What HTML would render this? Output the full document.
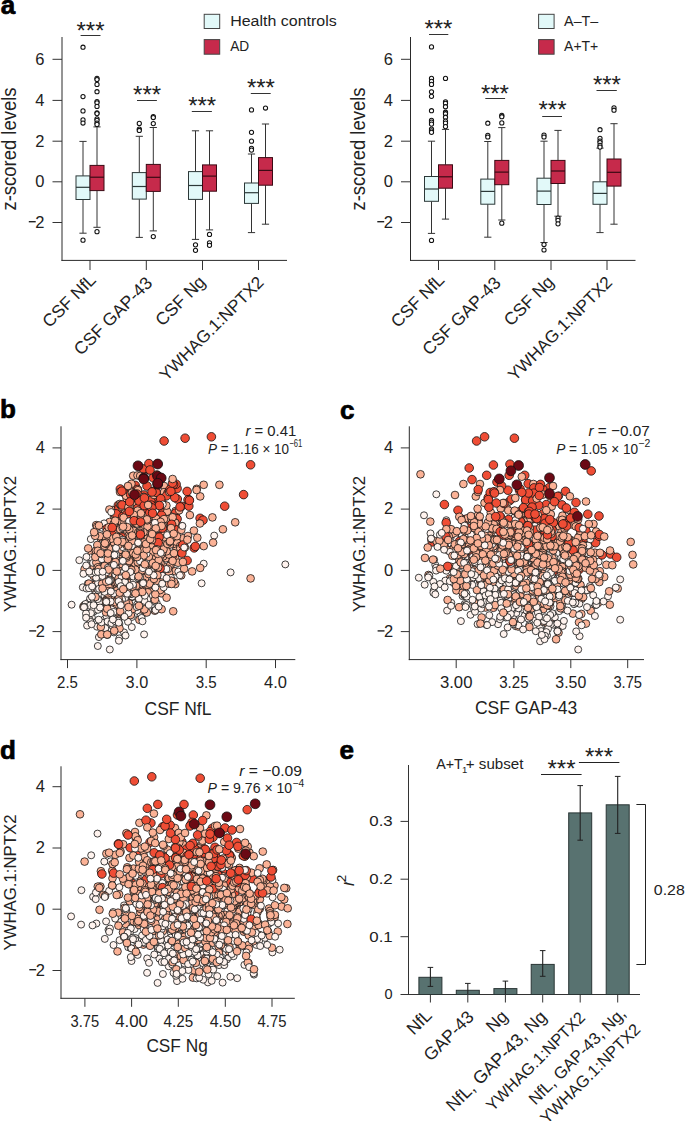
<!DOCTYPE html>
<html><head><meta charset="utf-8"><style>
html,body{margin:0;padding:0;background:#fff;}
svg{display:block;font-family:"Liberation Sans",sans-serif;}
</style></head><body>
<svg width="685" height="1121" viewBox="0 0 685 1121" fill="#222">
<rect width="685" height="1121" fill="#fff"/>
<text x="0.8" y="13.8" font-size="26" font-weight="bold" fill="#000" stroke="#000" stroke-width="0.7">a</text>
<line x1="62" y1="37" x2="62" y2="260.9" stroke="#2a2a2a" stroke-width="1"/>
<line x1="61.5" y1="260.4" x2="287" y2="260.4" stroke="#2a2a2a" stroke-width="1"/>
<line x1="52.5" y1="59.3" x2="62" y2="59.3" stroke="#333" stroke-width="1"/>
<text x="44.5" y="64.6" font-size="16.5" text-anchor="end">6</text>
<line x1="52.5" y1="100.4" x2="62" y2="100.4" stroke="#333" stroke-width="1"/>
<text x="44.5" y="105.7" font-size="16.5" text-anchor="end">4</text>
<line x1="52.5" y1="141.2" x2="62" y2="141.2" stroke="#333" stroke-width="1"/>
<text x="44.5" y="146.5" font-size="16.5" text-anchor="end">2</text>
<line x1="52.5" y1="181.8" x2="62" y2="181.8" stroke="#333" stroke-width="1"/>
<text x="44.5" y="187.1" font-size="16.5" text-anchor="end">0</text>
<line x1="52.5" y1="222.5" x2="62" y2="222.5" stroke="#333" stroke-width="1"/>
<text x="44.5" y="227.8" font-size="16.5" text-anchor="end">2</text>
<line x1="28.8" y1="221.7" x2="35.7" y2="221.7" stroke="#222" stroke-width="1.4"/>
<line x1="83" y1="141.4" x2="83" y2="175.9" stroke="#333" stroke-width="1"/>
<line x1="83" y1="199.5" x2="83" y2="233.2" stroke="#333" stroke-width="1"/>
<line x1="79.4" y1="141.4" x2="86.6" y2="141.4" stroke="#333" stroke-width="1"/>
<line x1="79.4" y1="233.2" x2="86.6" y2="233.2" stroke="#333" stroke-width="1"/>
<rect x="76" y="175.9" width="14" height="23.6" fill="#e2f9f9" stroke="#2c3838" stroke-width="1"/>
<line x1="76" y1="187.3" x2="90" y2="187.3" stroke="#2c3838" stroke-width="1.2"/>
<circle cx="83" cy="47.2" r="2.1" fill="#fff" stroke="#111" stroke-width="1.05"/>
<circle cx="83" cy="96.6" r="2.1" fill="#fff" stroke="#111" stroke-width="1.05"/>
<circle cx="83" cy="110.9" r="2.1" fill="#fff" stroke="#111" stroke-width="1.05"/>
<circle cx="83" cy="119.9" r="2.1" fill="#fff" stroke="#111" stroke-width="1.05"/>
<circle cx="83" cy="123" r="2.1" fill="#fff" stroke="#111" stroke-width="1.05"/>
<circle cx="83" cy="240.2" r="2.1" fill="#fff" stroke="#111" stroke-width="1.05"/>
<line x1="97" y1="126.9" x2="97" y2="165.4" stroke="#333" stroke-width="1"/>
<line x1="97" y1="190.6" x2="97" y2="227.3" stroke="#333" stroke-width="1"/>
<line x1="93.4" y1="126.9" x2="100.6" y2="126.9" stroke="#333" stroke-width="1"/>
<line x1="93.4" y1="227.3" x2="100.6" y2="227.3" stroke="#333" stroke-width="1"/>
<rect x="90" y="165.4" width="14" height="25.2" fill="#c62a4b" stroke="#3a0a14" stroke-width="1"/>
<line x1="90" y1="177.2" x2="104" y2="177.2" stroke="#3a0a14" stroke-width="1.2"/>
<circle cx="97" cy="78.4" r="2.1" fill="#fff" stroke="#111" stroke-width="1.05"/>
<circle cx="97" cy="79.5" r="2.1" fill="#fff" stroke="#111" stroke-width="1.05"/>
<circle cx="97" cy="84.4" r="2.1" fill="#fff" stroke="#111" stroke-width="1.05"/>
<circle cx="97" cy="91.7" r="2.1" fill="#fff" stroke="#111" stroke-width="1.05"/>
<circle cx="97" cy="101.5" r="2.1" fill="#fff" stroke="#111" stroke-width="1.05"/>
<circle cx="97" cy="102.8" r="2.1" fill="#fff" stroke="#111" stroke-width="1.05"/>
<circle cx="97" cy="106.4" r="2.1" fill="#fff" stroke="#111" stroke-width="1.05"/>
<circle cx="97" cy="112.8" r="2.1" fill="#fff" stroke="#111" stroke-width="1.05"/>
<circle cx="97" cy="113.6" r="2.1" fill="#fff" stroke="#111" stroke-width="1.05"/>
<circle cx="97" cy="118.9" r="2.1" fill="#fff" stroke="#111" stroke-width="1.05"/>
<circle cx="97" cy="120.3" r="2.1" fill="#fff" stroke="#111" stroke-width="1.05"/>
<circle cx="97" cy="123" r="2.1" fill="#fff" stroke="#111" stroke-width="1.05"/>
<circle cx="97" cy="124.4" r="2.1" fill="#fff" stroke="#111" stroke-width="1.05"/>
<circle cx="97" cy="231.7" r="2.1" fill="#fff" stroke="#111" stroke-width="1.05"/>
<text x="90.5" y="38.5" font-size="24" text-anchor="middle">***</text>
<line x1="80.6" y1="35.5" x2="100.5" y2="35.5" stroke="#333" stroke-width="1"/>
<line x1="139.3" y1="136.3" x2="139.3" y2="172.6" stroke="#333" stroke-width="1"/>
<line x1="139.3" y1="199.1" x2="139.3" y2="237.4" stroke="#333" stroke-width="1"/>
<line x1="135.7" y1="136.3" x2="142.9" y2="136.3" stroke="#333" stroke-width="1"/>
<line x1="135.7" y1="237.4" x2="142.9" y2="237.4" stroke="#333" stroke-width="1"/>
<rect x="132.3" y="172.6" width="14" height="26.5" fill="#e2f9f9" stroke="#2c3838" stroke-width="1"/>
<line x1="132.3" y1="186.5" x2="146.3" y2="186.5" stroke="#2c3838" stroke-width="1.2"/>
<circle cx="139.3" cy="123.4" r="2.1" fill="#fff" stroke="#111" stroke-width="1.05"/>
<circle cx="139.3" cy="129.1" r="2.1" fill="#fff" stroke="#111" stroke-width="1.05"/>
<circle cx="139.3" cy="130.5" r="2.1" fill="#fff" stroke="#111" stroke-width="1.05"/>
<line x1="153.3" y1="127.5" x2="153.3" y2="164.4" stroke="#333" stroke-width="1"/>
<line x1="153.3" y1="191.4" x2="153.3" y2="230.9" stroke="#333" stroke-width="1"/>
<line x1="149.7" y1="127.5" x2="156.9" y2="127.5" stroke="#333" stroke-width="1"/>
<line x1="149.7" y1="230.9" x2="156.9" y2="230.9" stroke="#333" stroke-width="1"/>
<rect x="146.3" y="164.4" width="14" height="27" fill="#c62a4b" stroke="#3a0a14" stroke-width="1"/>
<line x1="146.3" y1="177.3" x2="160.3" y2="177.3" stroke="#3a0a14" stroke-width="1.2"/>
<circle cx="153.3" cy="116.5" r="2.1" fill="#fff" stroke="#111" stroke-width="1.05"/>
<circle cx="153.3" cy="117.5" r="2.1" fill="#fff" stroke="#111" stroke-width="1.05"/>
<circle cx="153.3" cy="123.6" r="2.1" fill="#fff" stroke="#111" stroke-width="1.05"/>
<circle cx="153.3" cy="236.6" r="2.1" fill="#fff" stroke="#111" stroke-width="1.05"/>
<text x="147.1" y="102.9" font-size="24" text-anchor="middle">***</text>
<line x1="137" y1="100.5" x2="156.9" y2="100.5" stroke="#333" stroke-width="1"/>
<line x1="195.5" y1="130.8" x2="195.5" y2="171.6" stroke="#333" stroke-width="1"/>
<line x1="195.5" y1="199.4" x2="195.5" y2="239.4" stroke="#333" stroke-width="1"/>
<line x1="191.9" y1="130.8" x2="199.1" y2="130.8" stroke="#333" stroke-width="1"/>
<line x1="191.9" y1="239.4" x2="199.1" y2="239.4" stroke="#333" stroke-width="1"/>
<rect x="188.5" y="171.6" width="14" height="27.8" fill="#e2f9f9" stroke="#2c3838" stroke-width="1"/>
<line x1="188.5" y1="185.5" x2="202.5" y2="185.5" stroke="#2c3838" stroke-width="1.2"/>
<circle cx="195.5" cy="244.8" r="2.1" fill="#fff" stroke="#111" stroke-width="1.05"/>
<circle cx="195.5" cy="250.3" r="2.1" fill="#fff" stroke="#111" stroke-width="1.05"/>
<line x1="209.5" y1="130.8" x2="209.5" y2="164.9" stroke="#333" stroke-width="1"/>
<line x1="209.5" y1="191.2" x2="209.5" y2="229.9" stroke="#333" stroke-width="1"/>
<line x1="205.9" y1="130.8" x2="213.1" y2="130.8" stroke="#333" stroke-width="1"/>
<line x1="205.9" y1="229.9" x2="213.1" y2="229.9" stroke="#333" stroke-width="1"/>
<rect x="202.5" y="164.9" width="14" height="26.3" fill="#c62a4b" stroke="#3a0a14" stroke-width="1"/>
<line x1="202.5" y1="176.1" x2="216.5" y2="176.1" stroke="#3a0a14" stroke-width="1.2"/>
<circle cx="209.5" cy="234.4" r="2.1" fill="#fff" stroke="#111" stroke-width="1.05"/>
<circle cx="209.5" cy="242.8" r="2.1" fill="#fff" stroke="#111" stroke-width="1.05"/>
<circle cx="209.5" cy="245.3" r="2.1" fill="#fff" stroke="#111" stroke-width="1.05"/>
<text x="202.2" y="113.7" font-size="24" text-anchor="middle">***</text>
<line x1="191.8" y1="111.5" x2="211.9" y2="111.5" stroke="#333" stroke-width="1"/>
<line x1="251.5" y1="154" x2="251.5" y2="183" stroke="#333" stroke-width="1"/>
<line x1="251.5" y1="203.4" x2="251.5" y2="232.6" stroke="#333" stroke-width="1"/>
<line x1="247.9" y1="154" x2="255.1" y2="154" stroke="#333" stroke-width="1"/>
<line x1="247.9" y1="232.6" x2="255.1" y2="232.6" stroke="#333" stroke-width="1"/>
<rect x="244.5" y="183" width="14" height="20.4" fill="#e2f9f9" stroke="#2c3838" stroke-width="1"/>
<line x1="244.5" y1="192.7" x2="258.5" y2="192.7" stroke="#2c3838" stroke-width="1.2"/>
<circle cx="251.5" cy="109.9" r="2.1" fill="#fff" stroke="#111" stroke-width="1.05"/>
<circle cx="251.5" cy="132.3" r="2.1" fill="#fff" stroke="#111" stroke-width="1.05"/>
<circle cx="251.5" cy="141.2" r="2.1" fill="#fff" stroke="#111" stroke-width="1.05"/>
<circle cx="251.5" cy="148.3" r="2.1" fill="#fff" stroke="#111" stroke-width="1.05"/>
<circle cx="251.5" cy="150.1" r="2.1" fill="#fff" stroke="#111" stroke-width="1.05"/>
<line x1="265.5" y1="124" x2="265.5" y2="157.6" stroke="#333" stroke-width="1"/>
<line x1="265.5" y1="185.2" x2="265.5" y2="224.2" stroke="#333" stroke-width="1"/>
<line x1="261.9" y1="124" x2="269.1" y2="124" stroke="#333" stroke-width="1"/>
<line x1="261.9" y1="224.2" x2="269.1" y2="224.2" stroke="#333" stroke-width="1"/>
<rect x="258.5" y="157.6" width="14" height="27.6" fill="#c62a4b" stroke="#3a0a14" stroke-width="1"/>
<line x1="258.5" y1="170.4" x2="272.5" y2="170.4" stroke="#3a0a14" stroke-width="1.2"/>
<circle cx="265.5" cy="108" r="2.1" fill="#fff" stroke="#111" stroke-width="1.05"/>
<text x="260.9" y="95.7" font-size="24" text-anchor="middle">***</text>
<line x1="250.8" y1="93.5" x2="270.7" y2="93.5" stroke="#333" stroke-width="1"/>
<line x1="90" y1="260" x2="90" y2="270" stroke="#333" stroke-width="1"/>
<line x1="146.3" y1="260" x2="146.3" y2="270" stroke="#333" stroke-width="1"/>
<line x1="202.5" y1="260" x2="202.5" y2="270" stroke="#333" stroke-width="1"/>
<line x1="258.5" y1="260" x2="258.5" y2="270" stroke="#333" stroke-width="1"/>
<text id="al00" x="97" y="281" font-size="17.5" text-anchor="end" transform="rotate(-45 97 281)">CSF NfL</text>
<text id="al01" x="153.3" y="284" font-size="17.5" text-anchor="end" transform="rotate(-45 153.3 284)">CSF GAP-43</text>
<text id="al02" x="206.5" y="283" font-size="17.5" text-anchor="end" transform="rotate(-45 206.5 283)">CSF Ng</text>
<text id="al03" x="264.8" y="283.4" font-size="17.15" text-anchor="end" transform="rotate(-45 264.8 283.4)">YWHAG.1:NPTX2</text>
<text id="zl0" x="16" y="149" font-size="19.5" text-anchor="middle" transform="rotate(-90 16 149)" textLength="123" lengthAdjust="spacingAndGlyphs">z-scored levels</text>
<line x1="410.5" y1="37" x2="410.5" y2="260.9" stroke="#2a2a2a" stroke-width="1"/>
<line x1="410" y1="260.4" x2="635.5" y2="260.4" stroke="#2a2a2a" stroke-width="1"/>
<line x1="401" y1="59.3" x2="410.5" y2="59.3" stroke="#333" stroke-width="1"/>
<text x="393" y="64.6" font-size="16.5" text-anchor="end">6</text>
<line x1="401" y1="100.4" x2="410.5" y2="100.4" stroke="#333" stroke-width="1"/>
<text x="393" y="105.7" font-size="16.5" text-anchor="end">4</text>
<line x1="401" y1="141.2" x2="410.5" y2="141.2" stroke="#333" stroke-width="1"/>
<text x="393" y="146.5" font-size="16.5" text-anchor="end">2</text>
<line x1="401" y1="181.8" x2="410.5" y2="181.8" stroke="#333" stroke-width="1"/>
<text x="393" y="187.1" font-size="16.5" text-anchor="end">0</text>
<line x1="401" y1="222.5" x2="410.5" y2="222.5" stroke="#333" stroke-width="1"/>
<text x="393" y="227.8" font-size="16.5" text-anchor="end">2</text>
<line x1="377.3" y1="221.7" x2="384.2" y2="221.7" stroke="#222" stroke-width="1.4"/>
<line x1="431.5" y1="141.2" x2="431.5" y2="176.5" stroke="#333" stroke-width="1"/>
<line x1="431.5" y1="201.3" x2="431.5" y2="233.4" stroke="#333" stroke-width="1"/>
<line x1="427.9" y1="141.2" x2="435.1" y2="141.2" stroke="#333" stroke-width="1"/>
<line x1="427.9" y1="233.4" x2="435.1" y2="233.4" stroke="#333" stroke-width="1"/>
<rect x="424.5" y="176.5" width="14" height="24.8" fill="#e2f9f9" stroke="#2c3838" stroke-width="1"/>
<line x1="424.5" y1="189" x2="438.5" y2="189" stroke="#2c3838" stroke-width="1.2"/>
<circle cx="431.5" cy="46.9" r="2.1" fill="#fff" stroke="#111" stroke-width="1.05"/>
<circle cx="431.5" cy="78.4" r="2.1" fill="#fff" stroke="#111" stroke-width="1.05"/>
<circle cx="431.5" cy="81.4" r="2.1" fill="#fff" stroke="#111" stroke-width="1.05"/>
<circle cx="431.5" cy="84.4" r="2.1" fill="#fff" stroke="#111" stroke-width="1.05"/>
<circle cx="431.5" cy="91.8" r="2.1" fill="#fff" stroke="#111" stroke-width="1.05"/>
<circle cx="431.5" cy="96.3" r="2.1" fill="#fff" stroke="#111" stroke-width="1.05"/>
<circle cx="431.5" cy="110.7" r="2.1" fill="#fff" stroke="#111" stroke-width="1.05"/>
<circle cx="431.5" cy="120.4" r="2.1" fill="#fff" stroke="#111" stroke-width="1.05"/>
<circle cx="431.5" cy="122.1" r="2.1" fill="#fff" stroke="#111" stroke-width="1.05"/>
<circle cx="431.5" cy="124.1" r="2.1" fill="#fff" stroke="#111" stroke-width="1.05"/>
<circle cx="431.5" cy="129.1" r="2.1" fill="#fff" stroke="#111" stroke-width="1.05"/>
<circle cx="431.5" cy="130.8" r="2.1" fill="#fff" stroke="#111" stroke-width="1.05"/>
<circle cx="431.5" cy="132.3" r="2.1" fill="#fff" stroke="#111" stroke-width="1.05"/>
<circle cx="431.5" cy="240.4" r="2.1" fill="#fff" stroke="#111" stroke-width="1.05"/>
<line x1="445.5" y1="129.4" x2="445.5" y2="164.8" stroke="#333" stroke-width="1"/>
<line x1="445.5" y1="188.2" x2="445.5" y2="219.1" stroke="#333" stroke-width="1"/>
<line x1="441.9" y1="129.4" x2="449.1" y2="129.4" stroke="#333" stroke-width="1"/>
<line x1="441.9" y1="219.1" x2="449.1" y2="219.1" stroke="#333" stroke-width="1"/>
<rect x="438.5" y="164.8" width="14" height="23.4" fill="#c62a4b" stroke="#3a0a14" stroke-width="1"/>
<line x1="438.5" y1="176.8" x2="452.5" y2="176.8" stroke="#3a0a14" stroke-width="1.2"/>
<circle cx="445.5" cy="78.4" r="2.1" fill="#fff" stroke="#111" stroke-width="1.05"/>
<circle cx="445.5" cy="101.8" r="2.1" fill="#fff" stroke="#111" stroke-width="1.05"/>
<circle cx="445.5" cy="103.3" r="2.1" fill="#fff" stroke="#111" stroke-width="1.05"/>
<circle cx="445.5" cy="106.7" r="2.1" fill="#fff" stroke="#111" stroke-width="1.05"/>
<circle cx="445.5" cy="112.2" r="2.1" fill="#fff" stroke="#111" stroke-width="1.05"/>
<circle cx="445.5" cy="113.7" r="2.1" fill="#fff" stroke="#111" stroke-width="1.05"/>
<circle cx="445.5" cy="117.2" r="2.1" fill="#fff" stroke="#111" stroke-width="1.05"/>
<circle cx="445.5" cy="121.1" r="2.1" fill="#fff" stroke="#111" stroke-width="1.05"/>
<circle cx="445.5" cy="123.1" r="2.1" fill="#fff" stroke="#111" stroke-width="1.05"/>
<circle cx="445.5" cy="126.6" r="2.1" fill="#fff" stroke="#111" stroke-width="1.05"/>
<text x="438.4" y="37.1" font-size="24" text-anchor="middle">***</text>
<line x1="429" y1="34.5" x2="448.3" y2="34.5" stroke="#333" stroke-width="1"/>
<line x1="487.8" y1="141.5" x2="487.8" y2="179.1" stroke="#333" stroke-width="1"/>
<line x1="487.8" y1="204.2" x2="487.8" y2="237.2" stroke="#333" stroke-width="1"/>
<line x1="484.2" y1="141.5" x2="491.4" y2="141.5" stroke="#333" stroke-width="1"/>
<line x1="484.2" y1="237.2" x2="491.4" y2="237.2" stroke="#333" stroke-width="1"/>
<rect x="480.8" y="179.1" width="14" height="25.1" fill="#e2f9f9" stroke="#2c3838" stroke-width="1"/>
<line x1="480.8" y1="191.4" x2="494.8" y2="191.4" stroke="#2c3838" stroke-width="1.2"/>
<circle cx="487.8" cy="123.2" r="2.1" fill="#fff" stroke="#111" stroke-width="1.05"/>
<circle cx="487.8" cy="135.3" r="2.1" fill="#fff" stroke="#111" stroke-width="1.05"/>
<circle cx="487.8" cy="137" r="2.1" fill="#fff" stroke="#111" stroke-width="1.05"/>
<line x1="501.8" y1="127.6" x2="501.8" y2="160.4" stroke="#333" stroke-width="1"/>
<line x1="501.8" y1="184.7" x2="501.8" y2="220" stroke="#333" stroke-width="1"/>
<line x1="498.2" y1="127.6" x2="505.4" y2="127.6" stroke="#333" stroke-width="1"/>
<line x1="498.2" y1="220" x2="505.4" y2="220" stroke="#333" stroke-width="1"/>
<rect x="494.8" y="160.4" width="14" height="24.3" fill="#c62a4b" stroke="#3a0a14" stroke-width="1"/>
<line x1="494.8" y1="172.1" x2="508.8" y2="172.1" stroke="#3a0a14" stroke-width="1.2"/>
<circle cx="501.8" cy="115.4" r="2.1" fill="#fff" stroke="#111" stroke-width="1.05"/>
<circle cx="501.8" cy="116.7" r="2.1" fill="#fff" stroke="#111" stroke-width="1.05"/>
<circle cx="501.8" cy="122.9" r="2.1" fill="#fff" stroke="#111" stroke-width="1.05"/>
<circle cx="501.8" cy="223.2" r="2.1" fill="#fff" stroke="#111" stroke-width="1.05"/>
<text x="494.9" y="102.3" font-size="24" text-anchor="middle">***</text>
<line x1="485.3" y1="98.5" x2="505.1" y2="98.5" stroke="#333" stroke-width="1"/>
<line x1="544" y1="141.2" x2="544" y2="178.2" stroke="#333" stroke-width="1"/>
<line x1="544" y1="204.5" x2="544" y2="242.5" stroke="#333" stroke-width="1"/>
<line x1="540.4" y1="141.2" x2="547.6" y2="141.2" stroke="#333" stroke-width="1"/>
<line x1="540.4" y1="242.5" x2="547.6" y2="242.5" stroke="#333" stroke-width="1"/>
<rect x="537" y="178.2" width="14" height="26.3" fill="#e2f9f9" stroke="#2c3838" stroke-width="1"/>
<line x1="537" y1="191.1" x2="551" y2="191.1" stroke="#2c3838" stroke-width="1.2"/>
<circle cx="544" cy="135" r="2.1" fill="#fff" stroke="#111" stroke-width="1.05"/>
<circle cx="544" cy="137" r="2.1" fill="#fff" stroke="#111" stroke-width="1.05"/>
<circle cx="544" cy="244.5" r="2.1" fill="#fff" stroke="#111" stroke-width="1.05"/>
<circle cx="544" cy="250" r="2.1" fill="#fff" stroke="#111" stroke-width="1.05"/>
<line x1="558" y1="130.4" x2="558" y2="160.4" stroke="#333" stroke-width="1"/>
<line x1="558" y1="183.5" x2="558" y2="216.2" stroke="#333" stroke-width="1"/>
<line x1="554.4" y1="130.4" x2="561.6" y2="130.4" stroke="#333" stroke-width="1"/>
<line x1="554.4" y1="216.2" x2="561.6" y2="216.2" stroke="#333" stroke-width="1"/>
<rect x="551" y="160.4" width="14" height="23.1" fill="#c62a4b" stroke="#3a0a14" stroke-width="1"/>
<line x1="551" y1="171" x2="565" y2="171" stroke="#3a0a14" stroke-width="1.2"/>
<circle cx="558" cy="218" r="2.1" fill="#fff" stroke="#111" stroke-width="1.05"/>
<circle cx="558" cy="220.3" r="2.1" fill="#fff" stroke="#111" stroke-width="1.05"/>
<circle cx="558" cy="223.8" r="2.1" fill="#fff" stroke="#111" stroke-width="1.05"/>
<text x="552.5" y="118.2" font-size="24" text-anchor="middle">***</text>
<line x1="542.2" y1="116.5" x2="562" y2="116.5" stroke="#333" stroke-width="1"/>
<line x1="600" y1="148.1" x2="600" y2="181.8" stroke="#333" stroke-width="1"/>
<line x1="600" y1="204.3" x2="600" y2="232.6" stroke="#333" stroke-width="1"/>
<line x1="596.4" y1="148.1" x2="603.6" y2="148.1" stroke="#333" stroke-width="1"/>
<line x1="596.4" y1="232.6" x2="603.6" y2="232.6" stroke="#333" stroke-width="1"/>
<rect x="593" y="181.8" width="14" height="22.5" fill="#e2f9f9" stroke="#2c3838" stroke-width="1"/>
<line x1="593" y1="193.4" x2="607" y2="193.4" stroke="#2c3838" stroke-width="1.2"/>
<circle cx="600" cy="129.7" r="2.1" fill="#fff" stroke="#111" stroke-width="1.05"/>
<circle cx="600" cy="138.3" r="2.1" fill="#fff" stroke="#111" stroke-width="1.05"/>
<circle cx="600" cy="141" r="2.1" fill="#fff" stroke="#111" stroke-width="1.05"/>
<circle cx="600" cy="142.5" r="2.1" fill="#fff" stroke="#111" stroke-width="1.05"/>
<circle cx="600" cy="145.3" r="2.1" fill="#fff" stroke="#111" stroke-width="1.05"/>
<circle cx="600" cy="147.1" r="2.1" fill="#fff" stroke="#111" stroke-width="1.05"/>
<line x1="614" y1="123.7" x2="614" y2="159" stroke="#333" stroke-width="1"/>
<line x1="614" y1="186.1" x2="614" y2="224.2" stroke="#333" stroke-width="1"/>
<line x1="610.4" y1="123.7" x2="617.6" y2="123.7" stroke="#333" stroke-width="1"/>
<line x1="610.4" y1="224.2" x2="617.6" y2="224.2" stroke="#333" stroke-width="1"/>
<rect x="607" y="159" width="14" height="27.1" fill="#c62a4b" stroke="#3a0a14" stroke-width="1"/>
<line x1="607" y1="172.3" x2="621" y2="172.3" stroke="#3a0a14" stroke-width="1.2"/>
<circle cx="614" cy="107.8" r="2.1" fill="#fff" stroke="#111" stroke-width="1.05"/>
<circle cx="614" cy="110.2" r="2.1" fill="#fff" stroke="#111" stroke-width="1.05"/>
<text x="606.9" y="93.2" font-size="24" text-anchor="middle">***</text>
<line x1="596.5" y1="90.5" x2="616.8" y2="90.5" stroke="#333" stroke-width="1"/>
<line x1="438.5" y1="260" x2="438.5" y2="270" stroke="#333" stroke-width="1"/>
<line x1="494.8" y1="260" x2="494.8" y2="270" stroke="#333" stroke-width="1"/>
<line x1="551" y1="260" x2="551" y2="270" stroke="#333" stroke-width="1"/>
<line x1="607" y1="260" x2="607" y2="270" stroke="#333" stroke-width="1"/>
<text id="al10" x="445.5" y="281" font-size="17.5" text-anchor="end" transform="rotate(-45 445.5 281)">CSF NfL</text>
<text id="al11" x="501.8" y="284" font-size="17.5" text-anchor="end" transform="rotate(-45 501.8 284)">CSF GAP-43</text>
<text id="al12" x="555" y="283" font-size="17.5" text-anchor="end" transform="rotate(-45 555 283)">CSF Ng</text>
<text id="al13" x="613.3" y="283.4" font-size="17.15" text-anchor="end" transform="rotate(-45 613.3 283.4)">YWHAG.1:NPTX2</text>
<text id="zl1" x="364.5" y="149" font-size="19.5" text-anchor="middle" transform="rotate(-90 364.5 149)" textLength="123" lengthAdjust="spacingAndGlyphs">z-scored levels</text>
<rect x="204.2" y="14.3" width="15.5" height="14.2" fill="#e2f9f9" stroke="#444" stroke-width="1"/>
<rect x="204.2" y="39.6" width="15.5" height="14.6" fill="#c62a4b" stroke="#444" stroke-width="1"/>
<text id="lgHe" x="230.2" y="26" font-size="15.2" textLength="106.5" lengthAdjust="spacingAndGlyphs">Health controls</text>
<text id="lgAD2" x="230.2" y="51.1" font-size="15.2" textLength="19" lengthAdjust="spacingAndGlyphs">AD</text>
<rect x="538.6" y="14.3" width="15.5" height="14.2" fill="#e2f9f9" stroke="#444" stroke-width="1"/>
<rect x="538.6" y="39.6" width="15.5" height="14.6" fill="#c62a4b" stroke="#444" stroke-width="1"/>
<text id="lgA&" x="564.1" y="26" font-size="15.2" textLength="34.2" lengthAdjust="spacingAndGlyphs">A&#8211;T&#8211;</text>
<text id="lgA+2" x="564.1" y="51.1" font-size="15.2" textLength="34.2" lengthAdjust="spacingAndGlyphs">A+T+</text>
<g stroke="#111" stroke-width="0.8">
<circle cx="152" cy="548" r="3.85" fill="#fbb296"/>
<circle cx="106.7" cy="548.4" r="3.5" fill="#fff3ee"/>
<circle cx="149" cy="530" r="3.5" fill="#fff3ee"/>
<circle cx="137" cy="576.3" r="3.85" fill="#fbb296"/>
<circle cx="139.6" cy="547.3" r="3.5" fill="#fff3ee"/>
<circle cx="142" cy="558.2" r="3.5" fill="#fff3ee"/>
<circle cx="119.2" cy="582.8" r="3.5" fill="#fff3ee"/>
<circle cx="137.9" cy="574.6" r="3.5" fill="#fff3ee"/>
<circle cx="123.7" cy="557.8" r="3.85" fill="#fbb296"/>
<circle cx="117" cy="584.2" r="3.5" fill="#fff3ee"/>
<circle cx="123.7" cy="558.8" r="3.85" fill="#fbb296"/>
<circle cx="167.6" cy="517.5" r="3.85" fill="#fbb296"/>
<circle cx="119.1" cy="564.7" r="3.85" fill="#fbb296"/>
<circle cx="136.4" cy="552.2" r="3.5" fill="#fff3ee"/>
<circle cx="126.1" cy="491" r="3.85" fill="#fbb296"/>
<circle cx="175.2" cy="571.2" r="3.85" fill="#fbb296"/>
<circle cx="151.4" cy="538.3" r="3.85" fill="#fbb296"/>
<circle cx="94.6" cy="575.6" r="3.5" fill="#fff3ee"/>
<circle cx="133.5" cy="553.7" r="3.85" fill="#fbb296"/>
<circle cx="105.3" cy="598.5" r="3.5" fill="#fff3ee"/>
<circle cx="110" cy="561.4" r="3.85" fill="#fbb296"/>
<circle cx="130.6" cy="562.2" r="3.85" fill="#fbb296"/>
<circle cx="119.3" cy="557.9" r="3.85" fill="#fbb296"/>
<circle cx="156.5" cy="540" r="3.85" fill="#fbb296"/>
<circle cx="115.7" cy="548.8" r="3.85" fill="#fbb296"/>
<circle cx="125.8" cy="535.5" r="3.85" fill="#fbb296"/>
<circle cx="115.6" cy="530.8" r="3.5" fill="#fff3ee"/>
<circle cx="138.1" cy="529.7" r="4.3" fill="#ef4d35"/>
<circle cx="111.9" cy="599.2" r="3.5" fill="#fff3ee"/>
<circle cx="136" cy="557.3" r="3.85" fill="#fbb296"/>
<circle cx="99.9" cy="590.7" r="3.5" fill="#fff3ee"/>
<circle cx="181.4" cy="506.3" r="4.3" fill="#ef4d35"/>
<circle cx="121.6" cy="552.7" r="4.3" fill="#ef4d35"/>
<circle cx="149.2" cy="551.5" r="3.85" fill="#fbb296"/>
<circle cx="119.4" cy="612.1" r="3.5" fill="#fff3ee"/>
<circle cx="135" cy="519.7" r="4.3" fill="#ef4d35"/>
<circle cx="138" cy="585.1" r="3.5" fill="#fff3ee"/>
<circle cx="152.8" cy="550.9" r="3.85" fill="#fbb296"/>
<circle cx="98.5" cy="570.2" r="3.85" fill="#fbb296"/>
<circle cx="119.2" cy="562.6" r="3.85" fill="#fbb296"/>
<circle cx="141.6" cy="534.1" r="3.85" fill="#fbb296"/>
<circle cx="93.8" cy="611.5" r="3.5" fill="#fff3ee"/>
<circle cx="154.4" cy="530.6" r="3.85" fill="#fbb296"/>
<circle cx="123.4" cy="579.7" r="3.85" fill="#fbb296"/>
<circle cx="144.5" cy="544.7" r="3.85" fill="#fbb296"/>
<circle cx="144.1" cy="530.9" r="3.85" fill="#fbb296"/>
<circle cx="123.1" cy="562.1" r="3.85" fill="#fbb296"/>
<circle cx="96.2" cy="525.1" r="3.85" fill="#fbb296"/>
<circle cx="128.8" cy="563.5" r="3.5" fill="#fff3ee"/>
<circle cx="123" cy="604.9" r="3.5" fill="#fff3ee"/>
<circle cx="142.2" cy="580" r="3.85" fill="#fbb296"/>
<circle cx="143.2" cy="563.1" r="3.85" fill="#fbb296"/>
<circle cx="150.8" cy="519.9" r="3.85" fill="#fbb296"/>
<circle cx="94.2" cy="587.2" r="3.5" fill="#fff3ee"/>
<circle cx="144.7" cy="502.7" r="4.3" fill="#ef4d35"/>
<circle cx="126" cy="581.2" r="3.85" fill="#fbb296"/>
<circle cx="146.9" cy="565.2" r="3.5" fill="#fff3ee"/>
<circle cx="130.1" cy="558" r="3.85" fill="#fbb296"/>
<circle cx="132.7" cy="582" r="3.85" fill="#fbb296"/>
<circle cx="133.9" cy="592.3" r="3.5" fill="#fff3ee"/>
<circle cx="112.5" cy="510.1" r="3.85" fill="#fbb296"/>
<circle cx="119.3" cy="638.4" r="3.5" fill="#fff3ee"/>
<circle cx="117.6" cy="540.1" r="3.5" fill="#fff3ee"/>
<circle cx="117.6" cy="575.3" r="3.5" fill="#fff3ee"/>
<circle cx="125.9" cy="542" r="3.85" fill="#fbb296"/>
<circle cx="128.4" cy="550.1" r="3.85" fill="#fbb296"/>
<circle cx="115.2" cy="586.2" r="3.5" fill="#fff3ee"/>
<circle cx="120.7" cy="589.6" r="3.5" fill="#fff3ee"/>
<circle cx="99.1" cy="595.2" r="3.5" fill="#fff3ee"/>
<circle cx="143" cy="512.2" r="3.85" fill="#fbb296"/>
<circle cx="140.3" cy="560.8" r="3.85" fill="#fbb296"/>
<circle cx="120.8" cy="572.6" r="3.85" fill="#fbb296"/>
<circle cx="140" cy="545.4" r="3.85" fill="#fbb296"/>
<circle cx="201.6" cy="583.3" r="3.5" fill="#fff3ee"/>
<circle cx="136.3" cy="596.3" r="3.5" fill="#fff3ee"/>
<circle cx="103.8" cy="578.1" r="3.85" fill="#fbb296"/>
<circle cx="113.4" cy="588" r="3.85" fill="#fbb296"/>
<circle cx="120.2" cy="506.7" r="3.85" fill="#fbb296"/>
<circle cx="91.7" cy="553.9" r="3.85" fill="#fbb296"/>
<circle cx="150.1" cy="559.1" r="3.85" fill="#fbb296"/>
<circle cx="114.5" cy="566.7" r="3.85" fill="#fbb296"/>
<circle cx="147.8" cy="551.6" r="3.5" fill="#fff3ee"/>
<circle cx="186.4" cy="537.7" r="3.85" fill="#fbb296"/>
<circle cx="119.1" cy="552.3" r="3.85" fill="#fbb296"/>
<circle cx="126.7" cy="563.1" r="3.5" fill="#fff3ee"/>
<circle cx="129.9" cy="555.6" r="3.85" fill="#fbb296"/>
<circle cx="99.2" cy="553.5" r="3.85" fill="#fbb296"/>
<circle cx="125.2" cy="532.4" r="3.85" fill="#fbb296"/>
<circle cx="131.9" cy="596.8" r="3.85" fill="#fbb296"/>
<circle cx="154.6" cy="516.7" r="3.85" fill="#fbb296"/>
<circle cx="112.1" cy="553.9" r="3.85" fill="#fbb296"/>
<circle cx="123.9" cy="584.1" r="3.5" fill="#fff3ee"/>
<circle cx="118.5" cy="609.1" r="3.5" fill="#fff3ee"/>
<circle cx="153" cy="573.8" r="3.85" fill="#fbb296"/>
<circle cx="137.9" cy="611.1" r="3.5" fill="#fff3ee"/>
<circle cx="143.5" cy="553.7" r="3.85" fill="#fbb296"/>
<circle cx="161.3" cy="593.3" r="3.85" fill="#fbb296"/>
<circle cx="126.1" cy="494.1" r="4.3" fill="#ef4d35"/>
<circle cx="119" cy="547.1" r="3.5" fill="#fff3ee"/>
<circle cx="104.6" cy="559.8" r="3.5" fill="#fff3ee"/>
<circle cx="126.7" cy="499" r="3.85" fill="#fbb296"/>
<circle cx="137.6" cy="568.6" r="3.85" fill="#fbb296"/>
<circle cx="285.3" cy="564.4" r="3.5" fill="#fff3ee"/>
<circle cx="203.7" cy="563.7" r="3.5" fill="#fff3ee"/>
<circle cx="118.5" cy="579.9" r="3.5" fill="#fff3ee"/>
<circle cx="121.4" cy="577.2" r="3.5" fill="#fff3ee"/>
<circle cx="110.2" cy="596.7" r="3.5" fill="#fff3ee"/>
<circle cx="120.6" cy="565.7" r="3.5" fill="#fff3ee"/>
<circle cx="123.8" cy="557.2" r="3.85" fill="#fbb296"/>
<circle cx="129.8" cy="534.8" r="4.3" fill="#ef4d35"/>
<circle cx="114.7" cy="563.5" r="3.85" fill="#fbb296"/>
<circle cx="100.7" cy="576" r="3.85" fill="#fbb296"/>
<circle cx="111.2" cy="542.4" r="3.5" fill="#fff3ee"/>
<circle cx="130" cy="583.1" r="3.5" fill="#fff3ee"/>
<circle cx="124.8" cy="546.1" r="3.85" fill="#fbb296"/>
<circle cx="119.4" cy="624" r="3.5" fill="#fff3ee"/>
<circle cx="104.2" cy="550.7" r="3.85" fill="#fbb296"/>
<circle cx="200.2" cy="567.9" r="3.85" fill="#fbb296"/>
<circle cx="122" cy="534.3" r="4.3" fill="#ef4d35"/>
<circle cx="120.9" cy="595.3" r="3.5" fill="#fff3ee"/>
<circle cx="132.1" cy="564.8" r="3.85" fill="#fbb296"/>
<circle cx="154.8" cy="610.7" r="3.85" fill="#fbb296"/>
<circle cx="95.7" cy="578.4" r="3.5" fill="#fff3ee"/>
<circle cx="127.8" cy="539.2" r="3.85" fill="#fbb296"/>
<circle cx="125.4" cy="548.6" r="3.85" fill="#fbb296"/>
<circle cx="134.2" cy="561" r="3.85" fill="#fbb296"/>
<circle cx="137" cy="583.1" r="3.85" fill="#fbb296"/>
<circle cx="108.1" cy="574.2" r="3.85" fill="#fbb296"/>
<circle cx="140.1" cy="556.6" r="3.85" fill="#fbb296"/>
<circle cx="110.2" cy="566.4" r="3.5" fill="#fff3ee"/>
<circle cx="101.1" cy="539.1" r="3.85" fill="#fbb296"/>
<circle cx="120.6" cy="592.2" r="3.85" fill="#fbb296"/>
<circle cx="117.4" cy="602.8" r="3.5" fill="#fff3ee"/>
<circle cx="149.5" cy="560.8" r="3.85" fill="#fbb296"/>
<circle cx="108.9" cy="588.5" r="3.5" fill="#fff3ee"/>
<circle cx="88.2" cy="548.4" r="3.85" fill="#fbb296"/>
<circle cx="137.1" cy="531.4" r="3.85" fill="#fbb296"/>
<circle cx="125.8" cy="616.3" r="3.5" fill="#fff3ee"/>
<circle cx="128.1" cy="531.6" r="3.85" fill="#fbb296"/>
<circle cx="137.4" cy="568.1" r="3.85" fill="#fbb296"/>
<circle cx="130.1" cy="588.3" r="3.5" fill="#fff3ee"/>
<circle cx="117.4" cy="552.7" r="3.85" fill="#fbb296"/>
<circle cx="112.3" cy="603.8" r="3.85" fill="#fbb296"/>
<circle cx="148.9" cy="469.7" r="4.3" fill="#ef4d35"/>
<circle cx="143.1" cy="587.2" r="3.5" fill="#fff3ee"/>
<circle cx="148.8" cy="554.4" r="3.85" fill="#fbb296"/>
<circle cx="136.6" cy="554.7" r="3.85" fill="#fbb296"/>
<circle cx="136.4" cy="584.2" r="3.85" fill="#fbb296"/>
<circle cx="140.4" cy="501.7" r="3.85" fill="#fbb296"/>
<circle cx="120.6" cy="578.1" r="3.5" fill="#fff3ee"/>
<circle cx="111.1" cy="574.5" r="3.5" fill="#fff3ee"/>
<circle cx="124.6" cy="554.6" r="3.85" fill="#fbb296"/>
<circle cx="144" cy="512.8" r="4.3" fill="#ef4d35"/>
<circle cx="155" cy="548.7" r="3.85" fill="#fbb296"/>
<circle cx="160.1" cy="568.7" r="3.85" fill="#fbb296"/>
<circle cx="107.8" cy="579.4" r="3.5" fill="#fff3ee"/>
<circle cx="123.6" cy="570.8" r="3.85" fill="#fbb296"/>
<circle cx="115.9" cy="604.1" r="3.5" fill="#fff3ee"/>
<circle cx="143.9" cy="612.7" r="3.85" fill="#fbb296"/>
<circle cx="115.6" cy="561.7" r="3.85" fill="#fbb296"/>
<circle cx="113.4" cy="588.3" r="3.85" fill="#fbb296"/>
<circle cx="106.9" cy="566.2" r="3.85" fill="#fbb296"/>
<circle cx="117.1" cy="588.6" r="3.5" fill="#fff3ee"/>
<circle cx="145.4" cy="575.8" r="3.5" fill="#fff3ee"/>
<circle cx="141.2" cy="522.5" r="4.3" fill="#ef4d35"/>
<circle cx="107.3" cy="543.8" r="3.5" fill="#fff3ee"/>
<circle cx="135.1" cy="538.6" r="3.85" fill="#fbb296"/>
<circle cx="173.7" cy="543.5" r="3.85" fill="#fbb296"/>
<circle cx="113.9" cy="632.4" r="3.5" fill="#fff3ee"/>
<circle cx="131.6" cy="594.4" r="3.85" fill="#fbb296"/>
<circle cx="108" cy="601.3" r="3.85" fill="#fbb296"/>
<circle cx="145.4" cy="552.5" r="3.85" fill="#fbb296"/>
<circle cx="114" cy="556.7" r="3.85" fill="#fbb296"/>
<circle cx="143.8" cy="576.9" r="3.5" fill="#fff3ee"/>
<circle cx="97.7" cy="559.2" r="3.85" fill="#fbb296"/>
<circle cx="147.6" cy="531.9" r="3.85" fill="#fbb296"/>
<circle cx="130.7" cy="531" r="3.85" fill="#fbb296"/>
<circle cx="79.3" cy="560.2" r="3.5" fill="#fff3ee"/>
<circle cx="115.4" cy="532.4" r="3.85" fill="#fbb296"/>
<circle cx="124.5" cy="540.7" r="3.85" fill="#fbb296"/>
<circle cx="160.3" cy="537.4" r="3.85" fill="#fbb296"/>
<circle cx="121.5" cy="582.7" r="3.85" fill="#fbb296"/>
<circle cx="157.7" cy="557.8" r="3.5" fill="#fff3ee"/>
<circle cx="111.4" cy="536.2" r="3.85" fill="#fbb296"/>
<circle cx="151.3" cy="544.4" r="3.85" fill="#fbb296"/>
<circle cx="114.1" cy="516.2" r="3.85" fill="#fbb296"/>
<circle cx="129" cy="597.6" r="3.85" fill="#fbb296"/>
<circle cx="125" cy="526.3" r="3.85" fill="#fbb296"/>
<circle cx="137.4" cy="541.7" r="3.85" fill="#fbb296"/>
<circle cx="144.8" cy="510.2" r="3.85" fill="#fbb296"/>
<circle cx="119.9" cy="527.2" r="3.85" fill="#fbb296"/>
<circle cx="133.2" cy="475.7" r="3.85" fill="#fbb296"/>
<circle cx="125.7" cy="565" r="3.85" fill="#fbb296"/>
<circle cx="154.8" cy="522.4" r="3.85" fill="#fbb296"/>
<circle cx="137.1" cy="583.2" r="3.5" fill="#fff3ee"/>
<circle cx="134.6" cy="534.3" r="3.85" fill="#fbb296"/>
<circle cx="123" cy="567.4" r="3.85" fill="#fbb296"/>
<circle cx="117.7" cy="613.6" r="3.85" fill="#fbb296"/>
<circle cx="114" cy="551.5" r="3.85" fill="#fbb296"/>
<circle cx="108.8" cy="535.2" r="3.85" fill="#fbb296"/>
<circle cx="114.7" cy="576.8" r="3.85" fill="#fbb296"/>
<circle cx="147.7" cy="528.8" r="3.85" fill="#fbb296"/>
<circle cx="119.7" cy="521.1" r="3.85" fill="#fbb296"/>
<circle cx="124" cy="632.4" r="3.5" fill="#fff3ee"/>
<circle cx="112.1" cy="597.5" r="3.85" fill="#fbb296"/>
<circle cx="141.1" cy="597" r="3.5" fill="#fff3ee"/>
<circle cx="122.5" cy="531.2" r="4.3" fill="#ef4d35"/>
<circle cx="141.2" cy="530" r="3.85" fill="#fbb296"/>
<circle cx="129.4" cy="563.6" r="3.85" fill="#fbb296"/>
<circle cx="141.2" cy="565.6" r="3.85" fill="#fbb296"/>
<circle cx="125" cy="549.1" r="3.85" fill="#fbb296"/>
<circle cx="126.1" cy="526.7" r="3.5" fill="#fff3ee"/>
<circle cx="141.8" cy="549.8" r="3.85" fill="#fbb296"/>
<circle cx="132.9" cy="511.5" r="4.3" fill="#ef4d35"/>
<circle cx="151.5" cy="503" r="4.3" fill="#ef4d35"/>
<circle cx="114" cy="565.3" r="3.5" fill="#fff3ee"/>
<circle cx="136.3" cy="540.2" r="3.85" fill="#fbb296"/>
<circle cx="98.7" cy="594.6" r="3.5" fill="#fff3ee"/>
<circle cx="110.9" cy="576.9" r="3.5" fill="#fff3ee"/>
<circle cx="175" cy="524" r="3.5" fill="#fff3ee"/>
<circle cx="146.4" cy="531.1" r="4.3" fill="#ef4d35"/>
<circle cx="126.5" cy="572.8" r="3.85" fill="#fbb296"/>
<circle cx="193.9" cy="530.6" r="3.85" fill="#fbb296"/>
<circle cx="132.3" cy="529.7" r="3.5" fill="#fff3ee"/>
<circle cx="119.8" cy="557.8" r="3.85" fill="#fbb296"/>
<circle cx="118.4" cy="584.2" r="3.5" fill="#fff3ee"/>
<circle cx="176.6" cy="552.8" r="3.85" fill="#fbb296"/>
<circle cx="162.1" cy="557.4" r="3.85" fill="#fbb296"/>
<circle cx="192.1" cy="571.4" r="3.85" fill="#fbb296"/>
<circle cx="149.4" cy="502.2" r="3.85" fill="#fbb296"/>
<circle cx="163.6" cy="507.4" r="4.3" fill="#ef4d35"/>
<circle cx="131.1" cy="572.5" r="3.5" fill="#fff3ee"/>
<circle cx="124.8" cy="558.3" r="4.3" fill="#ef4d35"/>
<circle cx="130.7" cy="565.5" r="3.85" fill="#fbb296"/>
<circle cx="115.4" cy="545.1" r="3.85" fill="#fbb296"/>
<circle cx="100.3" cy="559.4" r="3.85" fill="#fbb296"/>
<circle cx="118.9" cy="640.7" r="3.5" fill="#fff3ee"/>
<circle cx="146.3" cy="550.7" r="3.85" fill="#fbb296"/>
<circle cx="137.4" cy="553.8" r="3.85" fill="#fbb296"/>
<circle cx="121.1" cy="540.1" r="3.85" fill="#fbb296"/>
<circle cx="138.4" cy="566.8" r="3.85" fill="#fbb296"/>
<circle cx="148.8" cy="526.9" r="3.5" fill="#fff3ee"/>
<circle cx="139.1" cy="518.3" r="3.85" fill="#fbb296"/>
<circle cx="99.9" cy="585.5" r="3.85" fill="#fbb296"/>
<circle cx="157.1" cy="553.9" r="3.85" fill="#fbb296"/>
<circle cx="135.9" cy="550.3" r="3.85" fill="#fbb296"/>
<circle cx="138.1" cy="571.3" r="3.85" fill="#fbb296"/>
<circle cx="114.7" cy="627.7" r="3.5" fill="#fff3ee"/>
<circle cx="103.2" cy="558.2" r="3.5" fill="#fff3ee"/>
<circle cx="142.2" cy="597.7" r="3.5" fill="#fff3ee"/>
<circle cx="135.4" cy="587.6" r="3.5" fill="#fff3ee"/>
<circle cx="141.2" cy="540.2" r="3.85" fill="#fbb296"/>
<circle cx="105.9" cy="601.1" r="3.5" fill="#fff3ee"/>
<circle cx="118.3" cy="505.3" r="4.3" fill="#ef4d35"/>
<circle cx="118.4" cy="585.8" r="3.5" fill="#fff3ee"/>
<circle cx="143.3" cy="533.1" r="3.85" fill="#fbb296"/>
<circle cx="114.5" cy="535.2" r="4.3" fill="#ef4d35"/>
<circle cx="152.4" cy="528.7" r="3.85" fill="#fbb296"/>
<circle cx="148.2" cy="610.3" r="3.5" fill="#fff3ee"/>
<circle cx="135.2" cy="485.4" r="4.3" fill="#ef4d35"/>
<circle cx="163.2" cy="557.3" r="3.85" fill="#fbb296"/>
<circle cx="83.4" cy="606.7" r="3.85" fill="#fbb296"/>
<circle cx="106.8" cy="600.8" r="3.5" fill="#fff3ee"/>
<circle cx="137.1" cy="577.7" r="3.5" fill="#fff3ee"/>
<circle cx="107.3" cy="550.4" r="3.85" fill="#fbb296"/>
<circle cx="211.4" cy="436.8" r="4.3" fill="#ef4d35"/>
<circle cx="182.4" cy="540.8" r="3.85" fill="#fbb296"/>
<circle cx="166" cy="520.6" r="3.85" fill="#fbb296"/>
<circle cx="152.4" cy="558.4" r="3.85" fill="#fbb296"/>
<circle cx="136.4" cy="590.1" r="3.85" fill="#fbb296"/>
<circle cx="154.8" cy="561.9" r="3.85" fill="#fbb296"/>
<circle cx="111.8" cy="544.1" r="4.3" fill="#ef4d35"/>
<circle cx="159.5" cy="555" r="3.85" fill="#fbb296"/>
<circle cx="108.3" cy="595.4" r="3.85" fill="#fbb296"/>
<circle cx="95.2" cy="583.8" r="3.85" fill="#fbb296"/>
<circle cx="171.7" cy="528.2" r="4.3" fill="#ef4d35"/>
<circle cx="143" cy="533.3" r="3.5" fill="#fff3ee"/>
<circle cx="134.2" cy="560.7" r="3.85" fill="#fbb296"/>
<circle cx="142.1" cy="582.6" r="3.85" fill="#fbb296"/>
<circle cx="162.7" cy="525.4" r="3.85" fill="#fbb296"/>
<circle cx="126.1" cy="576.1" r="3.5" fill="#fff3ee"/>
<circle cx="170.9" cy="564.4" r="3.85" fill="#fbb296"/>
<circle cx="95.8" cy="553.3" r="3.85" fill="#fbb296"/>
<circle cx="180.5" cy="546.3" r="3.85" fill="#fbb296"/>
<circle cx="157.2" cy="537" r="3.85" fill="#fbb296"/>
<circle cx="93.4" cy="557.9" r="3.85" fill="#fbb296"/>
<circle cx="91.8" cy="617.3" r="3.5" fill="#fff3ee"/>
<circle cx="135" cy="563.1" r="3.5" fill="#fff3ee"/>
<circle cx="128.8" cy="536.9" r="3.85" fill="#fbb296"/>
<circle cx="132.7" cy="528.3" r="3.85" fill="#fbb296"/>
<circle cx="141.4" cy="581.7" r="3.5" fill="#fff3ee"/>
<circle cx="99.5" cy="569.7" r="3.5" fill="#fff3ee"/>
<circle cx="107.2" cy="606.7" r="3.5" fill="#fff3ee"/>
<circle cx="152.9" cy="576.7" r="3.85" fill="#fbb296"/>
<circle cx="161.6" cy="609.2" r="3.85" fill="#fbb296"/>
<circle cx="102.2" cy="547" r="3.85" fill="#fbb296"/>
<circle cx="136.5" cy="586.6" r="3.5" fill="#fff3ee"/>
<circle cx="158.5" cy="498.1" r="4.3" fill="#ef4d35"/>
<circle cx="178.8" cy="549.1" r="3.85" fill="#fbb296"/>
<circle cx="122.8" cy="559.8" r="3.85" fill="#fbb296"/>
<circle cx="106.8" cy="604.5" r="3.5" fill="#fff3ee"/>
<circle cx="214.2" cy="535.6" r="3.5" fill="#fff3ee"/>
<circle cx="120.3" cy="489" r="4.3" fill="#ef4d35"/>
<circle cx="119" cy="604.4" r="3.5" fill="#fff3ee"/>
<circle cx="132.8" cy="530.5" r="3.85" fill="#fbb296"/>
<circle cx="153.8" cy="535.6" r="3.5" fill="#fff3ee"/>
<circle cx="176.5" cy="544.7" r="3.85" fill="#fbb296"/>
<circle cx="130.4" cy="534" r="3.85" fill="#fbb296"/>
<circle cx="106.8" cy="581" r="3.5" fill="#fff3ee"/>
<circle cx="127.1" cy="543.8" r="3.85" fill="#fbb296"/>
<circle cx="166.4" cy="569.7" r="3.85" fill="#fbb296"/>
<circle cx="104.2" cy="619.6" r="3.5" fill="#fff3ee"/>
<circle cx="119.4" cy="528.5" r="3.85" fill="#fbb296"/>
<circle cx="117.8" cy="574.4" r="3.5" fill="#fff3ee"/>
<circle cx="139.1" cy="537.8" r="3.85" fill="#fbb296"/>
<circle cx="147.1" cy="546.1" r="3.85" fill="#fbb296"/>
<circle cx="155.6" cy="558.1" r="3.85" fill="#fbb296"/>
<circle cx="96.4" cy="582.5" r="3.5" fill="#fff3ee"/>
<circle cx="86.6" cy="616.2" r="3.5" fill="#fff3ee"/>
<circle cx="147.3" cy="576.8" r="3.5" fill="#fff3ee"/>
<circle cx="118.7" cy="553.5" r="3.5" fill="#fff3ee"/>
<circle cx="137.5" cy="475.4" r="3.85" fill="#fbb296"/>
<circle cx="109.4" cy="593.5" r="3.5" fill="#fff3ee"/>
<circle cx="114.3" cy="572" r="3.85" fill="#fbb296"/>
<circle cx="107.4" cy="605.1" r="3.85" fill="#fbb296"/>
<circle cx="97.2" cy="526.4" r="3.85" fill="#fbb296"/>
<circle cx="89.3" cy="566.8" r="3.85" fill="#fbb296"/>
<circle cx="115.9" cy="553.2" r="3.85" fill="#fbb296"/>
<circle cx="112.6" cy="626.1" r="3.5" fill="#fff3ee"/>
<circle cx="150.7" cy="500.6" r="4.3" fill="#ef4d35"/>
<circle cx="139.5" cy="521.7" r="3.85" fill="#fbb296"/>
<circle cx="203.7" cy="546.1" r="3.85" fill="#fbb296"/>
<circle cx="119.5" cy="628.4" r="3.85" fill="#fbb296"/>
<circle cx="98.3" cy="572.5" r="3.85" fill="#fbb296"/>
<circle cx="143.9" cy="533.8" r="4.3" fill="#ef4d35"/>
<circle cx="143.7" cy="576" r="3.85" fill="#fbb296"/>
<circle cx="135" cy="587.1" r="3.85" fill="#fbb296"/>
<circle cx="131.9" cy="589.3" r="3.5" fill="#fff3ee"/>
<circle cx="152.4" cy="594.5" r="3.85" fill="#fbb296"/>
<circle cx="166.5" cy="550.9" r="3.85" fill="#fbb296"/>
<circle cx="112.4" cy="585.5" r="3.85" fill="#fbb296"/>
<circle cx="150.8" cy="525.8" r="3.85" fill="#fbb296"/>
<circle cx="132.3" cy="527.6" r="3.85" fill="#fbb296"/>
<circle cx="119.6" cy="540.9" r="3.85" fill="#fbb296"/>
<circle cx="88.1" cy="603.2" r="3.5" fill="#fff3ee"/>
<circle cx="113.3" cy="576.8" r="3.85" fill="#fbb296"/>
<circle cx="101.9" cy="623.3" r="3.5" fill="#fff3ee"/>
<circle cx="120.1" cy="549.8" r="3.85" fill="#fbb296"/>
<circle cx="82.8" cy="587.3" r="3.5" fill="#fff3ee"/>
<circle cx="125.4" cy="494.1" r="4.3" fill="#ef4d35"/>
<circle cx="187.7" cy="504.9" r="3.85" fill="#fbb296"/>
<circle cx="120.1" cy="550.3" r="3.85" fill="#fbb296"/>
<circle cx="107.8" cy="554.8" r="3.5" fill="#fff3ee"/>
<circle cx="132.1" cy="550.7" r="3.85" fill="#fbb296"/>
<circle cx="157.3" cy="542" r="3.85" fill="#fbb296"/>
<circle cx="138.1" cy="503.3" r="4.3" fill="#ef4d35"/>
<circle cx="122.7" cy="525.5" r="3.85" fill="#fbb296"/>
<circle cx="109.2" cy="587.8" r="3.5" fill="#fff3ee"/>
<circle cx="141.5" cy="590.6" r="3.5" fill="#fff3ee"/>
<circle cx="170.2" cy="529.4" r="3.85" fill="#fbb296"/>
<circle cx="135.2" cy="559.9" r="4.3" fill="#ef4d35"/>
<circle cx="102.3" cy="577.7" r="3.5" fill="#fff3ee"/>
<circle cx="139.9" cy="544.7" r="3.85" fill="#fbb296"/>
<circle cx="131.4" cy="594.7" r="3.5" fill="#fff3ee"/>
<circle cx="110.2" cy="615.1" r="3.5" fill="#fff3ee"/>
<circle cx="113" cy="579.3" r="3.85" fill="#fbb296"/>
<circle cx="139.8" cy="593.9" r="3.5" fill="#fff3ee"/>
<circle cx="163.6" cy="540.9" r="3.5" fill="#fff3ee"/>
<circle cx="105.2" cy="554.9" r="3.85" fill="#fbb296"/>
<circle cx="103.1" cy="571.3" r="3.85" fill="#fbb296"/>
<circle cx="162.6" cy="544.7" r="4.3" fill="#ef4d35"/>
<circle cx="119.7" cy="548.9" r="3.5" fill="#fff3ee"/>
<circle cx="129.9" cy="571.4" r="3.5" fill="#fff3ee"/>
<circle cx="118.7" cy="606" r="3.85" fill="#fbb296"/>
<circle cx="119.6" cy="553.2" r="3.85" fill="#fbb296"/>
<circle cx="128.6" cy="573" r="3.85" fill="#fbb296"/>
<circle cx="105.6" cy="586" r="3.5" fill="#fff3ee"/>
<circle cx="141.7" cy="534.6" r="4.3" fill="#ef4d35"/>
<circle cx="123.9" cy="505.7" r="4.3" fill="#ef4d35"/>
<circle cx="131.8" cy="617" r="3.5" fill="#fff3ee"/>
<circle cx="137.5" cy="489.5" r="4.3" fill="#ef4d35"/>
<circle cx="122.3" cy="529" r="3.85" fill="#fbb296"/>
<circle cx="114.4" cy="607.1" r="3.85" fill="#fbb296"/>
<circle cx="106.5" cy="616.2" r="3.5" fill="#fff3ee"/>
<circle cx="104.8" cy="630.2" r="3.5" fill="#fff3ee"/>
<circle cx="105.3" cy="628.2" r="3.5" fill="#fff3ee"/>
<circle cx="137.6" cy="511.3" r="3.85" fill="#fbb296"/>
<circle cx="122.2" cy="535.4" r="3.5" fill="#fff3ee"/>
<circle cx="93.5" cy="588.9" r="3.5" fill="#fff3ee"/>
<circle cx="137.3" cy="526.8" r="3.85" fill="#fbb296"/>
<circle cx="118.9" cy="508.2" r="4.3" fill="#ef4d35"/>
<circle cx="127.7" cy="567.6" r="3.85" fill="#fbb296"/>
<circle cx="189.9" cy="515.1" r="3.85" fill="#fbb296"/>
<circle cx="100.9" cy="581.4" r="3.5" fill="#fff3ee"/>
<circle cx="140.3" cy="616.4" r="3.5" fill="#fff3ee"/>
<circle cx="114.1" cy="563.4" r="3.85" fill="#fbb296"/>
<circle cx="146.3" cy="530.6" r="3.85" fill="#fbb296"/>
<circle cx="109.4" cy="555.9" r="3.85" fill="#fbb296"/>
<circle cx="177.8" cy="541.9" r="3.5" fill="#fff3ee"/>
<circle cx="116.9" cy="600.1" r="3.5" fill="#fff3ee"/>
<circle cx="143.2" cy="468.9" r="4.3" fill="#ef4d35"/>
<circle cx="131.4" cy="574.8" r="3.5" fill="#fff3ee"/>
<circle cx="124.8" cy="560.3" r="3.85" fill="#fbb296"/>
<circle cx="119.3" cy="589.2" r="3.85" fill="#fbb296"/>
<circle cx="119.1" cy="580.6" r="3.85" fill="#fbb296"/>
<circle cx="141.7" cy="562.8" r="3.5" fill="#fff3ee"/>
<circle cx="115.9" cy="579.5" r="3.85" fill="#fbb296"/>
<circle cx="133.5" cy="526.3" r="3.85" fill="#fbb296"/>
<circle cx="144.5" cy="569.2" r="3.85" fill="#fbb296"/>
<circle cx="132.4" cy="552" r="3.5" fill="#fff3ee"/>
<circle cx="105.6" cy="553.7" r="3.85" fill="#fbb296"/>
<circle cx="164.1" cy="545.9" r="3.85" fill="#fbb296"/>
<circle cx="103" cy="542" r="3.85" fill="#fbb296"/>
<circle cx="112.4" cy="551.5" r="3.5" fill="#fff3ee"/>
<circle cx="128.6" cy="567.9" r="3.5" fill="#fff3ee"/>
<circle cx="146.1" cy="598.8" r="3.5" fill="#fff3ee"/>
<circle cx="145.3" cy="562.7" r="3.85" fill="#fbb296"/>
<circle cx="167.1" cy="540" r="3.85" fill="#fbb296"/>
<circle cx="109.6" cy="522" r="3.85" fill="#fbb296"/>
<circle cx="90.2" cy="558.9" r="3.5" fill="#fff3ee"/>
<circle cx="139.7" cy="574.6" r="3.85" fill="#fbb296"/>
<circle cx="169.2" cy="530.8" r="3.85" fill="#fbb296"/>
<circle cx="131.7" cy="572.3" r="3.5" fill="#fff3ee"/>
<circle cx="159.1" cy="557" r="3.85" fill="#fbb296"/>
<circle cx="136.2" cy="509.1" r="3.85" fill="#fbb296"/>
<circle cx="138.1" cy="571.9" r="3.85" fill="#fbb296"/>
<circle cx="148.7" cy="535.7" r="3.85" fill="#fbb296"/>
<circle cx="156" cy="580.9" r="3.5" fill="#fff3ee"/>
<circle cx="165.8" cy="558.2" r="3.85" fill="#fbb296"/>
<circle cx="115.5" cy="515.1" r="3.85" fill="#fbb296"/>
<circle cx="101.2" cy="591.4" r="3.5" fill="#fff3ee"/>
<circle cx="132.4" cy="551.8" r="3.85" fill="#fbb296"/>
<circle cx="114.8" cy="551.1" r="3.5" fill="#fff3ee"/>
<circle cx="167" cy="546" r="3.5" fill="#fff3ee"/>
<circle cx="112.8" cy="602.6" r="3.5" fill="#fff3ee"/>
<circle cx="194.2" cy="547.9" r="4.3" fill="#ef4d35"/>
<circle cx="128.5" cy="551.6" r="4.3" fill="#ef4d35"/>
<circle cx="169.4" cy="566" r="3.85" fill="#fbb296"/>
<circle cx="162.7" cy="518.3" r="3.85" fill="#fbb296"/>
<circle cx="175.3" cy="584.1" r="3.85" fill="#fbb296"/>
<circle cx="120.4" cy="547.9" r="3.85" fill="#fbb296"/>
<circle cx="115.9" cy="570.4" r="3.85" fill="#fbb296"/>
<circle cx="156" cy="491.3" r="3.85" fill="#fbb296"/>
<circle cx="90.6" cy="557.5" r="3.5" fill="#fff3ee"/>
<circle cx="114.3" cy="535.8" r="3.85" fill="#fbb296"/>
<circle cx="131.3" cy="595.8" r="3.5" fill="#fff3ee"/>
<circle cx="139" cy="587.3" r="3.85" fill="#fbb296"/>
<circle cx="104.1" cy="523.4" r="3.5" fill="#fff3ee"/>
<circle cx="98.2" cy="563.9" r="3.5" fill="#fff3ee"/>
<circle cx="149.3" cy="561.5" r="3.5" fill="#fff3ee"/>
<circle cx="156.8" cy="603.3" r="3.5" fill="#fff3ee"/>
<circle cx="103.4" cy="569.5" r="3.85" fill="#fbb296"/>
<circle cx="145.6" cy="563.5" r="3.5" fill="#fff3ee"/>
<circle cx="116.3" cy="603.9" r="3.5" fill="#fff3ee"/>
<circle cx="142.1" cy="603.8" r="3.5" fill="#fff3ee"/>
<circle cx="121.5" cy="554.6" r="3.85" fill="#fbb296"/>
<circle cx="112.3" cy="526.4" r="3.85" fill="#fbb296"/>
<circle cx="169" cy="572.3" r="3.85" fill="#fbb296"/>
<circle cx="159.4" cy="563.7" r="3.85" fill="#fbb296"/>
<circle cx="116.3" cy="553.4" r="3.5" fill="#fff3ee"/>
<circle cx="128.1" cy="567.6" r="3.85" fill="#fbb296"/>
<circle cx="148.9" cy="463.6" r="4.3" fill="#ef4d35"/>
<circle cx="108.8" cy="572.9" r="3.5" fill="#fff3ee"/>
<circle cx="94.8" cy="584.9" r="3.85" fill="#fbb296"/>
<circle cx="138.6" cy="556.2" r="3.85" fill="#fbb296"/>
<circle cx="100.7" cy="535.7" r="3.85" fill="#fbb296"/>
<circle cx="136.4" cy="533.9" r="3.5" fill="#fff3ee"/>
<circle cx="117.6" cy="605.7" r="3.5" fill="#fff3ee"/>
<circle cx="149" cy="533.6" r="3.85" fill="#fbb296"/>
<circle cx="158.5" cy="536.5" r="3.85" fill="#fbb296"/>
<circle cx="136.9" cy="531" r="4.3" fill="#ef4d35"/>
<circle cx="97" cy="626.7" r="3.5" fill="#fff3ee"/>
<circle cx="122.3" cy="548.3" r="3.85" fill="#fbb296"/>
<circle cx="154.4" cy="537.7" r="3.85" fill="#fbb296"/>
<circle cx="175.2" cy="558.2" r="3.85" fill="#fbb296"/>
<circle cx="139.8" cy="591.1" r="3.5" fill="#fff3ee"/>
<circle cx="109.1" cy="574.9" r="3.85" fill="#fbb296"/>
<circle cx="121.5" cy="540.8" r="4.3" fill="#ef4d35"/>
<circle cx="113.1" cy="532.1" r="3.85" fill="#fbb296"/>
<circle cx="112.2" cy="558.6" r="3.5" fill="#fff3ee"/>
<circle cx="119" cy="567.3" r="3.85" fill="#fbb296"/>
<circle cx="132.1" cy="596" r="3.5" fill="#fff3ee"/>
<circle cx="99.6" cy="599.7" r="3.5" fill="#fff3ee"/>
<circle cx="161.3" cy="531" r="3.85" fill="#fbb296"/>
<circle cx="143.3" cy="538.2" r="3.5" fill="#fff3ee"/>
<circle cx="138.9" cy="591.6" r="3.5" fill="#fff3ee"/>
<circle cx="157.9" cy="550.4" r="3.85" fill="#fbb296"/>
<circle cx="133.6" cy="528.3" r="3.85" fill="#fbb296"/>
<circle cx="102.7" cy="585.9" r="3.5" fill="#fff3ee"/>
<circle cx="177.1" cy="488.5" r="4.3" fill="#ef4d35"/>
<circle cx="127.4" cy="540.5" r="3.85" fill="#fbb296"/>
<circle cx="120" cy="565.9" r="3.85" fill="#fbb296"/>
<circle cx="84.6" cy="570" r="3.5" fill="#fff3ee"/>
<circle cx="120.5" cy="561.5" r="3.85" fill="#fbb296"/>
<circle cx="136.5" cy="550.2" r="3.85" fill="#fbb296"/>
<circle cx="137.2" cy="532.1" r="3.85" fill="#fbb296"/>
<circle cx="119.8" cy="504" r="3.85" fill="#fbb296"/>
<circle cx="222.9" cy="529.3" r="3.85" fill="#fbb296"/>
<circle cx="142" cy="568.5" r="3.5" fill="#fff3ee"/>
<circle cx="136.2" cy="587.9" r="3.85" fill="#fbb296"/>
<circle cx="84.5" cy="605.4" r="3.85" fill="#fbb296"/>
<circle cx="88.7" cy="602.3" r="3.5" fill="#fff3ee"/>
<circle cx="122.2" cy="560.1" r="3.5" fill="#fff3ee"/>
<circle cx="111.2" cy="549" r="3.85" fill="#fbb296"/>
<circle cx="153.2" cy="477.8" r="4.3" fill="#ef4d35"/>
<circle cx="138.7" cy="561" r="3.85" fill="#fbb296"/>
<circle cx="114" cy="567.4" r="3.85" fill="#fbb296"/>
<circle cx="151" cy="556.8" r="3.85" fill="#fbb296"/>
<circle cx="250.6" cy="578.4" r="3.85" fill="#fbb296"/>
<circle cx="158.1" cy="538.1" r="3.85" fill="#fbb296"/>
<circle cx="108.7" cy="577.6" r="3.85" fill="#fbb296"/>
<circle cx="143.9" cy="495" r="4.3" fill="#ef4d35"/>
<circle cx="150.9" cy="544.1" r="3.85" fill="#fbb296"/>
<circle cx="114.6" cy="513.8" r="4.3" fill="#ef4d35"/>
<circle cx="115.8" cy="574.9" r="3.5" fill="#fff3ee"/>
<circle cx="84.6" cy="569.1" r="3.85" fill="#fbb296"/>
<circle cx="148.3" cy="542.1" r="3.5" fill="#fff3ee"/>
<circle cx="138.3" cy="598.1" r="3.85" fill="#fbb296"/>
<circle cx="98.6" cy="587.2" r="3.5" fill="#fff3ee"/>
<circle cx="104.1" cy="590.9" r="3.5" fill="#fff3ee"/>
<circle cx="149.8" cy="553.8" r="3.85" fill="#fbb296"/>
<circle cx="100.8" cy="626.9" r="3.85" fill="#fbb296"/>
<circle cx="142.9" cy="530.3" r="3.85" fill="#fbb296"/>
<circle cx="104.5" cy="542.9" r="3.5" fill="#fff3ee"/>
<circle cx="107" cy="528.6" r="4.3" fill="#ef4d35"/>
<circle cx="163.9" cy="553" r="3.85" fill="#fbb296"/>
<circle cx="161.5" cy="498.6" r="4.3" fill="#ef4d35"/>
<circle cx="125" cy="530.7" r="3.85" fill="#fbb296"/>
<circle cx="151.4" cy="574.6" r="3.85" fill="#fbb296"/>
<circle cx="126.8" cy="559" r="3.5" fill="#fff3ee"/>
<circle cx="119.4" cy="604.4" r="3.5" fill="#fff3ee"/>
<circle cx="119" cy="538.3" r="3.85" fill="#fbb296"/>
<circle cx="161.4" cy="575.4" r="3.85" fill="#fbb296"/>
<circle cx="125.1" cy="553.3" r="3.5" fill="#fff3ee"/>
<circle cx="107.2" cy="595.6" r="3.5" fill="#fff3ee"/>
<circle cx="159" cy="567.1" r="3.85" fill="#fbb296"/>
<circle cx="165.8" cy="578.7" r="3.5" fill="#fff3ee"/>
<circle cx="113.7" cy="588.9" r="3.5" fill="#fff3ee"/>
<circle cx="132.5" cy="531.9" r="3.85" fill="#fbb296"/>
<circle cx="119" cy="585.8" r="3.85" fill="#fbb296"/>
<circle cx="100.5" cy="544.6" r="3.5" fill="#fff3ee"/>
<circle cx="124.8" cy="567.1" r="3.85" fill="#fbb296"/>
<circle cx="141.9" cy="572.1" r="3.5" fill="#fff3ee"/>
<circle cx="116.7" cy="577.4" r="3.85" fill="#fbb296"/>
<circle cx="146.4" cy="557.9" r="3.85" fill="#fbb296"/>
<circle cx="163.1" cy="566.2" r="3.85" fill="#fbb296"/>
<circle cx="149.6" cy="588.3" r="3.85" fill="#fbb296"/>
<circle cx="118.1" cy="586.7" r="3.5" fill="#fff3ee"/>
<circle cx="184.9" cy="547.4" r="3.85" fill="#fbb296"/>
<circle cx="129.4" cy="530.3" r="3.85" fill="#fbb296"/>
<circle cx="137.6" cy="517.3" r="4.3" fill="#ef4d35"/>
<circle cx="131.5" cy="584.5" r="3.85" fill="#fbb296"/>
<circle cx="152.4" cy="556" r="3.85" fill="#fbb296"/>
<circle cx="132.4" cy="576.7" r="3.5" fill="#fff3ee"/>
<circle cx="142.1" cy="538.7" r="3.85" fill="#fbb296"/>
<circle cx="115" cy="560" r="3.85" fill="#fbb296"/>
<circle cx="141.6" cy="530" r="3.85" fill="#fbb296"/>
<circle cx="126.7" cy="543.1" r="3.85" fill="#fbb296"/>
<circle cx="109" cy="558.7" r="3.85" fill="#fbb296"/>
<circle cx="147.8" cy="556.3" r="3.85" fill="#fbb296"/>
<circle cx="150.1" cy="556.1" r="3.85" fill="#fbb296"/>
<circle cx="165.4" cy="549" r="3.85" fill="#fbb296"/>
<circle cx="97.1" cy="565.2" r="3.5" fill="#fff3ee"/>
<circle cx="130.1" cy="545.2" r="3.5" fill="#fff3ee"/>
<circle cx="134.1" cy="590.4" r="3.85" fill="#fbb296"/>
<circle cx="142.1" cy="550.6" r="3.85" fill="#fbb296"/>
<circle cx="130.5" cy="569.8" r="3.5" fill="#fff3ee"/>
<circle cx="175.7" cy="550.9" r="3.85" fill="#fbb296"/>
<circle cx="122.8" cy="581.1" r="3.85" fill="#fbb296"/>
<circle cx="99.7" cy="547.4" r="3.85" fill="#fbb296"/>
<circle cx="117.3" cy="540.6" r="3.85" fill="#fbb296"/>
<circle cx="87.9" cy="583.6" r="3.5" fill="#fff3ee"/>
<circle cx="176.1" cy="484.2" r="4.3" fill="#ef4d35"/>
<circle cx="137.9" cy="588" r="3.5" fill="#fff3ee"/>
<circle cx="128.8" cy="603.7" r="3.5" fill="#fff3ee"/>
<circle cx="183.2" cy="549" r="3.85" fill="#fbb296"/>
<circle cx="153.8" cy="574.3" r="3.5" fill="#fff3ee"/>
<circle cx="131.9" cy="530.5" r="3.85" fill="#fbb296"/>
<circle cx="146.8" cy="612.5" r="3.85" fill="#fbb296"/>
<circle cx="108" cy="602.9" r="3.85" fill="#fbb296"/>
<circle cx="165.6" cy="530.7" r="3.85" fill="#fbb296"/>
<circle cx="120.9" cy="586.3" r="3.5" fill="#fff3ee"/>
<circle cx="154.2" cy="567.4" r="3.85" fill="#fbb296"/>
<circle cx="154.1" cy="495" r="3.85" fill="#fbb296"/>
<circle cx="112.7" cy="582.8" r="3.85" fill="#fbb296"/>
<circle cx="128" cy="577.6" r="3.5" fill="#fff3ee"/>
<circle cx="142.6" cy="564.2" r="3.85" fill="#fbb296"/>
<circle cx="162.5" cy="509.5" r="3.85" fill="#fbb296"/>
<circle cx="90.1" cy="598.5" r="3.5" fill="#fff3ee"/>
<circle cx="145.6" cy="583.4" r="3.85" fill="#fbb296"/>
<circle cx="112.9" cy="569.8" r="3.85" fill="#fbb296"/>
<circle cx="103.2" cy="554.6" r="3.85" fill="#fbb296"/>
<circle cx="129.4" cy="595.7" r="3.85" fill="#fbb296"/>
<circle cx="117.3" cy="568.8" r="3.5" fill="#fff3ee"/>
<circle cx="120.3" cy="548.9" r="3.85" fill="#fbb296"/>
<circle cx="113.9" cy="581.1" r="3.5" fill="#fff3ee"/>
<circle cx="136.7" cy="539.7" r="3.5" fill="#fff3ee"/>
<circle cx="112.5" cy="597.5" r="3.85" fill="#fbb296"/>
<circle cx="183.3" cy="538.2" r="3.85" fill="#fbb296"/>
<circle cx="125.8" cy="595.8" r="3.85" fill="#fbb296"/>
<circle cx="145.5" cy="567.4" r="3.5" fill="#fff3ee"/>
<circle cx="169.9" cy="544.6" r="3.85" fill="#fbb296"/>
<circle cx="122.9" cy="542.4" r="3.85" fill="#fbb296"/>
<circle cx="133" cy="576.4" r="3.85" fill="#fbb296"/>
<circle cx="195.3" cy="546.4" r="4.3" fill="#ef4d35"/>
<circle cx="120.7" cy="505.2" r="3.85" fill="#fbb296"/>
<circle cx="106.4" cy="547.8" r="4.3" fill="#ef4d35"/>
<circle cx="129.5" cy="612.3" r="3.5" fill="#fff3ee"/>
<circle cx="113.4" cy="541.3" r="3.85" fill="#fbb296"/>
<circle cx="124.4" cy="506.2" r="4.3" fill="#ef4d35"/>
<circle cx="132.2" cy="596.6" r="3.5" fill="#fff3ee"/>
<circle cx="128.2" cy="552" r="3.85" fill="#fbb296"/>
<circle cx="133.7" cy="561.2" r="3.85" fill="#fbb296"/>
<circle cx="164" cy="486" r="3.85" fill="#fbb296"/>
<circle cx="124.5" cy="563.6" r="3.5" fill="#fff3ee"/>
<circle cx="89.8" cy="620" r="3.5" fill="#fff3ee"/>
<circle cx="120.5" cy="539.4" r="3.5" fill="#fff3ee"/>
<circle cx="164.7" cy="541.5" r="3.5" fill="#fff3ee"/>
<circle cx="132.1" cy="570.5" r="3.85" fill="#fbb296"/>
<circle cx="168.6" cy="492.3" r="4.3" fill="#ef4d35"/>
<circle cx="189" cy="499.8" r="4.3" fill="#ef4d35"/>
<circle cx="134.4" cy="534.8" r="3.5" fill="#fff3ee"/>
<circle cx="100.9" cy="586.1" r="3.5" fill="#fff3ee"/>
<circle cx="145" cy="543.4" r="3.85" fill="#fbb296"/>
<circle cx="147" cy="564.7" r="3.85" fill="#fbb296"/>
<circle cx="148.6" cy="578.5" r="3.85" fill="#fbb296"/>
<circle cx="219.4" cy="484.8" r="3.85" fill="#fbb296"/>
<circle cx="129.1" cy="557.8" r="3.85" fill="#fbb296"/>
<circle cx="127.4" cy="559.1" r="3.85" fill="#fbb296"/>
<circle cx="159.5" cy="519.1" r="3.85" fill="#fbb296"/>
<circle cx="168" cy="568.8" r="3.85" fill="#fbb296"/>
<circle cx="96.1" cy="593.4" r="3.85" fill="#fbb296"/>
<circle cx="105.9" cy="540.8" r="3.85" fill="#fbb296"/>
<circle cx="125.5" cy="635.5" r="3.5" fill="#fff3ee"/>
<circle cx="154.4" cy="534.6" r="3.85" fill="#fbb296"/>
<circle cx="128.7" cy="574.7" r="3.5" fill="#fff3ee"/>
<circle cx="160.1" cy="590.1" r="3.85" fill="#fbb296"/>
<circle cx="155" cy="533.6" r="4.3" fill="#ef4d35"/>
<circle cx="128" cy="621.8" r="3.5" fill="#fff3ee"/>
<circle cx="175.6" cy="511" r="3.85" fill="#fbb296"/>
<circle cx="137.3" cy="533.7" r="4.3" fill="#ef4d35"/>
<circle cx="139.4" cy="570.1" r="3.5" fill="#fff3ee"/>
<circle cx="138.5" cy="546.8" r="3.5" fill="#fff3ee"/>
<circle cx="166.4" cy="569" r="3.5" fill="#fff3ee"/>
<circle cx="118.2" cy="596.6" r="3.85" fill="#fbb296"/>
<circle cx="90.8" cy="539.1" r="3.5" fill="#fff3ee"/>
<circle cx="147" cy="577.7" r="3.5" fill="#fff3ee"/>
<circle cx="175.6" cy="513.1" r="4.3" fill="#ef4d35"/>
<circle cx="108.4" cy="534.8" r="4.3" fill="#ef4d35"/>
<circle cx="164" cy="492.1" r="3.85" fill="#fbb296"/>
<circle cx="128.9" cy="562.6" r="3.85" fill="#fbb296"/>
<circle cx="135.4" cy="570" r="3.85" fill="#fbb296"/>
<circle cx="124.8" cy="549.1" r="3.5" fill="#fff3ee"/>
<circle cx="131.3" cy="542.1" r="3.5" fill="#fff3ee"/>
<circle cx="158.3" cy="544.5" r="3.85" fill="#fbb296"/>
<circle cx="71.6" cy="604.7" r="3.5" fill="#fff3ee"/>
<circle cx="158.9" cy="574.2" r="3.85" fill="#fbb296"/>
<circle cx="90.6" cy="621.9" r="3.5" fill="#fff3ee"/>
<circle cx="173.3" cy="518.9" r="4.3" fill="#ef4d35"/>
<circle cx="172.3" cy="555.9" r="4.3" fill="#ef4d35"/>
<circle cx="121.3" cy="551.4" r="3.85" fill="#fbb296"/>
<circle cx="128.9" cy="551.3" r="3.85" fill="#fbb296"/>
<circle cx="106.4" cy="535.4" r="3.85" fill="#fbb296"/>
<circle cx="129.2" cy="526.9" r="3.85" fill="#fbb296"/>
<circle cx="106.7" cy="531.6" r="3.85" fill="#fbb296"/>
<circle cx="200.2" cy="496.4" r="3.85" fill="#fbb296"/>
<circle cx="127.1" cy="572.6" r="3.5" fill="#fff3ee"/>
<circle cx="113" cy="530.1" r="3.85" fill="#fbb296"/>
<circle cx="158.3" cy="505.4" r="3.85" fill="#fbb296"/>
<circle cx="152.1" cy="576" r="3.5" fill="#fff3ee"/>
<circle cx="157.6" cy="555.8" r="3.85" fill="#fbb296"/>
<circle cx="173.6" cy="484.4" r="4.3" fill="#ef4d35"/>
<circle cx="115.9" cy="576" r="3.85" fill="#fbb296"/>
<circle cx="141.8" cy="540.3" r="3.85" fill="#fbb296"/>
<circle cx="108.8" cy="585.9" r="3.5" fill="#fff3ee"/>
<circle cx="197.3" cy="537.7" r="3.85" fill="#fbb296"/>
<circle cx="158" cy="534" r="3.85" fill="#fbb296"/>
<circle cx="109.7" cy="557.4" r="3.5" fill="#fff3ee"/>
<circle cx="85.5" cy="604" r="3.5" fill="#fff3ee"/>
<circle cx="137" cy="519.8" r="4.3" fill="#ef4d35"/>
<circle cx="118.7" cy="576.4" r="3.85" fill="#fbb296"/>
<circle cx="123.2" cy="602.1" r="3.5" fill="#fff3ee"/>
<circle cx="171.4" cy="516.7" r="3.85" fill="#fbb296"/>
<circle cx="144.3" cy="609.4" r="3.85" fill="#fbb296"/>
<circle cx="88.9" cy="583.6" r="3.85" fill="#fbb296"/>
<circle cx="100.4" cy="598.6" r="3.85" fill="#fbb296"/>
<circle cx="108.9" cy="559.3" r="3.85" fill="#fbb296"/>
<circle cx="110.6" cy="607.6" r="3.85" fill="#fbb296"/>
<circle cx="133" cy="497.2" r="3.85" fill="#fbb296"/>
<circle cx="135.8" cy="544.1" r="3.85" fill="#fbb296"/>
<circle cx="106.5" cy="600.3" r="3.5" fill="#fff3ee"/>
<circle cx="139.4" cy="619.8" r="3.85" fill="#fbb296"/>
<circle cx="116.7" cy="586.1" r="3.5" fill="#fff3ee"/>
<circle cx="131.3" cy="559.8" r="3.85" fill="#fbb296"/>
<circle cx="133.6" cy="564.5" r="3.85" fill="#fbb296"/>
<circle cx="153.2" cy="546.6" r="3.85" fill="#fbb296"/>
<circle cx="110.6" cy="572.8" r="3.5" fill="#fff3ee"/>
<circle cx="132" cy="593.3" r="3.85" fill="#fbb296"/>
<circle cx="141.4" cy="560.6" r="3.85" fill="#fbb296"/>
<circle cx="176.7" cy="541.8" r="3.85" fill="#fbb296"/>
<circle cx="148.8" cy="552.4" r="3.85" fill="#fbb296"/>
<circle cx="98.7" cy="597.7" r="3.85" fill="#fbb296"/>
<circle cx="103.2" cy="569.1" r="3.5" fill="#fff3ee"/>
<circle cx="109.1" cy="536.9" r="3.85" fill="#fbb296"/>
<circle cx="86.5" cy="556.9" r="3.5" fill="#fff3ee"/>
<circle cx="97.8" cy="646" r="3.5" fill="#fff3ee"/>
<circle cx="112.6" cy="594.6" r="3.5" fill="#fff3ee"/>
<circle cx="230.6" cy="572.4" r="3.5" fill="#fff3ee"/>
<circle cx="94.2" cy="567.4" r="3.85" fill="#fbb296"/>
<circle cx="153.1" cy="555.6" r="3.85" fill="#fbb296"/>
<circle cx="121.8" cy="538.2" r="3.85" fill="#fbb296"/>
<circle cx="101.6" cy="578" r="3.5" fill="#fff3ee"/>
<circle cx="171.2" cy="538.8" r="3.85" fill="#fbb296"/>
<circle cx="93.7" cy="576" r="3.85" fill="#fbb296"/>
<circle cx="147.6" cy="552.6" r="3.5" fill="#fff3ee"/>
<circle cx="150.6" cy="532.7" r="3.85" fill="#fbb296"/>
<circle cx="158.6" cy="546.1" r="3.85" fill="#fbb296"/>
<circle cx="104.7" cy="589.3" r="3.5" fill="#fff3ee"/>
<circle cx="119.1" cy="546" r="3.85" fill="#fbb296"/>
<circle cx="95.9" cy="550.7" r="3.85" fill="#fbb296"/>
<circle cx="157.2" cy="534.7" r="3.5" fill="#fff3ee"/>
<circle cx="133.5" cy="557.7" r="3.5" fill="#fff3ee"/>
<circle cx="122" cy="507" r="3.85" fill="#fbb296"/>
<circle cx="100.7" cy="588.4" r="3.85" fill="#fbb296"/>
<circle cx="105.9" cy="572.7" r="3.5" fill="#fff3ee"/>
<circle cx="116.5" cy="557.9" r="3.85" fill="#fbb296"/>
<circle cx="89.7" cy="605.7" r="3.5" fill="#fff3ee"/>
<circle cx="140.1" cy="520.1" r="4.3" fill="#ef4d35"/>
<circle cx="127.9" cy="566.4" r="3.5" fill="#fff3ee"/>
<circle cx="145.7" cy="561.7" r="3.5" fill="#fff3ee"/>
<circle cx="122.4" cy="541" r="3.85" fill="#fbb296"/>
<circle cx="101.5" cy="585.6" r="3.5" fill="#fff3ee"/>
<circle cx="148.6" cy="599.3" r="3.5" fill="#fff3ee"/>
<circle cx="86.5" cy="588.5" r="3.5" fill="#fff3ee"/>
<circle cx="106.5" cy="586.2" r="3.85" fill="#fbb296"/>
<circle cx="114.5" cy="548.5" r="3.85" fill="#fbb296"/>
<circle cx="143.6" cy="541.9" r="3.85" fill="#fbb296"/>
<circle cx="200.1" cy="518.3" r="4.3" fill="#ef4d35"/>
<circle cx="130.9" cy="572.1" r="3.5" fill="#fff3ee"/>
<circle cx="168.1" cy="492.6" r="4.3" fill="#ef4d35"/>
<circle cx="137.6" cy="520.4" r="4.3" fill="#ef4d35"/>
<circle cx="152.1" cy="540.1" r="3.85" fill="#fbb296"/>
<circle cx="142.3" cy="573.7" r="3.85" fill="#fbb296"/>
<circle cx="136.6" cy="524.6" r="3.85" fill="#fbb296"/>
<circle cx="181.7" cy="526.3" r="3.85" fill="#fbb296"/>
<circle cx="130.1" cy="556.9" r="3.85" fill="#fbb296"/>
<circle cx="114.1" cy="569" r="3.85" fill="#fbb296"/>
<circle cx="122.3" cy="554" r="3.85" fill="#fbb296"/>
<circle cx="111.1" cy="569.1" r="3.85" fill="#fbb296"/>
<circle cx="98.6" cy="608.5" r="3.85" fill="#fbb296"/>
<circle cx="108.9" cy="548.5" r="3.85" fill="#fbb296"/>
<circle cx="161.4" cy="579.9" r="3.5" fill="#fff3ee"/>
<circle cx="125.5" cy="522.8" r="3.85" fill="#fbb296"/>
<circle cx="121.5" cy="539.7" r="3.5" fill="#fff3ee"/>
<circle cx="132.6" cy="506.7" r="4.3" fill="#ef4d35"/>
<circle cx="163.2" cy="556.4" r="3.85" fill="#fbb296"/>
<circle cx="150.9" cy="585.7" r="3.85" fill="#fbb296"/>
<circle cx="196.7" cy="488.8" r="3.85" fill="#fbb296"/>
<circle cx="126.7" cy="585.4" r="3.85" fill="#fbb296"/>
<circle cx="124.8" cy="568.6" r="3.5" fill="#fff3ee"/>
<circle cx="129.4" cy="553.9" r="3.85" fill="#fbb296"/>
<circle cx="138.5" cy="591.8" r="3.85" fill="#fbb296"/>
<circle cx="168.3" cy="535.9" r="3.85" fill="#fbb296"/>
<circle cx="114.8" cy="514.5" r="3.85" fill="#fbb296"/>
<circle cx="175.3" cy="517.7" r="3.85" fill="#fbb296"/>
<circle cx="147.6" cy="576.2" r="3.85" fill="#fbb296"/>
<circle cx="132.1" cy="511.9" r="3.85" fill="#fbb296"/>
<circle cx="109.9" cy="603.4" r="3.85" fill="#fbb296"/>
<circle cx="107.6" cy="567.2" r="3.5" fill="#fff3ee"/>
<circle cx="127.7" cy="571.9" r="3.85" fill="#fbb296"/>
<circle cx="119.7" cy="565.4" r="3.85" fill="#fbb296"/>
<circle cx="113.7" cy="523.9" r="3.85" fill="#fbb296"/>
<circle cx="93.5" cy="599.1" r="3.5" fill="#fff3ee"/>
<circle cx="136.6" cy="564.1" r="3.85" fill="#fbb296"/>
<circle cx="140.8" cy="562" r="3.5" fill="#fff3ee"/>
<circle cx="149.4" cy="532.4" r="4.3" fill="#ef4d35"/>
<circle cx="116.5" cy="585.1" r="3.85" fill="#fbb296"/>
<circle cx="119.4" cy="518.9" r="3.85" fill="#fbb296"/>
<circle cx="118.5" cy="567.2" r="3.85" fill="#fbb296"/>
<circle cx="106.7" cy="564.9" r="3.5" fill="#fff3ee"/>
<circle cx="121.5" cy="582" r="3.5" fill="#fff3ee"/>
<circle cx="128.6" cy="537.3" r="3.85" fill="#fbb296"/>
<circle cx="122.4" cy="539.2" r="3.85" fill="#fbb296"/>
<circle cx="124.3" cy="570.6" r="3.85" fill="#fbb296"/>
<circle cx="83.4" cy="573.8" r="3.5" fill="#fff3ee"/>
<circle cx="135.4" cy="558.4" r="3.85" fill="#fbb296"/>
<circle cx="113.7" cy="543.8" r="3.5" fill="#fff3ee"/>
<circle cx="137.6" cy="548" r="3.5" fill="#fff3ee"/>
<circle cx="142.3" cy="589.8" r="3.85" fill="#fbb296"/>
<circle cx="137.9" cy="490.2" r="3.85" fill="#fbb296"/>
<circle cx="122.7" cy="581.2" r="3.85" fill="#fbb296"/>
<circle cx="112.7" cy="537.4" r="3.85" fill="#fbb296"/>
<circle cx="166.6" cy="519" r="3.85" fill="#fbb296"/>
<circle cx="124.3" cy="537.8" r="3.5" fill="#fff3ee"/>
<circle cx="159.3" cy="529.6" r="4.3" fill="#ef4d35"/>
<circle cx="166.6" cy="597.7" r="3.85" fill="#fbb296"/>
<circle cx="134.6" cy="568.7" r="3.85" fill="#fbb296"/>
<circle cx="132.7" cy="575.9" r="3.85" fill="#fbb296"/>
<circle cx="123.4" cy="521.8" r="3.85" fill="#fbb296"/>
<circle cx="106" cy="612.3" r="3.85" fill="#fbb296"/>
<circle cx="103.4" cy="601.1" r="3.85" fill="#fbb296"/>
<circle cx="126.9" cy="563.1" r="3.5" fill="#fff3ee"/>
<circle cx="120.4" cy="517.6" r="3.85" fill="#fbb296"/>
<circle cx="122.2" cy="547.7" r="3.5" fill="#fff3ee"/>
<circle cx="134.3" cy="505.2" r="3.85" fill="#fbb296"/>
<circle cx="92.9" cy="610.5" r="3.5" fill="#fff3ee"/>
<circle cx="98" cy="609.8" r="3.5" fill="#fff3ee"/>
<circle cx="153.6" cy="566.8" r="3.85" fill="#fbb296"/>
<circle cx="147.2" cy="536.6" r="3.85" fill="#fbb296"/>
<circle cx="111.2" cy="572.7" r="3.5" fill="#fff3ee"/>
<circle cx="132.8" cy="558" r="3.5" fill="#fff3ee"/>
<circle cx="140.3" cy="550.8" r="3.85" fill="#fbb296"/>
<circle cx="93.1" cy="562.9" r="3.5" fill="#fff3ee"/>
<circle cx="103.7" cy="594.9" r="3.5" fill="#fff3ee"/>
<circle cx="136.9" cy="504.5" r="3.85" fill="#fbb296"/>
<circle cx="172.4" cy="537.4" r="3.85" fill="#fbb296"/>
<circle cx="124.3" cy="548.3" r="3.85" fill="#fbb296"/>
<circle cx="106.7" cy="568.5" r="3.5" fill="#fff3ee"/>
<circle cx="159.2" cy="549.2" r="3.85" fill="#fbb296"/>
<circle cx="153.2" cy="540.7" r="4.3" fill="#ef4d35"/>
<circle cx="188" cy="536" r="3.85" fill="#fbb296"/>
<circle cx="126.8" cy="579.4" r="3.5" fill="#fff3ee"/>
<circle cx="166.9" cy="536.4" r="3.85" fill="#fbb296"/>
<circle cx="98.9" cy="637.1" r="3.5" fill="#fff3ee"/>
<circle cx="107.3" cy="565.8" r="3.85" fill="#fbb296"/>
<circle cx="142.9" cy="531.8" r="3.85" fill="#fbb296"/>
<circle cx="95.7" cy="571.8" r="3.85" fill="#fbb296"/>
<circle cx="99.4" cy="601.6" r="3.5" fill="#fff3ee"/>
<circle cx="109.3" cy="544.4" r="3.85" fill="#fbb296"/>
<circle cx="87.1" cy="625.6" r="3.5" fill="#fff3ee"/>
<circle cx="162.8" cy="578.1" r="3.85" fill="#fbb296"/>
<circle cx="143.9" cy="478.6" r="4.3" fill="#ef4d35"/>
<circle cx="173.9" cy="528.7" r="4.3" fill="#ef4d35"/>
<circle cx="139.7" cy="517.8" r="3.5" fill="#fff3ee"/>
<circle cx="108.2" cy="600.9" r="3.85" fill="#fbb296"/>
<circle cx="117.2" cy="618.9" r="3.5" fill="#fff3ee"/>
<circle cx="100" cy="534.1" r="3.5" fill="#fff3ee"/>
<circle cx="135.4" cy="560.7" r="3.85" fill="#fbb296"/>
<circle cx="177.1" cy="518.9" r="4.3" fill="#ef4d35"/>
<circle cx="122.6" cy="533.3" r="3.85" fill="#fbb296"/>
<circle cx="153.5" cy="570.9" r="3.85" fill="#fbb296"/>
<circle cx="122.9" cy="578.6" r="3.85" fill="#fbb296"/>
<circle cx="148.4" cy="508.9" r="3.85" fill="#fbb296"/>
<circle cx="111.1" cy="603.3" r="3.85" fill="#fbb296"/>
<circle cx="131.6" cy="538.5" r="3.5" fill="#fff3ee"/>
<circle cx="173.4" cy="521.7" r="4.3" fill="#ef4d35"/>
<circle cx="113.3" cy="580" r="3.85" fill="#fbb296"/>
<circle cx="105.1" cy="562.4" r="3.85" fill="#fbb296"/>
<circle cx="129.2" cy="546.9" r="3.5" fill="#fff3ee"/>
<circle cx="124.2" cy="533.8" r="3.85" fill="#fbb296"/>
<circle cx="163.7" cy="587.4" r="3.5" fill="#fff3ee"/>
<circle cx="109.9" cy="587.3" r="3.85" fill="#fbb296"/>
<circle cx="116.5" cy="582.6" r="3.85" fill="#fbb296"/>
<circle cx="120" cy="588.5" r="3.85" fill="#fbb296"/>
<circle cx="114.5" cy="581.7" r="3.85" fill="#fbb296"/>
<circle cx="149.2" cy="547.4" r="3.85" fill="#fbb296"/>
<circle cx="118.6" cy="544.1" r="3.5" fill="#fff3ee"/>
<circle cx="130.7" cy="546.3" r="3.85" fill="#fbb296"/>
<circle cx="96.3" cy="562.5" r="3.85" fill="#fbb296"/>
<circle cx="133" cy="537.5" r="3.85" fill="#fbb296"/>
<circle cx="162.8" cy="504.2" r="4.3" fill="#ef4d35"/>
<circle cx="94.7" cy="595" r="3.5" fill="#fff3ee"/>
<circle cx="122" cy="522.1" r="3.85" fill="#fbb296"/>
<circle cx="129.6" cy="537.1" r="3.85" fill="#fbb296"/>
<circle cx="153.2" cy="491.4" r="4.3" fill="#ef4d35"/>
<circle cx="179.2" cy="510.3" r="3.85" fill="#fbb296"/>
<circle cx="118.4" cy="573.9" r="3.5" fill="#fff3ee"/>
<circle cx="144.7" cy="511.2" r="4.3" fill="#ef4d35"/>
<circle cx="148.3" cy="586.7" r="3.5" fill="#fff3ee"/>
<circle cx="160.5" cy="563.6" r="3.85" fill="#fbb296"/>
<circle cx="159.3" cy="565.9" r="3.5" fill="#fff3ee"/>
<circle cx="131.9" cy="540.5" r="3.85" fill="#fbb296"/>
<circle cx="120" cy="492" r="3.85" fill="#fbb296"/>
<circle cx="121.6" cy="550.2" r="3.85" fill="#fbb296"/>
<circle cx="100.8" cy="593.9" r="3.5" fill="#fff3ee"/>
<circle cx="203" cy="520.2" r="4.3" fill="#ef4d35"/>
<circle cx="109.3" cy="559.3" r="3.85" fill="#fbb296"/>
<circle cx="147.9" cy="543.2" r="3.85" fill="#fbb296"/>
<circle cx="125.2" cy="542.1" r="3.85" fill="#fbb296"/>
<circle cx="131.4" cy="555.3" r="3.85" fill="#fbb296"/>
<circle cx="126.9" cy="514.5" r="3.85" fill="#fbb296"/>
<circle cx="122.9" cy="569.3" r="3.85" fill="#fbb296"/>
<circle cx="114.9" cy="561.5" r="3.85" fill="#fbb296"/>
<circle cx="148.5" cy="577.1" r="3.85" fill="#fbb296"/>
<circle cx="146" cy="577.4" r="3.85" fill="#fbb296"/>
<circle cx="187.1" cy="491.4" r="4.3" fill="#ef4d35"/>
<circle cx="130.8" cy="615" r="3.85" fill="#fbb296"/>
<circle cx="149.2" cy="541.4" r="4.3" fill="#ef4d35"/>
<circle cx="132.3" cy="609.1" r="3.85" fill="#fbb296"/>
<circle cx="150.2" cy="591.8" r="3.85" fill="#fbb296"/>
<circle cx="139.7" cy="606" r="3.5" fill="#fff3ee"/>
<circle cx="131.7" cy="528.9" r="3.85" fill="#fbb296"/>
<circle cx="162.5" cy="513.2" r="4.3" fill="#ef4d35"/>
<circle cx="112.5" cy="598.5" r="3.5" fill="#fff3ee"/>
<circle cx="124.8" cy="571.4" r="3.85" fill="#fbb296"/>
<circle cx="118.7" cy="550.9" r="3.5" fill="#fff3ee"/>
<circle cx="142.7" cy="563.4" r="3.5" fill="#fff3ee"/>
<circle cx="124.9" cy="559.5" r="3.85" fill="#fbb296"/>
<circle cx="126.3" cy="566.9" r="3.5" fill="#fff3ee"/>
<circle cx="116.9" cy="618.7" r="3.85" fill="#fbb296"/>
<circle cx="123.8" cy="590.2" r="3.5" fill="#fff3ee"/>
<circle cx="137.1" cy="604.5" r="3.5" fill="#fff3ee"/>
<circle cx="106.7" cy="549.5" r="3.5" fill="#fff3ee"/>
<circle cx="117.8" cy="549.5" r="3.85" fill="#fbb296"/>
<circle cx="162.4" cy="499.2" r="3.85" fill="#fbb296"/>
<circle cx="128.5" cy="582.7" r="3.5" fill="#fff3ee"/>
<circle cx="159.4" cy="558.1" r="3.85" fill="#fbb296"/>
<circle cx="146.9" cy="545.6" r="3.5" fill="#fff3ee"/>
<circle cx="137.9" cy="593" r="3.5" fill="#fff3ee"/>
<circle cx="169.9" cy="489.6" r="4.3" fill="#ef4d35"/>
<circle cx="134.8" cy="558.2" r="3.85" fill="#fbb296"/>
<circle cx="126.4" cy="587.6" r="3.85" fill="#fbb296"/>
<circle cx="122.1" cy="592.2" r="3.5" fill="#fff3ee"/>
<circle cx="111.3" cy="569.4" r="3.85" fill="#fbb296"/>
<circle cx="107.2" cy="538.2" r="3.85" fill="#fbb296"/>
<circle cx="105.2" cy="558.2" r="3.5" fill="#fff3ee"/>
<circle cx="166.5" cy="495.8" r="4.3" fill="#ef4d35"/>
<circle cx="127.7" cy="539.4" r="3.85" fill="#fbb296"/>
<circle cx="125.7" cy="585.7" r="3.5" fill="#fff3ee"/>
<circle cx="117.5" cy="574.1" r="3.5" fill="#fff3ee"/>
<circle cx="136" cy="533.4" r="3.85" fill="#fbb296"/>
<circle cx="112.9" cy="607.1" r="3.85" fill="#fbb296"/>
<circle cx="118.3" cy="581.5" r="3.5" fill="#fff3ee"/>
<circle cx="147.7" cy="592.3" r="3.85" fill="#fbb296"/>
<circle cx="126" cy="495.8" r="3.85" fill="#fbb296"/>
<circle cx="152.1" cy="536.1" r="3.85" fill="#fbb296"/>
<circle cx="123.4" cy="591.5" r="3.5" fill="#fff3ee"/>
<circle cx="167.2" cy="511.6" r="3.85" fill="#fbb296"/>
<circle cx="122.1" cy="505" r="4.3" fill="#ef4d35"/>
<circle cx="130.4" cy="581.1" r="3.85" fill="#fbb296"/>
<circle cx="135.4" cy="545.7" r="3.85" fill="#fbb296"/>
<circle cx="119.1" cy="569.6" r="3.85" fill="#fbb296"/>
<circle cx="135.1" cy="576.8" r="3.85" fill="#fbb296"/>
<circle cx="128.9" cy="603.4" r="3.85" fill="#fbb296"/>
<circle cx="125.8" cy="602.6" r="3.85" fill="#fbb296"/>
<circle cx="140.1" cy="570.4" r="3.5" fill="#fff3ee"/>
<circle cx="171" cy="532.2" r="3.85" fill="#fbb296"/>
<circle cx="120.1" cy="573.6" r="3.85" fill="#fbb296"/>
<circle cx="103.1" cy="558.1" r="3.5" fill="#fff3ee"/>
<circle cx="139.5" cy="538.7" r="3.85" fill="#fbb296"/>
<circle cx="144.4" cy="600.9" r="3.5" fill="#fff3ee"/>
<circle cx="116.2" cy="513.9" r="4.3" fill="#ef4d35"/>
<circle cx="166.9" cy="539.5" r="3.85" fill="#fbb296"/>
<circle cx="118.1" cy="530.9" r="4.3" fill="#ef4d35"/>
<circle cx="115.3" cy="602.9" r="3.5" fill="#fff3ee"/>
<circle cx="125.6" cy="573.9" r="3.85" fill="#fbb296"/>
<circle cx="141.3" cy="561.3" r="3.85" fill="#fbb296"/>
<circle cx="121.8" cy="576.1" r="3.5" fill="#fff3ee"/>
<circle cx="138.1" cy="548.9" r="3.85" fill="#fbb296"/>
<circle cx="132.9" cy="587.5" r="3.85" fill="#fbb296"/>
<circle cx="148.5" cy="559.9" r="3.85" fill="#fbb296"/>
<circle cx="156.1" cy="492.3" r="4.3" fill="#ef4d35"/>
<circle cx="116.2" cy="533.8" r="3.85" fill="#fbb296"/>
<circle cx="168.9" cy="554.5" r="3.85" fill="#fbb296"/>
<circle cx="116.5" cy="560.2" r="3.85" fill="#fbb296"/>
<circle cx="128.2" cy="551.7" r="3.5" fill="#fff3ee"/>
<circle cx="120.2" cy="566.1" r="3.85" fill="#fbb296"/>
<circle cx="130.6" cy="494.5" r="4.3" fill="#ef4d35"/>
<circle cx="114.7" cy="571.6" r="3.85" fill="#fbb296"/>
<circle cx="136.3" cy="518.5" r="3.85" fill="#fbb296"/>
<circle cx="147.3" cy="516.4" r="3.85" fill="#fbb296"/>
<circle cx="101.8" cy="559.1" r="3.5" fill="#fff3ee"/>
<circle cx="155.4" cy="519.4" r="3.85" fill="#fbb296"/>
<circle cx="131.5" cy="545.4" r="3.85" fill="#fbb296"/>
<circle cx="102" cy="571.8" r="3.85" fill="#fbb296"/>
<circle cx="145.9" cy="528" r="3.85" fill="#fbb296"/>
<circle cx="114" cy="569.9" r="3.5" fill="#fff3ee"/>
<circle cx="129.3" cy="554.7" r="3.5" fill="#fff3ee"/>
<circle cx="166.4" cy="505.6" r="3.85" fill="#fbb296"/>
<circle cx="103.4" cy="577.5" r="3.5" fill="#fff3ee"/>
<circle cx="109.8" cy="566" r="3.85" fill="#fbb296"/>
<circle cx="139.9" cy="555.9" r="4.3" fill="#ef4d35"/>
<circle cx="146.1" cy="537.9" r="3.85" fill="#fbb296"/>
<circle cx="141.8" cy="564.4" r="3.85" fill="#fbb296"/>
<circle cx="120.3" cy="586.9" r="3.5" fill="#fff3ee"/>
<circle cx="145.1" cy="532.1" r="4.3" fill="#ef4d35"/>
<circle cx="97.7" cy="599.1" r="3.5" fill="#fff3ee"/>
<circle cx="155.5" cy="610.1" r="3.5" fill="#fff3ee"/>
<circle cx="113.4" cy="608" r="3.5" fill="#fff3ee"/>
<circle cx="177.3" cy="499" r="4.3" fill="#ef4d35"/>
<circle cx="132.5" cy="515.7" r="3.85" fill="#fbb296"/>
<circle cx="127.7" cy="544.7" r="3.85" fill="#fbb296"/>
<circle cx="138.7" cy="558.4" r="3.85" fill="#fbb296"/>
<circle cx="124.7" cy="513.4" r="3.85" fill="#fbb296"/>
<circle cx="117.8" cy="603.9" r="3.85" fill="#fbb296"/>
<circle cx="166.7" cy="551.3" r="3.85" fill="#fbb296"/>
<circle cx="124.2" cy="534.8" r="3.5" fill="#fff3ee"/>
<circle cx="163.3" cy="539.7" r="3.5" fill="#fff3ee"/>
<circle cx="126.1" cy="548.7" r="3.85" fill="#fbb296"/>
<circle cx="129.5" cy="536.1" r="3.85" fill="#fbb296"/>
<circle cx="141.6" cy="617.9" r="3.5" fill="#fff3ee"/>
<circle cx="112.1" cy="599.4" r="3.85" fill="#fbb296"/>
<circle cx="120.5" cy="568.1" r="3.5" fill="#fff3ee"/>
<circle cx="100.4" cy="567.2" r="3.5" fill="#fff3ee"/>
<circle cx="136.3" cy="541.1" r="3.5" fill="#fff3ee"/>
<circle cx="155.8" cy="556.8" r="3.85" fill="#fbb296"/>
<circle cx="175.3" cy="522.8" r="3.85" fill="#fbb296"/>
<circle cx="160.7" cy="498.7" r="4.3" fill="#ef4d35"/>
<circle cx="120.3" cy="607.6" r="3.85" fill="#fbb296"/>
<circle cx="147" cy="486" r="4.3" fill="#ef4d35"/>
<circle cx="132" cy="557.8" r="3.5" fill="#fff3ee"/>
<circle cx="185.1" cy="438.2" r="4.3" fill="#ef4d35"/>
<circle cx="107.4" cy="577.5" r="3.5" fill="#fff3ee"/>
<circle cx="161.8" cy="532.6" r="4.3" fill="#ef4d35"/>
<circle cx="144.1" cy="634.4" r="3.5" fill="#fff3ee"/>
<circle cx="131.1" cy="594.1" r="3.5" fill="#fff3ee"/>
<circle cx="120.6" cy="563.6" r="3.5" fill="#fff3ee"/>
<circle cx="136" cy="536.2" r="3.85" fill="#fbb296"/>
<circle cx="126.2" cy="576" r="3.5" fill="#fff3ee"/>
<circle cx="101.5" cy="622.4" r="3.5" fill="#fff3ee"/>
<circle cx="99.7" cy="572.4" r="3.85" fill="#fbb296"/>
<circle cx="137.9" cy="552.6" r="3.85" fill="#fbb296"/>
<circle cx="120.8" cy="577.8" r="3.85" fill="#fbb296"/>
<circle cx="162.3" cy="536.9" r="4.3" fill="#ef4d35"/>
<circle cx="129.9" cy="583" r="3.85" fill="#fbb296"/>
<circle cx="139.6" cy="525.3" r="4.3" fill="#ef4d35"/>
<circle cx="107.8" cy="583.5" r="3.85" fill="#fbb296"/>
<circle cx="106.5" cy="569.1" r="3.5" fill="#fff3ee"/>
<circle cx="137.1" cy="494.1" r="4.3" fill="#ef4d35"/>
<circle cx="137.4" cy="546.7" r="3.85" fill="#fbb296"/>
<circle cx="127.5" cy="538.5" r="3.85" fill="#fbb296"/>
<circle cx="153.9" cy="600.8" r="3.5" fill="#fff3ee"/>
<circle cx="131.2" cy="561.6" r="3.85" fill="#fbb296"/>
<circle cx="161.4" cy="552.6" r="3.85" fill="#fbb296"/>
<circle cx="165.8" cy="534.3" r="4.3" fill="#ef4d35"/>
<circle cx="141.2" cy="532.6" r="3.85" fill="#fbb296"/>
<circle cx="116.6" cy="550.9" r="3.85" fill="#fbb296"/>
<circle cx="107.6" cy="621.4" r="3.5" fill="#fff3ee"/>
<circle cx="129" cy="521.4" r="3.85" fill="#fbb296"/>
<circle cx="104" cy="584.1" r="3.85" fill="#fbb296"/>
<circle cx="135.1" cy="554.8" r="3.85" fill="#fbb296"/>
<circle cx="174.8" cy="497.6" r="4.3" fill="#ef4d35"/>
<circle cx="151.8" cy="519.8" r="3.85" fill="#fbb296"/>
<circle cx="114.2" cy="563.8" r="3.85" fill="#fbb296"/>
<circle cx="100" cy="607.5" r="3.5" fill="#fff3ee"/>
<circle cx="142.8" cy="571.3" r="3.5" fill="#fff3ee"/>
<circle cx="90.9" cy="613.2" r="3.5" fill="#fff3ee"/>
<circle cx="110.5" cy="552" r="3.5" fill="#fff3ee"/>
<circle cx="169.3" cy="492.1" r="3.85" fill="#fbb296"/>
<circle cx="124" cy="548.2" r="3.85" fill="#fbb296"/>
<circle cx="98" cy="583.2" r="3.5" fill="#fff3ee"/>
<circle cx="113.9" cy="562" r="3.85" fill="#fbb296"/>
<circle cx="111.2" cy="578.7" r="3.5" fill="#fff3ee"/>
<circle cx="170.9" cy="491.2" r="4.3" fill="#ef4d35"/>
<circle cx="131.4" cy="483.8" r="3.85" fill="#fbb296"/>
<circle cx="134.6" cy="553" r="3.85" fill="#fbb296"/>
<circle cx="110.8" cy="614.1" r="3.5" fill="#fff3ee"/>
<circle cx="158" cy="546.2" r="3.85" fill="#fbb296"/>
<circle cx="142" cy="533.9" r="3.5" fill="#fff3ee"/>
<circle cx="104.5" cy="595.8" r="3.5" fill="#fff3ee"/>
<circle cx="123.3" cy="529.7" r="3.85" fill="#fbb296"/>
<circle cx="171.5" cy="526.1" r="3.85" fill="#fbb296"/>
<circle cx="128.7" cy="593.2" r="3.85" fill="#fbb296"/>
<circle cx="178.1" cy="562.7" r="3.85" fill="#fbb296"/>
<circle cx="126.6" cy="532.1" r="3.85" fill="#fbb296"/>
<circle cx="114.5" cy="546" r="3.85" fill="#fbb296"/>
<circle cx="132.4" cy="563.9" r="3.85" fill="#fbb296"/>
<circle cx="137.7" cy="554.3" r="3.85" fill="#fbb296"/>
<circle cx="88.9" cy="588.2" r="3.5" fill="#fff3ee"/>
<circle cx="108.5" cy="570.7" r="3.85" fill="#fbb296"/>
<circle cx="173.9" cy="581.6" r="3.85" fill="#fbb296"/>
<circle cx="137.1" cy="521.7" r="4.3" fill="#ef4d35"/>
<circle cx="93.6" cy="605.2" r="3.5" fill="#fff3ee"/>
<circle cx="158.3" cy="547.5" r="3.85" fill="#fbb296"/>
<circle cx="129.6" cy="568.3" r="3.85" fill="#fbb296"/>
<circle cx="157" cy="550.9" r="3.85" fill="#fbb296"/>
<circle cx="115.4" cy="619.5" r="3.85" fill="#fbb296"/>
<circle cx="155.8" cy="546" r="3.85" fill="#fbb296"/>
<circle cx="111" cy="546.3" r="3.85" fill="#fbb296"/>
<circle cx="96.1" cy="577.7" r="3.5" fill="#fff3ee"/>
<circle cx="135.6" cy="552.9" r="3.85" fill="#fbb296"/>
<circle cx="114.4" cy="542.6" r="3.85" fill="#fbb296"/>
<circle cx="152.9" cy="595.7" r="3.5" fill="#fff3ee"/>
<circle cx="174" cy="553.2" r="3.85" fill="#fbb296"/>
<circle cx="188" cy="499.8" r="4.3" fill="#ef4d35"/>
<circle cx="104.8" cy="544.9" r="3.85" fill="#fbb296"/>
<circle cx="167.8" cy="533.2" r="3.5" fill="#fff3ee"/>
<circle cx="90.8" cy="573.6" r="3.5" fill="#fff3ee"/>
<circle cx="173.2" cy="611.3" r="3.85" fill="#fbb296"/>
<circle cx="132.9" cy="537.7" r="3.85" fill="#fbb296"/>
<circle cx="188.8" cy="506.1" r="4.3" fill="#ef4d35"/>
<circle cx="145.9" cy="578.6" r="3.85" fill="#fbb296"/>
<circle cx="141.1" cy="540.5" r="3.85" fill="#fbb296"/>
<circle cx="117.8" cy="547.7" r="3.85" fill="#fbb296"/>
<circle cx="163.2" cy="533.3" r="3.85" fill="#fbb296"/>
<circle cx="125" cy="597.9" r="3.5" fill="#fff3ee"/>
<circle cx="95.3" cy="557" r="3.85" fill="#fbb296"/>
<circle cx="120.6" cy="563.7" r="3.5" fill="#fff3ee"/>
<circle cx="212.4" cy="517.4" r="3.85" fill="#fbb296"/>
<circle cx="126.2" cy="560.8" r="3.5" fill="#fff3ee"/>
<circle cx="175.2" cy="529.6" r="4.3" fill="#ef4d35"/>
<circle cx="113.1" cy="537.2" r="3.5" fill="#fff3ee"/>
<circle cx="108.5" cy="587" r="3.85" fill="#fbb296"/>
<circle cx="119.9" cy="561" r="3.85" fill="#fbb296"/>
<circle cx="108" cy="570.5" r="3.85" fill="#fbb296"/>
<circle cx="159.4" cy="528.7" r="4.3" fill="#ef4d35"/>
<circle cx="137" cy="528.5" r="3.85" fill="#fbb296"/>
<circle cx="114.9" cy="544.6" r="3.85" fill="#fbb296"/>
<circle cx="109.5" cy="591.7" r="3.85" fill="#fbb296"/>
<circle cx="131.8" cy="540.4" r="3.85" fill="#fbb296"/>
<circle cx="120.6" cy="595.9" r="3.85" fill="#fbb296"/>
<circle cx="137.2" cy="545.6" r="3.85" fill="#fbb296"/>
<circle cx="124.4" cy="580.6" r="3.85" fill="#fbb296"/>
<circle cx="118.7" cy="572.7" r="3.85" fill="#fbb296"/>
<circle cx="145.5" cy="562" r="3.85" fill="#fbb296"/>
<circle cx="189.4" cy="500.4" r="4.3" fill="#ef4d35"/>
<circle cx="126.9" cy="538.9" r="3.85" fill="#fbb296"/>
<circle cx="121" cy="569" r="3.85" fill="#fbb296"/>
<circle cx="111.4" cy="623.1" r="3.5" fill="#fff3ee"/>
<circle cx="122.8" cy="516.5" r="4.3" fill="#ef4d35"/>
<circle cx="164.7" cy="543" r="3.85" fill="#fbb296"/>
<circle cx="148" cy="584.9" r="3.85" fill="#fbb296"/>
<circle cx="162.8" cy="504.4" r="3.5" fill="#fff3ee"/>
<circle cx="162.9" cy="550" r="3.85" fill="#fbb296"/>
<circle cx="124.4" cy="522.7" r="3.85" fill="#fbb296"/>
<circle cx="161.5" cy="515.3" r="4.3" fill="#ef4d35"/>
<circle cx="162" cy="554" r="3.5" fill="#fff3ee"/>
<circle cx="156.6" cy="529.3" r="3.85" fill="#fbb296"/>
<circle cx="143.1" cy="575.4" r="3.85" fill="#fbb296"/>
<circle cx="116.6" cy="594.7" r="3.5" fill="#fff3ee"/>
<circle cx="86" cy="613.5" r="3.5" fill="#fff3ee"/>
<circle cx="132" cy="544.8" r="3.85" fill="#fbb296"/>
<circle cx="143.6" cy="556.3" r="3.5" fill="#fff3ee"/>
<circle cx="114.6" cy="547.8" r="3.85" fill="#fbb296"/>
<circle cx="128.7" cy="556.7" r="3.5" fill="#fff3ee"/>
<circle cx="122" cy="575.8" r="3.85" fill="#fbb296"/>
<circle cx="113" cy="570.8" r="3.85" fill="#fbb296"/>
<circle cx="131.3" cy="569.8" r="3.5" fill="#fff3ee"/>
<circle cx="131.9" cy="492.7" r="3.85" fill="#fbb296"/>
<circle cx="105.5" cy="542.3" r="3.85" fill="#fbb296"/>
<circle cx="137.9" cy="507.9" r="4.3" fill="#ef4d35"/>
<circle cx="161.1" cy="554.6" r="3.85" fill="#fbb296"/>
<circle cx="108.7" cy="527.3" r="3.85" fill="#fbb296"/>
<circle cx="129.9" cy="541.2" r="3.85" fill="#fbb296"/>
<circle cx="139" cy="539.2" r="3.85" fill="#fbb296"/>
<circle cx="143.5" cy="535.4" r="4.3" fill="#ef4d35"/>
<circle cx="155.4" cy="563.6" r="3.85" fill="#fbb296"/>
<circle cx="107.2" cy="608.7" r="3.85" fill="#fbb296"/>
<circle cx="117.7" cy="589.8" r="3.5" fill="#fff3ee"/>
<circle cx="122.3" cy="572.9" r="3.5" fill="#fff3ee"/>
<circle cx="115.4" cy="574.8" r="3.5" fill="#fff3ee"/>
<circle cx="113.7" cy="611.9" r="3.5" fill="#fff3ee"/>
<circle cx="120" cy="549.2" r="3.85" fill="#fbb296"/>
<circle cx="110.6" cy="580.2" r="3.85" fill="#fbb296"/>
<circle cx="151.1" cy="505.1" r="4.3" fill="#ef4d35"/>
<circle cx="126.8" cy="546.6" r="3.85" fill="#fbb296"/>
<circle cx="107.7" cy="575.1" r="3.85" fill="#fbb296"/>
<circle cx="109.4" cy="509.5" r="3.85" fill="#fbb296"/>
<circle cx="131.9" cy="549.4" r="3.85" fill="#fbb296"/>
<circle cx="97.8" cy="567.3" r="3.85" fill="#fbb296"/>
<circle cx="138.9" cy="598.8" r="3.5" fill="#fff3ee"/>
<circle cx="142.2" cy="581.4" r="3.85" fill="#fbb296"/>
<circle cx="149.6" cy="537.5" r="3.85" fill="#fbb296"/>
<circle cx="112" cy="534.6" r="4.3" fill="#ef4d35"/>
<circle cx="139.8" cy="574.3" r="3.5" fill="#fff3ee"/>
<circle cx="154.9" cy="599.7" r="3.85" fill="#fbb296"/>
<circle cx="122.8" cy="577.1" r="3.5" fill="#fff3ee"/>
<circle cx="127.4" cy="592" r="3.85" fill="#fbb296"/>
<circle cx="117.7" cy="582.7" r="3.85" fill="#fbb296"/>
<circle cx="144.8" cy="595.7" r="3.5" fill="#fff3ee"/>
<circle cx="123.5" cy="611.6" r="3.5" fill="#fff3ee"/>
<circle cx="141.6" cy="551.4" r="3.85" fill="#fbb296"/>
<circle cx="142.3" cy="591.9" r="3.85" fill="#fbb296"/>
<circle cx="142.8" cy="528.1" r="4.3" fill="#ef4d35"/>
<circle cx="129.1" cy="549" r="3.85" fill="#fbb296"/>
<circle cx="118.5" cy="538.4" r="3.85" fill="#fbb296"/>
<circle cx="144.2" cy="541.2" r="3.85" fill="#fbb296"/>
<circle cx="156.2" cy="564.3" r="3.85" fill="#fbb296"/>
<circle cx="119.7" cy="557.2" r="3.85" fill="#fbb296"/>
<circle cx="115.2" cy="602.8" r="3.5" fill="#fff3ee"/>
<circle cx="103" cy="577.8" r="3.5" fill="#fff3ee"/>
<circle cx="152.6" cy="562.9" r="3.85" fill="#fbb296"/>
<circle cx="109.4" cy="556.1" r="3.85" fill="#fbb296"/>
<circle cx="110.4" cy="548.5" r="3.85" fill="#fbb296"/>
<circle cx="124.9" cy="609.8" r="3.5" fill="#fff3ee"/>
<circle cx="149.3" cy="576.8" r="3.5" fill="#fff3ee"/>
<circle cx="115.8" cy="549.1" r="3.5" fill="#fff3ee"/>
<circle cx="162.5" cy="552" r="3.85" fill="#fbb296"/>
<circle cx="106.9" cy="565.1" r="3.5" fill="#fff3ee"/>
<circle cx="107.5" cy="580.3" r="3.5" fill="#fff3ee"/>
<circle cx="95.5" cy="597" r="3.85" fill="#fbb296"/>
<circle cx="160.1" cy="545.5" r="3.85" fill="#fbb296"/>
<circle cx="143.5" cy="570.7" r="3.85" fill="#fbb296"/>
<circle cx="181.3" cy="529.9" r="3.85" fill="#fbb296"/>
<circle cx="120.4" cy="565.1" r="3.85" fill="#fbb296"/>
<circle cx="135.8" cy="545.5" r="3.85" fill="#fbb296"/>
<circle cx="163.5" cy="549.4" r="3.85" fill="#fbb296"/>
<circle cx="130" cy="572.9" r="3.5" fill="#fff3ee"/>
<circle cx="117.1" cy="590.6" r="3.85" fill="#fbb296"/>
<circle cx="108.4" cy="580.7" r="3.5" fill="#fff3ee"/>
<circle cx="118.2" cy="566.1" r="3.5" fill="#fff3ee"/>
<circle cx="151.8" cy="547.1" r="3.85" fill="#fbb296"/>
<circle cx="136.8" cy="607.1" r="3.5" fill="#fff3ee"/>
<circle cx="101.3" cy="634.4" r="3.85" fill="#fbb296"/>
<circle cx="114.2" cy="630.7" r="3.85" fill="#fbb296"/>
<circle cx="122.5" cy="536.2" r="3.85" fill="#fbb296"/>
<circle cx="111.7" cy="566.4" r="3.85" fill="#fbb296"/>
<circle cx="115.5" cy="621.4" r="3.5" fill="#fff3ee"/>
<circle cx="172.6" cy="517.3" r="3.85" fill="#fbb296"/>
<circle cx="141.7" cy="537.6" r="3.85" fill="#fbb296"/>
<circle cx="149.5" cy="583.7" r="3.85" fill="#fbb296"/>
<circle cx="117.8" cy="539" r="3.5" fill="#fff3ee"/>
<circle cx="105.9" cy="600.2" r="3.85" fill="#fbb296"/>
<circle cx="171.6" cy="524.3" r="4.3" fill="#ef4d35"/>
<circle cx="128.4" cy="507.1" r="3.85" fill="#fbb296"/>
<circle cx="158.1" cy="570.6" r="3.85" fill="#fbb296"/>
<circle cx="149.2" cy="552" r="3.85" fill="#fbb296"/>
<circle cx="110.2" cy="601.5" r="3.5" fill="#fff3ee"/>
<circle cx="121.9" cy="559.6" r="3.85" fill="#fbb296"/>
<circle cx="95.6" cy="572.4" r="3.5" fill="#fff3ee"/>
<circle cx="149.7" cy="506.6" r="4.3" fill="#ef4d35"/>
<circle cx="138.9" cy="605.8" r="3.85" fill="#fbb296"/>
<circle cx="146.6" cy="556.7" r="3.5" fill="#fff3ee"/>
<circle cx="112.2" cy="565" r="3.85" fill="#fbb296"/>
<circle cx="129.9" cy="583.1" r="3.85" fill="#fbb296"/>
<circle cx="149.1" cy="533.7" r="3.85" fill="#fbb296"/>
<circle cx="165.7" cy="537.8" r="3.85" fill="#fbb296"/>
<circle cx="156.6" cy="549.2" r="3.85" fill="#fbb296"/>
<circle cx="148.3" cy="522.7" r="3.85" fill="#fbb296"/>
<circle cx="120.5" cy="560.7" r="3.85" fill="#fbb296"/>
<circle cx="91.9" cy="596.8" r="3.5" fill="#fff3ee"/>
<circle cx="143.5" cy="515.8" r="3.85" fill="#fbb296"/>
<circle cx="162.2" cy="575.6" r="3.5" fill="#fff3ee"/>
<circle cx="141.8" cy="526.6" r="3.85" fill="#fbb296"/>
<circle cx="136.6" cy="525.4" r="3.5" fill="#fff3ee"/>
<circle cx="180.1" cy="546.1" r="3.85" fill="#fbb296"/>
<circle cx="213.1" cy="542.6" r="3.85" fill="#fbb296"/>
<circle cx="135.5" cy="523.5" r="3.85" fill="#fbb296"/>
<circle cx="243.6" cy="494.6" r="4.3" fill="#ef4d35"/>
<circle cx="167.1" cy="535.1" r="3.5" fill="#fff3ee"/>
<circle cx="121.3" cy="561.1" r="3.85" fill="#fbb296"/>
<circle cx="143.8" cy="496.9" r="3.85" fill="#fbb296"/>
<circle cx="122.1" cy="599.4" r="3.5" fill="#fff3ee"/>
<circle cx="172.5" cy="483.1" r="4.3" fill="#ef4d35"/>
<circle cx="99" cy="525.5" r="3.85" fill="#fbb296"/>
<circle cx="155.2" cy="573.7" r="3.85" fill="#fbb296"/>
<circle cx="160.1" cy="568.5" r="4.3" fill="#ef4d35"/>
<circle cx="147.4" cy="539.9" r="3.85" fill="#fbb296"/>
<circle cx="139.1" cy="501" r="4.3" fill="#ef4d35"/>
<circle cx="131.3" cy="570" r="3.85" fill="#fbb296"/>
<circle cx="102.3" cy="547.8" r="3.5" fill="#fff3ee"/>
<circle cx="151.9" cy="515.2" r="3.85" fill="#fbb296"/>
<circle cx="146.3" cy="560.1" r="3.5" fill="#fff3ee"/>
<circle cx="158.2" cy="567.4" r="3.85" fill="#fbb296"/>
<circle cx="151.3" cy="552.6" r="3.85" fill="#fbb296"/>
<circle cx="119.5" cy="583.2" r="3.5" fill="#fff3ee"/>
<circle cx="117.5" cy="542.7" r="3.85" fill="#fbb296"/>
<circle cx="126.1" cy="576" r="3.85" fill="#fbb296"/>
<circle cx="164" cy="519.1" r="3.85" fill="#fbb296"/>
<circle cx="150" cy="525.8" r="3.85" fill="#fbb296"/>
<circle cx="182.4" cy="525.9" r="3.5" fill="#fff3ee"/>
<circle cx="145.2" cy="549.6" r="4.3" fill="#ef4d35"/>
<circle cx="99.8" cy="536.2" r="3.85" fill="#fbb296"/>
<circle cx="141.8" cy="558.3" r="3.85" fill="#fbb296"/>
<circle cx="133.7" cy="530.9" r="3.85" fill="#fbb296"/>
<circle cx="128.9" cy="523.8" r="3.85" fill="#fbb296"/>
<circle cx="172.6" cy="560.9" r="3.85" fill="#fbb296"/>
<circle cx="118.7" cy="598.7" r="3.85" fill="#fbb296"/>
<circle cx="129.6" cy="560.2" r="3.85" fill="#fbb296"/>
<circle cx="142.1" cy="572.7" r="3.85" fill="#fbb296"/>
<circle cx="98.2" cy="590.1" r="3.5" fill="#fff3ee"/>
<circle cx="112.6" cy="540.4" r="3.85" fill="#fbb296"/>
<circle cx="136.6" cy="544" r="3.85" fill="#fbb296"/>
<circle cx="118.7" cy="578.2" r="3.85" fill="#fbb296"/>
<circle cx="141.3" cy="559.4" r="3.85" fill="#fbb296"/>
<circle cx="121.6" cy="576.7" r="3.5" fill="#fff3ee"/>
<circle cx="113.2" cy="602.6" r="3.85" fill="#fbb296"/>
<circle cx="113.2" cy="618.3" r="3.5" fill="#fff3ee"/>
<circle cx="178.3" cy="571.5" r="3.5" fill="#fff3ee"/>
<circle cx="141" cy="515.7" r="3.85" fill="#fbb296"/>
<circle cx="109.8" cy="649.5" r="3.5" fill="#fff3ee"/>
<circle cx="147.5" cy="526.7" r="3.85" fill="#fbb296"/>
<circle cx="97.3" cy="545" r="3.85" fill="#fbb296"/>
<circle cx="159.1" cy="537.2" r="4.3" fill="#ef4d35"/>
<circle cx="141.5" cy="579.7" r="3.5" fill="#fff3ee"/>
<circle cx="110.7" cy="613.1" r="3.5" fill="#fff3ee"/>
<circle cx="148.8" cy="556.8" r="3.85" fill="#fbb296"/>
<circle cx="139.5" cy="545.2" r="3.5" fill="#fff3ee"/>
<circle cx="122" cy="540.2" r="3.5" fill="#fff3ee"/>
<circle cx="137.6" cy="510.6" r="3.85" fill="#fbb296"/>
<circle cx="138.2" cy="532.6" r="3.85" fill="#fbb296"/>
<circle cx="141" cy="566.1" r="3.85" fill="#fbb296"/>
<circle cx="167.4" cy="543.8" r="3.85" fill="#fbb296"/>
<circle cx="128.5" cy="523.7" r="3.85" fill="#fbb296"/>
<circle cx="137.6" cy="542.1" r="3.5" fill="#fff3ee"/>
<circle cx="102.1" cy="583.8" r="3.85" fill="#fbb296"/>
<circle cx="121.5" cy="550" r="3.85" fill="#fbb296"/>
<circle cx="115.6" cy="602.8" r="3.5" fill="#fff3ee"/>
<circle cx="134.6" cy="551.1" r="3.85" fill="#fbb296"/>
<circle cx="108" cy="597" r="3.85" fill="#fbb296"/>
<circle cx="126.9" cy="514.3" r="4.3" fill="#ef4d35"/>
<circle cx="184.1" cy="568.8" r="3.85" fill="#fbb296"/>
<circle cx="122.8" cy="547.2" r="3.5" fill="#fff3ee"/>
<circle cx="118.4" cy="620.9" r="3.5" fill="#fff3ee"/>
<circle cx="116.6" cy="603.2" r="3.5" fill="#fff3ee"/>
<circle cx="92.1" cy="586.4" r="3.5" fill="#fff3ee"/>
<circle cx="144.2" cy="505.5" r="4.3" fill="#ef4d35"/>
<circle cx="152" cy="492" r="4.3" fill="#ef4d35"/>
<circle cx="156.7" cy="529.1" r="3.5" fill="#fff3ee"/>
<circle cx="124.7" cy="582.2" r="3.85" fill="#fbb296"/>
<circle cx="148" cy="570.3" r="3.85" fill="#fbb296"/>
<circle cx="126.3" cy="545" r="3.85" fill="#fbb296"/>
<circle cx="159.4" cy="505.5" r="4.3" fill="#ef4d35"/>
<circle cx="117.8" cy="544" r="4.3" fill="#ef4d35"/>
<circle cx="104.6" cy="545.8" r="3.85" fill="#fbb296"/>
<circle cx="114.8" cy="544.1" r="3.85" fill="#fbb296"/>
<circle cx="125.4" cy="553" r="3.5" fill="#fff3ee"/>
<circle cx="139.8" cy="551.6" r="3.5" fill="#fff3ee"/>
<circle cx="127.8" cy="560.8" r="3.85" fill="#fbb296"/>
<circle cx="84.6" cy="606.9" r="3.5" fill="#fff3ee"/>
<circle cx="156" cy="518.5" r="3.85" fill="#fbb296"/>
<circle cx="158.7" cy="606.6" r="3.5" fill="#fff3ee"/>
<circle cx="133.6" cy="582" r="3.5" fill="#fff3ee"/>
<circle cx="136.1" cy="545.4" r="3.85" fill="#fbb296"/>
<circle cx="107.7" cy="539.5" r="3.85" fill="#fbb296"/>
<circle cx="123.8" cy="560.2" r="3.85" fill="#fbb296"/>
<circle cx="124.5" cy="556.3" r="3.85" fill="#fbb296"/>
<circle cx="109.2" cy="579.7" r="3.5" fill="#fff3ee"/>
<circle cx="120.1" cy="530.6" r="3.5" fill="#fff3ee"/>
<circle cx="140.9" cy="547.4" r="3.5" fill="#fff3ee"/>
<circle cx="137.8" cy="562.2" r="3.85" fill="#fbb296"/>
<circle cx="123.4" cy="541.6" r="3.85" fill="#fbb296"/>
<circle cx="180.3" cy="548.3" r="3.85" fill="#fbb296"/>
<circle cx="113.6" cy="593.5" r="3.5" fill="#fff3ee"/>
<circle cx="169" cy="583.7" r="3.85" fill="#fbb296"/>
<circle cx="116.7" cy="604.2" r="3.85" fill="#fbb296"/>
<circle cx="120.1" cy="529.2" r="3.85" fill="#fbb296"/>
<circle cx="113.8" cy="563.4" r="3.85" fill="#fbb296"/>
<circle cx="115.7" cy="602.2" r="3.85" fill="#fbb296"/>
<circle cx="125.7" cy="543.2" r="3.85" fill="#fbb296"/>
<circle cx="146.6" cy="553.8" r="3.5" fill="#fff3ee"/>
<circle cx="115.2" cy="520.7" r="3.85" fill="#fbb296"/>
<circle cx="122.2" cy="539.4" r="3.85" fill="#fbb296"/>
<circle cx="98.7" cy="619.7" r="3.5" fill="#fff3ee"/>
<circle cx="142.8" cy="538.5" r="3.85" fill="#fbb296"/>
<circle cx="155.3" cy="594.3" r="3.85" fill="#fbb296"/>
<circle cx="131.9" cy="546.1" r="3.5" fill="#fff3ee"/>
<circle cx="133.2" cy="576.5" r="3.5" fill="#fff3ee"/>
<circle cx="151.5" cy="571.5" r="3.5" fill="#fff3ee"/>
<circle cx="146.6" cy="549" r="3.5" fill="#fff3ee"/>
<circle cx="98.9" cy="568.9" r="3.85" fill="#fbb296"/>
<circle cx="113.8" cy="542.2" r="3.85" fill="#fbb296"/>
<circle cx="128.1" cy="562.5" r="3.85" fill="#fbb296"/>
<circle cx="141.5" cy="584.1" r="3.85" fill="#fbb296"/>
<circle cx="148.8" cy="604.9" r="3.5" fill="#fff3ee"/>
<circle cx="145.2" cy="578" r="3.85" fill="#fbb296"/>
<circle cx="123.6" cy="517.6" r="3.85" fill="#fbb296"/>
<circle cx="143.1" cy="582.6" r="3.85" fill="#fbb296"/>
<circle cx="133.1" cy="553.1" r="3.85" fill="#fbb296"/>
<circle cx="86.1" cy="617.7" r="3.5" fill="#fff3ee"/>
<circle cx="169.7" cy="541.9" r="3.85" fill="#fbb296"/>
<circle cx="106.3" cy="581.8" r="3.85" fill="#fbb296"/>
<circle cx="141.9" cy="552.4" r="3.85" fill="#fbb296"/>
<circle cx="125.5" cy="541.1" r="3.85" fill="#fbb296"/>
<circle cx="142.5" cy="621.3" r="3.5" fill="#fff3ee"/>
<circle cx="153.2" cy="574.9" r="3.85" fill="#fbb296"/>
<circle cx="118.7" cy="622.7" r="3.5" fill="#fff3ee"/>
<circle cx="104.1" cy="575" r="3.85" fill="#fbb296"/>
<circle cx="171" cy="528" r="3.85" fill="#fbb296"/>
<circle cx="137.9" cy="577.8" r="3.5" fill="#fff3ee"/>
<circle cx="107.8" cy="593.4" r="3.85" fill="#fbb296"/>
<circle cx="120" cy="566.9" r="3.5" fill="#fff3ee"/>
<circle cx="111.1" cy="538.7" r="3.85" fill="#fbb296"/>
<circle cx="162.4" cy="528.1" r="4.3" fill="#ef4d35"/>
<circle cx="104.6" cy="566" r="3.85" fill="#fbb296"/>
<circle cx="107.3" cy="635" r="3.5" fill="#fff3ee"/>
<circle cx="124.9" cy="581.9" r="3.5" fill="#fff3ee"/>
<circle cx="119.7" cy="592.7" r="3.85" fill="#fbb296"/>
<circle cx="129.1" cy="561" r="3.85" fill="#fbb296"/>
<circle cx="138.7" cy="550" r="3.85" fill="#fbb296"/>
<circle cx="122.3" cy="528.1" r="3.5" fill="#fff3ee"/>
<circle cx="140.2" cy="536.1" r="3.85" fill="#fbb296"/>
<circle cx="106.4" cy="572.4" r="3.5" fill="#fff3ee"/>
<circle cx="149.8" cy="512.6" r="4.3" fill="#ef4d35"/>
<circle cx="126.2" cy="575.5" r="3.85" fill="#fbb296"/>
<circle cx="128" cy="486" r="3.85" fill="#fbb296"/>
<circle cx="118.9" cy="558.9" r="3.85" fill="#fbb296"/>
<circle cx="119.9" cy="602.9" r="3.85" fill="#fbb296"/>
<circle cx="122.2" cy="564.2" r="3.85" fill="#fbb296"/>
<circle cx="112.2" cy="527.6" r="4.3" fill="#ef4d35"/>
<circle cx="124" cy="589.3" r="3.5" fill="#fff3ee"/>
<circle cx="152.1" cy="532.5" r="3.85" fill="#fbb296"/>
<circle cx="95.1" cy="535.8" r="3.85" fill="#fbb296"/>
<circle cx="143.8" cy="543.2" r="3.85" fill="#fbb296"/>
<circle cx="121.7" cy="537.2" r="4.3" fill="#ef4d35"/>
<circle cx="158.1" cy="542.7" r="4.3" fill="#ef4d35"/>
<circle cx="151.8" cy="507.9" r="4.3" fill="#ef4d35"/>
<circle cx="224.7" cy="506.2" r="4.3" fill="#ef4d35"/>
<circle cx="196.6" cy="490" r="3.85" fill="#fbb296"/>
<circle cx="118.6" cy="601.1" r="3.5" fill="#fff3ee"/>
<circle cx="147.8" cy="538.4" r="3.85" fill="#fbb296"/>
<circle cx="144.4" cy="498" r="4.3" fill="#ef4d35"/>
<circle cx="108.3" cy="591.2" r="3.85" fill="#fbb296"/>
<circle cx="119.3" cy="537.9" r="3.85" fill="#fbb296"/>
<circle cx="104.6" cy="591.9" r="3.5" fill="#fff3ee"/>
<circle cx="147.3" cy="520.4" r="3.85" fill="#fbb296"/>
<circle cx="145.4" cy="569.5" r="3.85" fill="#fbb296"/>
<circle cx="116.3" cy="536.9" r="3.85" fill="#fbb296"/>
<circle cx="143.5" cy="532.3" r="3.85" fill="#fbb296"/>
<circle cx="91.6" cy="624.2" r="3.5" fill="#fff3ee"/>
<circle cx="143.2" cy="550.4" r="3.85" fill="#fbb296"/>
<circle cx="121.8" cy="491.2" r="4.3" fill="#ef4d35"/>
<circle cx="107.8" cy="567.8" r="3.5" fill="#fff3ee"/>
<circle cx="97.8" cy="550.8" r="3.85" fill="#fbb296"/>
<circle cx="156.8" cy="475" r="4.3" fill="#ef4d35"/>
<circle cx="181.9" cy="553.1" r="4.3" fill="#ef4d35"/>
<circle cx="132" cy="541" r="3.85" fill="#fbb296"/>
<circle cx="116.4" cy="559.5" r="3.85" fill="#fbb296"/>
<circle cx="94.1" cy="532.2" r="3.85" fill="#fbb296"/>
<circle cx="134.1" cy="586.1" r="3.5" fill="#fff3ee"/>
<circle cx="156.5" cy="580.9" r="3.85" fill="#fbb296"/>
<circle cx="118.4" cy="545" r="3.85" fill="#fbb296"/>
<circle cx="139.1" cy="523.2" r="3.85" fill="#fbb296"/>
<circle cx="122.9" cy="539.7" r="3.5" fill="#fff3ee"/>
<circle cx="140.1" cy="577.2" r="3.5" fill="#fff3ee"/>
<circle cx="116.1" cy="554.8" r="3.5" fill="#fff3ee"/>
<circle cx="172.6" cy="479" r="3.85" fill="#fbb296"/>
<circle cx="136.1" cy="585.9" r="3.85" fill="#fbb296"/>
<circle cx="250.6" cy="464.8" r="4.3" fill="#ef4d35"/>
<circle cx="129.7" cy="501.9" r="4.3" fill="#ef4d35"/>
<circle cx="176.9" cy="536.2" r="3.85" fill="#fbb296"/>
<circle cx="143.7" cy="555.6" r="3.85" fill="#fbb296"/>
<circle cx="157" cy="549.3" r="3.85" fill="#fbb296"/>
<circle cx="134.2" cy="592" r="3.5" fill="#fff3ee"/>
<circle cx="120" cy="571.3" r="3.85" fill="#fbb296"/>
<circle cx="126.6" cy="557.6" r="3.85" fill="#fbb296"/>
<circle cx="118.7" cy="581.9" r="3.5" fill="#fff3ee"/>
<circle cx="155.4" cy="587.5" r="3.5" fill="#fff3ee"/>
<circle cx="128.9" cy="535.2" r="3.85" fill="#fbb296"/>
<circle cx="180.1" cy="506.9" r="4.3" fill="#ef4d35"/>
<circle cx="124.5" cy="541.9" r="3.85" fill="#fbb296"/>
<circle cx="146.6" cy="549.2" r="3.85" fill="#fbb296"/>
<circle cx="140.9" cy="513.3" r="3.85" fill="#fbb296"/>
<circle cx="181.2" cy="575.4" r="3.85" fill="#fbb296"/>
<circle cx="152.6" cy="513.3" r="4.3" fill="#ef4d35"/>
<circle cx="132.7" cy="586.6" r="3.85" fill="#fbb296"/>
<circle cx="160.6" cy="521.9" r="3.85" fill="#fbb296"/>
<circle cx="140.3" cy="531.2" r="3.85" fill="#fbb296"/>
<circle cx="129.1" cy="521.2" r="3.5" fill="#fff3ee"/>
<circle cx="116.8" cy="571.4" r="3.85" fill="#fbb296"/>
<circle cx="171" cy="577.9" r="3.5" fill="#fff3ee"/>
<circle cx="120.2" cy="611.3" r="3.85" fill="#fbb296"/>
<circle cx="99.1" cy="588.8" r="3.5" fill="#fff3ee"/>
<circle cx="101.8" cy="554.3" r="3.5" fill="#fff3ee"/>
<circle cx="187.1" cy="560.5" r="4.3" fill="#ef4d35"/>
<circle cx="139.9" cy="561.2" r="3.5" fill="#fff3ee"/>
<circle cx="133" cy="584.7" r="3.5" fill="#fff3ee"/>
<circle cx="120.8" cy="605.2" r="3.5" fill="#fff3ee"/>
<circle cx="182.9" cy="561.9" r="3.85" fill="#fbb296"/>
<circle cx="122.1" cy="560.8" r="3.5" fill="#fff3ee"/>
<circle cx="102.4" cy="576" r="3.5" fill="#fff3ee"/>
<circle cx="173.7" cy="533.7" r="3.85" fill="#fbb296"/>
<circle cx="140.2" cy="475.9" r="3.85" fill="#fbb296"/>
<circle cx="142.2" cy="570.2" r="3.85" fill="#fbb296"/>
<circle cx="135.4" cy="569.7" r="3.85" fill="#fbb296"/>
<circle cx="106.1" cy="543.8" r="3.85" fill="#fbb296"/>
<circle cx="143.1" cy="583.2" r="3.5" fill="#fff3ee"/>
<circle cx="112.8" cy="619.5" r="3.5" fill="#fff3ee"/>
<circle cx="108.5" cy="569.6" r="3.85" fill="#fbb296"/>
<circle cx="137.1" cy="557.1" r="3.85" fill="#fbb296"/>
<circle cx="148.6" cy="574" r="3.85" fill="#fbb296"/>
<circle cx="116.8" cy="562.6" r="3.5" fill="#fff3ee"/>
<circle cx="131.3" cy="569.9" r="3.85" fill="#fbb296"/>
<circle cx="154.9" cy="522.8" r="3.5" fill="#fff3ee"/>
<circle cx="126.5" cy="556.1" r="3.85" fill="#fbb296"/>
<circle cx="135.5" cy="593.4" r="3.85" fill="#fbb296"/>
<circle cx="199.9" cy="523.5" r="3.85" fill="#fbb296"/>
<circle cx="138.6" cy="576.4" r="3.85" fill="#fbb296"/>
<circle cx="158.7" cy="560" r="3.85" fill="#fbb296"/>
<circle cx="115.5" cy="562.1" r="3.85" fill="#fbb296"/>
<circle cx="128.6" cy="613.2" r="3.5" fill="#fff3ee"/>
<circle cx="157.6" cy="553.8" r="3.85" fill="#fbb296"/>
<circle cx="144.1" cy="542.4" r="3.85" fill="#fbb296"/>
<circle cx="136.9" cy="523.5" r="3.85" fill="#fbb296"/>
<circle cx="102.5" cy="588.4" r="3.85" fill="#fbb296"/>
<circle cx="140" cy="532.8" r="3.85" fill="#fbb296"/>
<circle cx="116" cy="547.9" r="3.5" fill="#fff3ee"/>
<circle cx="135.7" cy="554.5" r="3.85" fill="#fbb296"/>
<circle cx="106.2" cy="539.2" r="3.85" fill="#fbb296"/>
<circle cx="162.2" cy="583.7" r="3.5" fill="#fff3ee"/>
<circle cx="124" cy="571.7" r="3.5" fill="#fff3ee"/>
<circle cx="97.8" cy="571.9" r="3.5" fill="#fff3ee"/>
<circle cx="127.1" cy="593.7" r="3.5" fill="#fff3ee"/>
<circle cx="171.2" cy="580.7" r="3.85" fill="#fbb296"/>
<circle cx="150" cy="470" r="4.3" fill="#ef4d35"/>
<circle cx="84" cy="607.2" r="3.5" fill="#fff3ee"/>
<circle cx="235.2" cy="522.3" r="3.85" fill="#fbb296"/>
<circle cx="102.7" cy="571.7" r="3.5" fill="#fff3ee"/>
<circle cx="133.7" cy="514.7" r="3.85" fill="#fbb296"/>
<circle cx="106.2" cy="542.5" r="3.85" fill="#fbb296"/>
<circle cx="150.8" cy="537.8" r="3.85" fill="#fbb296"/>
<circle cx="146.9" cy="519.4" r="3.85" fill="#fbb296"/>
<circle cx="138.1" cy="542.7" r="3.5" fill="#fff3ee"/>
<circle cx="129.3" cy="529.6" r="3.85" fill="#fbb296"/>
<circle cx="122.4" cy="541.8" r="3.85" fill="#fbb296"/>
<circle cx="130.1" cy="536.6" r="3.85" fill="#fbb296"/>
<circle cx="109.8" cy="580.3" r="3.5" fill="#fff3ee"/>
<circle cx="111.2" cy="512.1" r="3.5" fill="#fff3ee"/>
<circle cx="128.5" cy="607.1" r="3.85" fill="#fbb296"/>
<circle cx="110.9" cy="591.4" r="3.5" fill="#fff3ee"/>
<circle cx="179.9" cy="575.3" r="3.5" fill="#fff3ee"/>
<circle cx="108.8" cy="581" r="3.5" fill="#fff3ee"/>
<circle cx="130.4" cy="571.9" r="3.5" fill="#fff3ee"/>
<circle cx="104.9" cy="543.3" r="3.85" fill="#fbb296"/>
<circle cx="182.8" cy="545" r="4.3" fill="#ef4d35"/>
<circle cx="124.5" cy="616.8" r="3.5" fill="#fff3ee"/>
<circle cx="140.4" cy="534.5" r="4.3" fill="#ef4d35"/>
<circle cx="86.2" cy="565.5" r="3.5" fill="#fff3ee"/>
<circle cx="134" cy="520.7" r="4.3" fill="#ef4d35"/>
<circle cx="155.7" cy="565.9" r="3.85" fill="#fbb296"/>
<circle cx="107.2" cy="634.5" r="3.85" fill="#fbb296"/>
<circle cx="152" cy="540.1" r="3.85" fill="#fbb296"/>
<circle cx="187.4" cy="539.7" r="3.85" fill="#fbb296"/>
<circle cx="156" cy="550.1" r="3.85" fill="#fbb296"/>
<circle cx="107" cy="534.4" r="3.85" fill="#fbb296"/>
<circle cx="171.5" cy="583.9" r="3.85" fill="#fbb296"/>
<circle cx="125.4" cy="567.9" r="3.5" fill="#fff3ee"/>
<circle cx="110.7" cy="601.5" r="3.5" fill="#fff3ee"/>
<circle cx="105.9" cy="601.3" r="3.85" fill="#fbb296"/>
<circle cx="117.5" cy="541.3" r="3.85" fill="#fbb296"/>
<circle cx="154" cy="578.9" r="3.85" fill="#fbb296"/>
<circle cx="145.9" cy="544" r="3.85" fill="#fbb296"/>
<circle cx="127.2" cy="527.1" r="3.85" fill="#fbb296"/>
<circle cx="89.2" cy="571.6" r="3.5" fill="#fff3ee"/>
<circle cx="132.1" cy="535.5" r="3.85" fill="#fbb296"/>
<circle cx="107.8" cy="559.2" r="3.85" fill="#fbb296"/>
<circle cx="150.2" cy="539.2" r="3.85" fill="#fbb296"/>
<circle cx="100.6" cy="553.3" r="3.85" fill="#fbb296"/>
<circle cx="120.8" cy="586.2" r="3.5" fill="#fff3ee"/>
<circle cx="129.7" cy="586" r="3.5" fill="#fff3ee"/>
<circle cx="123.1" cy="526.7" r="3.85" fill="#fbb296"/>
<circle cx="113.9" cy="564.9" r="3.5" fill="#fff3ee"/>
<circle cx="161.6" cy="525.9" r="3.85" fill="#fbb296"/>
<circle cx="128.4" cy="545.9" r="3.85" fill="#fbb296"/>
<circle cx="160.8" cy="552.9" r="3.5" fill="#fff3ee"/>
<circle cx="142.8" cy="568.2" r="3.5" fill="#fff3ee"/>
<circle cx="131.8" cy="627.1" r="3.5" fill="#fff3ee"/>
<circle cx="125.7" cy="554.7" r="3.85" fill="#fbb296"/>
<circle cx="157.4" cy="575.1" r="3.85" fill="#fbb296"/>
<circle cx="153.7" cy="575.3" r="3.5" fill="#fff3ee"/>
<circle cx="125.8" cy="575.2" r="3.85" fill="#fbb296"/>
<circle cx="184.2" cy="547.5" r="3.5" fill="#fff3ee"/>
<circle cx="137.4" cy="550.8" r="3.85" fill="#fbb296"/>
<circle cx="122.8" cy="560.9" r="3.5" fill="#fff3ee"/>
<circle cx="164.1" cy="441" r="4.3" fill="#ef4d35"/>
<circle cx="166.6" cy="578.2" r="3.5" fill="#fff3ee"/>
<circle cx="129.3" cy="511.4" r="4.3" fill="#ef4d35"/>
<circle cx="108" cy="553.5" r="3.85" fill="#fbb296"/>
<circle cx="155.8" cy="528.4" r="3.85" fill="#fbb296"/>
<circle cx="114.5" cy="555" r="3.5" fill="#fff3ee"/>
<circle cx="152.1" cy="534" r="3.85" fill="#fbb296"/>
<circle cx="144.8" cy="564.3" r="3.85" fill="#fbb296"/>
<circle cx="106.3" cy="601.8" r="3.5" fill="#fff3ee"/>
<circle cx="123.3" cy="589.2" r="3.85" fill="#fbb296"/>
<circle cx="148.1" cy="505" r="3.85" fill="#fbb296"/>
<circle cx="140.6" cy="522" r="4.3" fill="#ef4d35"/>
<circle cx="203.7" cy="484.8" r="3.85" fill="#fbb296"/>
<circle cx="148.9" cy="571.7" r="3.5" fill="#fff3ee"/>
<circle cx="170" cy="541.2" r="3.85" fill="#fbb296"/>
<circle cx="138" cy="465.8" r="4.9" fill="#6b0914"/>
<circle cx="157.7" cy="464" r="4.9" fill="#6b0914"/>
<circle cx="143.7" cy="478" r="4.9" fill="#6b0914"/>
<circle cx="157.7" cy="476.3" r="4.9" fill="#6b0914"/>
<circle cx="161.2" cy="478" r="4.9" fill="#6b0914"/>
<circle cx="157.7" cy="484.2" r="4.9" fill="#6b0914"/>
<circle cx="134.5" cy="494.7" r="4.9" fill="#6b0914"/>
<circle cx="143.7" cy="479" r="4.9" fill="#6b0914"/>
<circle cx="157.7" cy="483.3" r="4.9" fill="#6b0914"/>
</g>
<g stroke="#111" stroke-width="0.8">
<circle cx="501.7" cy="556.7" r="3.85" fill="#fbb296"/>
<circle cx="429" cy="576" r="3.5" fill="#fff3ee"/>
<circle cx="562" cy="504.9" r="4.3" fill="#ef4d35"/>
<circle cx="553.4" cy="573.2" r="3.85" fill="#fbb296"/>
<circle cx="500.3" cy="553.7" r="3.5" fill="#fff3ee"/>
<circle cx="507.8" cy="531.3" r="4.3" fill="#ef4d35"/>
<circle cx="492.7" cy="573.3" r="3.5" fill="#fff3ee"/>
<circle cx="517.4" cy="548.1" r="3.85" fill="#fbb296"/>
<circle cx="497.5" cy="545.2" r="3.85" fill="#fbb296"/>
<circle cx="487.6" cy="558.7" r="3.5" fill="#fff3ee"/>
<circle cx="565.5" cy="491.3" r="4.3" fill="#ef4d35"/>
<circle cx="527.5" cy="535.7" r="3.85" fill="#fbb296"/>
<circle cx="537.5" cy="552.1" r="3.85" fill="#fbb296"/>
<circle cx="555.6" cy="595.2" r="3.5" fill="#fff3ee"/>
<circle cx="559.2" cy="611.1" r="3.5" fill="#fff3ee"/>
<circle cx="563.9" cy="558.6" r="3.85" fill="#fbb296"/>
<circle cx="528.7" cy="539.5" r="3.85" fill="#fbb296"/>
<circle cx="515.1" cy="553.6" r="3.85" fill="#fbb296"/>
<circle cx="476.3" cy="534.8" r="3.5" fill="#fff3ee"/>
<circle cx="533.1" cy="576.3" r="3.5" fill="#fff3ee"/>
<circle cx="488" cy="504.8" r="4.3" fill="#ef4d35"/>
<circle cx="503.6" cy="597.4" r="3.5" fill="#fff3ee"/>
<circle cx="510.7" cy="531.6" r="3.85" fill="#fbb296"/>
<circle cx="446.3" cy="520.2" r="3.5" fill="#fff3ee"/>
<circle cx="559.5" cy="526.5" r="3.85" fill="#fbb296"/>
<circle cx="532.3" cy="608.4" r="3.85" fill="#fbb296"/>
<circle cx="522.6" cy="523.6" r="4.3" fill="#ef4d35"/>
<circle cx="493.4" cy="571.8" r="3.85" fill="#fbb296"/>
<circle cx="513.1" cy="541.9" r="3.85" fill="#fbb296"/>
<circle cx="518.9" cy="568.5" r="3.85" fill="#fbb296"/>
<circle cx="479.4" cy="541.8" r="3.85" fill="#fbb296"/>
<circle cx="580.8" cy="560.4" r="3.85" fill="#fbb296"/>
<circle cx="493.7" cy="563" r="3.85" fill="#fbb296"/>
<circle cx="518.2" cy="547.4" r="3.85" fill="#fbb296"/>
<circle cx="491.6" cy="603.1" r="3.5" fill="#fff3ee"/>
<circle cx="531.4" cy="505.9" r="3.85" fill="#fbb296"/>
<circle cx="510.6" cy="549.4" r="3.85" fill="#fbb296"/>
<circle cx="558.9" cy="584.9" r="3.5" fill="#fff3ee"/>
<circle cx="493.4" cy="566.1" r="3.85" fill="#fbb296"/>
<circle cx="487.8" cy="567.1" r="3.5" fill="#fff3ee"/>
<circle cx="565.8" cy="556.6" r="3.85" fill="#fbb296"/>
<circle cx="580.1" cy="589.6" r="3.5" fill="#fff3ee"/>
<circle cx="530.3" cy="584.2" r="3.5" fill="#fff3ee"/>
<circle cx="516.2" cy="589.6" r="3.5" fill="#fff3ee"/>
<circle cx="505.5" cy="561.2" r="3.85" fill="#fbb296"/>
<circle cx="498.1" cy="585.3" r="3.85" fill="#fbb296"/>
<circle cx="463.9" cy="589.1" r="3.85" fill="#fbb296"/>
<circle cx="538.8" cy="571.2" r="3.85" fill="#fbb296"/>
<circle cx="545.1" cy="533.5" r="3.85" fill="#fbb296"/>
<circle cx="528.2" cy="483.7" r="4.3" fill="#ef4d35"/>
<circle cx="596.3" cy="577.4" r="3.85" fill="#fbb296"/>
<circle cx="562.9" cy="596.4" r="3.85" fill="#fbb296"/>
<circle cx="538.8" cy="593.5" r="3.85" fill="#fbb296"/>
<circle cx="497" cy="482" r="4.3" fill="#ef4d35"/>
<circle cx="562.7" cy="626" r="3.5" fill="#fff3ee"/>
<circle cx="485.4" cy="567.8" r="3.5" fill="#fff3ee"/>
<circle cx="476.6" cy="441" r="4.3" fill="#ef4d35"/>
<circle cx="547.6" cy="508.8" r="4.3" fill="#ef4d35"/>
<circle cx="493.5" cy="561.3" r="3.5" fill="#fff3ee"/>
<circle cx="516.3" cy="564.1" r="3.85" fill="#fbb296"/>
<circle cx="551.5" cy="539.4" r="3.85" fill="#fbb296"/>
<circle cx="503" cy="584.2" r="3.5" fill="#fff3ee"/>
<circle cx="471.6" cy="579.9" r="3.5" fill="#fff3ee"/>
<circle cx="520.5" cy="581.8" r="3.5" fill="#fff3ee"/>
<circle cx="571.8" cy="540.5" r="3.85" fill="#fbb296"/>
<circle cx="546.1" cy="588.7" r="3.5" fill="#fff3ee"/>
<circle cx="604.2" cy="577" r="3.85" fill="#fbb296"/>
<circle cx="542.1" cy="564.3" r="3.85" fill="#fbb296"/>
<circle cx="493.6" cy="592.8" r="3.85" fill="#fbb296"/>
<circle cx="507.1" cy="556.3" r="3.5" fill="#fff3ee"/>
<circle cx="461" cy="551.4" r="3.85" fill="#fbb296"/>
<circle cx="485.8" cy="541.5" r="3.85" fill="#fbb296"/>
<circle cx="506.6" cy="507.4" r="3.85" fill="#fbb296"/>
<circle cx="465.4" cy="527.5" r="3.85" fill="#fbb296"/>
<circle cx="486.9" cy="549" r="3.85" fill="#fbb296"/>
<circle cx="524.8" cy="578.4" r="3.85" fill="#fbb296"/>
<circle cx="533.6" cy="572.9" r="3.5" fill="#fff3ee"/>
<circle cx="545.8" cy="538.7" r="3.5" fill="#fff3ee"/>
<circle cx="469.9" cy="565.6" r="3.85" fill="#fbb296"/>
<circle cx="517.1" cy="588.6" r="3.85" fill="#fbb296"/>
<circle cx="557.4" cy="631" r="3.5" fill="#fff3ee"/>
<circle cx="513.4" cy="570.4" r="3.85" fill="#fbb296"/>
<circle cx="545.8" cy="532.2" r="3.5" fill="#fff3ee"/>
<circle cx="483.1" cy="555.6" r="3.5" fill="#fff3ee"/>
<circle cx="535.1" cy="552.8" r="3.85" fill="#fbb296"/>
<circle cx="565.3" cy="591.2" r="3.85" fill="#fbb296"/>
<circle cx="444.8" cy="546.4" r="3.85" fill="#fbb296"/>
<circle cx="473.1" cy="558.8" r="3.85" fill="#fbb296"/>
<circle cx="550.7" cy="526.2" r="4.3" fill="#ef4d35"/>
<circle cx="491.2" cy="598.2" r="3.85" fill="#fbb296"/>
<circle cx="513" cy="559.5" r="3.85" fill="#fbb296"/>
<circle cx="547.1" cy="513.7" r="4.3" fill="#ef4d35"/>
<circle cx="545.6" cy="571.8" r="3.85" fill="#fbb296"/>
<circle cx="540" cy="628.1" r="3.5" fill="#fff3ee"/>
<circle cx="513.2" cy="534.9" r="3.85" fill="#fbb296"/>
<circle cx="546.4" cy="585.6" r="3.5" fill="#fff3ee"/>
<circle cx="525.1" cy="499.8" r="3.85" fill="#fbb296"/>
<circle cx="581.6" cy="598.8" r="3.85" fill="#fbb296"/>
<circle cx="547.1" cy="623.2" r="3.85" fill="#fbb296"/>
<circle cx="560.2" cy="581.5" r="3.5" fill="#fff3ee"/>
<circle cx="576.1" cy="590.1" r="3.85" fill="#fbb296"/>
<circle cx="454.7" cy="553.1" r="3.85" fill="#fbb296"/>
<circle cx="515.6" cy="626.2" r="3.5" fill="#fff3ee"/>
<circle cx="523.9" cy="521.1" r="4.3" fill="#ef4d35"/>
<circle cx="513.2" cy="560.6" r="3.85" fill="#fbb296"/>
<circle cx="535.1" cy="539" r="3.5" fill="#fff3ee"/>
<circle cx="483.6" cy="553.7" r="3.5" fill="#fff3ee"/>
<circle cx="572.1" cy="524.5" r="3.85" fill="#fbb296"/>
<circle cx="450" cy="578.4" r="3.85" fill="#fbb296"/>
<circle cx="542.3" cy="541.6" r="4.3" fill="#ef4d35"/>
<circle cx="454.7" cy="581.9" r="3.5" fill="#fff3ee"/>
<circle cx="496.6" cy="526.6" r="3.85" fill="#fbb296"/>
<circle cx="502.2" cy="532.1" r="3.85" fill="#fbb296"/>
<circle cx="432.3" cy="541.9" r="4.3" fill="#ef4d35"/>
<circle cx="492.7" cy="559.3" r="3.5" fill="#fff3ee"/>
<circle cx="464.6" cy="604.1" r="3.5" fill="#fff3ee"/>
<circle cx="524.5" cy="545.9" r="3.85" fill="#fbb296"/>
<circle cx="554.7" cy="557.6" r="3.5" fill="#fff3ee"/>
<circle cx="476.9" cy="590" r="3.85" fill="#fbb296"/>
<circle cx="514.3" cy="619.9" r="3.5" fill="#fff3ee"/>
<circle cx="514.6" cy="538.3" r="3.85" fill="#fbb296"/>
<circle cx="475" cy="542.1" r="4.3" fill="#ef4d35"/>
<circle cx="494.1" cy="577.8" r="3.5" fill="#fff3ee"/>
<circle cx="598" cy="602.9" r="3.85" fill="#fbb296"/>
<circle cx="490.6" cy="535.3" r="3.85" fill="#fbb296"/>
<circle cx="522.4" cy="587.4" r="3.85" fill="#fbb296"/>
<circle cx="543.3" cy="609.1" r="3.85" fill="#fbb296"/>
<circle cx="511.7" cy="604.4" r="3.85" fill="#fbb296"/>
<circle cx="506.7" cy="595.7" r="3.5" fill="#fff3ee"/>
<circle cx="465.1" cy="605.5" r="3.5" fill="#fff3ee"/>
<circle cx="498.8" cy="593.8" r="3.5" fill="#fff3ee"/>
<circle cx="526" cy="572.2" r="3.5" fill="#fff3ee"/>
<circle cx="549.8" cy="513.6" r="3.85" fill="#fbb296"/>
<circle cx="551.3" cy="570.9" r="3.85" fill="#fbb296"/>
<circle cx="580.5" cy="584.9" r="3.85" fill="#fbb296"/>
<circle cx="468.4" cy="545.1" r="3.85" fill="#fbb296"/>
<circle cx="552.1" cy="538.5" r="3.5" fill="#fff3ee"/>
<circle cx="486.4" cy="624.8" r="3.5" fill="#fff3ee"/>
<circle cx="544.7" cy="593.2" r="3.5" fill="#fff3ee"/>
<circle cx="522.4" cy="525.7" r="3.85" fill="#fbb296"/>
<circle cx="476.8" cy="554" r="3.85" fill="#fbb296"/>
<circle cx="498" cy="624.2" r="3.5" fill="#fff3ee"/>
<circle cx="581.8" cy="538.2" r="4.3" fill="#ef4d35"/>
<circle cx="540.2" cy="543.3" r="3.85" fill="#fbb296"/>
<circle cx="584.3" cy="589.7" r="3.5" fill="#fff3ee"/>
<circle cx="498.3" cy="519.5" r="3.85" fill="#fbb296"/>
<circle cx="484" cy="564.2" r="3.85" fill="#fbb296"/>
<circle cx="534.3" cy="515.6" r="4.3" fill="#ef4d35"/>
<circle cx="538.5" cy="565.8" r="3.85" fill="#fbb296"/>
<circle cx="505.3" cy="548.6" r="3.85" fill="#fbb296"/>
<circle cx="476.1" cy="602.7" r="3.5" fill="#fff3ee"/>
<circle cx="545.1" cy="618.6" r="3.85" fill="#fbb296"/>
<circle cx="483.2" cy="549.5" r="3.5" fill="#fff3ee"/>
<circle cx="479.4" cy="556.2" r="3.85" fill="#fbb296"/>
<circle cx="496.2" cy="524.1" r="3.85" fill="#fbb296"/>
<circle cx="548.7" cy="559.5" r="3.85" fill="#fbb296"/>
<circle cx="454.2" cy="576.6" r="3.5" fill="#fff3ee"/>
<circle cx="553.5" cy="579.8" r="3.5" fill="#fff3ee"/>
<circle cx="531.6" cy="565.5" r="3.85" fill="#fbb296"/>
<circle cx="531" cy="597.5" r="3.5" fill="#fff3ee"/>
<circle cx="486.7" cy="475.3" r="4.3" fill="#ef4d35"/>
<circle cx="521.9" cy="539.3" r="4.3" fill="#ef4d35"/>
<circle cx="509.2" cy="501.4" r="3.85" fill="#fbb296"/>
<circle cx="462.6" cy="596.2" r="3.5" fill="#fff3ee"/>
<circle cx="517.1" cy="525.7" r="3.85" fill="#fbb296"/>
<circle cx="537.5" cy="530.2" r="4.3" fill="#ef4d35"/>
<circle cx="567.2" cy="510.5" r="3.85" fill="#fbb296"/>
<circle cx="534.1" cy="574.9" r="3.85" fill="#fbb296"/>
<circle cx="471.6" cy="527.8" r="3.85" fill="#fbb296"/>
<circle cx="565.5" cy="516.1" r="3.5" fill="#fff3ee"/>
<circle cx="512" cy="531.1" r="3.85" fill="#fbb296"/>
<circle cx="478.4" cy="553" r="3.85" fill="#fbb296"/>
<circle cx="499.6" cy="560.9" r="3.5" fill="#fff3ee"/>
<circle cx="503.1" cy="560" r="3.85" fill="#fbb296"/>
<circle cx="567.4" cy="553.6" r="3.85" fill="#fbb296"/>
<circle cx="524.7" cy="475.3" r="4.3" fill="#ef4d35"/>
<circle cx="561.9" cy="604.9" r="3.5" fill="#fff3ee"/>
<circle cx="539.6" cy="562.5" r="3.85" fill="#fbb296"/>
<circle cx="524.7" cy="615.7" r="3.5" fill="#fff3ee"/>
<circle cx="570.8" cy="558.7" r="3.85" fill="#fbb296"/>
<circle cx="543.3" cy="566.1" r="3.85" fill="#fbb296"/>
<circle cx="517.9" cy="594.2" r="3.5" fill="#fff3ee"/>
<circle cx="551" cy="577.1" r="3.85" fill="#fbb296"/>
<circle cx="492.8" cy="594.5" r="3.85" fill="#fbb296"/>
<circle cx="590.3" cy="544.2" r="3.85" fill="#fbb296"/>
<circle cx="533.2" cy="550.4" r="3.85" fill="#fbb296"/>
<circle cx="565.6" cy="573.9" r="3.85" fill="#fbb296"/>
<circle cx="588.2" cy="545.4" r="3.5" fill="#fff3ee"/>
<circle cx="484.8" cy="552.1" r="3.85" fill="#fbb296"/>
<circle cx="485.8" cy="581.1" r="3.5" fill="#fff3ee"/>
<circle cx="574.9" cy="603" r="3.5" fill="#fff3ee"/>
<circle cx="472.3" cy="536.8" r="3.85" fill="#fbb296"/>
<circle cx="527.1" cy="505.5" r="4.3" fill="#ef4d35"/>
<circle cx="540.1" cy="593.5" r="3.5" fill="#fff3ee"/>
<circle cx="492.7" cy="565" r="3.85" fill="#fbb296"/>
<circle cx="529.2" cy="625.2" r="3.5" fill="#fff3ee"/>
<circle cx="502.6" cy="542.9" r="3.85" fill="#fbb296"/>
<circle cx="511.3" cy="559.1" r="3.85" fill="#fbb296"/>
<circle cx="510.8" cy="589.7" r="3.85" fill="#fbb296"/>
<circle cx="462.6" cy="519.3" r="3.5" fill="#fff3ee"/>
<circle cx="529" cy="555.1" r="3.5" fill="#fff3ee"/>
<circle cx="507.3" cy="585.5" r="3.5" fill="#fff3ee"/>
<circle cx="493.3" cy="607.8" r="3.85" fill="#fbb296"/>
<circle cx="535.1" cy="562.3" r="3.85" fill="#fbb296"/>
<circle cx="513.2" cy="558.6" r="3.5" fill="#fff3ee"/>
<circle cx="574" cy="575.6" r="3.85" fill="#fbb296"/>
<circle cx="575.5" cy="578.1" r="3.85" fill="#fbb296"/>
<circle cx="478.9" cy="526" r="3.85" fill="#fbb296"/>
<circle cx="494.5" cy="529.4" r="3.85" fill="#fbb296"/>
<circle cx="477.6" cy="624.2" r="3.5" fill="#fff3ee"/>
<circle cx="485.4" cy="581.4" r="3.85" fill="#fbb296"/>
<circle cx="498.9" cy="602.3" r="3.5" fill="#fff3ee"/>
<circle cx="579.2" cy="569.4" r="4.3" fill="#ef4d35"/>
<circle cx="505.7" cy="617.5" r="3.5" fill="#fff3ee"/>
<circle cx="466.4" cy="593.4" r="3.5" fill="#fff3ee"/>
<circle cx="540" cy="488" r="4.3" fill="#ef4d35"/>
<circle cx="490.8" cy="603.5" r="3.5" fill="#fff3ee"/>
<circle cx="513" cy="539.7" r="3.85" fill="#fbb296"/>
<circle cx="547.7" cy="580" r="3.5" fill="#fff3ee"/>
<circle cx="513.1" cy="553.7" r="3.5" fill="#fff3ee"/>
<circle cx="489.3" cy="550.4" r="3.85" fill="#fbb296"/>
<circle cx="538.9" cy="542.6" r="3.85" fill="#fbb296"/>
<circle cx="476.3" cy="576" r="3.85" fill="#fbb296"/>
<circle cx="522" cy="513.9" r="4.3" fill="#ef4d35"/>
<circle cx="533.5" cy="576.7" r="3.85" fill="#fbb296"/>
<circle cx="489.2" cy="535.9" r="3.85" fill="#fbb296"/>
<circle cx="529" cy="566" r="3.85" fill="#fbb296"/>
<circle cx="545.3" cy="559.1" r="3.85" fill="#fbb296"/>
<circle cx="521.8" cy="476.7" r="3.85" fill="#fbb296"/>
<circle cx="552" cy="529.8" r="4.3" fill="#ef4d35"/>
<circle cx="508.3" cy="554.3" r="3.85" fill="#fbb296"/>
<circle cx="497.1" cy="599.1" r="3.85" fill="#fbb296"/>
<circle cx="550.4" cy="579.7" r="3.85" fill="#fbb296"/>
<circle cx="475.3" cy="574.4" r="3.5" fill="#fff3ee"/>
<circle cx="489.7" cy="542.6" r="3.85" fill="#fbb296"/>
<circle cx="515.8" cy="587.4" r="3.85" fill="#fbb296"/>
<circle cx="427.7" cy="547.5" r="3.85" fill="#fbb296"/>
<circle cx="532.4" cy="598.8" r="3.5" fill="#fff3ee"/>
<circle cx="490" cy="574.5" r="3.85" fill="#fbb296"/>
<circle cx="577.7" cy="580.2" r="3.5" fill="#fff3ee"/>
<circle cx="551.4" cy="577.4" r="3.5" fill="#fff3ee"/>
<circle cx="502.9" cy="537.3" r="3.5" fill="#fff3ee"/>
<circle cx="503.8" cy="548.5" r="3.85" fill="#fbb296"/>
<circle cx="480.5" cy="582.4" r="3.85" fill="#fbb296"/>
<circle cx="504.7" cy="534.6" r="3.85" fill="#fbb296"/>
<circle cx="480.3" cy="580.5" r="3.5" fill="#fff3ee"/>
<circle cx="546.3" cy="504.6" r="4.3" fill="#ef4d35"/>
<circle cx="495.9" cy="567" r="3.5" fill="#fff3ee"/>
<circle cx="538" cy="611.9" r="3.5" fill="#fff3ee"/>
<circle cx="467.1" cy="553.5" r="3.85" fill="#fbb296"/>
<circle cx="549.4" cy="525.4" r="3.85" fill="#fbb296"/>
<circle cx="503.6" cy="593.7" r="3.5" fill="#fff3ee"/>
<circle cx="529.9" cy="576.5" r="3.85" fill="#fbb296"/>
<circle cx="459.4" cy="567.4" r="3.5" fill="#fff3ee"/>
<circle cx="530.7" cy="515.3" r="3.85" fill="#fbb296"/>
<circle cx="567.7" cy="522.2" r="3.85" fill="#fbb296"/>
<circle cx="610.4" cy="554" r="4.3" fill="#ef4d35"/>
<circle cx="536.3" cy="569.4" r="3.5" fill="#fff3ee"/>
<circle cx="550.3" cy="539.1" r="3.5" fill="#fff3ee"/>
<circle cx="499" cy="568" r="3.85" fill="#fbb296"/>
<circle cx="491.3" cy="561.6" r="3.85" fill="#fbb296"/>
<circle cx="445.3" cy="580.6" r="3.5" fill="#fff3ee"/>
<circle cx="482.5" cy="560.1" r="3.85" fill="#fbb296"/>
<circle cx="522" cy="580.6" r="3.85" fill="#fbb296"/>
<circle cx="594.9" cy="552.7" r="3.85" fill="#fbb296"/>
<circle cx="467.2" cy="556.2" r="3.5" fill="#fff3ee"/>
<circle cx="499" cy="558.5" r="3.85" fill="#fbb296"/>
<circle cx="494.8" cy="549.9" r="3.85" fill="#fbb296"/>
<circle cx="504.6" cy="585.5" r="3.85" fill="#fbb296"/>
<circle cx="453.5" cy="582.9" r="3.5" fill="#fff3ee"/>
<circle cx="523.8" cy="584.2" r="3.85" fill="#fbb296"/>
<circle cx="507.9" cy="524.1" r="3.85" fill="#fbb296"/>
<circle cx="546" cy="574.7" r="3.85" fill="#fbb296"/>
<circle cx="583" cy="545.4" r="3.85" fill="#fbb296"/>
<circle cx="520.1" cy="543.9" r="3.85" fill="#fbb296"/>
<circle cx="578.1" cy="519.7" r="3.85" fill="#fbb296"/>
<circle cx="529.9" cy="578" r="3.5" fill="#fff3ee"/>
<circle cx="512.9" cy="616.8" r="3.5" fill="#fff3ee"/>
<circle cx="516.6" cy="591.2" r="3.85" fill="#fbb296"/>
<circle cx="517.4" cy="578.2" r="3.5" fill="#fff3ee"/>
<circle cx="541.9" cy="566.1" r="3.5" fill="#fff3ee"/>
<circle cx="500.1" cy="555.3" r="3.85" fill="#fbb296"/>
<circle cx="573.9" cy="604.2" r="3.5" fill="#fff3ee"/>
<circle cx="501" cy="517.2" r="3.85" fill="#fbb296"/>
<circle cx="461.8" cy="544.7" r="3.85" fill="#fbb296"/>
<circle cx="516.3" cy="613" r="3.5" fill="#fff3ee"/>
<circle cx="477.9" cy="515.4" r="3.85" fill="#fbb296"/>
<circle cx="587.1" cy="589.6" r="3.5" fill="#fff3ee"/>
<circle cx="552.7" cy="623.6" r="3.85" fill="#fbb296"/>
<circle cx="513.2" cy="547.1" r="4.3" fill="#ef4d35"/>
<circle cx="514.1" cy="572.8" r="3.85" fill="#fbb296"/>
<circle cx="472.3" cy="584.9" r="3.5" fill="#fff3ee"/>
<circle cx="526.7" cy="511.5" r="4.3" fill="#ef4d35"/>
<circle cx="500" cy="619.3" r="3.5" fill="#fff3ee"/>
<circle cx="537" cy="549.7" r="4.3" fill="#ef4d35"/>
<circle cx="522.9" cy="609.1" r="3.5" fill="#fff3ee"/>
<circle cx="537" cy="554.4" r="3.85" fill="#fbb296"/>
<circle cx="450.7" cy="550.1" r="3.85" fill="#fbb296"/>
<circle cx="525.7" cy="503.4" r="3.85" fill="#fbb296"/>
<circle cx="475.1" cy="567.9" r="3.5" fill="#fff3ee"/>
<circle cx="514.4" cy="438.2" r="4.3" fill="#ef4d35"/>
<circle cx="513.1" cy="535" r="3.85" fill="#fbb296"/>
<circle cx="483.7" cy="577.3" r="3.85" fill="#fbb296"/>
<circle cx="500.7" cy="508.5" r="3.85" fill="#fbb296"/>
<circle cx="509" cy="607.7" r="3.5" fill="#fff3ee"/>
<circle cx="531.8" cy="600" r="3.5" fill="#fff3ee"/>
<circle cx="482.6" cy="576.2" r="3.85" fill="#fbb296"/>
<circle cx="495.9" cy="543.4" r="3.85" fill="#fbb296"/>
<circle cx="569.4" cy="539.5" r="3.85" fill="#fbb296"/>
<circle cx="498.4" cy="574.4" r="3.85" fill="#fbb296"/>
<circle cx="556.5" cy="556.3" r="4.3" fill="#ef4d35"/>
<circle cx="527.9" cy="562.8" r="3.5" fill="#fff3ee"/>
<circle cx="534.6" cy="563.6" r="3.85" fill="#fbb296"/>
<circle cx="493.4" cy="542.5" r="3.85" fill="#fbb296"/>
<circle cx="525.5" cy="578.3" r="3.85" fill="#fbb296"/>
<circle cx="529.6" cy="584.2" r="3.5" fill="#fff3ee"/>
<circle cx="520.2" cy="545.5" r="3.85" fill="#fbb296"/>
<circle cx="494" cy="582.2" r="3.85" fill="#fbb296"/>
<circle cx="551.8" cy="506.4" r="3.85" fill="#fbb296"/>
<circle cx="492.9" cy="598.8" r="3.5" fill="#fff3ee"/>
<circle cx="576" cy="502.5" r="4.3" fill="#ef4d35"/>
<circle cx="567" cy="558.6" r="3.85" fill="#fbb296"/>
<circle cx="526.6" cy="610.6" r="3.5" fill="#fff3ee"/>
<circle cx="448.4" cy="538.9" r="3.85" fill="#fbb296"/>
<circle cx="555" cy="587.9" r="3.5" fill="#fff3ee"/>
<circle cx="496.4" cy="526.4" r="3.85" fill="#fbb296"/>
<circle cx="583.8" cy="553.4" r="3.85" fill="#fbb296"/>
<circle cx="471.8" cy="575" r="3.5" fill="#fff3ee"/>
<circle cx="507.4" cy="564.7" r="3.5" fill="#fff3ee"/>
<circle cx="525.2" cy="520.9" r="4.3" fill="#ef4d35"/>
<circle cx="617.7" cy="588.5" r="3.85" fill="#fbb296"/>
<circle cx="542.2" cy="578.8" r="3.85" fill="#fbb296"/>
<circle cx="551.1" cy="541" r="3.85" fill="#fbb296"/>
<circle cx="544.8" cy="557.2" r="3.85" fill="#fbb296"/>
<circle cx="467.7" cy="564.9" r="3.5" fill="#fff3ee"/>
<circle cx="515.4" cy="569.8" r="3.5" fill="#fff3ee"/>
<circle cx="528.3" cy="568.5" r="3.85" fill="#fbb296"/>
<circle cx="575.5" cy="582.8" r="3.5" fill="#fff3ee"/>
<circle cx="509.6" cy="582.6" r="3.5" fill="#fff3ee"/>
<circle cx="566.4" cy="583.7" r="3.85" fill="#fbb296"/>
<circle cx="529.9" cy="522.9" r="3.85" fill="#fbb296"/>
<circle cx="516.3" cy="540.5" r="3.85" fill="#fbb296"/>
<circle cx="493.4" cy="558.2" r="3.85" fill="#fbb296"/>
<circle cx="494.7" cy="561.6" r="3.5" fill="#fff3ee"/>
<circle cx="553.6" cy="550.7" r="3.85" fill="#fbb296"/>
<circle cx="567.6" cy="552.7" r="4.3" fill="#ef4d35"/>
<circle cx="500.4" cy="562.3" r="3.85" fill="#fbb296"/>
<circle cx="471.1" cy="577.4" r="3.85" fill="#fbb296"/>
<circle cx="512.3" cy="561.1" r="3.85" fill="#fbb296"/>
<circle cx="514.4" cy="583.1" r="3.5" fill="#fff3ee"/>
<circle cx="433.3" cy="581.8" r="3.5" fill="#fff3ee"/>
<circle cx="507.8" cy="528.1" r="3.85" fill="#fbb296"/>
<circle cx="537" cy="593.3" r="3.85" fill="#fbb296"/>
<circle cx="440" cy="584" r="3.5" fill="#fff3ee"/>
<circle cx="455.1" cy="534.2" r="3.85" fill="#fbb296"/>
<circle cx="527.7" cy="569.8" r="3.5" fill="#fff3ee"/>
<circle cx="565" cy="519.3" r="3.85" fill="#fbb296"/>
<circle cx="492.4" cy="557.4" r="3.85" fill="#fbb296"/>
<circle cx="565.8" cy="576.1" r="3.5" fill="#fff3ee"/>
<circle cx="538.7" cy="505.3" r="4.3" fill="#ef4d35"/>
<circle cx="564.2" cy="583.5" r="3.5" fill="#fff3ee"/>
<circle cx="507.7" cy="574.8" r="3.5" fill="#fff3ee"/>
<circle cx="546.1" cy="571.7" r="3.5" fill="#fff3ee"/>
<circle cx="560.2" cy="553.9" r="4.3" fill="#ef4d35"/>
<circle cx="538.9" cy="521.1" r="3.85" fill="#fbb296"/>
<circle cx="606.4" cy="564.8" r="3.85" fill="#fbb296"/>
<circle cx="516.7" cy="563.7" r="3.85" fill="#fbb296"/>
<circle cx="561.2" cy="532.4" r="3.85" fill="#fbb296"/>
<circle cx="541.5" cy="570.3" r="3.85" fill="#fbb296"/>
<circle cx="489" cy="599.2" r="3.5" fill="#fff3ee"/>
<circle cx="464.6" cy="523.1" r="3.85" fill="#fbb296"/>
<circle cx="546.3" cy="533.1" r="3.85" fill="#fbb296"/>
<circle cx="555.8" cy="538" r="3.85" fill="#fbb296"/>
<circle cx="437.9" cy="544.6" r="3.85" fill="#fbb296"/>
<circle cx="501.9" cy="595" r="3.5" fill="#fff3ee"/>
<circle cx="476.3" cy="533.3" r="3.5" fill="#fff3ee"/>
<circle cx="510.3" cy="585.4" r="3.85" fill="#fbb296"/>
<circle cx="463" cy="520.4" r="3.85" fill="#fbb296"/>
<circle cx="550.5" cy="606.3" r="3.5" fill="#fff3ee"/>
<circle cx="541.1" cy="631.1" r="3.5" fill="#fff3ee"/>
<circle cx="462.6" cy="577.3" r="3.85" fill="#fbb296"/>
<circle cx="484.8" cy="576.3" r="3.85" fill="#fbb296"/>
<circle cx="536.1" cy="557.3" r="3.5" fill="#fff3ee"/>
<circle cx="517.9" cy="514.9" r="4.3" fill="#ef4d35"/>
<circle cx="499.8" cy="559.5" r="3.5" fill="#fff3ee"/>
<circle cx="563.2" cy="563.5" r="3.85" fill="#fbb296"/>
<circle cx="553.3" cy="624.7" r="3.5" fill="#fff3ee"/>
<circle cx="526.8" cy="580" r="3.85" fill="#fbb296"/>
<circle cx="554.6" cy="552.3" r="3.85" fill="#fbb296"/>
<circle cx="506.6" cy="555.1" r="3.5" fill="#fff3ee"/>
<circle cx="522.1" cy="552.7" r="3.85" fill="#fbb296"/>
<circle cx="531" cy="569.3" r="3.85" fill="#fbb296"/>
<circle cx="525.5" cy="534.7" r="3.85" fill="#fbb296"/>
<circle cx="472.2" cy="557.7" r="3.85" fill="#fbb296"/>
<circle cx="450.8" cy="566.8" r="3.85" fill="#fbb296"/>
<circle cx="424.7" cy="584.7" r="3.5" fill="#fff3ee"/>
<circle cx="484.1" cy="539.6" r="3.5" fill="#fff3ee"/>
<circle cx="534.5" cy="520" r="4.3" fill="#ef4d35"/>
<circle cx="491.4" cy="580.7" r="3.85" fill="#fbb296"/>
<circle cx="575" cy="544.7" r="3.85" fill="#fbb296"/>
<circle cx="462.9" cy="551.4" r="3.5" fill="#fff3ee"/>
<circle cx="516.5" cy="596.3" r="3.85" fill="#fbb296"/>
<circle cx="529.8" cy="519.1" r="3.85" fill="#fbb296"/>
<circle cx="568.5" cy="552.2" r="3.85" fill="#fbb296"/>
<circle cx="519.6" cy="569.3" r="3.5" fill="#fff3ee"/>
<circle cx="454.1" cy="568.6" r="3.85" fill="#fbb296"/>
<circle cx="537.2" cy="547.7" r="3.5" fill="#fff3ee"/>
<circle cx="473.8" cy="531.4" r="3.5" fill="#fff3ee"/>
<circle cx="560.9" cy="589" r="3.5" fill="#fff3ee"/>
<circle cx="574.9" cy="552.4" r="3.85" fill="#fbb296"/>
<circle cx="532.6" cy="590.5" r="3.85" fill="#fbb296"/>
<circle cx="536.3" cy="584.5" r="3.85" fill="#fbb296"/>
<circle cx="544.6" cy="578.3" r="3.5" fill="#fff3ee"/>
<circle cx="545.7" cy="528" r="3.85" fill="#fbb296"/>
<circle cx="563.9" cy="620.9" r="3.5" fill="#fff3ee"/>
<circle cx="480.8" cy="548.4" r="3.5" fill="#fff3ee"/>
<circle cx="525.2" cy="591.2" r="3.5" fill="#fff3ee"/>
<circle cx="503.5" cy="544.3" r="3.85" fill="#fbb296"/>
<circle cx="537.8" cy="614.9" r="3.5" fill="#fff3ee"/>
<circle cx="616.7" cy="557.3" r="4.3" fill="#ef4d35"/>
<circle cx="586" cy="553" r="3.5" fill="#fff3ee"/>
<circle cx="560.1" cy="559.6" r="3.5" fill="#fff3ee"/>
<circle cx="527.6" cy="586.3" r="3.5" fill="#fff3ee"/>
<circle cx="464.2" cy="595.4" r="3.5" fill="#fff3ee"/>
<circle cx="497.7" cy="571.5" r="3.5" fill="#fff3ee"/>
<circle cx="570.2" cy="544.3" r="3.85" fill="#fbb296"/>
<circle cx="525.2" cy="568.2" r="3.85" fill="#fbb296"/>
<circle cx="456.9" cy="556.7" r="3.5" fill="#fff3ee"/>
<circle cx="522.2" cy="554.1" r="3.85" fill="#fbb296"/>
<circle cx="480" cy="564.2" r="3.5" fill="#fff3ee"/>
<circle cx="591.2" cy="470.9" r="4.3" fill="#ef4d35"/>
<circle cx="518.2" cy="626.5" r="3.85" fill="#fbb296"/>
<circle cx="573.6" cy="552.6" r="3.85" fill="#fbb296"/>
<circle cx="575.8" cy="526.4" r="3.85" fill="#fbb296"/>
<circle cx="566.3" cy="550.8" r="3.5" fill="#fff3ee"/>
<circle cx="430.3" cy="521.6" r="3.85" fill="#fbb296"/>
<circle cx="547.4" cy="569.4" r="3.85" fill="#fbb296"/>
<circle cx="579.4" cy="603.7" r="3.5" fill="#fff3ee"/>
<circle cx="522.3" cy="588.2" r="3.5" fill="#fff3ee"/>
<circle cx="488.1" cy="572.2" r="3.85" fill="#fbb296"/>
<circle cx="542" cy="519.8" r="4.3" fill="#ef4d35"/>
<circle cx="526.8" cy="582.4" r="3.85" fill="#fbb296"/>
<circle cx="547.5" cy="576.7" r="3.5" fill="#fff3ee"/>
<circle cx="493.8" cy="574.9" r="3.5" fill="#fff3ee"/>
<circle cx="507.3" cy="583.5" r="3.85" fill="#fbb296"/>
<circle cx="486.1" cy="553.4" r="3.85" fill="#fbb296"/>
<circle cx="539.9" cy="565.6" r="3.85" fill="#fbb296"/>
<circle cx="549.3" cy="487.6" r="4.3" fill="#ef4d35"/>
<circle cx="582.5" cy="552.4" r="3.85" fill="#fbb296"/>
<circle cx="431.2" cy="538.9" r="3.85" fill="#fbb296"/>
<circle cx="525.8" cy="552.9" r="4.3" fill="#ef4d35"/>
<circle cx="574" cy="549.5" r="3.85" fill="#fbb296"/>
<circle cx="568.2" cy="597.8" r="3.5" fill="#fff3ee"/>
<circle cx="529" cy="615.9" r="3.85" fill="#fbb296"/>
<circle cx="610" cy="550.5" r="3.85" fill="#fbb296"/>
<circle cx="458.7" cy="585.3" r="3.85" fill="#fbb296"/>
<circle cx="495" cy="540.6" r="3.5" fill="#fff3ee"/>
<circle cx="509.2" cy="475.3" r="4.3" fill="#ef4d35"/>
<circle cx="490.8" cy="512.5" r="3.85" fill="#fbb296"/>
<circle cx="573.1" cy="591" r="3.85" fill="#fbb296"/>
<circle cx="561.1" cy="560" r="3.5" fill="#fff3ee"/>
<circle cx="590.4" cy="608.7" r="3.5" fill="#fff3ee"/>
<circle cx="555.9" cy="581.7" r="3.5" fill="#fff3ee"/>
<circle cx="465.1" cy="595.1" r="3.5" fill="#fff3ee"/>
<circle cx="530" cy="571" r="3.5" fill="#fff3ee"/>
<circle cx="531.8" cy="512" r="4.3" fill="#ef4d35"/>
<circle cx="546.1" cy="539.7" r="3.5" fill="#fff3ee"/>
<circle cx="533" cy="567.5" r="3.85" fill="#fbb296"/>
<circle cx="569" cy="580.3" r="3.85" fill="#fbb296"/>
<circle cx="474.6" cy="603.1" r="3.85" fill="#fbb296"/>
<circle cx="478.2" cy="569.4" r="3.85" fill="#fbb296"/>
<circle cx="556.3" cy="540.1" r="3.85" fill="#fbb296"/>
<circle cx="554.9" cy="587" r="3.85" fill="#fbb296"/>
<circle cx="522.6" cy="584" r="3.5" fill="#fff3ee"/>
<circle cx="595.2" cy="562.5" r="3.85" fill="#fbb296"/>
<circle cx="487.1" cy="562.8" r="4.3" fill="#ef4d35"/>
<circle cx="571.5" cy="592.2" r="3.85" fill="#fbb296"/>
<circle cx="508.8" cy="616.4" r="3.5" fill="#fff3ee"/>
<circle cx="428.5" cy="575" r="3.85" fill="#fbb296"/>
<circle cx="562.6" cy="577.8" r="3.85" fill="#fbb296"/>
<circle cx="486.9" cy="555.3" r="3.85" fill="#fbb296"/>
<circle cx="540.6" cy="540.5" r="3.85" fill="#fbb296"/>
<circle cx="488.2" cy="497.6" r="4.3" fill="#ef4d35"/>
<circle cx="525.1" cy="575.2" r="3.85" fill="#fbb296"/>
<circle cx="526.2" cy="567.2" r="3.85" fill="#fbb296"/>
<circle cx="495.8" cy="566.2" r="3.5" fill="#fff3ee"/>
<circle cx="505.1" cy="614.3" r="3.85" fill="#fbb296"/>
<circle cx="485.5" cy="607.5" r="3.85" fill="#fbb296"/>
<circle cx="543.5" cy="580.4" r="3.85" fill="#fbb296"/>
<circle cx="479.7" cy="535.5" r="3.5" fill="#fff3ee"/>
<circle cx="552.4" cy="553.2" r="3.85" fill="#fbb296"/>
<circle cx="458.5" cy="564.6" r="3.85" fill="#fbb296"/>
<circle cx="558.5" cy="632.6" r="3.85" fill="#fbb296"/>
<circle cx="530" cy="533.9" r="3.85" fill="#fbb296"/>
<circle cx="580.9" cy="597.3" r="3.85" fill="#fbb296"/>
<circle cx="516.6" cy="524.4" r="3.85" fill="#fbb296"/>
<circle cx="446.3" cy="570.7" r="3.5" fill="#fff3ee"/>
<circle cx="457" cy="539.4" r="3.5" fill="#fff3ee"/>
<circle cx="548" cy="541.7" r="3.85" fill="#fbb296"/>
<circle cx="582.5" cy="560.6" r="3.85" fill="#fbb296"/>
<circle cx="545.3" cy="573.9" r="3.85" fill="#fbb296"/>
<circle cx="529.1" cy="537.9" r="3.85" fill="#fbb296"/>
<circle cx="570.4" cy="577" r="3.85" fill="#fbb296"/>
<circle cx="513" cy="550" r="3.5" fill="#fff3ee"/>
<circle cx="527.1" cy="568.9" r="3.85" fill="#fbb296"/>
<circle cx="519.5" cy="490.2" r="4.3" fill="#ef4d35"/>
<circle cx="481" cy="571.2" r="3.85" fill="#fbb296"/>
<circle cx="451.3" cy="602.8" r="3.5" fill="#fff3ee"/>
<circle cx="522" cy="556" r="3.85" fill="#fbb296"/>
<circle cx="466.7" cy="596.6" r="3.5" fill="#fff3ee"/>
<circle cx="502.1" cy="574.1" r="3.5" fill="#fff3ee"/>
<circle cx="536.8" cy="606.6" r="3.85" fill="#fbb296"/>
<circle cx="519.1" cy="559.1" r="3.5" fill="#fff3ee"/>
<circle cx="494" cy="538.9" r="3.5" fill="#fff3ee"/>
<circle cx="478.4" cy="520" r="4.3" fill="#ef4d35"/>
<circle cx="544.6" cy="547.2" r="3.85" fill="#fbb296"/>
<circle cx="535.7" cy="572.1" r="3.85" fill="#fbb296"/>
<circle cx="466.6" cy="605" r="3.5" fill="#fff3ee"/>
<circle cx="493.6" cy="570.2" r="3.5" fill="#fff3ee"/>
<circle cx="520.9" cy="544.7" r="3.85" fill="#fbb296"/>
<circle cx="532" cy="543.9" r="3.85" fill="#fbb296"/>
<circle cx="524.4" cy="557.2" r="3.85" fill="#fbb296"/>
<circle cx="504.3" cy="575.8" r="3.85" fill="#fbb296"/>
<circle cx="534.8" cy="531.5" r="3.5" fill="#fff3ee"/>
<circle cx="538.8" cy="518.5" r="3.85" fill="#fbb296"/>
<circle cx="511.9" cy="604.4" r="3.5" fill="#fff3ee"/>
<circle cx="563.3" cy="609" r="3.5" fill="#fff3ee"/>
<circle cx="500.2" cy="517.5" r="3.85" fill="#fbb296"/>
<circle cx="503.7" cy="546.5" r="3.5" fill="#fff3ee"/>
<circle cx="507.7" cy="610.2" r="3.5" fill="#fff3ee"/>
<circle cx="503.3" cy="614.9" r="3.5" fill="#fff3ee"/>
<circle cx="548.6" cy="557.3" r="4.3" fill="#ef4d35"/>
<circle cx="504.5" cy="522.4" r="3.85" fill="#fbb296"/>
<circle cx="536.6" cy="556.6" r="3.5" fill="#fff3ee"/>
<circle cx="475.2" cy="538.6" r="3.85" fill="#fbb296"/>
<circle cx="552.4" cy="556.3" r="3.5" fill="#fff3ee"/>
<circle cx="518.4" cy="625.3" r="3.5" fill="#fff3ee"/>
<circle cx="520.4" cy="556.8" r="3.85" fill="#fbb296"/>
<circle cx="538.2" cy="613.6" r="3.5" fill="#fff3ee"/>
<circle cx="553.9" cy="582.5" r="3.5" fill="#fff3ee"/>
<circle cx="497.9" cy="550.7" r="3.5" fill="#fff3ee"/>
<circle cx="493.1" cy="559" r="3.5" fill="#fff3ee"/>
<circle cx="460.9" cy="587.2" r="3.5" fill="#fff3ee"/>
<circle cx="551.9" cy="572.5" r="3.85" fill="#fbb296"/>
<circle cx="518.7" cy="561.3" r="3.5" fill="#fff3ee"/>
<circle cx="501" cy="585.4" r="3.5" fill="#fff3ee"/>
<circle cx="459.5" cy="541.4" r="4.3" fill="#ef4d35"/>
<circle cx="511.3" cy="499.1" r="4.3" fill="#ef4d35"/>
<circle cx="558.9" cy="495.7" r="3.85" fill="#fbb296"/>
<circle cx="548.7" cy="579.1" r="3.5" fill="#fff3ee"/>
<circle cx="536.2" cy="557.6" r="3.85" fill="#fbb296"/>
<circle cx="495.4" cy="540.4" r="3.85" fill="#fbb296"/>
<circle cx="504.1" cy="586" r="3.5" fill="#fff3ee"/>
<circle cx="512.1" cy="610.1" r="3.5" fill="#fff3ee"/>
<circle cx="527.5" cy="558.9" r="3.5" fill="#fff3ee"/>
<circle cx="502.5" cy="560.2" r="3.5" fill="#fff3ee"/>
<circle cx="436.5" cy="541.2" r="3.85" fill="#fbb296"/>
<circle cx="506.4" cy="579.4" r="3.5" fill="#fff3ee"/>
<circle cx="541.2" cy="537.9" r="3.85" fill="#fbb296"/>
<circle cx="516.1" cy="541.2" r="3.85" fill="#fbb296"/>
<circle cx="476.1" cy="536.5" r="3.85" fill="#fbb296"/>
<circle cx="435.3" cy="564.9" r="3.5" fill="#fff3ee"/>
<circle cx="574.3" cy="512.3" r="4.3" fill="#ef4d35"/>
<circle cx="485.9" cy="586.7" r="3.5" fill="#fff3ee"/>
<circle cx="460.3" cy="572.7" r="3.85" fill="#fbb296"/>
<circle cx="492.6" cy="583.7" r="3.85" fill="#fbb296"/>
<circle cx="543.3" cy="552.5" r="3.5" fill="#fff3ee"/>
<circle cx="522.2" cy="574.6" r="3.85" fill="#fbb296"/>
<circle cx="436.2" cy="567.7" r="3.5" fill="#fff3ee"/>
<circle cx="436.3" cy="494.3" r="3.5" fill="#fff3ee"/>
<circle cx="514.2" cy="561.7" r="3.85" fill="#fbb296"/>
<circle cx="444" cy="543.3" r="3.85" fill="#fbb296"/>
<circle cx="490.4" cy="542.8" r="3.85" fill="#fbb296"/>
<circle cx="563.5" cy="558.8" r="3.85" fill="#fbb296"/>
<circle cx="424" cy="515.3" r="3.5" fill="#fff3ee"/>
<circle cx="470.5" cy="614.8" r="3.5" fill="#fff3ee"/>
<circle cx="470.4" cy="535.4" r="3.85" fill="#fbb296"/>
<circle cx="543.3" cy="598.2" r="3.85" fill="#fbb296"/>
<circle cx="548.1" cy="573.8" r="3.85" fill="#fbb296"/>
<circle cx="515.6" cy="557.6" r="3.85" fill="#fbb296"/>
<circle cx="599.6" cy="535.6" r="3.85" fill="#fbb296"/>
<circle cx="575.1" cy="570.4" r="3.5" fill="#fff3ee"/>
<circle cx="518.7" cy="530.7" r="4.3" fill="#ef4d35"/>
<circle cx="479.9" cy="552.5" r="3.5" fill="#fff3ee"/>
<circle cx="530" cy="587" r="3.5" fill="#fff3ee"/>
<circle cx="568.1" cy="568.7" r="3.85" fill="#fbb296"/>
<circle cx="509.7" cy="608.9" r="3.5" fill="#fff3ee"/>
<circle cx="513.4" cy="587.6" r="3.5" fill="#fff3ee"/>
<circle cx="467.7" cy="529.7" r="3.85" fill="#fbb296"/>
<circle cx="492.5" cy="539.7" r="3.5" fill="#fff3ee"/>
<circle cx="578.2" cy="649.5" r="3.5" fill="#fff3ee"/>
<circle cx="557.3" cy="577.5" r="3.5" fill="#fff3ee"/>
<circle cx="544.4" cy="576.1" r="3.5" fill="#fff3ee"/>
<circle cx="510.7" cy="563.3" r="3.5" fill="#fff3ee"/>
<circle cx="451.6" cy="578.6" r="3.5" fill="#fff3ee"/>
<circle cx="526.3" cy="590.9" r="3.5" fill="#fff3ee"/>
<circle cx="459.5" cy="560.4" r="3.85" fill="#fbb296"/>
<circle cx="537.5" cy="534.6" r="4.3" fill="#ef4d35"/>
<circle cx="481.1" cy="608.6" r="3.5" fill="#fff3ee"/>
<circle cx="448.4" cy="550.4" r="3.85" fill="#fbb296"/>
<circle cx="518.1" cy="590.6" r="3.5" fill="#fff3ee"/>
<circle cx="516.3" cy="570.7" r="3.5" fill="#fff3ee"/>
<circle cx="486.2" cy="554" r="3.5" fill="#fff3ee"/>
<circle cx="599.3" cy="582.1" r="3.85" fill="#fbb296"/>
<circle cx="504.8" cy="611.5" r="3.5" fill="#fff3ee"/>
<circle cx="493.1" cy="562.8" r="3.5" fill="#fff3ee"/>
<circle cx="518" cy="527" r="3.85" fill="#fbb296"/>
<circle cx="486.2" cy="529.2" r="3.5" fill="#fff3ee"/>
<circle cx="525.5" cy="524.1" r="3.85" fill="#fbb296"/>
<circle cx="586.6" cy="536.2" r="3.85" fill="#fbb296"/>
<circle cx="479.3" cy="562.7" r="3.85" fill="#fbb296"/>
<circle cx="469.5" cy="566.3" r="3.5" fill="#fff3ee"/>
<circle cx="491.6" cy="591.6" r="3.5" fill="#fff3ee"/>
<circle cx="566.3" cy="588.7" r="3.85" fill="#fbb296"/>
<circle cx="482.2" cy="538.8" r="4.3" fill="#ef4d35"/>
<circle cx="458" cy="510.3" r="4.3" fill="#ef4d35"/>
<circle cx="451.1" cy="529.2" r="3.85" fill="#fbb296"/>
<circle cx="533.4" cy="484" r="3.85" fill="#fbb296"/>
<circle cx="515.8" cy="586.7" r="3.5" fill="#fff3ee"/>
<circle cx="544.5" cy="527.2" r="3.85" fill="#fbb296"/>
<circle cx="569" cy="550.7" r="3.5" fill="#fff3ee"/>
<circle cx="570.8" cy="542.2" r="3.5" fill="#fff3ee"/>
<circle cx="456.4" cy="590.4" r="3.85" fill="#fbb296"/>
<circle cx="553.3" cy="578.5" r="3.85" fill="#fbb296"/>
<circle cx="553.8" cy="556.6" r="3.85" fill="#fbb296"/>
<circle cx="538.1" cy="542.1" r="3.85" fill="#fbb296"/>
<circle cx="490.1" cy="538.6" r="3.85" fill="#fbb296"/>
<circle cx="478.1" cy="529.7" r="3.85" fill="#fbb296"/>
<circle cx="465.5" cy="568.5" r="3.85" fill="#fbb296"/>
<circle cx="458.6" cy="548.6" r="3.5" fill="#fff3ee"/>
<circle cx="464.2" cy="519.6" r="4.3" fill="#ef4d35"/>
<circle cx="514" cy="556.5" r="3.5" fill="#fff3ee"/>
<circle cx="571.1" cy="593" r="3.85" fill="#fbb296"/>
<circle cx="578.3" cy="578.6" r="3.85" fill="#fbb296"/>
<circle cx="491.9" cy="597.8" r="3.5" fill="#fff3ee"/>
<circle cx="547.1" cy="629.2" r="3.5" fill="#fff3ee"/>
<circle cx="526.4" cy="535.3" r="3.85" fill="#fbb296"/>
<circle cx="484.9" cy="570" r="3.85" fill="#fbb296"/>
<circle cx="542.7" cy="489.1" r="4.3" fill="#ef4d35"/>
<circle cx="513.2" cy="624.1" r="3.5" fill="#fff3ee"/>
<circle cx="514.3" cy="517.6" r="3.5" fill="#fff3ee"/>
<circle cx="467.5" cy="583.7" r="3.5" fill="#fff3ee"/>
<circle cx="490" cy="547.5" r="3.85" fill="#fbb296"/>
<circle cx="496.6" cy="576.7" r="3.85" fill="#fbb296"/>
<circle cx="556.1" cy="574.6" r="3.5" fill="#fff3ee"/>
<circle cx="521.7" cy="510.2" r="4.3" fill="#ef4d35"/>
<circle cx="477.2" cy="563.9" r="3.85" fill="#fbb296"/>
<circle cx="482.5" cy="604.2" r="3.5" fill="#fff3ee"/>
<circle cx="527.8" cy="536" r="3.85" fill="#fbb296"/>
<circle cx="534.4" cy="533.2" r="3.85" fill="#fbb296"/>
<circle cx="473.4" cy="577.4" r="3.5" fill="#fff3ee"/>
<circle cx="466.1" cy="576.3" r="3.5" fill="#fff3ee"/>
<circle cx="525.7" cy="499.8" r="4.3" fill="#ef4d35"/>
<circle cx="599.3" cy="576.2" r="3.85" fill="#fbb296"/>
<circle cx="543.5" cy="576.7" r="3.85" fill="#fbb296"/>
<circle cx="535.1" cy="569.6" r="3.5" fill="#fff3ee"/>
<circle cx="541" cy="576.2" r="3.5" fill="#fff3ee"/>
<circle cx="467.7" cy="518.1" r="3.85" fill="#fbb296"/>
<circle cx="579.6" cy="636.2" r="3.5" fill="#fff3ee"/>
<circle cx="507.1" cy="535.9" r="3.85" fill="#fbb296"/>
<circle cx="587.8" cy="514.2" r="4.3" fill="#ef4d35"/>
<circle cx="550.3" cy="602.1" r="3.85" fill="#fbb296"/>
<circle cx="459.4" cy="584" r="3.85" fill="#fbb296"/>
<circle cx="543.7" cy="574.1" r="3.85" fill="#fbb296"/>
<circle cx="474" cy="608.9" r="3.5" fill="#fff3ee"/>
<circle cx="518.2" cy="524.5" r="3.85" fill="#fbb296"/>
<circle cx="474.4" cy="551.6" r="3.5" fill="#fff3ee"/>
<circle cx="526.6" cy="586.1" r="3.85" fill="#fbb296"/>
<circle cx="525" cy="558.9" r="3.85" fill="#fbb296"/>
<circle cx="521.7" cy="513.5" r="3.85" fill="#fbb296"/>
<circle cx="489.3" cy="615.2" r="3.5" fill="#fff3ee"/>
<circle cx="620.2" cy="579.4" r="3.5" fill="#fff3ee"/>
<circle cx="569.3" cy="567.5" r="3.85" fill="#fbb296"/>
<circle cx="505.5" cy="588.2" r="3.85" fill="#fbb296"/>
<circle cx="472" cy="479.6" r="4.3" fill="#ef4d35"/>
<circle cx="491.1" cy="566.9" r="3.5" fill="#fff3ee"/>
<circle cx="511.5" cy="593" r="3.85" fill="#fbb296"/>
<circle cx="534.5" cy="534.1" r="3.5" fill="#fff3ee"/>
<circle cx="534.7" cy="575.9" r="3.85" fill="#fbb296"/>
<circle cx="560.7" cy="608.3" r="3.85" fill="#fbb296"/>
<circle cx="527.7" cy="542.6" r="3.5" fill="#fff3ee"/>
<circle cx="484.6" cy="599.3" r="3.5" fill="#fff3ee"/>
<circle cx="457.3" cy="544.2" r="3.85" fill="#fbb296"/>
<circle cx="511.3" cy="559.2" r="3.85" fill="#fbb296"/>
<circle cx="552.2" cy="576.3" r="3.85" fill="#fbb296"/>
<circle cx="529.6" cy="520.5" r="3.85" fill="#fbb296"/>
<circle cx="429.4" cy="575.7" r="3.5" fill="#fff3ee"/>
<circle cx="502.1" cy="519" r="3.85" fill="#fbb296"/>
<circle cx="529.4" cy="627" r="3.85" fill="#fbb296"/>
<circle cx="508.6" cy="519.6" r="4.3" fill="#ef4d35"/>
<circle cx="609.8" cy="604.7" r="3.85" fill="#fbb296"/>
<circle cx="530.1" cy="546.6" r="3.5" fill="#fff3ee"/>
<circle cx="430.5" cy="533.4" r="3.5" fill="#fff3ee"/>
<circle cx="512.2" cy="568.6" r="3.85" fill="#fbb296"/>
<circle cx="490.2" cy="492.5" r="4.3" fill="#ef4d35"/>
<circle cx="465.6" cy="584.2" r="3.85" fill="#fbb296"/>
<circle cx="512.9" cy="592.9" r="3.85" fill="#fbb296"/>
<circle cx="510.3" cy="557.5" r="3.5" fill="#fff3ee"/>
<circle cx="532.7" cy="500.7" r="4.3" fill="#ef4d35"/>
<circle cx="570.8" cy="545.2" r="3.85" fill="#fbb296"/>
<circle cx="496.7" cy="545.3" r="3.85" fill="#fbb296"/>
<circle cx="537.3" cy="616.3" r="3.5" fill="#fff3ee"/>
<circle cx="573" cy="592.9" r="3.85" fill="#fbb296"/>
<circle cx="433.6" cy="590.9" r="3.5" fill="#fff3ee"/>
<circle cx="561" cy="564.5" r="3.85" fill="#fbb296"/>
<circle cx="526.8" cy="572.6" r="3.5" fill="#fff3ee"/>
<circle cx="586" cy="501.5" r="3.85" fill="#fbb296"/>
<circle cx="586.3" cy="560.8" r="3.85" fill="#fbb296"/>
<circle cx="516.5" cy="556" r="3.85" fill="#fbb296"/>
<circle cx="456.1" cy="586" r="3.85" fill="#fbb296"/>
<circle cx="560.2" cy="520" r="3.85" fill="#fbb296"/>
<circle cx="545.5" cy="597" r="3.85" fill="#fbb296"/>
<circle cx="503" cy="555.3" r="3.85" fill="#fbb296"/>
<circle cx="553" cy="486" r="3.85" fill="#fbb296"/>
<circle cx="549.4" cy="576.2" r="3.5" fill="#fff3ee"/>
<circle cx="501.7" cy="605.3" r="3.5" fill="#fff3ee"/>
<circle cx="518.8" cy="568.5" r="3.85" fill="#fbb296"/>
<circle cx="528" cy="572.9" r="3.85" fill="#fbb296"/>
<circle cx="482.2" cy="548.7" r="3.85" fill="#fbb296"/>
<circle cx="497.8" cy="563.2" r="3.5" fill="#fff3ee"/>
<circle cx="459.3" cy="516.8" r="3.85" fill="#fbb296"/>
<circle cx="547" cy="573.7" r="3.5" fill="#fff3ee"/>
<circle cx="506.6" cy="575.3" r="3.85" fill="#fbb296"/>
<circle cx="532.7" cy="583.5" r="3.85" fill="#fbb296"/>
<circle cx="519" cy="603.9" r="3.5" fill="#fff3ee"/>
<circle cx="461.8" cy="569.1" r="3.5" fill="#fff3ee"/>
<circle cx="500.1" cy="556.8" r="3.5" fill="#fff3ee"/>
<circle cx="552.3" cy="555.5" r="3.85" fill="#fbb296"/>
<circle cx="472.1" cy="554.3" r="3.85" fill="#fbb296"/>
<circle cx="455.8" cy="554.9" r="3.85" fill="#fbb296"/>
<circle cx="587.5" cy="590.3" r="3.5" fill="#fff3ee"/>
<circle cx="581" cy="565" r="3.5" fill="#fff3ee"/>
<circle cx="520.8" cy="571" r="3.85" fill="#fbb296"/>
<circle cx="560.1" cy="601.4" r="3.85" fill="#fbb296"/>
<circle cx="545.3" cy="571.4" r="3.85" fill="#fbb296"/>
<circle cx="540.1" cy="550.6" r="3.5" fill="#fff3ee"/>
<circle cx="518.1" cy="554" r="3.85" fill="#fbb296"/>
<circle cx="493.5" cy="564.5" r="3.85" fill="#fbb296"/>
<circle cx="545.9" cy="633.6" r="3.5" fill="#fff3ee"/>
<circle cx="557.7" cy="496.4" r="4.3" fill="#ef4d35"/>
<circle cx="533.9" cy="487.9" r="4.3" fill="#ef4d35"/>
<circle cx="485.5" cy="595" r="3.5" fill="#fff3ee"/>
<circle cx="533.1" cy="539.2" r="3.85" fill="#fbb296"/>
<circle cx="551.5" cy="568.7" r="3.85" fill="#fbb296"/>
<circle cx="545" cy="591.7" r="3.85" fill="#fbb296"/>
<circle cx="529.1" cy="572.2" r="3.5" fill="#fff3ee"/>
<circle cx="513.6" cy="524.3" r="3.85" fill="#fbb296"/>
<circle cx="570.7" cy="518.1" r="4.3" fill="#ef4d35"/>
<circle cx="615.8" cy="587.5" r="3.5" fill="#fff3ee"/>
<circle cx="522.1" cy="603" r="3.85" fill="#fbb296"/>
<circle cx="431.1" cy="538.6" r="3.5" fill="#fff3ee"/>
<circle cx="564.6" cy="528.9" r="3.85" fill="#fbb296"/>
<circle cx="533.8" cy="566.1" r="3.5" fill="#fff3ee"/>
<circle cx="514.1" cy="555.4" r="3.85" fill="#fbb296"/>
<circle cx="505.3" cy="527.5" r="3.85" fill="#fbb296"/>
<circle cx="537.4" cy="563.8" r="3.85" fill="#fbb296"/>
<circle cx="563.9" cy="534.7" r="3.85" fill="#fbb296"/>
<circle cx="447.1" cy="610.6" r="3.5" fill="#fff3ee"/>
<circle cx="521.1" cy="566.9" r="3.5" fill="#fff3ee"/>
<circle cx="537.8" cy="597.7" r="3.85" fill="#fbb296"/>
<circle cx="536.1" cy="541.9" r="3.85" fill="#fbb296"/>
<circle cx="477.6" cy="508.7" r="3.85" fill="#fbb296"/>
<circle cx="598.6" cy="561.7" r="3.5" fill="#fff3ee"/>
<circle cx="477" cy="540.3" r="3.85" fill="#fbb296"/>
<circle cx="568.6" cy="555.9" r="3.85" fill="#fbb296"/>
<circle cx="543.1" cy="494.6" r="3.85" fill="#fbb296"/>
<circle cx="475.8" cy="524.5" r="3.85" fill="#fbb296"/>
<circle cx="570.3" cy="570.7" r="3.85" fill="#fbb296"/>
<circle cx="522.9" cy="593.9" r="3.85" fill="#fbb296"/>
<circle cx="585.9" cy="623.6" r="3.85" fill="#fbb296"/>
<circle cx="545.2" cy="567" r="3.85" fill="#fbb296"/>
<circle cx="475" cy="611.7" r="3.5" fill="#fff3ee"/>
<circle cx="504" cy="503.5" r="4.3" fill="#ef4d35"/>
<circle cx="544.1" cy="580.5" r="3.85" fill="#fbb296"/>
<circle cx="443.8" cy="544.7" r="3.85" fill="#fbb296"/>
<circle cx="527.2" cy="594.6" r="3.5" fill="#fff3ee"/>
<circle cx="536.3" cy="562.6" r="3.5" fill="#fff3ee"/>
<circle cx="512.7" cy="576.8" r="3.85" fill="#fbb296"/>
<circle cx="494.8" cy="555.7" r="3.5" fill="#fff3ee"/>
<circle cx="503.2" cy="590" r="3.85" fill="#fbb296"/>
<circle cx="516.5" cy="562.6" r="3.85" fill="#fbb296"/>
<circle cx="513.9" cy="578.4" r="3.85" fill="#fbb296"/>
<circle cx="535.1" cy="564.4" r="3.85" fill="#fbb296"/>
<circle cx="470.8" cy="551" r="4.3" fill="#ef4d35"/>
<circle cx="456.8" cy="531.2" r="3.85" fill="#fbb296"/>
<circle cx="493" cy="545.1" r="3.5" fill="#fff3ee"/>
<circle cx="562.2" cy="544.1" r="3.85" fill="#fbb296"/>
<circle cx="550.9" cy="624.2" r="3.5" fill="#fff3ee"/>
<circle cx="503.2" cy="554.2" r="3.85" fill="#fbb296"/>
<circle cx="501.6" cy="550.6" r="3.85" fill="#fbb296"/>
<circle cx="480.6" cy="559.3" r="3.85" fill="#fbb296"/>
<circle cx="633.2" cy="564.4" r="3.85" fill="#fbb296"/>
<circle cx="542.9" cy="537.7" r="3.85" fill="#fbb296"/>
<circle cx="494.3" cy="539.1" r="3.85" fill="#fbb296"/>
<circle cx="507.2" cy="576.7" r="3.5" fill="#fff3ee"/>
<circle cx="560.3" cy="540.9" r="3.85" fill="#fbb296"/>
<circle cx="444.7" cy="587.4" r="3.5" fill="#fff3ee"/>
<circle cx="519.1" cy="548.5" r="3.85" fill="#fbb296"/>
<circle cx="541.7" cy="557.7" r="3.5" fill="#fff3ee"/>
<circle cx="527.4" cy="599.3" r="3.85" fill="#fbb296"/>
<circle cx="537.3" cy="573" r="3.85" fill="#fbb296"/>
<circle cx="518.4" cy="523.8" r="4.3" fill="#ef4d35"/>
<circle cx="572.7" cy="591.3" r="3.85" fill="#fbb296"/>
<circle cx="511.6" cy="540.6" r="3.85" fill="#fbb296"/>
<circle cx="492.1" cy="622.1" r="3.5" fill="#fff3ee"/>
<circle cx="542.3" cy="559.1" r="3.5" fill="#fff3ee"/>
<circle cx="539.7" cy="581" r="3.5" fill="#fff3ee"/>
<circle cx="506.3" cy="584.5" r="3.85" fill="#fbb296"/>
<circle cx="509" cy="546.8" r="3.85" fill="#fbb296"/>
<circle cx="554.7" cy="559.6" r="3.85" fill="#fbb296"/>
<circle cx="494.8" cy="527.6" r="3.85" fill="#fbb296"/>
<circle cx="469.8" cy="572.4" r="3.5" fill="#fff3ee"/>
<circle cx="535.9" cy="606.5" r="3.5" fill="#fff3ee"/>
<circle cx="449.8" cy="581.2" r="3.5" fill="#fff3ee"/>
<circle cx="486.4" cy="547.3" r="3.85" fill="#fbb296"/>
<circle cx="537.7" cy="574.5" r="3.85" fill="#fbb296"/>
<circle cx="517.2" cy="551.6" r="3.85" fill="#fbb296"/>
<circle cx="548" cy="628.8" r="3.5" fill="#fff3ee"/>
<circle cx="467" cy="583.7" r="3.5" fill="#fff3ee"/>
<circle cx="543.9" cy="560.9" r="3.5" fill="#fff3ee"/>
<circle cx="463.3" cy="567" r="3.5" fill="#fff3ee"/>
<circle cx="557.7" cy="542.5" r="3.85" fill="#fbb296"/>
<circle cx="579" cy="547.8" r="3.85" fill="#fbb296"/>
<circle cx="484.5" cy="502.9" r="3.85" fill="#fbb296"/>
<circle cx="556.4" cy="578.7" r="3.5" fill="#fff3ee"/>
<circle cx="528.5" cy="558.6" r="3.5" fill="#fff3ee"/>
<circle cx="547" cy="534.2" r="3.85" fill="#fbb296"/>
<circle cx="526.8" cy="578.5" r="3.5" fill="#fff3ee"/>
<circle cx="515.2" cy="587.2" r="3.5" fill="#fff3ee"/>
<circle cx="447.6" cy="600" r="3.85" fill="#fbb296"/>
<circle cx="499.3" cy="580.2" r="3.85" fill="#fbb296"/>
<circle cx="579.6" cy="535.4" r="3.85" fill="#fbb296"/>
<circle cx="539.2" cy="563.3" r="3.85" fill="#fbb296"/>
<circle cx="486.8" cy="584.5" r="3.85" fill="#fbb296"/>
<circle cx="510.8" cy="573.2" r="3.85" fill="#fbb296"/>
<circle cx="524.8" cy="554.4" r="3.85" fill="#fbb296"/>
<circle cx="508.3" cy="510.5" r="3.85" fill="#fbb296"/>
<circle cx="530.5" cy="616.9" r="3.5" fill="#fff3ee"/>
<circle cx="531.1" cy="585" r="3.5" fill="#fff3ee"/>
<circle cx="493.4" cy="527.6" r="3.85" fill="#fbb296"/>
<circle cx="541.7" cy="566.2" r="3.5" fill="#fff3ee"/>
<circle cx="532.4" cy="594.1" r="3.5" fill="#fff3ee"/>
<circle cx="551.5" cy="546.1" r="3.85" fill="#fbb296"/>
<circle cx="540.1" cy="528.3" r="4.3" fill="#ef4d35"/>
<circle cx="466.6" cy="551" r="3.85" fill="#fbb296"/>
<circle cx="434.1" cy="559.7" r="3.5" fill="#fff3ee"/>
<circle cx="536.9" cy="577" r="3.5" fill="#fff3ee"/>
<circle cx="549" cy="622.9" r="3.5" fill="#fff3ee"/>
<circle cx="565.3" cy="600.2" r="3.85" fill="#fbb296"/>
<circle cx="464.1" cy="554.1" r="3.85" fill="#fbb296"/>
<circle cx="523.8" cy="526.2" r="3.85" fill="#fbb296"/>
<circle cx="523.6" cy="533.5" r="3.85" fill="#fbb296"/>
<circle cx="500.1" cy="600.7" r="3.5" fill="#fff3ee"/>
<circle cx="485.1" cy="602.7" r="3.5" fill="#fff3ee"/>
<circle cx="563.3" cy="558.3" r="4.3" fill="#ef4d35"/>
<circle cx="539.8" cy="535.4" r="4.3" fill="#ef4d35"/>
<circle cx="543.6" cy="581.1" r="3.85" fill="#fbb296"/>
<circle cx="532.6" cy="590.4" r="3.85" fill="#fbb296"/>
<circle cx="512.8" cy="536" r="3.85" fill="#fbb296"/>
<circle cx="506.8" cy="578" r="3.5" fill="#fff3ee"/>
<circle cx="508.6" cy="543.2" r="3.85" fill="#fbb296"/>
<circle cx="510.1" cy="608.5" r="3.5" fill="#fff3ee"/>
<circle cx="420.5" cy="474.3" r="3.85" fill="#fbb296"/>
<circle cx="583.2" cy="597.1" r="3.85" fill="#fbb296"/>
<circle cx="465.3" cy="562.5" r="3.5" fill="#fff3ee"/>
<circle cx="549.4" cy="554.4" r="3.5" fill="#fff3ee"/>
<circle cx="507.3" cy="550.8" r="3.85" fill="#fbb296"/>
<circle cx="602" cy="554.9" r="4.3" fill="#ef4d35"/>
<circle cx="532.7" cy="558.1" r="3.85" fill="#fbb296"/>
<circle cx="533.6" cy="530.8" r="3.85" fill="#fbb296"/>
<circle cx="507.9" cy="490.2" r="4.3" fill="#ef4d35"/>
<circle cx="518.9" cy="513.9" r="3.85" fill="#fbb296"/>
<circle cx="481.6" cy="617.5" r="3.85" fill="#fbb296"/>
<circle cx="460.9" cy="621.1" r="3.5" fill="#fff3ee"/>
<circle cx="493.7" cy="524.4" r="3.85" fill="#fbb296"/>
<circle cx="486.3" cy="543.6" r="3.85" fill="#fbb296"/>
<circle cx="481.7" cy="563.3" r="3.85" fill="#fbb296"/>
<circle cx="510.2" cy="535.1" r="3.85" fill="#fbb296"/>
<circle cx="517.3" cy="577.3" r="3.85" fill="#fbb296"/>
<circle cx="533.8" cy="493.2" r="4.3" fill="#ef4d35"/>
<circle cx="472.2" cy="536.1" r="3.85" fill="#fbb296"/>
<circle cx="535.5" cy="583.7" r="3.85" fill="#fbb296"/>
<circle cx="579" cy="622.3" r="3.85" fill="#fbb296"/>
<circle cx="520.9" cy="554.2" r="3.5" fill="#fff3ee"/>
<circle cx="513.8" cy="569.2" r="3.85" fill="#fbb296"/>
<circle cx="577.5" cy="579" r="3.85" fill="#fbb296"/>
<circle cx="568.5" cy="540.9" r="3.85" fill="#fbb296"/>
<circle cx="489.2" cy="572.6" r="3.5" fill="#fff3ee"/>
<circle cx="471.7" cy="519.4" r="3.85" fill="#fbb296"/>
<circle cx="551.5" cy="582.4" r="3.85" fill="#fbb296"/>
<circle cx="468.6" cy="528.2" r="4.3" fill="#ef4d35"/>
<circle cx="524.1" cy="571.7" r="3.5" fill="#fff3ee"/>
<circle cx="489.5" cy="567.2" r="3.5" fill="#fff3ee"/>
<circle cx="500.2" cy="541.3" r="3.85" fill="#fbb296"/>
<circle cx="436.1" cy="570.6" r="3.5" fill="#fff3ee"/>
<circle cx="447.7" cy="566.4" r="4.3" fill="#ef4d35"/>
<circle cx="539.4" cy="540.3" r="3.5" fill="#fff3ee"/>
<circle cx="529.9" cy="579.2" r="3.85" fill="#fbb296"/>
<circle cx="516.3" cy="559.4" r="3.85" fill="#fbb296"/>
<circle cx="516.5" cy="551.3" r="3.5" fill="#fff3ee"/>
<circle cx="493" cy="578.2" r="3.5" fill="#fff3ee"/>
<circle cx="525.2" cy="509.3" r="3.85" fill="#fbb296"/>
<circle cx="550.2" cy="563.6" r="3.85" fill="#fbb296"/>
<circle cx="508.6" cy="575.4" r="3.85" fill="#fbb296"/>
<circle cx="560.1" cy="541.6" r="3.85" fill="#fbb296"/>
<circle cx="463.3" cy="541.5" r="3.85" fill="#fbb296"/>
<circle cx="521.2" cy="561.1" r="3.85" fill="#fbb296"/>
<circle cx="487" cy="548.4" r="3.5" fill="#fff3ee"/>
<circle cx="520.6" cy="596.5" r="3.85" fill="#fbb296"/>
<circle cx="483.6" cy="591.3" r="3.5" fill="#fff3ee"/>
<circle cx="558" cy="565.2" r="3.85" fill="#fbb296"/>
<circle cx="564.8" cy="558.7" r="3.85" fill="#fbb296"/>
<circle cx="552.1" cy="594.8" r="3.5" fill="#fff3ee"/>
<circle cx="488.5" cy="563.4" r="3.85" fill="#fbb296"/>
<circle cx="490.3" cy="576.4" r="3.85" fill="#fbb296"/>
<circle cx="494.1" cy="569.9" r="3.85" fill="#fbb296"/>
<circle cx="505" cy="523" r="3.85" fill="#fbb296"/>
<circle cx="518.5" cy="608.3" r="3.5" fill="#fff3ee"/>
<circle cx="508.9" cy="550.8" r="3.85" fill="#fbb296"/>
<circle cx="484.9" cy="535.7" r="3.85" fill="#fbb296"/>
<circle cx="586.7" cy="590.2" r="3.5" fill="#fff3ee"/>
<circle cx="542.9" cy="562.9" r="3.85" fill="#fbb296"/>
<circle cx="542.9" cy="547.3" r="4.3" fill="#ef4d35"/>
<circle cx="514.7" cy="561.7" r="3.85" fill="#fbb296"/>
<circle cx="500.5" cy="528.6" r="4.3" fill="#ef4d35"/>
<circle cx="548.1" cy="559.4" r="3.85" fill="#fbb296"/>
<circle cx="464.6" cy="575.6" r="3.5" fill="#fff3ee"/>
<circle cx="562.2" cy="548.4" r="3.85" fill="#fbb296"/>
<circle cx="457.6" cy="554.9" r="3.85" fill="#fbb296"/>
<circle cx="595.6" cy="542.7" r="4.3" fill="#ef4d35"/>
<circle cx="551.9" cy="560.5" r="3.85" fill="#fbb296"/>
<circle cx="523.7" cy="537" r="3.85" fill="#fbb296"/>
<circle cx="533.7" cy="545.7" r="3.85" fill="#fbb296"/>
<circle cx="519.9" cy="558.9" r="3.5" fill="#fff3ee"/>
<circle cx="549.6" cy="567.6" r="3.5" fill="#fff3ee"/>
<circle cx="505.2" cy="550" r="3.5" fill="#fff3ee"/>
<circle cx="492" cy="528.3" r="3.85" fill="#fbb296"/>
<circle cx="528.2" cy="570" r="3.5" fill="#fff3ee"/>
<circle cx="513.2" cy="622.6" r="3.5" fill="#fff3ee"/>
<circle cx="551.1" cy="535.9" r="3.5" fill="#fff3ee"/>
<circle cx="494.2" cy="600.3" r="3.5" fill="#fff3ee"/>
<circle cx="516.4" cy="596.6" r="3.5" fill="#fff3ee"/>
<circle cx="462.3" cy="564.8" r="3.85" fill="#fbb296"/>
<circle cx="524.4" cy="552.8" r="3.85" fill="#fbb296"/>
<circle cx="497.2" cy="565" r="3.5" fill="#fff3ee"/>
<circle cx="455.7" cy="568.5" r="3.85" fill="#fbb296"/>
<circle cx="529.9" cy="555.5" r="3.5" fill="#fff3ee"/>
<circle cx="478.1" cy="566.1" r="3.5" fill="#fff3ee"/>
<circle cx="561.9" cy="522.8" r="4.3" fill="#ef4d35"/>
<circle cx="543.1" cy="621.5" r="3.85" fill="#fbb296"/>
<circle cx="425" cy="557.9" r="3.85" fill="#fbb296"/>
<circle cx="545.7" cy="546.5" r="3.85" fill="#fbb296"/>
<circle cx="526.7" cy="540.1" r="3.5" fill="#fff3ee"/>
<circle cx="504.9" cy="583.2" r="3.85" fill="#fbb296"/>
<circle cx="565.4" cy="546.7" r="3.85" fill="#fbb296"/>
<circle cx="513.3" cy="578" r="3.5" fill="#fff3ee"/>
<circle cx="439.4" cy="540.8" r="3.85" fill="#fbb296"/>
<circle cx="512.7" cy="548.7" r="3.85" fill="#fbb296"/>
<circle cx="557.5" cy="631.3" r="3.5" fill="#fff3ee"/>
<circle cx="554.9" cy="591.3" r="3.5" fill="#fff3ee"/>
<circle cx="472" cy="519.5" r="3.85" fill="#fbb296"/>
<circle cx="418.8" cy="577.7" r="3.5" fill="#fff3ee"/>
<circle cx="525.4" cy="600.1" r="3.5" fill="#fff3ee"/>
<circle cx="554.9" cy="617.3" r="3.5" fill="#fff3ee"/>
<circle cx="559.3" cy="556.7" r="3.5" fill="#fff3ee"/>
<circle cx="535.3" cy="619.8" r="3.5" fill="#fff3ee"/>
<circle cx="453.8" cy="547.9" r="3.85" fill="#fbb296"/>
<circle cx="468.5" cy="534.5" r="3.5" fill="#fff3ee"/>
<circle cx="472.8" cy="556.7" r="3.5" fill="#fff3ee"/>
<circle cx="585.3" cy="537.6" r="4.3" fill="#ef4d35"/>
<circle cx="524.2" cy="560.3" r="3.85" fill="#fbb296"/>
<circle cx="503" cy="521.3" r="3.85" fill="#fbb296"/>
<circle cx="554.3" cy="560.4" r="3.85" fill="#fbb296"/>
<circle cx="582" cy="548.5" r="3.85" fill="#fbb296"/>
<circle cx="593.5" cy="524" r="3.85" fill="#fbb296"/>
<circle cx="566.8" cy="561.8" r="3.85" fill="#fbb296"/>
<circle cx="561.2" cy="586.5" r="3.5" fill="#fff3ee"/>
<circle cx="552.9" cy="565.6" r="3.5" fill="#fff3ee"/>
<circle cx="548.7" cy="587.6" r="3.85" fill="#fbb296"/>
<circle cx="505.9" cy="543" r="3.5" fill="#fff3ee"/>
<circle cx="492.3" cy="576.7" r="3.5" fill="#fff3ee"/>
<circle cx="573" cy="550.2" r="4.3" fill="#ef4d35"/>
<circle cx="552.9" cy="578" r="3.5" fill="#fff3ee"/>
<circle cx="542.1" cy="595.6" r="3.5" fill="#fff3ee"/>
<circle cx="530.5" cy="534.1" r="4.3" fill="#ef4d35"/>
<circle cx="562.1" cy="566.8" r="3.85" fill="#fbb296"/>
<circle cx="552.3" cy="546.6" r="4.3" fill="#ef4d35"/>
<circle cx="498.9" cy="542.5" r="3.5" fill="#fff3ee"/>
<circle cx="514.4" cy="594.4" r="3.5" fill="#fff3ee"/>
<circle cx="518.1" cy="554.1" r="3.85" fill="#fbb296"/>
<circle cx="533" cy="530" r="4.3" fill="#ef4d35"/>
<circle cx="527.6" cy="529.3" r="3.85" fill="#fbb296"/>
<circle cx="559.7" cy="582.5" r="3.5" fill="#fff3ee"/>
<circle cx="492.3" cy="544.2" r="4.3" fill="#ef4d35"/>
<circle cx="572.9" cy="613.6" r="3.85" fill="#fbb296"/>
<circle cx="522.4" cy="558.4" r="3.5" fill="#fff3ee"/>
<circle cx="506.3" cy="569.8" r="3.85" fill="#fbb296"/>
<circle cx="501.6" cy="485.8" r="4.3" fill="#ef4d35"/>
<circle cx="556.1" cy="570.3" r="3.85" fill="#fbb296"/>
<circle cx="516.7" cy="548.7" r="3.5" fill="#fff3ee"/>
<circle cx="474.3" cy="570" r="3.85" fill="#fbb296"/>
<circle cx="481" cy="526.8" r="3.85" fill="#fbb296"/>
<circle cx="503.1" cy="550.6" r="3.85" fill="#fbb296"/>
<circle cx="479.2" cy="523.7" r="3.85" fill="#fbb296"/>
<circle cx="535.8" cy="631.2" r="3.5" fill="#fff3ee"/>
<circle cx="545.3" cy="536.1" r="3.85" fill="#fbb296"/>
<circle cx="549.9" cy="495.6" r="4.3" fill="#ef4d35"/>
<circle cx="516.7" cy="569.1" r="3.85" fill="#fbb296"/>
<circle cx="518.7" cy="533.5" r="3.85" fill="#fbb296"/>
<circle cx="456" cy="566.2" r="3.5" fill="#fff3ee"/>
<circle cx="474.3" cy="571.8" r="3.85" fill="#fbb296"/>
<circle cx="527.9" cy="554.5" r="3.85" fill="#fbb296"/>
<circle cx="590.2" cy="539.3" r="3.5" fill="#fff3ee"/>
<circle cx="579.4" cy="567.8" r="3.85" fill="#fbb296"/>
<circle cx="532.4" cy="598.2" r="3.85" fill="#fbb296"/>
<circle cx="596.1" cy="531.5" r="3.85" fill="#fbb296"/>
<circle cx="516.3" cy="597.3" r="3.85" fill="#fbb296"/>
<circle cx="519" cy="557.5" r="3.85" fill="#fbb296"/>
<circle cx="462.7" cy="592.6" r="3.85" fill="#fbb296"/>
<circle cx="523.4" cy="601.4" r="3.85" fill="#fbb296"/>
<circle cx="595.4" cy="605.1" r="3.5" fill="#fff3ee"/>
<circle cx="446.2" cy="522.7" r="4.3" fill="#ef4d35"/>
<circle cx="575.7" cy="577.9" r="3.85" fill="#fbb296"/>
<circle cx="562.4" cy="515.7" r="3.85" fill="#fbb296"/>
<circle cx="512.8" cy="608" r="3.5" fill="#fff3ee"/>
<circle cx="523.7" cy="521.2" r="3.85" fill="#fbb296"/>
<circle cx="543.9" cy="576.8" r="3.5" fill="#fff3ee"/>
<circle cx="525.8" cy="530.6" r="3.85" fill="#fbb296"/>
<circle cx="564" cy="554.3" r="3.85" fill="#fbb296"/>
<circle cx="489.3" cy="580.3" r="3.85" fill="#fbb296"/>
<circle cx="474.6" cy="537.7" r="3.85" fill="#fbb296"/>
<circle cx="493.5" cy="546.3" r="3.85" fill="#fbb296"/>
<circle cx="474.7" cy="535.3" r="3.85" fill="#fbb296"/>
<circle cx="531" cy="525.8" r="3.85" fill="#fbb296"/>
<circle cx="490.5" cy="572.1" r="3.85" fill="#fbb296"/>
<circle cx="487.6" cy="567.3" r="3.85" fill="#fbb296"/>
<circle cx="567.8" cy="600.8" r="3.5" fill="#fff3ee"/>
<circle cx="569" cy="543.2" r="4.3" fill="#ef4d35"/>
<circle cx="451.1" cy="605.8" r="3.5" fill="#fff3ee"/>
<circle cx="552.3" cy="613.3" r="3.5" fill="#fff3ee"/>
<circle cx="448.8" cy="536.5" r="3.85" fill="#fbb296"/>
<circle cx="503" cy="529.6" r="3.5" fill="#fff3ee"/>
<circle cx="522.9" cy="601" r="3.5" fill="#fff3ee"/>
<circle cx="512.8" cy="544.3" r="3.85" fill="#fbb296"/>
<circle cx="490.4" cy="568.3" r="3.5" fill="#fff3ee"/>
<circle cx="511.8" cy="608.4" r="3.5" fill="#fff3ee"/>
<circle cx="550.2" cy="615" r="3.5" fill="#fff3ee"/>
<circle cx="575.6" cy="590.2" r="3.5" fill="#fff3ee"/>
<circle cx="581.3" cy="613.9" r="3.85" fill="#fbb296"/>
<circle cx="490.3" cy="591.2" r="3.5" fill="#fff3ee"/>
<circle cx="493.4" cy="465" r="4.3" fill="#ef4d35"/>
<circle cx="556.6" cy="553.3" r="3.5" fill="#fff3ee"/>
<circle cx="508.6" cy="564.1" r="3.5" fill="#fff3ee"/>
<circle cx="536.7" cy="498.6" r="3.85" fill="#fbb296"/>
<circle cx="515.5" cy="601.5" r="3.85" fill="#fbb296"/>
<circle cx="530.6" cy="508.3" r="3.85" fill="#fbb296"/>
<circle cx="599.1" cy="536.2" r="4.3" fill="#ef4d35"/>
<circle cx="538.6" cy="582" r="3.85" fill="#fbb296"/>
<circle cx="524" cy="584.3" r="3.5" fill="#fff3ee"/>
<circle cx="469.2" cy="545.5" r="3.85" fill="#fbb296"/>
<circle cx="527.5" cy="558.1" r="3.5" fill="#fff3ee"/>
<circle cx="496.5" cy="528.9" r="3.85" fill="#fbb296"/>
<circle cx="541.2" cy="603.8" r="3.85" fill="#fbb296"/>
<circle cx="532.5" cy="599.1" r="3.5" fill="#fff3ee"/>
<circle cx="486.7" cy="544.6" r="3.5" fill="#fff3ee"/>
<circle cx="482.3" cy="566.8" r="3.5" fill="#fff3ee"/>
<circle cx="480.5" cy="562.6" r="3.5" fill="#fff3ee"/>
<circle cx="520.5" cy="567.8" r="3.5" fill="#fff3ee"/>
<circle cx="505.6" cy="528.9" r="4.3" fill="#ef4d35"/>
<circle cx="542.7" cy="576.2" r="3.85" fill="#fbb296"/>
<circle cx="514.6" cy="511.2" r="3.85" fill="#fbb296"/>
<circle cx="513.6" cy="552.2" r="3.85" fill="#fbb296"/>
<circle cx="463.9" cy="585.8" r="3.85" fill="#fbb296"/>
<circle cx="511.8" cy="565.8" r="3.5" fill="#fff3ee"/>
<circle cx="599.8" cy="571.2" r="3.85" fill="#fbb296"/>
<circle cx="535.8" cy="574" r="3.5" fill="#fff3ee"/>
<circle cx="568.9" cy="574.4" r="3.85" fill="#fbb296"/>
<circle cx="595.2" cy="572.5" r="3.85" fill="#fbb296"/>
<circle cx="553" cy="571.6" r="4.3" fill="#ef4d35"/>
<circle cx="510.2" cy="530.2" r="3.5" fill="#fff3ee"/>
<circle cx="522.3" cy="535.5" r="3.85" fill="#fbb296"/>
<circle cx="498.2" cy="587.5" r="3.5" fill="#fff3ee"/>
<circle cx="590.7" cy="552.3" r="3.85" fill="#fbb296"/>
<circle cx="544.7" cy="578.8" r="3.5" fill="#fff3ee"/>
<circle cx="534.4" cy="589" r="3.5" fill="#fff3ee"/>
<circle cx="495.1" cy="605.1" r="3.85" fill="#fbb296"/>
<circle cx="444.4" cy="504.5" r="4.3" fill="#ef4d35"/>
<circle cx="493.1" cy="563.2" r="3.85" fill="#fbb296"/>
<circle cx="562.2" cy="571.7" r="3.85" fill="#fbb296"/>
<circle cx="494.7" cy="567" r="3.85" fill="#fbb296"/>
<circle cx="504.9" cy="602.8" r="3.5" fill="#fff3ee"/>
<circle cx="516" cy="525.9" r="3.85" fill="#fbb296"/>
<circle cx="550.7" cy="567.7" r="3.85" fill="#fbb296"/>
<circle cx="559" cy="536" r="3.85" fill="#fbb296"/>
<circle cx="487.7" cy="574.5" r="3.85" fill="#fbb296"/>
<circle cx="500.2" cy="616.7" r="3.5" fill="#fff3ee"/>
<circle cx="551.6" cy="574.9" r="3.5" fill="#fff3ee"/>
<circle cx="499.4" cy="552.7" r="3.5" fill="#fff3ee"/>
<circle cx="471" cy="534.5" r="3.5" fill="#fff3ee"/>
<circle cx="479.4" cy="596.9" r="3.5" fill="#fff3ee"/>
<circle cx="515.3" cy="598.2" r="3.85" fill="#fbb296"/>
<circle cx="494.9" cy="590.3" r="3.5" fill="#fff3ee"/>
<circle cx="461.6" cy="520" r="3.85" fill="#fbb296"/>
<circle cx="515.7" cy="596.3" r="3.85" fill="#fbb296"/>
<circle cx="539.8" cy="548.8" r="3.85" fill="#fbb296"/>
<circle cx="508.6" cy="571.6" r="3.5" fill="#fff3ee"/>
<circle cx="551.7" cy="571.7" r="3.5" fill="#fff3ee"/>
<circle cx="433.4" cy="592.8" r="3.5" fill="#fff3ee"/>
<circle cx="476.2" cy="557.1" r="3.85" fill="#fbb296"/>
<circle cx="576.1" cy="565" r="3.5" fill="#fff3ee"/>
<circle cx="593.1" cy="559.9" r="3.85" fill="#fbb296"/>
<circle cx="535.7" cy="614.3" r="3.5" fill="#fff3ee"/>
<circle cx="553.2" cy="550.5" r="3.85" fill="#fbb296"/>
<circle cx="530.4" cy="586.5" r="3.5" fill="#fff3ee"/>
<circle cx="525.3" cy="559.1" r="3.85" fill="#fbb296"/>
<circle cx="459.1" cy="607.2" r="3.85" fill="#fbb296"/>
<circle cx="534.3" cy="545.6" r="3.85" fill="#fbb296"/>
<circle cx="547" cy="561.7" r="3.5" fill="#fff3ee"/>
<circle cx="474.4" cy="528.1" r="3.85" fill="#fbb296"/>
<circle cx="578.2" cy="537.6" r="3.85" fill="#fbb296"/>
<circle cx="542.8" cy="529.8" r="4.3" fill="#ef4d35"/>
<circle cx="630.7" cy="541.9" r="3.85" fill="#fbb296"/>
<circle cx="465" cy="539.8" r="3.85" fill="#fbb296"/>
<circle cx="564.1" cy="578.3" r="3.5" fill="#fff3ee"/>
<circle cx="537" cy="514.6" r="3.85" fill="#fbb296"/>
<circle cx="519.2" cy="576.7" r="3.85" fill="#fbb296"/>
<circle cx="599.4" cy="534.5" r="4.3" fill="#ef4d35"/>
<circle cx="501.3" cy="536.4" r="3.85" fill="#fbb296"/>
<circle cx="538.9" cy="541.6" r="3.5" fill="#fff3ee"/>
<circle cx="540.5" cy="484.4" r="4.3" fill="#ef4d35"/>
<circle cx="520.9" cy="560.3" r="3.85" fill="#fbb296"/>
<circle cx="510" cy="464.2" r="4.3" fill="#ef4d35"/>
<circle cx="486.5" cy="601" r="3.5" fill="#fff3ee"/>
<circle cx="493.9" cy="576.7" r="3.85" fill="#fbb296"/>
<circle cx="527.4" cy="555.2" r="3.85" fill="#fbb296"/>
<circle cx="580.3" cy="531" r="3.85" fill="#fbb296"/>
<circle cx="516.2" cy="556.3" r="3.85" fill="#fbb296"/>
<circle cx="544" cy="621" r="3.5" fill="#fff3ee"/>
<circle cx="492.5" cy="540" r="3.5" fill="#fff3ee"/>
<circle cx="498.1" cy="573.8" r="3.85" fill="#fbb296"/>
<circle cx="545.3" cy="527.2" r="3.85" fill="#fbb296"/>
<circle cx="474.1" cy="522.1" r="3.85" fill="#fbb296"/>
<circle cx="502" cy="555.3" r="3.5" fill="#fff3ee"/>
<circle cx="503" cy="503" r="3.85" fill="#fbb296"/>
<circle cx="563.5" cy="583.6" r="3.5" fill="#fff3ee"/>
<circle cx="487.9" cy="522.3" r="3.85" fill="#fbb296"/>
<circle cx="511" cy="577" r="3.85" fill="#fbb296"/>
<circle cx="590.4" cy="566.9" r="3.5" fill="#fff3ee"/>
<circle cx="561.5" cy="521.3" r="3.85" fill="#fbb296"/>
<circle cx="520.7" cy="520.8" r="3.85" fill="#fbb296"/>
<circle cx="518.2" cy="533.8" r="3.85" fill="#fbb296"/>
<circle cx="590" cy="586.1" r="3.5" fill="#fff3ee"/>
<circle cx="528.2" cy="618.5" r="3.5" fill="#fff3ee"/>
<circle cx="460.2" cy="580.6" r="3.85" fill="#fbb296"/>
<circle cx="526.7" cy="574.5" r="3.5" fill="#fff3ee"/>
<circle cx="489.7" cy="547.5" r="3.85" fill="#fbb296"/>
<circle cx="532.7" cy="538.2" r="3.5" fill="#fff3ee"/>
<circle cx="445.9" cy="536.4" r="4.3" fill="#ef4d35"/>
<circle cx="500" cy="577.1" r="3.85" fill="#fbb296"/>
<circle cx="492.4" cy="544.1" r="3.5" fill="#fff3ee"/>
<circle cx="479.6" cy="579.2" r="3.85" fill="#fbb296"/>
<circle cx="489.4" cy="601.2" r="3.5" fill="#fff3ee"/>
<circle cx="478.5" cy="531.9" r="3.85" fill="#fbb296"/>
<circle cx="540.1" cy="641.3" r="3.5" fill="#fff3ee"/>
<circle cx="544.7" cy="577.6" r="3.5" fill="#fff3ee"/>
<circle cx="508.4" cy="546" r="3.85" fill="#fbb296"/>
<circle cx="501.7" cy="576.7" r="3.5" fill="#fff3ee"/>
<circle cx="491.8" cy="563.5" r="3.85" fill="#fbb296"/>
<circle cx="574.9" cy="557" r="3.85" fill="#fbb296"/>
<circle cx="499.4" cy="584.7" r="3.5" fill="#fff3ee"/>
<circle cx="547.4" cy="583.7" r="3.85" fill="#fbb296"/>
<circle cx="575.7" cy="542.2" r="3.85" fill="#fbb296"/>
<circle cx="525.1" cy="540.3" r="3.85" fill="#fbb296"/>
<circle cx="470.3" cy="548.5" r="3.85" fill="#fbb296"/>
<circle cx="527.4" cy="544.9" r="3.85" fill="#fbb296"/>
<circle cx="569.9" cy="496.3" r="3.85" fill="#fbb296"/>
<circle cx="502.6" cy="589.4" r="3.5" fill="#fff3ee"/>
<circle cx="439.9" cy="534.7" r="3.5" fill="#fff3ee"/>
<circle cx="539.2" cy="592.4" r="3.5" fill="#fff3ee"/>
<circle cx="527.8" cy="542.2" r="3.85" fill="#fbb296"/>
<circle cx="508.7" cy="525.5" r="3.85" fill="#fbb296"/>
<circle cx="514.7" cy="559.7" r="3.5" fill="#fff3ee"/>
<circle cx="527.2" cy="597.9" r="3.85" fill="#fbb296"/>
<circle cx="527" cy="580.5" r="3.5" fill="#fff3ee"/>
<circle cx="525.9" cy="582.5" r="3.85" fill="#fbb296"/>
<circle cx="559.6" cy="577.9" r="3.5" fill="#fff3ee"/>
<circle cx="553.3" cy="522.7" r="4.3" fill="#ef4d35"/>
<circle cx="534" cy="531.8" r="4.3" fill="#ef4d35"/>
<circle cx="472.8" cy="561.7" r="3.85" fill="#fbb296"/>
<circle cx="570.4" cy="574.6" r="3.85" fill="#fbb296"/>
<circle cx="501.5" cy="538.1" r="4.3" fill="#ef4d35"/>
<circle cx="563.2" cy="559.2" r="3.5" fill="#fff3ee"/>
<circle cx="585.8" cy="567.9" r="3.85" fill="#fbb296"/>
<circle cx="555.2" cy="587" r="3.5" fill="#fff3ee"/>
<circle cx="527.4" cy="540.3" r="3.5" fill="#fff3ee"/>
<circle cx="542.7" cy="553" r="3.85" fill="#fbb296"/>
<circle cx="547" cy="635.4" r="3.5" fill="#fff3ee"/>
<circle cx="535" cy="525.9" r="3.5" fill="#fff3ee"/>
<circle cx="473.9" cy="526" r="3.85" fill="#fbb296"/>
<circle cx="535.7" cy="564.7" r="3.85" fill="#fbb296"/>
<circle cx="569.4" cy="571" r="3.5" fill="#fff3ee"/>
<circle cx="501.6" cy="547" r="3.85" fill="#fbb296"/>
<circle cx="552.1" cy="536.4" r="4.3" fill="#ef4d35"/>
<circle cx="548.1" cy="576.6" r="3.5" fill="#fff3ee"/>
<circle cx="535.4" cy="550.4" r="3.85" fill="#fbb296"/>
<circle cx="575.4" cy="602.7" r="3.5" fill="#fff3ee"/>
<circle cx="519.9" cy="541.8" r="3.85" fill="#fbb296"/>
<circle cx="534.7" cy="551.4" r="3.85" fill="#fbb296"/>
<circle cx="500.9" cy="572.4" r="3.85" fill="#fbb296"/>
<circle cx="499.3" cy="559.5" r="3.5" fill="#fff3ee"/>
<circle cx="478.9" cy="578.2" r="3.5" fill="#fff3ee"/>
<circle cx="562.3" cy="571.5" r="3.85" fill="#fbb296"/>
<circle cx="523.8" cy="555.8" r="3.85" fill="#fbb296"/>
<circle cx="506.9" cy="572.8" r="3.5" fill="#fff3ee"/>
<circle cx="590.7" cy="610.7" r="3.85" fill="#fbb296"/>
<circle cx="632.5" cy="554.9" r="3.85" fill="#fbb296"/>
<circle cx="466.4" cy="586" r="3.85" fill="#fbb296"/>
<circle cx="531.3" cy="549.9" r="3.85" fill="#fbb296"/>
<circle cx="466.8" cy="579.4" r="3.5" fill="#fff3ee"/>
<circle cx="587" cy="607.1" r="3.5" fill="#fff3ee"/>
<circle cx="497.5" cy="566.5" r="3.5" fill="#fff3ee"/>
<circle cx="496.3" cy="503" r="4.3" fill="#ef4d35"/>
<circle cx="546.1" cy="592.5" r="3.85" fill="#fbb296"/>
<circle cx="582.1" cy="551" r="3.85" fill="#fbb296"/>
<circle cx="537.9" cy="612.8" r="3.5" fill="#fff3ee"/>
<circle cx="544.9" cy="617.3" r="3.5" fill="#fff3ee"/>
<circle cx="506.3" cy="583.8" r="3.5" fill="#fff3ee"/>
<circle cx="557" cy="586.4" r="3.85" fill="#fbb296"/>
<circle cx="514.7" cy="510.6" r="3.85" fill="#fbb296"/>
<circle cx="503.7" cy="571" r="3.85" fill="#fbb296"/>
<circle cx="481.1" cy="546" r="3.85" fill="#fbb296"/>
<circle cx="523.5" cy="507.7" r="4.3" fill="#ef4d35"/>
<circle cx="465.5" cy="607" r="3.5" fill="#fff3ee"/>
<circle cx="495.6" cy="576.4" r="3.5" fill="#fff3ee"/>
<circle cx="478.3" cy="570.9" r="3.85" fill="#fbb296"/>
<circle cx="567.3" cy="547.6" r="3.85" fill="#fbb296"/>
<circle cx="514.1" cy="573.9" r="3.85" fill="#fbb296"/>
<circle cx="540" cy="528.1" r="3.85" fill="#fbb296"/>
<circle cx="572.8" cy="602.4" r="3.5" fill="#fff3ee"/>
<circle cx="595.4" cy="579" r="3.85" fill="#fbb296"/>
<circle cx="435.3" cy="594.3" r="3.5" fill="#fff3ee"/>
<circle cx="568.6" cy="560.2" r="3.5" fill="#fff3ee"/>
<circle cx="526.3" cy="546.8" r="3.85" fill="#fbb296"/>
<circle cx="559.8" cy="593.3" r="3.5" fill="#fff3ee"/>
<circle cx="557.4" cy="623.5" r="3.5" fill="#fff3ee"/>
<circle cx="501.2" cy="602.8" r="3.5" fill="#fff3ee"/>
<circle cx="489" cy="606.6" r="3.5" fill="#fff3ee"/>
<circle cx="470.9" cy="516" r="3.85" fill="#fbb296"/>
<circle cx="489" cy="558.1" r="3.85" fill="#fbb296"/>
<circle cx="464.8" cy="531.1" r="3.85" fill="#fbb296"/>
<circle cx="555.9" cy="564.3" r="3.85" fill="#fbb296"/>
<circle cx="578.4" cy="566.3" r="3.85" fill="#fbb296"/>
<circle cx="555.2" cy="597.9" r="3.85" fill="#fbb296"/>
<circle cx="481.3" cy="585.1" r="3.5" fill="#fff3ee"/>
<circle cx="529.7" cy="616.6" r="3.85" fill="#fbb296"/>
<circle cx="513.3" cy="533" r="4.3" fill="#ef4d35"/>
<circle cx="503.7" cy="634" r="3.5" fill="#fff3ee"/>
<circle cx="551.4" cy="533.6" r="3.85" fill="#fbb296"/>
<circle cx="577" cy="556.2" r="3.85" fill="#fbb296"/>
<circle cx="484.6" cy="436.8" r="4.3" fill="#ef4d35"/>
<circle cx="474.8" cy="606.5" r="3.5" fill="#fff3ee"/>
<circle cx="539.5" cy="487.5" r="4.3" fill="#ef4d35"/>
<circle cx="501.1" cy="571.8" r="3.5" fill="#fff3ee"/>
<circle cx="523.1" cy="629.5" r="3.5" fill="#fff3ee"/>
<circle cx="499.9" cy="516.1" r="4.3" fill="#ef4d35"/>
<circle cx="501.5" cy="553.1" r="3.85" fill="#fbb296"/>
<circle cx="452.9" cy="552.3" r="3.5" fill="#fff3ee"/>
<circle cx="475.8" cy="496.5" r="3.85" fill="#fbb296"/>
<circle cx="437.5" cy="546.9" r="3.5" fill="#fff3ee"/>
<circle cx="532" cy="507.1" r="4.3" fill="#ef4d35"/>
<circle cx="488.3" cy="499.6" r="4.3" fill="#ef4d35"/>
<circle cx="510.1" cy="531.1" r="3.85" fill="#fbb296"/>
<circle cx="571.4" cy="566.5" r="3.85" fill="#fbb296"/>
<circle cx="551.8" cy="594.6" r="3.5" fill="#fff3ee"/>
<circle cx="481.3" cy="553.8" r="3.85" fill="#fbb296"/>
<circle cx="489.7" cy="517.5" r="3.85" fill="#fbb296"/>
<circle cx="504.3" cy="525" r="3.85" fill="#fbb296"/>
<circle cx="520.6" cy="564" r="3.85" fill="#fbb296"/>
<circle cx="501.8" cy="544.4" r="3.85" fill="#fbb296"/>
<circle cx="499.8" cy="558.3" r="3.85" fill="#fbb296"/>
<circle cx="530.6" cy="546.9" r="3.85" fill="#fbb296"/>
<circle cx="486.3" cy="550.2" r="3.85" fill="#fbb296"/>
<circle cx="521.7" cy="553.5" r="3.5" fill="#fff3ee"/>
<circle cx="521.3" cy="545.1" r="3.5" fill="#fff3ee"/>
<circle cx="552.2" cy="596" r="3.85" fill="#fbb296"/>
<circle cx="533.9" cy="586.3" r="3.85" fill="#fbb296"/>
<circle cx="546.3" cy="632.1" r="3.5" fill="#fff3ee"/>
<circle cx="482.6" cy="542.6" r="3.85" fill="#fbb296"/>
<circle cx="504.4" cy="545.2" r="3.5" fill="#fff3ee"/>
<circle cx="543.1" cy="519.2" r="3.85" fill="#fbb296"/>
<circle cx="516.1" cy="605.2" r="3.5" fill="#fff3ee"/>
<circle cx="512.9" cy="622.1" r="3.85" fill="#fbb296"/>
<circle cx="551.9" cy="546.6" r="3.85" fill="#fbb296"/>
<circle cx="511.6" cy="567.9" r="3.85" fill="#fbb296"/>
<circle cx="496.6" cy="559" r="3.5" fill="#fff3ee"/>
<circle cx="564.1" cy="553.6" r="3.85" fill="#fbb296"/>
<circle cx="554.4" cy="557.8" r="3.5" fill="#fff3ee"/>
<circle cx="503.9" cy="589.5" r="3.85" fill="#fbb296"/>
<circle cx="600" cy="552.8" r="3.85" fill="#fbb296"/>
<circle cx="585.9" cy="530.7" r="4.3" fill="#ef4d35"/>
<circle cx="570.4" cy="561.9" r="3.85" fill="#fbb296"/>
<circle cx="547" cy="618.4" r="3.5" fill="#fff3ee"/>
<circle cx="576.2" cy="631.4" r="3.5" fill="#fff3ee"/>
<circle cx="566.7" cy="547.5" r="3.85" fill="#fbb296"/>
<circle cx="501.6" cy="549.9" r="3.85" fill="#fbb296"/>
<circle cx="531.9" cy="587.1" r="3.5" fill="#fff3ee"/>
<circle cx="543" cy="513.9" r="4.3" fill="#ef4d35"/>
<circle cx="455" cy="495" r="3.85" fill="#fbb296"/>
<circle cx="501.7" cy="580.4" r="3.5" fill="#fff3ee"/>
<circle cx="516.2" cy="585.7" r="3.85" fill="#fbb296"/>
<circle cx="503.9" cy="565.6" r="3.5" fill="#fff3ee"/>
<circle cx="460.7" cy="562.4" r="3.85" fill="#fbb296"/>
<circle cx="528.1" cy="511.7" r="3.85" fill="#fbb296"/>
<circle cx="529.9" cy="512.8" r="3.85" fill="#fbb296"/>
<circle cx="526.8" cy="568.8" r="3.85" fill="#fbb296"/>
<circle cx="496.4" cy="555.2" r="3.85" fill="#fbb296"/>
<circle cx="599" cy="574.7" r="3.5" fill="#fff3ee"/>
<circle cx="500.2" cy="531.7" r="4.3" fill="#ef4d35"/>
<circle cx="488.9" cy="545.2" r="3.85" fill="#fbb296"/>
<circle cx="479.8" cy="516.5" r="3.85" fill="#fbb296"/>
<circle cx="521.9" cy="533" r="3.85" fill="#fbb296"/>
<circle cx="491.5" cy="560.9" r="3.5" fill="#fff3ee"/>
<circle cx="494.2" cy="570.4" r="3.85" fill="#fbb296"/>
<circle cx="543.8" cy="590" r="3.5" fill="#fff3ee"/>
<circle cx="495.4" cy="562.4" r="3.85" fill="#fbb296"/>
<circle cx="544.5" cy="518.4" r="4.3" fill="#ef4d35"/>
<circle cx="524.8" cy="525" r="3.85" fill="#fbb296"/>
<circle cx="491" cy="557.2" r="3.85" fill="#fbb296"/>
<circle cx="589.9" cy="570.6" r="3.85" fill="#fbb296"/>
<circle cx="544.9" cy="635.8" r="3.5" fill="#fff3ee"/>
<circle cx="550.8" cy="514.2" r="3.85" fill="#fbb296"/>
<circle cx="510.8" cy="533.2" r="3.85" fill="#fbb296"/>
<circle cx="565.8" cy="525.1" r="4.3" fill="#ef4d35"/>
<circle cx="589.3" cy="562.9" r="3.85" fill="#fbb296"/>
<circle cx="428.2" cy="577.4" r="3.5" fill="#fff3ee"/>
<circle cx="519.4" cy="562" r="3.5" fill="#fff3ee"/>
<circle cx="508.1" cy="589.2" r="3.5" fill="#fff3ee"/>
<circle cx="453.8" cy="579.1" r="3.85" fill="#fbb296"/>
<circle cx="434.5" cy="586.4" r="3.5" fill="#fff3ee"/>
<circle cx="520.6" cy="521.7" r="4.3" fill="#ef4d35"/>
<circle cx="567.5" cy="610.6" r="3.5" fill="#fff3ee"/>
<circle cx="547.7" cy="597" r="3.5" fill="#fff3ee"/>
<circle cx="550.9" cy="531.8" r="3.85" fill="#fbb296"/>
<circle cx="494.6" cy="588.7" r="3.5" fill="#fff3ee"/>
<circle cx="567.7" cy="537.2" r="3.85" fill="#fbb296"/>
<circle cx="518.6" cy="514.9" r="4.3" fill="#ef4d35"/>
<circle cx="593.8" cy="565.2" r="3.85" fill="#fbb296"/>
<circle cx="469.2" cy="468" r="4.3" fill="#ef4d35"/>
<circle cx="554.8" cy="580.9" r="3.5" fill="#fff3ee"/>
<circle cx="468.9" cy="571.9" r="3.85" fill="#fbb296"/>
<circle cx="544.2" cy="598" r="3.5" fill="#fff3ee"/>
<circle cx="542.1" cy="554.8" r="3.85" fill="#fbb296"/>
<circle cx="504.8" cy="573.3" r="3.85" fill="#fbb296"/>
<circle cx="515.4" cy="552.7" r="3.85" fill="#fbb296"/>
<circle cx="510.8" cy="613.9" r="3.5" fill="#fff3ee"/>
<circle cx="488.9" cy="507.2" r="4.3" fill="#ef4d35"/>
<circle cx="500" cy="490" r="3.85" fill="#fbb296"/>
<circle cx="518.6" cy="544.3" r="3.85" fill="#fbb296"/>
<circle cx="487.2" cy="538.5" r="3.85" fill="#fbb296"/>
<circle cx="544" cy="603.5" r="3.85" fill="#fbb296"/>
<circle cx="523.5" cy="584.9" r="3.85" fill="#fbb296"/>
<circle cx="561.3" cy="572.5" r="3.85" fill="#fbb296"/>
<circle cx="527.7" cy="554.1" r="3.85" fill="#fbb296"/>
<circle cx="464.5" cy="593.8" r="3.5" fill="#fff3ee"/>
<circle cx="557.6" cy="589.4" r="3.5" fill="#fff3ee"/>
<circle cx="543.6" cy="540.1" r="3.85" fill="#fbb296"/>
<circle cx="484" cy="575.4" r="3.85" fill="#fbb296"/>
<circle cx="526.7" cy="525.5" r="3.5" fill="#fff3ee"/>
<circle cx="484.7" cy="545.3" r="3.5" fill="#fff3ee"/>
<circle cx="549.6" cy="584.6" r="3.5" fill="#fff3ee"/>
<circle cx="481.9" cy="538.8" r="3.85" fill="#fbb296"/>
<circle cx="476.4" cy="553.3" r="3.85" fill="#fbb296"/>
<circle cx="545" cy="523.4" r="4.3" fill="#ef4d35"/>
<circle cx="503.6" cy="556.3" r="3.85" fill="#fbb296"/>
<circle cx="552.5" cy="558.1" r="3.85" fill="#fbb296"/>
<circle cx="599" cy="516" r="4.3" fill="#ef4d35"/>
<circle cx="524.9" cy="562.9" r="3.85" fill="#fbb296"/>
<circle cx="548.6" cy="605.7" r="3.85" fill="#fbb296"/>
<circle cx="546.8" cy="563.2" r="3.85" fill="#fbb296"/>
<circle cx="520.9" cy="529.3" r="3.85" fill="#fbb296"/>
<circle cx="497.2" cy="540.3" r="3.85" fill="#fbb296"/>
<circle cx="519.1" cy="532.4" r="3.85" fill="#fbb296"/>
<circle cx="515.2" cy="581.8" r="3.85" fill="#fbb296"/>
<circle cx="501.2" cy="608.3" r="3.5" fill="#fff3ee"/>
<circle cx="524.6" cy="576.5" r="3.5" fill="#fff3ee"/>
<circle cx="497.8" cy="565.6" r="3.85" fill="#fbb296"/>
<circle cx="440.3" cy="568.7" r="3.85" fill="#fbb296"/>
<circle cx="543.7" cy="559.9" r="3.85" fill="#fbb296"/>
<circle cx="561.8" cy="537.6" r="3.85" fill="#fbb296"/>
<circle cx="519.6" cy="569.5" r="3.5" fill="#fff3ee"/>
<circle cx="504.9" cy="578.3" r="3.5" fill="#fff3ee"/>
<circle cx="573.7" cy="559.1" r="3.85" fill="#fbb296"/>
<circle cx="507.5" cy="617.2" r="3.5" fill="#fff3ee"/>
<circle cx="482.8" cy="554.3" r="3.85" fill="#fbb296"/>
<circle cx="467.9" cy="549.9" r="3.85" fill="#fbb296"/>
<circle cx="459.1" cy="574.4" r="3.5" fill="#fff3ee"/>
<circle cx="490.8" cy="554.6" r="3.85" fill="#fbb296"/>
<circle cx="508.6" cy="542.8" r="3.85" fill="#fbb296"/>
<circle cx="508" cy="594.2" r="3.85" fill="#fbb296"/>
<circle cx="520.6" cy="559.6" r="3.85" fill="#fbb296"/>
<circle cx="508.6" cy="571.9" r="3.5" fill="#fff3ee"/>
<circle cx="553.8" cy="563.5" r="3.5" fill="#fff3ee"/>
<circle cx="539.7" cy="582.1" r="3.85" fill="#fbb296"/>
<circle cx="560.3" cy="606.1" r="3.85" fill="#fbb296"/>
<circle cx="506.8" cy="552.3" r="3.85" fill="#fbb296"/>
<circle cx="457" cy="574.3" r="3.85" fill="#fbb296"/>
<circle cx="511.6" cy="560.9" r="3.85" fill="#fbb296"/>
<circle cx="508.1" cy="608.3" r="3.5" fill="#fff3ee"/>
<circle cx="526.5" cy="545.4" r="3.85" fill="#fbb296"/>
<circle cx="499.3" cy="555.1" r="3.5" fill="#fff3ee"/>
<circle cx="518.2" cy="536.7" r="3.85" fill="#fbb296"/>
<circle cx="604.2" cy="536.6" r="3.85" fill="#fbb296"/>
<circle cx="507.6" cy="627.4" r="3.5" fill="#fff3ee"/>
<circle cx="493.3" cy="563.4" r="3.85" fill="#fbb296"/>
<circle cx="505.5" cy="530.6" r="3.5" fill="#fff3ee"/>
<circle cx="546.3" cy="510.2" r="3.85" fill="#fbb296"/>
<circle cx="520" cy="549.9" r="3.85" fill="#fbb296"/>
<circle cx="538.6" cy="536.3" r="4.3" fill="#ef4d35"/>
<circle cx="534.3" cy="516.3" r="4.3" fill="#ef4d35"/>
<circle cx="535.2" cy="530.2" r="4.3" fill="#ef4d35"/>
<circle cx="461.7" cy="552.2" r="3.85" fill="#fbb296"/>
<circle cx="537.5" cy="562.5" r="3.85" fill="#fbb296"/>
<circle cx="472.5" cy="599.8" r="3.5" fill="#fff3ee"/>
<circle cx="534.6" cy="572.4" r="3.85" fill="#fbb296"/>
<circle cx="539.1" cy="616.8" r="3.5" fill="#fff3ee"/>
<circle cx="510.4" cy="532.2" r="3.85" fill="#fbb296"/>
<circle cx="539.7" cy="555.1" r="3.85" fill="#fbb296"/>
<circle cx="548.1" cy="583.7" r="3.5" fill="#fff3ee"/>
<circle cx="473.8" cy="548.4" r="3.85" fill="#fbb296"/>
<circle cx="554.7" cy="546.2" r="3.85" fill="#fbb296"/>
<circle cx="558.8" cy="597" r="3.5" fill="#fff3ee"/>
<circle cx="471.8" cy="571.1" r="3.5" fill="#fff3ee"/>
<circle cx="491.4" cy="595.7" r="3.5" fill="#fff3ee"/>
<circle cx="502.6" cy="545.5" r="3.85" fill="#fbb296"/>
<circle cx="475" cy="575.2" r="3.5" fill="#fff3ee"/>
<circle cx="474.6" cy="562" r="3.5" fill="#fff3ee"/>
<circle cx="547.8" cy="584.1" r="3.5" fill="#fff3ee"/>
<circle cx="500.3" cy="541.6" r="3.5" fill="#fff3ee"/>
<circle cx="543" cy="564.4" r="3.85" fill="#fbb296"/>
<circle cx="568.8" cy="563.1" r="3.5" fill="#fff3ee"/>
<circle cx="515.5" cy="520" r="3.5" fill="#fff3ee"/>
<circle cx="519.9" cy="602" r="3.85" fill="#fbb296"/>
<circle cx="562.2" cy="519.8" r="3.85" fill="#fbb296"/>
<circle cx="562.3" cy="524.9" r="3.85" fill="#fbb296"/>
<circle cx="534.6" cy="579" r="3.5" fill="#fff3ee"/>
<circle cx="529.9" cy="528" r="3.85" fill="#fbb296"/>
<circle cx="481.6" cy="534.5" r="3.5" fill="#fff3ee"/>
<circle cx="603.5" cy="601.4" r="3.5" fill="#fff3ee"/>
<circle cx="544.3" cy="537.9" r="3.85" fill="#fbb296"/>
<circle cx="544.5" cy="639.2" r="3.5" fill="#fff3ee"/>
<circle cx="446.3" cy="529.2" r="3.85" fill="#fbb296"/>
<circle cx="520" cy="489" r="4.3" fill="#ef4d35"/>
<circle cx="521.1" cy="619.5" r="3.5" fill="#fff3ee"/>
<circle cx="554.4" cy="501.7" r="4.3" fill="#ef4d35"/>
<circle cx="528.4" cy="493" r="4.3" fill="#ef4d35"/>
<circle cx="579.2" cy="527.7" r="4.3" fill="#ef4d35"/>
<circle cx="521.1" cy="547.4" r="3.5" fill="#fff3ee"/>
<circle cx="449.9" cy="551.9" r="3.5" fill="#fff3ee"/>
<circle cx="552.4" cy="588.7" r="3.85" fill="#fbb296"/>
<circle cx="444.1" cy="549.7" r="3.5" fill="#fff3ee"/>
<circle cx="478" cy="492" r="3.85" fill="#fbb296"/>
<circle cx="550.4" cy="545.6" r="3.85" fill="#fbb296"/>
<circle cx="548.8" cy="556.2" r="3.5" fill="#fff3ee"/>
<circle cx="454.9" cy="544.4" r="3.85" fill="#fbb296"/>
<circle cx="511.5" cy="569.5" r="3.85" fill="#fbb296"/>
<circle cx="523.8" cy="602" r="3.5" fill="#fff3ee"/>
<circle cx="521.3" cy="589.2" r="3.5" fill="#fff3ee"/>
<circle cx="565.2" cy="590.8" r="3.85" fill="#fbb296"/>
<circle cx="493.9" cy="491.7" r="4.3" fill="#ef4d35"/>
<circle cx="524.1" cy="561.7" r="3.85" fill="#fbb296"/>
<circle cx="514.2" cy="548.7" r="3.5" fill="#fff3ee"/>
<circle cx="541.8" cy="634.9" r="3.5" fill="#fff3ee"/>
<circle cx="480.6" cy="567.3" r="3.5" fill="#fff3ee"/>
<circle cx="502.7" cy="569.7" r="3.85" fill="#fbb296"/>
<circle cx="508.8" cy="555.7" r="3.85" fill="#fbb296"/>
<circle cx="526.7" cy="572.4" r="3.85" fill="#fbb296"/>
<circle cx="521.7" cy="555.5" r="3.5" fill="#fff3ee"/>
<circle cx="527.9" cy="525.7" r="4.3" fill="#ef4d35"/>
<circle cx="590.9" cy="588.2" r="3.85" fill="#fbb296"/>
<circle cx="582.2" cy="559.6" r="3.85" fill="#fbb296"/>
<circle cx="546.5" cy="597.7" r="3.5" fill="#fff3ee"/>
<circle cx="566.4" cy="508" r="4.3" fill="#ef4d35"/>
<circle cx="498.7" cy="560.5" r="3.5" fill="#fff3ee"/>
<circle cx="516.1" cy="582.9" r="3.85" fill="#fbb296"/>
<circle cx="495.3" cy="594.8" r="3.5" fill="#fff3ee"/>
<circle cx="485.5" cy="595.5" r="3.5" fill="#fff3ee"/>
<circle cx="452.4" cy="555.8" r="3.85" fill="#fbb296"/>
<circle cx="547.9" cy="558.2" r="3.85" fill="#fbb296"/>
<circle cx="488.8" cy="593.9" r="3.5" fill="#fff3ee"/>
<circle cx="519.9" cy="562.8" r="3.85" fill="#fbb296"/>
<circle cx="441.7" cy="532.9" r="3.5" fill="#fff3ee"/>
<circle cx="576.3" cy="565.7" r="3.85" fill="#fbb296"/>
<circle cx="590.2" cy="560.8" r="3.85" fill="#fbb296"/>
<circle cx="494.5" cy="493.1" r="4.3" fill="#ef4d35"/>
<circle cx="537.9" cy="515.1" r="3.85" fill="#fbb296"/>
<circle cx="511" cy="563.8" r="3.5" fill="#fff3ee"/>
<circle cx="487.1" cy="570.4" r="3.5" fill="#fff3ee"/>
<circle cx="558.8" cy="568.8" r="3.85" fill="#fbb296"/>
<circle cx="503.6" cy="522.7" r="3.85" fill="#fbb296"/>
<circle cx="539.1" cy="546.2" r="3.85" fill="#fbb296"/>
<circle cx="556.1" cy="639.3" r="3.85" fill="#fbb296"/>
<circle cx="480.8" cy="603" r="3.5" fill="#fff3ee"/>
<circle cx="584.8" cy="536.2" r="3.85" fill="#fbb296"/>
<circle cx="490.5" cy="599.1" r="3.5" fill="#fff3ee"/>
<circle cx="503.9" cy="593.9" r="3.5" fill="#fff3ee"/>
<circle cx="490.5" cy="575.7" r="3.85" fill="#fbb296"/>
<circle cx="594.9" cy="616" r="3.5" fill="#fff3ee"/>
<circle cx="493.4" cy="579.6" r="3.5" fill="#fff3ee"/>
<circle cx="504.9" cy="534.6" r="3.85" fill="#fbb296"/>
<circle cx="549.1" cy="528.6" r="3.85" fill="#fbb296"/>
<circle cx="503.4" cy="531.8" r="3.85" fill="#fbb296"/>
<circle cx="459.6" cy="543.1" r="3.85" fill="#fbb296"/>
<circle cx="528" cy="607.8" r="3.85" fill="#fbb296"/>
<circle cx="574.7" cy="573.4" r="3.85" fill="#fbb296"/>
<circle cx="453.7" cy="572.2" r="3.5" fill="#fff3ee"/>
<circle cx="510.1" cy="561.4" r="4.3" fill="#ef4d35"/>
<circle cx="476" cy="557.3" r="3.85" fill="#fbb296"/>
<circle cx="526.3" cy="588.4" r="3.85" fill="#fbb296"/>
<circle cx="535.8" cy="539.5" r="3.85" fill="#fbb296"/>
<circle cx="463.4" cy="539.1" r="3.85" fill="#fbb296"/>
<circle cx="531" cy="570.1" r="3.85" fill="#fbb296"/>
<circle cx="529.7" cy="532.1" r="3.85" fill="#fbb296"/>
<circle cx="518.1" cy="570.9" r="3.5" fill="#fff3ee"/>
<circle cx="467" cy="565.9" r="3.5" fill="#fff3ee"/>
<circle cx="553.5" cy="562.1" r="3.85" fill="#fbb296"/>
<circle cx="448.1" cy="540" r="3.85" fill="#fbb296"/>
<circle cx="464" cy="562.9" r="3.5" fill="#fff3ee"/>
<circle cx="540.3" cy="527.7" r="3.85" fill="#fbb296"/>
<circle cx="494.6" cy="540.1" r="3.85" fill="#fbb296"/>
<circle cx="487.1" cy="625.1" r="3.5" fill="#fff3ee"/>
<circle cx="463.4" cy="484" r="3.85" fill="#fbb296"/>
<circle cx="465.2" cy="574.2" r="3.85" fill="#fbb296"/>
<circle cx="593.2" cy="595.2" r="3.5" fill="#fff3ee"/>
<circle cx="547.3" cy="605.3" r="3.85" fill="#fbb296"/>
<circle cx="537.3" cy="622.8" r="3.5" fill="#fff3ee"/>
<circle cx="537.5" cy="535.9" r="3.85" fill="#fbb296"/>
<circle cx="588.8" cy="524" r="3.85" fill="#fbb296"/>
<circle cx="536.6" cy="607.1" r="3.5" fill="#fff3ee"/>
<circle cx="537.7" cy="545.9" r="3.85" fill="#fbb296"/>
<circle cx="529.3" cy="511.4" r="4.3" fill="#ef4d35"/>
<circle cx="564.6" cy="523.6" r="4.3" fill="#ef4d35"/>
<circle cx="544" cy="557.4" r="3.85" fill="#fbb296"/>
<circle cx="537.6" cy="586.7" r="3.85" fill="#fbb296"/>
<circle cx="517.2" cy="555.8" r="3.85" fill="#fbb296"/>
<circle cx="562.4" cy="576.7" r="3.85" fill="#fbb296"/>
<circle cx="612.3" cy="565.2" r="3.85" fill="#fbb296"/>
<circle cx="549.8" cy="519.5" r="4.3" fill="#ef4d35"/>
<circle cx="560.7" cy="580.1" r="3.85" fill="#fbb296"/>
<circle cx="527.1" cy="556.8" r="3.85" fill="#fbb296"/>
<circle cx="549.7" cy="596.5" r="3.5" fill="#fff3ee"/>
<circle cx="505.7" cy="553.2" r="3.85" fill="#fbb296"/>
<circle cx="515.6" cy="582.7" r="3.5" fill="#fff3ee"/>
<circle cx="506.7" cy="603.5" r="3.85" fill="#fbb296"/>
<circle cx="495.7" cy="516.6" r="4.3" fill="#ef4d35"/>
<circle cx="566.7" cy="526" r="4.3" fill="#ef4d35"/>
<circle cx="460.8" cy="542.5" r="3.5" fill="#fff3ee"/>
<circle cx="562.9" cy="524" r="4.3" fill="#ef4d35"/>
<circle cx="433" cy="559.6" r="3.85" fill="#fbb296"/>
<circle cx="485.7" cy="526.4" r="3.85" fill="#fbb296"/>
<circle cx="573.3" cy="569.8" r="3.85" fill="#fbb296"/>
<circle cx="535.7" cy="518.3" r="4.3" fill="#ef4d35"/>
<circle cx="592" cy="578.9" r="3.85" fill="#fbb296"/>
<circle cx="515.2" cy="524" r="3.85" fill="#fbb296"/>
<circle cx="538" cy="592.1" r="3.85" fill="#fbb296"/>
<circle cx="596.4" cy="604.8" r="3.5" fill="#fff3ee"/>
<circle cx="508.8" cy="545" r="3.85" fill="#fbb296"/>
<circle cx="458" cy="548.3" r="3.85" fill="#fbb296"/>
<circle cx="499.1" cy="563.7" r="3.5" fill="#fff3ee"/>
<circle cx="503.3" cy="612.6" r="3.85" fill="#fbb296"/>
<circle cx="467" cy="550.6" r="3.5" fill="#fff3ee"/>
<circle cx="467.3" cy="568.2" r="3.85" fill="#fbb296"/>
<circle cx="454.3" cy="555.5" r="3.5" fill="#fff3ee"/>
<circle cx="547.1" cy="539.1" r="3.85" fill="#fbb296"/>
<circle cx="591.1" cy="535.3" r="3.85" fill="#fbb296"/>
<circle cx="527.2" cy="556.7" r="3.5" fill="#fff3ee"/>
<circle cx="503.2" cy="542.8" r="3.5" fill="#fff3ee"/>
<circle cx="480.4" cy="623.6" r="3.85" fill="#fbb296"/>
<circle cx="533.7" cy="601.8" r="3.85" fill="#fbb296"/>
<circle cx="509.1" cy="583.1" r="3.5" fill="#fff3ee"/>
<circle cx="528.5" cy="544.4" r="4.3" fill="#ef4d35"/>
<circle cx="515.3" cy="498" r="3.85" fill="#fbb296"/>
<circle cx="574.6" cy="593" r="3.5" fill="#fff3ee"/>
<circle cx="521.1" cy="575.9" r="3.85" fill="#fbb296"/>
<circle cx="527.1" cy="530.5" r="3.85" fill="#fbb296"/>
<circle cx="496.9" cy="539.9" r="3.85" fill="#fbb296"/>
<circle cx="548.8" cy="571.8" r="3.5" fill="#fff3ee"/>
<circle cx="509.4" cy="579.4" r="3.5" fill="#fff3ee"/>
<circle cx="585.6" cy="563.2" r="3.85" fill="#fbb296"/>
<circle cx="528.8" cy="514.1" r="4.3" fill="#ef4d35"/>
<circle cx="496.8" cy="559.2" r="3.85" fill="#fbb296"/>
<circle cx="536.8" cy="518.6" r="4.3" fill="#ef4d35"/>
<circle cx="467.3" cy="530.5" r="3.85" fill="#fbb296"/>
<circle cx="528.6" cy="534.8" r="3.85" fill="#fbb296"/>
<circle cx="563.3" cy="536.2" r="3.85" fill="#fbb296"/>
<circle cx="511" cy="560" r="3.5" fill="#fff3ee"/>
<circle cx="476.6" cy="538" r="3.85" fill="#fbb296"/>
<circle cx="535" cy="514.1" r="4.3" fill="#ef4d35"/>
<circle cx="578.8" cy="595.8" r="3.85" fill="#fbb296"/>
<circle cx="582.9" cy="528.7" r="3.5" fill="#fff3ee"/>
<circle cx="480" cy="484" r="3.85" fill="#fbb296"/>
<circle cx="542.7" cy="527.3" r="3.85" fill="#fbb296"/>
<circle cx="485.4" cy="560.6" r="3.85" fill="#fbb296"/>
<circle cx="547.5" cy="534.9" r="4.3" fill="#ef4d35"/>
<circle cx="550.9" cy="572.7" r="3.5" fill="#fff3ee"/>
<circle cx="570.3" cy="587.7" r="3.5" fill="#fff3ee"/>
<circle cx="535.9" cy="554" r="3.85" fill="#fbb296"/>
<circle cx="565.5" cy="582.4" r="3.85" fill="#fbb296"/>
<circle cx="503.9" cy="553.8" r="3.85" fill="#fbb296"/>
<circle cx="517.4" cy="546.6" r="3.85" fill="#fbb296"/>
<circle cx="464.6" cy="525.6" r="3.5" fill="#fff3ee"/>
<circle cx="608" cy="596.3" r="3.5" fill="#fff3ee"/>
<circle cx="546.8" cy="575.3" r="3.5" fill="#fff3ee"/>
<circle cx="535.5" cy="572.4" r="3.5" fill="#fff3ee"/>
<circle cx="526.7" cy="542" r="3.85" fill="#fbb296"/>
<circle cx="495.2" cy="558.6" r="3.5" fill="#fff3ee"/>
<circle cx="581.4" cy="590.4" r="3.5" fill="#fff3ee"/>
<circle cx="477.9" cy="543.4" r="3.85" fill="#fbb296"/>
<circle cx="473.8" cy="559.7" r="3.85" fill="#fbb296"/>
<circle cx="547.4" cy="530.1" r="3.85" fill="#fbb296"/>
<circle cx="531.6" cy="550" r="3.85" fill="#fbb296"/>
<circle cx="519.5" cy="577.9" r="3.5" fill="#fff3ee"/>
<circle cx="581.6" cy="625.3" r="3.5" fill="#fff3ee"/>
<circle cx="539.3" cy="495.5" r="4.3" fill="#ef4d35"/>
<circle cx="470.5" cy="540.4" r="3.85" fill="#fbb296"/>
<circle cx="620.2" cy="619.7" r="3.5" fill="#fff3ee"/>
<circle cx="471.3" cy="574.1" r="3.5" fill="#fff3ee"/>
<circle cx="549.6" cy="602.6" r="3.5" fill="#fff3ee"/>
<circle cx="518.6" cy="514.7" r="3.85" fill="#fbb296"/>
<circle cx="576.8" cy="573.6" r="3.85" fill="#fbb296"/>
<circle cx="564.9" cy="555.5" r="3.85" fill="#fbb296"/>
<circle cx="579.1" cy="615" r="3.5" fill="#fff3ee"/>
<circle cx="541.3" cy="598.9" r="3.5" fill="#fff3ee"/>
<circle cx="521.8" cy="492.3" r="4.3" fill="#ef4d35"/>
<circle cx="555" cy="568.3" r="3.85" fill="#fbb296"/>
<circle cx="489.9" cy="587.7" r="3.5" fill="#fff3ee"/>
<circle cx="463.8" cy="529.3" r="3.85" fill="#fbb296"/>
<circle cx="596.4" cy="601" r="3.5" fill="#fff3ee"/>
<circle cx="545.1" cy="601.4" r="3.5" fill="#fff3ee"/>
<circle cx="519.1" cy="525.3" r="3.85" fill="#fbb296"/>
<circle cx="559.3" cy="595.4" r="3.5" fill="#fff3ee"/>
<circle cx="609.2" cy="591.3" r="3.85" fill="#fbb296"/>
<circle cx="478.2" cy="489.6" r="4.3" fill="#ef4d35"/>
<circle cx="518.6" cy="465.5" r="4.9" fill="#6b0914"/>
<circle cx="499.3" cy="478.9" r="4.9" fill="#6b0914"/>
<circle cx="516.9" cy="484.8" r="4.9" fill="#6b0914"/>
<circle cx="549.5" cy="477.8" r="4.9" fill="#6b0914"/>
<circle cx="549.5" cy="493.6" r="4.9" fill="#6b0914"/>
<circle cx="585.2" cy="464.5" r="4.9" fill="#6b0914"/>
<circle cx="510.9" cy="470.8" r="4.9" fill="#6b0914"/>
<circle cx="577.5" cy="516.4" r="4.9" fill="#6b0914"/>
</g>
<g stroke="#111" stroke-width="0.8">
<circle cx="175.8" cy="924" r="3.85" fill="#fbb296"/>
<circle cx="113.2" cy="912" r="3.5" fill="#fff3ee"/>
<circle cx="158.4" cy="912.5" r="3.85" fill="#fbb296"/>
<circle cx="181.7" cy="916.7" r="3.5" fill="#fff3ee"/>
<circle cx="152.6" cy="927.4" r="3.5" fill="#fff3ee"/>
<circle cx="211.8" cy="918" r="3.85" fill="#fbb296"/>
<circle cx="229.8" cy="912.8" r="3.5" fill="#fff3ee"/>
<circle cx="193.2" cy="911.4" r="3.5" fill="#fff3ee"/>
<circle cx="207.4" cy="851.9" r="3.85" fill="#fbb296"/>
<circle cx="186.1" cy="921.9" r="3.5" fill="#fff3ee"/>
<circle cx="265.4" cy="886.2" r="3.85" fill="#fbb296"/>
<circle cx="182.9" cy="913.8" r="3.5" fill="#fff3ee"/>
<circle cx="153.3" cy="870.4" r="4.3" fill="#ef4d35"/>
<circle cx="227.1" cy="914.6" r="3.85" fill="#fbb296"/>
<circle cx="193" cy="884.8" r="3.85" fill="#fbb296"/>
<circle cx="129.6" cy="937.4" r="3.5" fill="#fff3ee"/>
<circle cx="218" cy="895.2" r="3.5" fill="#fff3ee"/>
<circle cx="150.9" cy="919.8" r="3.5" fill="#fff3ee"/>
<circle cx="189.3" cy="903.7" r="3.85" fill="#fbb296"/>
<circle cx="215.8" cy="856.7" r="4.3" fill="#ef4d35"/>
<circle cx="234.3" cy="898" r="3.85" fill="#fbb296"/>
<circle cx="156" cy="911.6" r="3.5" fill="#fff3ee"/>
<circle cx="212.2" cy="884.7" r="3.85" fill="#fbb296"/>
<circle cx="161.6" cy="912" r="3.85" fill="#fbb296"/>
<circle cx="93.1" cy="896.8" r="3.5" fill="#fff3ee"/>
<circle cx="208.3" cy="881.1" r="4.3" fill="#ef4d35"/>
<circle cx="199.7" cy="960.5" r="3.5" fill="#fff3ee"/>
<circle cx="224.6" cy="937.5" r="3.5" fill="#fff3ee"/>
<circle cx="162.9" cy="974" r="3.5" fill="#fff3ee"/>
<circle cx="234.3" cy="880.4" r="3.5" fill="#fff3ee"/>
<circle cx="179.6" cy="978.2" r="3.5" fill="#fff3ee"/>
<circle cx="166.5" cy="893.4" r="3.85" fill="#fbb296"/>
<circle cx="139.2" cy="850.4" r="4.3" fill="#ef4d35"/>
<circle cx="149.2" cy="892.5" r="3.85" fill="#fbb296"/>
<circle cx="185.7" cy="856.7" r="3.85" fill="#fbb296"/>
<circle cx="125.5" cy="917.3" r="3.5" fill="#fff3ee"/>
<circle cx="215" cy="847.3" r="4.3" fill="#ef4d35"/>
<circle cx="233.4" cy="878.9" r="3.5" fill="#fff3ee"/>
<circle cx="165.2" cy="892.7" r="3.5" fill="#fff3ee"/>
<circle cx="163" cy="931.9" r="3.85" fill="#fbb296"/>
<circle cx="129.5" cy="857.9" r="3.85" fill="#fbb296"/>
<circle cx="181" cy="925" r="3.5" fill="#fff3ee"/>
<circle cx="213.2" cy="897" r="3.85" fill="#fbb296"/>
<circle cx="128.2" cy="947.2" r="3.5" fill="#fff3ee"/>
<circle cx="239" cy="904.8" r="3.85" fill="#fbb296"/>
<circle cx="197.3" cy="878.8" r="3.85" fill="#fbb296"/>
<circle cx="204.1" cy="915.4" r="3.5" fill="#fff3ee"/>
<circle cx="224.4" cy="912.9" r="3.85" fill="#fbb296"/>
<circle cx="199.6" cy="931.7" r="3.5" fill="#fff3ee"/>
<circle cx="213.2" cy="908.4" r="3.85" fill="#fbb296"/>
<circle cx="106.4" cy="853.6" r="3.85" fill="#fbb296"/>
<circle cx="168.9" cy="916.2" r="3.5" fill="#fff3ee"/>
<circle cx="100.4" cy="886.5" r="3.85" fill="#fbb296"/>
<circle cx="229.1" cy="864.6" r="3.85" fill="#fbb296"/>
<circle cx="157.8" cy="949" r="3.5" fill="#fff3ee"/>
<circle cx="196" cy="932" r="3.85" fill="#fbb296"/>
<circle cx="269.4" cy="882.8" r="3.85" fill="#fbb296"/>
<circle cx="222.3" cy="911.4" r="3.5" fill="#fff3ee"/>
<circle cx="259.9" cy="899.3" r="3.85" fill="#fbb296"/>
<circle cx="242.5" cy="879.3" r="3.85" fill="#fbb296"/>
<circle cx="187.8" cy="941.4" r="3.5" fill="#fff3ee"/>
<circle cx="253.3" cy="932.4" r="3.85" fill="#fbb296"/>
<circle cx="177.2" cy="882.2" r="3.85" fill="#fbb296"/>
<circle cx="212.1" cy="920.1" r="3.5" fill="#fff3ee"/>
<circle cx="157.6" cy="928.6" r="3.5" fill="#fff3ee"/>
<circle cx="286.2" cy="888.2" r="3.85" fill="#fbb296"/>
<circle cx="170.6" cy="913" r="3.85" fill="#fbb296"/>
<circle cx="143.4" cy="944.6" r="3.85" fill="#fbb296"/>
<circle cx="223" cy="886.7" r="3.85" fill="#fbb296"/>
<circle cx="204.5" cy="904.3" r="3.85" fill="#fbb296"/>
<circle cx="196.5" cy="900.7" r="3.85" fill="#fbb296"/>
<circle cx="179" cy="956.7" r="3.5" fill="#fff3ee"/>
<circle cx="160.4" cy="900.8" r="3.85" fill="#fbb296"/>
<circle cx="161.1" cy="920.9" r="3.5" fill="#fff3ee"/>
<circle cx="226.1" cy="916" r="3.5" fill="#fff3ee"/>
<circle cx="186.9" cy="918.5" r="3.5" fill="#fff3ee"/>
<circle cx="95.7" cy="899.1" r="3.5" fill="#fff3ee"/>
<circle cx="213.9" cy="876.9" r="4.3" fill="#ef4d35"/>
<circle cx="198.5" cy="921.1" r="3.85" fill="#fbb296"/>
<circle cx="231" cy="876.1" r="4.3" fill="#ef4d35"/>
<circle cx="193.9" cy="869.2" r="3.85" fill="#fbb296"/>
<circle cx="174.7" cy="849.7" r="3.85" fill="#fbb296"/>
<circle cx="223.3" cy="909.4" r="3.85" fill="#fbb296"/>
<circle cx="278.1" cy="923.4" r="3.5" fill="#fff3ee"/>
<circle cx="273.1" cy="869.9" r="3.85" fill="#fbb296"/>
<circle cx="176.6" cy="905.5" r="3.85" fill="#fbb296"/>
<circle cx="219.7" cy="898.9" r="3.85" fill="#fbb296"/>
<circle cx="208.4" cy="924.7" r="3.85" fill="#fbb296"/>
<circle cx="254.8" cy="905.2" r="3.85" fill="#fbb296"/>
<circle cx="234.8" cy="927.2" r="3.5" fill="#fff3ee"/>
<circle cx="156.2" cy="926.6" r="3.85" fill="#fbb296"/>
<circle cx="147.4" cy="928.9" r="3.5" fill="#fff3ee"/>
<circle cx="231.4" cy="899.6" r="3.85" fill="#fbb296"/>
<circle cx="215.4" cy="899" r="3.85" fill="#fbb296"/>
<circle cx="196.3" cy="849" r="3.85" fill="#fbb296"/>
<circle cx="180" cy="898" r="3.5" fill="#fff3ee"/>
<circle cx="226.9" cy="959.5" r="3.5" fill="#fff3ee"/>
<circle cx="223.3" cy="964.5" r="3.5" fill="#fff3ee"/>
<circle cx="235.7" cy="905.1" r="3.85" fill="#fbb296"/>
<circle cx="159.5" cy="906.9" r="3.5" fill="#fff3ee"/>
<circle cx="168.3" cy="892.4" r="3.85" fill="#fbb296"/>
<circle cx="193.8" cy="910.8" r="3.85" fill="#fbb296"/>
<circle cx="184.6" cy="909.2" r="3.85" fill="#fbb296"/>
<circle cx="187" cy="933" r="3.5" fill="#fff3ee"/>
<circle cx="192.9" cy="977.6" r="3.85" fill="#fbb296"/>
<circle cx="239.6" cy="945.5" r="3.5" fill="#fff3ee"/>
<circle cx="110.6" cy="861.3" r="3.5" fill="#fff3ee"/>
<circle cx="186" cy="899.7" r="3.85" fill="#fbb296"/>
<circle cx="216" cy="940.3" r="3.85" fill="#fbb296"/>
<circle cx="123.9" cy="920.4" r="3.5" fill="#fff3ee"/>
<circle cx="186.6" cy="913.7" r="3.5" fill="#fff3ee"/>
<circle cx="142.9" cy="901" r="3.5" fill="#fff3ee"/>
<circle cx="240" cy="829" r="3.85" fill="#fbb296"/>
<circle cx="218.1" cy="883.6" r="3.85" fill="#fbb296"/>
<circle cx="169.8" cy="943.7" r="3.5" fill="#fff3ee"/>
<circle cx="169.6" cy="907.4" r="3.85" fill="#fbb296"/>
<circle cx="193.5" cy="845.2" r="4.3" fill="#ef4d35"/>
<circle cx="164.2" cy="939.1" r="3.5" fill="#fff3ee"/>
<circle cx="281.6" cy="906.6" r="3.85" fill="#fbb296"/>
<circle cx="197.1" cy="910.7" r="3.85" fill="#fbb296"/>
<circle cx="188.1" cy="887.1" r="3.85" fill="#fbb296"/>
<circle cx="162.6" cy="826.9" r="4.3" fill="#ef4d35"/>
<circle cx="195.2" cy="879.3" r="3.85" fill="#fbb296"/>
<circle cx="143.2" cy="883.4" r="3.85" fill="#fbb296"/>
<circle cx="180.5" cy="844.3" r="4.3" fill="#ef4d35"/>
<circle cx="154.8" cy="903.5" r="3.85" fill="#fbb296"/>
<circle cx="216.2" cy="929.5" r="3.5" fill="#fff3ee"/>
<circle cx="217.5" cy="871" r="3.85" fill="#fbb296"/>
<circle cx="215.2" cy="863.4" r="4.3" fill="#ef4d35"/>
<circle cx="224.2" cy="903.7" r="3.85" fill="#fbb296"/>
<circle cx="185.5" cy="884.4" r="3.85" fill="#fbb296"/>
<circle cx="239.3" cy="879.9" r="3.5" fill="#fff3ee"/>
<circle cx="176.7" cy="896.6" r="3.85" fill="#fbb296"/>
<circle cx="263.4" cy="880.1" r="3.85" fill="#fbb296"/>
<circle cx="188.6" cy="911.8" r="3.5" fill="#fff3ee"/>
<circle cx="239.9" cy="909.3" r="3.85" fill="#fbb296"/>
<circle cx="212.3" cy="967.3" r="3.5" fill="#fff3ee"/>
<circle cx="155.4" cy="864" r="3.85" fill="#fbb296"/>
<circle cx="207.2" cy="853.9" r="3.85" fill="#fbb296"/>
<circle cx="201.4" cy="923.4" r="3.85" fill="#fbb296"/>
<circle cx="174.8" cy="957" r="3.5" fill="#fff3ee"/>
<circle cx="150" cy="842.3" r="4.3" fill="#ef4d35"/>
<circle cx="181.8" cy="841.7" r="4.3" fill="#ef4d35"/>
<circle cx="189.7" cy="870.7" r="3.5" fill="#fff3ee"/>
<circle cx="177" cy="981.1" r="3.5" fill="#fff3ee"/>
<circle cx="145.8" cy="898.2" r="3.5" fill="#fff3ee"/>
<circle cx="210.6" cy="950.6" r="3.5" fill="#fff3ee"/>
<circle cx="127.4" cy="926.8" r="3.5" fill="#fff3ee"/>
<circle cx="227.6" cy="928" r="3.85" fill="#fbb296"/>
<circle cx="229.8" cy="920.8" r="3.85" fill="#fbb296"/>
<circle cx="187.4" cy="852.5" r="3.85" fill="#fbb296"/>
<circle cx="144.5" cy="943.2" r="3.5" fill="#fff3ee"/>
<circle cx="226.1" cy="905.5" r="3.85" fill="#fbb296"/>
<circle cx="212" cy="895.5" r="3.85" fill="#fbb296"/>
<circle cx="204.8" cy="919.8" r="3.5" fill="#fff3ee"/>
<circle cx="180.4" cy="920.7" r="3.85" fill="#fbb296"/>
<circle cx="151.8" cy="776.8" r="4.3" fill="#ef4d35"/>
<circle cx="134.5" cy="948.7" r="3.85" fill="#fbb296"/>
<circle cx="149.8" cy="921.1" r="3.5" fill="#fff3ee"/>
<circle cx="175" cy="828" r="3.85" fill="#fbb296"/>
<circle cx="221.2" cy="937.3" r="3.5" fill="#fff3ee"/>
<circle cx="224.2" cy="926.2" r="3.85" fill="#fbb296"/>
<circle cx="163.4" cy="892.5" r="3.85" fill="#fbb296"/>
<circle cx="157.2" cy="867" r="3.85" fill="#fbb296"/>
<circle cx="160.8" cy="854" r="3.5" fill="#fff3ee"/>
<circle cx="256.3" cy="944.9" r="3.5" fill="#fff3ee"/>
<circle cx="203.3" cy="941.3" r="3.5" fill="#fff3ee"/>
<circle cx="190.9" cy="855.2" r="4.3" fill="#ef4d35"/>
<circle cx="195.8" cy="907.4" r="3.85" fill="#fbb296"/>
<circle cx="156.9" cy="876" r="3.85" fill="#fbb296"/>
<circle cx="211.9" cy="883.8" r="4.3" fill="#ef4d35"/>
<circle cx="170.1" cy="825.1" r="4.3" fill="#ef4d35"/>
<circle cx="223.5" cy="935.8" r="3.85" fill="#fbb296"/>
<circle cx="204.2" cy="918.2" r="3.85" fill="#fbb296"/>
<circle cx="236.8" cy="900.1" r="3.85" fill="#fbb296"/>
<circle cx="190.2" cy="927" r="3.5" fill="#fff3ee"/>
<circle cx="166.5" cy="927.9" r="3.85" fill="#fbb296"/>
<circle cx="218.5" cy="946.2" r="3.85" fill="#fbb296"/>
<circle cx="144.4" cy="898.6" r="3.85" fill="#fbb296"/>
<circle cx="199.3" cy="881.9" r="3.85" fill="#fbb296"/>
<circle cx="163.7" cy="878.9" r="3.85" fill="#fbb296"/>
<circle cx="201.4" cy="845.4" r="3.85" fill="#fbb296"/>
<circle cx="171.6" cy="908.6" r="3.85" fill="#fbb296"/>
<circle cx="226" cy="913" r="3.85" fill="#fbb296"/>
<circle cx="234.7" cy="913.8" r="3.5" fill="#fff3ee"/>
<circle cx="242.2" cy="884.8" r="3.85" fill="#fbb296"/>
<circle cx="186.2" cy="876.9" r="3.85" fill="#fbb296"/>
<circle cx="209.9" cy="969.7" r="3.5" fill="#fff3ee"/>
<circle cx="195.1" cy="877.7" r="4.3" fill="#ef4d35"/>
<circle cx="171.1" cy="885.7" r="3.5" fill="#fff3ee"/>
<circle cx="156" cy="917.6" r="3.85" fill="#fbb296"/>
<circle cx="192.9" cy="858.2" r="3.85" fill="#fbb296"/>
<circle cx="141.1" cy="921.4" r="3.85" fill="#fbb296"/>
<circle cx="248.5" cy="909.9" r="3.5" fill="#fff3ee"/>
<circle cx="161.5" cy="888.9" r="3.5" fill="#fff3ee"/>
<circle cx="97.5" cy="833.6" r="3.5" fill="#fff3ee"/>
<circle cx="242.4" cy="855.9" r="3.5" fill="#fff3ee"/>
<circle cx="218.9" cy="871.2" r="3.5" fill="#fff3ee"/>
<circle cx="208.7" cy="865.2" r="3.85" fill="#fbb296"/>
<circle cx="158.2" cy="878.2" r="3.85" fill="#fbb296"/>
<circle cx="195.2" cy="853.5" r="3.85" fill="#fbb296"/>
<circle cx="174.6" cy="871.2" r="4.3" fill="#ef4d35"/>
<circle cx="219.2" cy="889.2" r="3.85" fill="#fbb296"/>
<circle cx="168.3" cy="884.9" r="3.5" fill="#fff3ee"/>
<circle cx="231.9" cy="909.5" r="3.85" fill="#fbb296"/>
<circle cx="190.9" cy="861.1" r="4.3" fill="#ef4d35"/>
<circle cx="199.1" cy="902" r="3.85" fill="#fbb296"/>
<circle cx="146.6" cy="869.2" r="4.3" fill="#ef4d35"/>
<circle cx="201.1" cy="950" r="3.5" fill="#fff3ee"/>
<circle cx="172.4" cy="942.4" r="3.5" fill="#fff3ee"/>
<circle cx="210.1" cy="901.7" r="3.85" fill="#fbb296"/>
<circle cx="226.7" cy="941.2" r="3.5" fill="#fff3ee"/>
<circle cx="219.1" cy="965.1" r="3.5" fill="#fff3ee"/>
<circle cx="147.2" cy="958.4" r="3.5" fill="#fff3ee"/>
<circle cx="173.3" cy="882.7" r="3.85" fill="#fbb296"/>
<circle cx="176.9" cy="931.8" r="3.5" fill="#fff3ee"/>
<circle cx="187.7" cy="888.8" r="3.85" fill="#fbb296"/>
<circle cx="232.9" cy="905.6" r="3.85" fill="#fbb296"/>
<circle cx="175.6" cy="929.1" r="3.5" fill="#fff3ee"/>
<circle cx="239.1" cy="922.4" r="3.85" fill="#fbb296"/>
<circle cx="247.2" cy="809.7" r="4.3" fill="#ef4d35"/>
<circle cx="238.4" cy="870.8" r="3.5" fill="#fff3ee"/>
<circle cx="185.5" cy="905.8" r="3.85" fill="#fbb296"/>
<circle cx="173" cy="875.5" r="3.85" fill="#fbb296"/>
<circle cx="216.9" cy="876.3" r="3.85" fill="#fbb296"/>
<circle cx="190.7" cy="928.4" r="3.5" fill="#fff3ee"/>
<circle cx="259.8" cy="908.7" r="3.85" fill="#fbb296"/>
<circle cx="207.9" cy="982.4" r="3.5" fill="#fff3ee"/>
<circle cx="149.5" cy="904.9" r="3.5" fill="#fff3ee"/>
<circle cx="127.4" cy="877.8" r="3.5" fill="#fff3ee"/>
<circle cx="197.7" cy="912" r="3.5" fill="#fff3ee"/>
<circle cx="229.5" cy="947.2" r="3.85" fill="#fbb296"/>
<circle cx="133.5" cy="868.6" r="3.85" fill="#fbb296"/>
<circle cx="220.1" cy="952.6" r="3.5" fill="#fff3ee"/>
<circle cx="144.2" cy="905.7" r="3.85" fill="#fbb296"/>
<circle cx="188.3" cy="914.7" r="3.85" fill="#fbb296"/>
<circle cx="224.4" cy="909.5" r="3.85" fill="#fbb296"/>
<circle cx="259.4" cy="891.5" r="3.85" fill="#fbb296"/>
<circle cx="213.2" cy="857.8" r="4.3" fill="#ef4d35"/>
<circle cx="147.3" cy="808.3" r="4.3" fill="#ef4d35"/>
<circle cx="239.5" cy="867.9" r="3.85" fill="#fbb296"/>
<circle cx="141" cy="880.6" r="3.85" fill="#fbb296"/>
<circle cx="191.3" cy="875.3" r="3.85" fill="#fbb296"/>
<circle cx="189.4" cy="849.4" r="3.85" fill="#fbb296"/>
<circle cx="202.5" cy="886.7" r="3.85" fill="#fbb296"/>
<circle cx="192.5" cy="847.3" r="3.85" fill="#fbb296"/>
<circle cx="204.6" cy="913.8" r="3.5" fill="#fff3ee"/>
<circle cx="199.4" cy="919.6" r="3.85" fill="#fbb296"/>
<circle cx="202.2" cy="904.9" r="3.5" fill="#fff3ee"/>
<circle cx="168.8" cy="839" r="3.85" fill="#fbb296"/>
<circle cx="183.6" cy="903.4" r="3.85" fill="#fbb296"/>
<circle cx="142.9" cy="881.7" r="3.85" fill="#fbb296"/>
<circle cx="192.4" cy="928.3" r="3.5" fill="#fff3ee"/>
<circle cx="187.8" cy="886" r="3.85" fill="#fbb296"/>
<circle cx="159.3" cy="921.7" r="3.5" fill="#fff3ee"/>
<circle cx="246.2" cy="887.2" r="3.85" fill="#fbb296"/>
<circle cx="197.7" cy="893.6" r="3.85" fill="#fbb296"/>
<circle cx="153" cy="889.5" r="3.85" fill="#fbb296"/>
<circle cx="182.1" cy="915.3" r="3.5" fill="#fff3ee"/>
<circle cx="189.2" cy="894.6" r="3.5" fill="#fff3ee"/>
<circle cx="239.9" cy="946.1" r="3.85" fill="#fbb296"/>
<circle cx="175.2" cy="846.9" r="3.85" fill="#fbb296"/>
<circle cx="200.6" cy="891" r="3.5" fill="#fff3ee"/>
<circle cx="130.8" cy="877.9" r="3.5" fill="#fff3ee"/>
<circle cx="167.5" cy="849.6" r="3.85" fill="#fbb296"/>
<circle cx="190.2" cy="861.5" r="4.3" fill="#ef4d35"/>
<circle cx="187.4" cy="917.9" r="3.85" fill="#fbb296"/>
<circle cx="154.5" cy="874" r="3.85" fill="#fbb296"/>
<circle cx="174" cy="917.4" r="3.85" fill="#fbb296"/>
<circle cx="248.5" cy="963.1" r="3.85" fill="#fbb296"/>
<circle cx="188.6" cy="884.9" r="3.5" fill="#fff3ee"/>
<circle cx="149.9" cy="864.9" r="3.85" fill="#fbb296"/>
<circle cx="259.3" cy="907.1" r="3.85" fill="#fbb296"/>
<circle cx="100.9" cy="871.2" r="3.85" fill="#fbb296"/>
<circle cx="169.3" cy="868.4" r="4.3" fill="#ef4d35"/>
<circle cx="216.1" cy="912.1" r="3.85" fill="#fbb296"/>
<circle cx="203" cy="934.8" r="3.5" fill="#fff3ee"/>
<circle cx="207" cy="877.6" r="4.3" fill="#ef4d35"/>
<circle cx="166.5" cy="891.1" r="3.5" fill="#fff3ee"/>
<circle cx="172.9" cy="887.1" r="3.85" fill="#fbb296"/>
<circle cx="182.5" cy="978.8" r="3.5" fill="#fff3ee"/>
<circle cx="231.3" cy="891.8" r="3.85" fill="#fbb296"/>
<circle cx="157" cy="867.8" r="3.5" fill="#fff3ee"/>
<circle cx="243.9" cy="931.7" r="3.85" fill="#fbb296"/>
<circle cx="238.1" cy="941.9" r="3.85" fill="#fbb296"/>
<circle cx="222.3" cy="912.4" r="3.5" fill="#fff3ee"/>
<circle cx="219.4" cy="880.5" r="3.85" fill="#fbb296"/>
<circle cx="149.9" cy="876.7" r="3.5" fill="#fff3ee"/>
<circle cx="191" cy="894.5" r="3.85" fill="#fbb296"/>
<circle cx="238.7" cy="894.1" r="3.5" fill="#fff3ee"/>
<circle cx="164.6" cy="913.9" r="3.85" fill="#fbb296"/>
<circle cx="181.9" cy="929.5" r="3.5" fill="#fff3ee"/>
<circle cx="156.9" cy="879" r="3.5" fill="#fff3ee"/>
<circle cx="198.8" cy="865.1" r="3.85" fill="#fbb296"/>
<circle cx="140.2" cy="912.3" r="3.85" fill="#fbb296"/>
<circle cx="217.7" cy="896.3" r="3.85" fill="#fbb296"/>
<circle cx="244.4" cy="964.9" r="3.5" fill="#fff3ee"/>
<circle cx="198.9" cy="848.4" r="3.85" fill="#fbb296"/>
<circle cx="284.3" cy="887.9" r="3.85" fill="#fbb296"/>
<circle cx="152" cy="862.6" r="3.85" fill="#fbb296"/>
<circle cx="185.4" cy="905.2" r="3.85" fill="#fbb296"/>
<circle cx="99.5" cy="909.8" r="3.85" fill="#fbb296"/>
<circle cx="163.9" cy="878.8" r="3.5" fill="#fff3ee"/>
<circle cx="185.6" cy="899.1" r="3.5" fill="#fff3ee"/>
<circle cx="176.8" cy="874.9" r="3.85" fill="#fbb296"/>
<circle cx="215.2" cy="931.8" r="3.85" fill="#fbb296"/>
<circle cx="174" cy="856.7" r="3.5" fill="#fff3ee"/>
<circle cx="196.9" cy="857.9" r="4.3" fill="#ef4d35"/>
<circle cx="253.1" cy="922.8" r="3.85" fill="#fbb296"/>
<circle cx="234.1" cy="932.6" r="3.5" fill="#fff3ee"/>
<circle cx="210.9" cy="921.6" r="3.85" fill="#fbb296"/>
<circle cx="163.1" cy="946.7" r="3.5" fill="#fff3ee"/>
<circle cx="195.1" cy="868.3" r="3.85" fill="#fbb296"/>
<circle cx="174.1" cy="903.3" r="3.85" fill="#fbb296"/>
<circle cx="135.2" cy="889.4" r="3.85" fill="#fbb296"/>
<circle cx="189.3" cy="942.8" r="3.85" fill="#fbb296"/>
<circle cx="167" cy="933.1" r="3.5" fill="#fff3ee"/>
<circle cx="186.4" cy="907.1" r="3.85" fill="#fbb296"/>
<circle cx="257.5" cy="912.2" r="3.85" fill="#fbb296"/>
<circle cx="236.1" cy="870.2" r="3.85" fill="#fbb296"/>
<circle cx="171.8" cy="905.6" r="3.5" fill="#fff3ee"/>
<circle cx="183" cy="954.2" r="3.5" fill="#fff3ee"/>
<circle cx="176" cy="975.8" r="3.5" fill="#fff3ee"/>
<circle cx="252.3" cy="878.6" r="4.3" fill="#ef4d35"/>
<circle cx="154.4" cy="871.7" r="3.85" fill="#fbb296"/>
<circle cx="158.9" cy="887.8" r="3.85" fill="#fbb296"/>
<circle cx="184.2" cy="876.6" r="3.85" fill="#fbb296"/>
<circle cx="190.2" cy="825.1" r="3.85" fill="#fbb296"/>
<circle cx="244.9" cy="915.9" r="3.5" fill="#fff3ee"/>
<circle cx="163.7" cy="845.8" r="3.85" fill="#fbb296"/>
<circle cx="135.1" cy="902" r="3.5" fill="#fff3ee"/>
<circle cx="227" cy="911.5" r="3.5" fill="#fff3ee"/>
<circle cx="169.5" cy="907.6" r="3.85" fill="#fbb296"/>
<circle cx="210.9" cy="952.6" r="3.5" fill="#fff3ee"/>
<circle cx="212" cy="877.4" r="3.85" fill="#fbb296"/>
<circle cx="140.7" cy="895.9" r="3.85" fill="#fbb296"/>
<circle cx="183.1" cy="844.5" r="3.85" fill="#fbb296"/>
<circle cx="220.7" cy="909.6" r="3.5" fill="#fff3ee"/>
<circle cx="196.6" cy="978.4" r="3.5" fill="#fff3ee"/>
<circle cx="206.6" cy="909.3" r="3.85" fill="#fbb296"/>
<circle cx="205.2" cy="858.7" r="3.85" fill="#fbb296"/>
<circle cx="184.7" cy="967.1" r="3.5" fill="#fff3ee"/>
<circle cx="196.5" cy="897.6" r="3.5" fill="#fff3ee"/>
<circle cx="130.9" cy="948.3" r="3.5" fill="#fff3ee"/>
<circle cx="203" cy="885.9" r="3.85" fill="#fbb296"/>
<circle cx="124" cy="905.4" r="3.5" fill="#fff3ee"/>
<circle cx="274.7" cy="917" r="3.85" fill="#fbb296"/>
<circle cx="201.1" cy="910" r="3.5" fill="#fff3ee"/>
<circle cx="248.9" cy="944.8" r="3.85" fill="#fbb296"/>
<circle cx="206" cy="948.7" r="3.85" fill="#fbb296"/>
<circle cx="149.9" cy="900" r="3.85" fill="#fbb296"/>
<circle cx="132.9" cy="874.4" r="3.85" fill="#fbb296"/>
<circle cx="192.8" cy="927.9" r="3.5" fill="#fff3ee"/>
<circle cx="211.3" cy="918.7" r="3.85" fill="#fbb296"/>
<circle cx="176.7" cy="873.1" r="3.85" fill="#fbb296"/>
<circle cx="173.2" cy="923.1" r="3.85" fill="#fbb296"/>
<circle cx="224.5" cy="917.1" r="3.85" fill="#fbb296"/>
<circle cx="208.2" cy="912.1" r="3.5" fill="#fff3ee"/>
<circle cx="158.8" cy="907.7" r="3.5" fill="#fff3ee"/>
<circle cx="147.8" cy="875.2" r="3.85" fill="#fbb296"/>
<circle cx="249.7" cy="904.4" r="3.85" fill="#fbb296"/>
<circle cx="193.2" cy="941.9" r="3.5" fill="#fff3ee"/>
<circle cx="177.2" cy="958.7" r="3.85" fill="#fbb296"/>
<circle cx="182.6" cy="955.6" r="3.5" fill="#fff3ee"/>
<circle cx="198.6" cy="923" r="3.5" fill="#fff3ee"/>
<circle cx="197" cy="850.6" r="4.3" fill="#ef4d35"/>
<circle cx="187.2" cy="882.2" r="3.5" fill="#fff3ee"/>
<circle cx="159.7" cy="913" r="3.5" fill="#fff3ee"/>
<circle cx="200.6" cy="966" r="3.5" fill="#fff3ee"/>
<circle cx="204.4" cy="849.1" r="4.3" fill="#ef4d35"/>
<circle cx="258" cy="922.8" r="3.85" fill="#fbb296"/>
<circle cx="168.8" cy="919.4" r="3.5" fill="#fff3ee"/>
<circle cx="158.1" cy="946" r="3.5" fill="#fff3ee"/>
<circle cx="270.6" cy="913" r="3.5" fill="#fff3ee"/>
<circle cx="151.8" cy="911.7" r="3.85" fill="#fbb296"/>
<circle cx="184.9" cy="925.3" r="3.5" fill="#fff3ee"/>
<circle cx="202.5" cy="963" r="3.5" fill="#fff3ee"/>
<circle cx="201.6" cy="880.7" r="3.5" fill="#fff3ee"/>
<circle cx="138.9" cy="884.1" r="3.5" fill="#fff3ee"/>
<circle cx="247.8" cy="962.6" r="3.85" fill="#fbb296"/>
<circle cx="127.3" cy="867.3" r="3.85" fill="#fbb296"/>
<circle cx="191.8" cy="897.6" r="3.5" fill="#fff3ee"/>
<circle cx="197.7" cy="886" r="3.85" fill="#fbb296"/>
<circle cx="200.9" cy="921.8" r="3.85" fill="#fbb296"/>
<circle cx="189" cy="899.3" r="3.85" fill="#fbb296"/>
<circle cx="130.3" cy="931.6" r="3.5" fill="#fff3ee"/>
<circle cx="218.6" cy="896" r="3.85" fill="#fbb296"/>
<circle cx="225" cy="828" r="4.3" fill="#ef4d35"/>
<circle cx="176.1" cy="895.7" r="3.85" fill="#fbb296"/>
<circle cx="237" cy="902.2" r="3.85" fill="#fbb296"/>
<circle cx="118.4" cy="843.8" r="4.3" fill="#ef4d35"/>
<circle cx="230.2" cy="929.5" r="3.85" fill="#fbb296"/>
<circle cx="199.2" cy="880.5" r="3.85" fill="#fbb296"/>
<circle cx="158.3" cy="855.1" r="4.3" fill="#ef4d35"/>
<circle cx="151.8" cy="872.5" r="3.85" fill="#fbb296"/>
<circle cx="152.7" cy="930.8" r="3.5" fill="#fff3ee"/>
<circle cx="153.1" cy="889.4" r="3.5" fill="#fff3ee"/>
<circle cx="146.8" cy="902.9" r="3.85" fill="#fbb296"/>
<circle cx="259.6" cy="868.3" r="3.85" fill="#fbb296"/>
<circle cx="255" cy="896.9" r="3.85" fill="#fbb296"/>
<circle cx="274.5" cy="885.5" r="3.85" fill="#fbb296"/>
<circle cx="129.7" cy="901.2" r="3.85" fill="#fbb296"/>
<circle cx="181.3" cy="853.8" r="3.85" fill="#fbb296"/>
<circle cx="169.5" cy="940" r="3.5" fill="#fff3ee"/>
<circle cx="190.7" cy="960.1" r="3.5" fill="#fff3ee"/>
<circle cx="253.4" cy="941.2" r="3.85" fill="#fbb296"/>
<circle cx="124.1" cy="882" r="3.85" fill="#fbb296"/>
<circle cx="174.6" cy="956.1" r="3.5" fill="#fff3ee"/>
<circle cx="194" cy="970.3" r="3.85" fill="#fbb296"/>
<circle cx="161.4" cy="906.1" r="3.85" fill="#fbb296"/>
<circle cx="213" cy="923.3" r="3.5" fill="#fff3ee"/>
<circle cx="245" cy="856.1" r="4.3" fill="#ef4d35"/>
<circle cx="224.9" cy="903.5" r="3.85" fill="#fbb296"/>
<circle cx="210.2" cy="929.8" r="3.85" fill="#fbb296"/>
<circle cx="223.5" cy="937.4" r="3.85" fill="#fbb296"/>
<circle cx="200" cy="828" r="3.85" fill="#fbb296"/>
<circle cx="158.1" cy="946.9" r="3.5" fill="#fff3ee"/>
<circle cx="213.3" cy="904.9" r="3.5" fill="#fff3ee"/>
<circle cx="175.6" cy="953.7" r="3.5" fill="#fff3ee"/>
<circle cx="200" cy="900" r="3.85" fill="#fbb296"/>
<circle cx="198.3" cy="933.2" r="3.5" fill="#fff3ee"/>
<circle cx="247.4" cy="913.7" r="3.5" fill="#fff3ee"/>
<circle cx="137.7" cy="885.6" r="3.5" fill="#fff3ee"/>
<circle cx="203.2" cy="979.7" r="3.5" fill="#fff3ee"/>
<circle cx="194.1" cy="864.3" r="4.3" fill="#ef4d35"/>
<circle cx="169.4" cy="874.6" r="3.85" fill="#fbb296"/>
<circle cx="225.6" cy="951.1" r="3.5" fill="#fff3ee"/>
<circle cx="217.9" cy="901.3" r="3.85" fill="#fbb296"/>
<circle cx="203.5" cy="951.7" r="3.85" fill="#fbb296"/>
<circle cx="225.3" cy="926" r="3.85" fill="#fbb296"/>
<circle cx="169.8" cy="924.4" r="3.5" fill="#fff3ee"/>
<circle cx="243.1" cy="924.6" r="3.85" fill="#fbb296"/>
<circle cx="161.6" cy="903.6" r="3.85" fill="#fbb296"/>
<circle cx="154.2" cy="939.5" r="3.85" fill="#fbb296"/>
<circle cx="115.3" cy="854.8" r="3.85" fill="#fbb296"/>
<circle cx="219.5" cy="933.6" r="3.85" fill="#fbb296"/>
<circle cx="181.5" cy="864.4" r="3.85" fill="#fbb296"/>
<circle cx="218.5" cy="877.8" r="3.85" fill="#fbb296"/>
<circle cx="189.8" cy="871" r="4.3" fill="#ef4d35"/>
<circle cx="194.1" cy="848.2" r="4.3" fill="#ef4d35"/>
<circle cx="143.6" cy="851.8" r="3.85" fill="#fbb296"/>
<circle cx="139.8" cy="871.9" r="3.85" fill="#fbb296"/>
<circle cx="217.3" cy="955" r="3.5" fill="#fff3ee"/>
<circle cx="213" cy="931.9" r="3.85" fill="#fbb296"/>
<circle cx="259.4" cy="940.1" r="3.5" fill="#fff3ee"/>
<circle cx="148.5" cy="903.1" r="3.85" fill="#fbb296"/>
<circle cx="226.9" cy="897.3" r="3.5" fill="#fff3ee"/>
<circle cx="216.1" cy="929.4" r="3.85" fill="#fbb296"/>
<circle cx="219.9" cy="833.2" r="3.85" fill="#fbb296"/>
<circle cx="171" cy="903.3" r="3.5" fill="#fff3ee"/>
<circle cx="131.9" cy="883.2" r="4.3" fill="#ef4d35"/>
<circle cx="192.8" cy="843.3" r="4.3" fill="#ef4d35"/>
<circle cx="151.5" cy="936.3" r="3.5" fill="#fff3ee"/>
<circle cx="159.3" cy="885.6" r="3.85" fill="#fbb296"/>
<circle cx="192.2" cy="922.4" r="3.5" fill="#fff3ee"/>
<circle cx="197.3" cy="899.5" r="3.85" fill="#fbb296"/>
<circle cx="244.4" cy="898.5" r="3.85" fill="#fbb296"/>
<circle cx="123.2" cy="844.3" r="3.85" fill="#fbb296"/>
<circle cx="209.4" cy="927.4" r="3.5" fill="#fff3ee"/>
<circle cx="197.8" cy="894.8" r="3.5" fill="#fff3ee"/>
<circle cx="215.9" cy="873.1" r="3.5" fill="#fff3ee"/>
<circle cx="193.1" cy="936.4" r="3.85" fill="#fbb296"/>
<circle cx="218.5" cy="877.2" r="3.85" fill="#fbb296"/>
<circle cx="184.4" cy="913.5" r="3.85" fill="#fbb296"/>
<circle cx="151.5" cy="907.3" r="3.85" fill="#fbb296"/>
<circle cx="260.2" cy="946" r="3.5" fill="#fff3ee"/>
<circle cx="199.3" cy="915.5" r="3.5" fill="#fff3ee"/>
<circle cx="247.6" cy="927.6" r="3.85" fill="#fbb296"/>
<circle cx="179.4" cy="842.3" r="3.85" fill="#fbb296"/>
<circle cx="162.8" cy="884.5" r="3.85" fill="#fbb296"/>
<circle cx="224.2" cy="841.9" r="3.85" fill="#fbb296"/>
<circle cx="246" cy="930.7" r="3.85" fill="#fbb296"/>
<circle cx="209.1" cy="889.8" r="3.85" fill="#fbb296"/>
<circle cx="166.7" cy="889.9" r="3.85" fill="#fbb296"/>
<circle cx="220.4" cy="920.5" r="3.5" fill="#fff3ee"/>
<circle cx="157.1" cy="903.8" r="3.85" fill="#fbb296"/>
<circle cx="178.7" cy="832.9" r="3.85" fill="#fbb296"/>
<circle cx="168.7" cy="921.3" r="3.85" fill="#fbb296"/>
<circle cx="229.7" cy="878.7" r="3.5" fill="#fff3ee"/>
<circle cx="227.1" cy="893.9" r="3.85" fill="#fbb296"/>
<circle cx="184.7" cy="953.4" r="3.5" fill="#fff3ee"/>
<circle cx="195.8" cy="918.4" r="3.85" fill="#fbb296"/>
<circle cx="112.3" cy="885.7" r="3.85" fill="#fbb296"/>
<circle cx="224.1" cy="874.3" r="3.85" fill="#fbb296"/>
<circle cx="154.7" cy="876.8" r="3.5" fill="#fff3ee"/>
<circle cx="104.8" cy="938.9" r="3.5" fill="#fff3ee"/>
<circle cx="208.8" cy="861.4" r="3.85" fill="#fbb296"/>
<circle cx="190.9" cy="933.6" r="3.85" fill="#fbb296"/>
<circle cx="149.5" cy="906.7" r="3.85" fill="#fbb296"/>
<circle cx="203.6" cy="912.8" r="3.85" fill="#fbb296"/>
<circle cx="240.2" cy="884.7" r="4.3" fill="#ef4d35"/>
<circle cx="174.2" cy="902.7" r="3.85" fill="#fbb296"/>
<circle cx="166.3" cy="890" r="3.85" fill="#fbb296"/>
<circle cx="241.5" cy="946.5" r="3.5" fill="#fff3ee"/>
<circle cx="198.3" cy="916.9" r="3.5" fill="#fff3ee"/>
<circle cx="146.6" cy="881.8" r="3.5" fill="#fff3ee"/>
<circle cx="207.6" cy="882.1" r="3.85" fill="#fbb296"/>
<circle cx="208" cy="907.3" r="3.5" fill="#fff3ee"/>
<circle cx="108.5" cy="929.8" r="3.5" fill="#fff3ee"/>
<circle cx="157.5" cy="913.7" r="3.85" fill="#fbb296"/>
<circle cx="199.4" cy="874.4" r="3.85" fill="#fbb296"/>
<circle cx="195.9" cy="922.1" r="3.5" fill="#fff3ee"/>
<circle cx="231.8" cy="857.9" r="3.85" fill="#fbb296"/>
<circle cx="207.7" cy="891.4" r="3.5" fill="#fff3ee"/>
<circle cx="188" cy="913.5" r="3.5" fill="#fff3ee"/>
<circle cx="185.4" cy="883.9" r="3.85" fill="#fbb296"/>
<circle cx="147.4" cy="893.9" r="3.85" fill="#fbb296"/>
<circle cx="131.5" cy="961" r="3.5" fill="#fff3ee"/>
<circle cx="245.6" cy="919" r="3.85" fill="#fbb296"/>
<circle cx="148.8" cy="863.7" r="3.85" fill="#fbb296"/>
<circle cx="177.5" cy="815" r="4.3" fill="#ef4d35"/>
<circle cx="153.9" cy="813.6" r="3.85" fill="#fbb296"/>
<circle cx="228.6" cy="957.2" r="3.5" fill="#fff3ee"/>
<circle cx="136.8" cy="888.3" r="3.85" fill="#fbb296"/>
<circle cx="195.2" cy="868" r="4.3" fill="#ef4d35"/>
<circle cx="200.8" cy="859" r="4.3" fill="#ef4d35"/>
<circle cx="201.5" cy="873.7" r="3.85" fill="#fbb296"/>
<circle cx="186.3" cy="936.6" r="3.5" fill="#fff3ee"/>
<circle cx="226.9" cy="927.2" r="3.5" fill="#fff3ee"/>
<circle cx="135.5" cy="938.1" r="3.5" fill="#fff3ee"/>
<circle cx="234.5" cy="880.9" r="3.85" fill="#fbb296"/>
<circle cx="229.7" cy="854.8" r="4.3" fill="#ef4d35"/>
<circle cx="170" cy="955.6" r="3.5" fill="#fff3ee"/>
<circle cx="193" cy="922.9" r="3.85" fill="#fbb296"/>
<circle cx="199.2" cy="977.7" r="3.5" fill="#fff3ee"/>
<circle cx="153.7" cy="894.8" r="3.5" fill="#fff3ee"/>
<circle cx="238.1" cy="900.2" r="3.85" fill="#fbb296"/>
<circle cx="233.1" cy="902.7" r="3.85" fill="#fbb296"/>
<circle cx="204.4" cy="869.7" r="3.85" fill="#fbb296"/>
<circle cx="176" cy="891.2" r="3.85" fill="#fbb296"/>
<circle cx="169.1" cy="861.9" r="3.85" fill="#fbb296"/>
<circle cx="222" cy="928" r="3.5" fill="#fff3ee"/>
<circle cx="211.2" cy="929" r="3.85" fill="#fbb296"/>
<circle cx="191.3" cy="868.2" r="4.3" fill="#ef4d35"/>
<circle cx="227.5" cy="900.6" r="3.85" fill="#fbb296"/>
<circle cx="129" cy="878.5" r="3.85" fill="#fbb296"/>
<circle cx="248.8" cy="948.9" r="3.85" fill="#fbb296"/>
<circle cx="109.1" cy="890.9" r="3.5" fill="#fff3ee"/>
<circle cx="197.8" cy="950.1" r="3.5" fill="#fff3ee"/>
<circle cx="213.9" cy="937.5" r="3.85" fill="#fbb296"/>
<circle cx="211.1" cy="901.4" r="3.85" fill="#fbb296"/>
<circle cx="220.6" cy="943.9" r="3.85" fill="#fbb296"/>
<circle cx="154.1" cy="837.2" r="3.85" fill="#fbb296"/>
<circle cx="226" cy="859.1" r="3.85" fill="#fbb296"/>
<circle cx="187.4" cy="882" r="3.85" fill="#fbb296"/>
<circle cx="162" cy="943.5" r="3.5" fill="#fff3ee"/>
<circle cx="227.9" cy="877.8" r="3.85" fill="#fbb296"/>
<circle cx="225.6" cy="862.2" r="4.3" fill="#ef4d35"/>
<circle cx="172.1" cy="873" r="3.85" fill="#fbb296"/>
<circle cx="204.6" cy="945" r="3.85" fill="#fbb296"/>
<circle cx="193.9" cy="886.8" r="3.85" fill="#fbb296"/>
<circle cx="177.4" cy="955.7" r="3.85" fill="#fbb296"/>
<circle cx="203.3" cy="954.2" r="3.5" fill="#fff3ee"/>
<circle cx="189.6" cy="939.6" r="3.5" fill="#fff3ee"/>
<circle cx="196.6" cy="892.8" r="3.85" fill="#fbb296"/>
<circle cx="144.3" cy="857.1" r="3.85" fill="#fbb296"/>
<circle cx="237.2" cy="978.2" r="3.5" fill="#fff3ee"/>
<circle cx="243.6" cy="855.9" r="4.3" fill="#ef4d35"/>
<circle cx="212.6" cy="894" r="3.85" fill="#fbb296"/>
<circle cx="141.4" cy="899.5" r="3.5" fill="#fff3ee"/>
<circle cx="117.5" cy="951.4" r="3.85" fill="#fbb296"/>
<circle cx="214" cy="923.1" r="3.5" fill="#fff3ee"/>
<circle cx="269.3" cy="923.3" r="3.5" fill="#fff3ee"/>
<circle cx="181" cy="956.2" r="3.85" fill="#fbb296"/>
<circle cx="164.9" cy="865.7" r="3.85" fill="#fbb296"/>
<circle cx="143.4" cy="942.2" r="3.5" fill="#fff3ee"/>
<circle cx="254.3" cy="928.4" r="3.85" fill="#fbb296"/>
<circle cx="206.4" cy="815.4" r="3.85" fill="#fbb296"/>
<circle cx="211.4" cy="889.6" r="3.85" fill="#fbb296"/>
<circle cx="227.5" cy="921.3" r="3.5" fill="#fff3ee"/>
<circle cx="156.2" cy="899.9" r="3.5" fill="#fff3ee"/>
<circle cx="202.2" cy="919" r="3.5" fill="#fff3ee"/>
<circle cx="186.3" cy="863.6" r="4.3" fill="#ef4d35"/>
<circle cx="270" cy="886.5" r="3.85" fill="#fbb296"/>
<circle cx="146.9" cy="930.7" r="3.85" fill="#fbb296"/>
<circle cx="206.4" cy="870" r="3.85" fill="#fbb296"/>
<circle cx="203.4" cy="906.8" r="3.85" fill="#fbb296"/>
<circle cx="214.1" cy="914.7" r="3.5" fill="#fff3ee"/>
<circle cx="225.2" cy="914.9" r="3.85" fill="#fbb296"/>
<circle cx="164.9" cy="943.4" r="3.85" fill="#fbb296"/>
<circle cx="174" cy="899.5" r="3.5" fill="#fff3ee"/>
<circle cx="188.7" cy="879.7" r="4.3" fill="#ef4d35"/>
<circle cx="202.9" cy="921.9" r="3.5" fill="#fff3ee"/>
<circle cx="133.7" cy="921.4" r="3.85" fill="#fbb296"/>
<circle cx="165.5" cy="942.1" r="3.5" fill="#fff3ee"/>
<circle cx="198.4" cy="919.4" r="3.5" fill="#fff3ee"/>
<circle cx="211.3" cy="872.2" r="4.3" fill="#ef4d35"/>
<circle cx="236.6" cy="842.5" r="4.3" fill="#ef4d35"/>
<circle cx="258.3" cy="909.6" r="3.85" fill="#fbb296"/>
<circle cx="171.1" cy="862.9" r="3.85" fill="#fbb296"/>
<circle cx="234.8" cy="892.5" r="4.3" fill="#ef4d35"/>
<circle cx="232" cy="894.9" r="3.85" fill="#fbb296"/>
<circle cx="219.3" cy="889.6" r="3.85" fill="#fbb296"/>
<circle cx="209.1" cy="913.9" r="3.85" fill="#fbb296"/>
<circle cx="220.9" cy="915.5" r="3.5" fill="#fff3ee"/>
<circle cx="212.3" cy="960.6" r="3.5" fill="#fff3ee"/>
<circle cx="211.5" cy="860.4" r="3.85" fill="#fbb296"/>
<circle cx="214.4" cy="903.9" r="3.85" fill="#fbb296"/>
<circle cx="163.6" cy="931.9" r="3.5" fill="#fff3ee"/>
<circle cx="188.7" cy="915.3" r="3.85" fill="#fbb296"/>
<circle cx="154.8" cy="870.1" r="3.85" fill="#fbb296"/>
<circle cx="128.1" cy="868.9" r="3.85" fill="#fbb296"/>
<circle cx="194.5" cy="929.9" r="3.5" fill="#fff3ee"/>
<circle cx="165" cy="863.6" r="4.3" fill="#ef4d35"/>
<circle cx="217.2" cy="976.1" r="3.5" fill="#fff3ee"/>
<circle cx="150.9" cy="904" r="3.85" fill="#fbb296"/>
<circle cx="169.6" cy="938.6" r="3.5" fill="#fff3ee"/>
<circle cx="218.8" cy="899.7" r="3.85" fill="#fbb296"/>
<circle cx="220.8" cy="915.8" r="3.85" fill="#fbb296"/>
<circle cx="284.2" cy="899.4" r="3.85" fill="#fbb296"/>
<circle cx="174.8" cy="865.7" r="4.3" fill="#ef4d35"/>
<circle cx="175" cy="916.4" r="3.5" fill="#fff3ee"/>
<circle cx="220.6" cy="914.8" r="3.85" fill="#fbb296"/>
<circle cx="258.5" cy="925.1" r="3.85" fill="#fbb296"/>
<circle cx="187.7" cy="905.9" r="3.5" fill="#fff3ee"/>
<circle cx="112.2" cy="870.8" r="3.85" fill="#fbb296"/>
<circle cx="219.8" cy="935.1" r="3.5" fill="#fff3ee"/>
<circle cx="192.5" cy="902.8" r="3.5" fill="#fff3ee"/>
<circle cx="168.1" cy="889.6" r="3.85" fill="#fbb296"/>
<circle cx="106.1" cy="921.4" r="3.5" fill="#fff3ee"/>
<circle cx="140.3" cy="909" r="3.85" fill="#fbb296"/>
<circle cx="249.2" cy="967.1" r="3.5" fill="#fff3ee"/>
<circle cx="168.2" cy="935" r="3.5" fill="#fff3ee"/>
<circle cx="229.5" cy="855.6" r="4.3" fill="#ef4d35"/>
<circle cx="174" cy="921.2" r="3.85" fill="#fbb296"/>
<circle cx="155.8" cy="906.1" r="3.85" fill="#fbb296"/>
<circle cx="196.7" cy="884.6" r="3.85" fill="#fbb296"/>
<circle cx="221.9" cy="898.9" r="4.3" fill="#ef4d35"/>
<circle cx="139.4" cy="822.8" r="3.85" fill="#fbb296"/>
<circle cx="262.5" cy="878.8" r="3.85" fill="#fbb296"/>
<circle cx="120.6" cy="851.6" r="3.85" fill="#fbb296"/>
<circle cx="145.9" cy="872.7" r="3.5" fill="#fff3ee"/>
<circle cx="225.8" cy="952" r="3.5" fill="#fff3ee"/>
<circle cx="183" cy="927.3" r="3.85" fill="#fbb296"/>
<circle cx="163.1" cy="866.8" r="3.85" fill="#fbb296"/>
<circle cx="208.8" cy="933.9" r="3.85" fill="#fbb296"/>
<circle cx="209.2" cy="861.6" r="4.3" fill="#ef4d35"/>
<circle cx="172.9" cy="956.3" r="3.5" fill="#fff3ee"/>
<circle cx="269" cy="908.5" r="3.85" fill="#fbb296"/>
<circle cx="223" cy="872.9" r="4.3" fill="#ef4d35"/>
<circle cx="176.5" cy="862.3" r="3.85" fill="#fbb296"/>
<circle cx="210.4" cy="887" r="3.5" fill="#fff3ee"/>
<circle cx="195.7" cy="936.6" r="3.5" fill="#fff3ee"/>
<circle cx="148.6" cy="884.1" r="3.85" fill="#fbb296"/>
<circle cx="109.1" cy="852.7" r="3.85" fill="#fbb296"/>
<circle cx="219.7" cy="875.8" r="4.3" fill="#ef4d35"/>
<circle cx="158.9" cy="868.1" r="3.85" fill="#fbb296"/>
<circle cx="249.4" cy="899.7" r="3.5" fill="#fff3ee"/>
<circle cx="159.2" cy="876.3" r="3.5" fill="#fff3ee"/>
<circle cx="247.7" cy="895.7" r="3.85" fill="#fbb296"/>
<circle cx="208" cy="905.9" r="3.5" fill="#fff3ee"/>
<circle cx="170.6" cy="937.7" r="3.5" fill="#fff3ee"/>
<circle cx="182" cy="852.8" r="4.3" fill="#ef4d35"/>
<circle cx="160.4" cy="943.9" r="3.5" fill="#fff3ee"/>
<circle cx="222.6" cy="903.3" r="3.5" fill="#fff3ee"/>
<circle cx="223.2" cy="928.9" r="3.5" fill="#fff3ee"/>
<circle cx="208.2" cy="920.3" r="3.85" fill="#fbb296"/>
<circle cx="214.4" cy="886" r="3.85" fill="#fbb296"/>
<circle cx="187.2" cy="918.5" r="3.5" fill="#fff3ee"/>
<circle cx="139.8" cy="886.6" r="3.85" fill="#fbb296"/>
<circle cx="211.6" cy="898.1" r="3.5" fill="#fff3ee"/>
<circle cx="186.8" cy="868.5" r="4.3" fill="#ef4d35"/>
<circle cx="198.1" cy="910.5" r="3.85" fill="#fbb296"/>
<circle cx="186.2" cy="929.3" r="3.5" fill="#fff3ee"/>
<circle cx="201.3" cy="890.4" r="3.5" fill="#fff3ee"/>
<circle cx="182.5" cy="940.1" r="3.85" fill="#fbb296"/>
<circle cx="230.4" cy="976.7" r="3.5" fill="#fff3ee"/>
<circle cx="202.7" cy="922.8" r="3.5" fill="#fff3ee"/>
<circle cx="191.9" cy="942.2" r="3.85" fill="#fbb296"/>
<circle cx="228.1" cy="889.6" r="3.5" fill="#fff3ee"/>
<circle cx="228.9" cy="951.3" r="3.85" fill="#fbb296"/>
<circle cx="161.3" cy="910.6" r="3.85" fill="#fbb296"/>
<circle cx="177.8" cy="888.8" r="3.85" fill="#fbb296"/>
<circle cx="164.5" cy="915.2" r="3.5" fill="#fff3ee"/>
<circle cx="191.5" cy="897.6" r="3.85" fill="#fbb296"/>
<circle cx="154.1" cy="911.2" r="3.85" fill="#fbb296"/>
<circle cx="208.4" cy="922.7" r="3.85" fill="#fbb296"/>
<circle cx="185.2" cy="861.7" r="3.85" fill="#fbb296"/>
<circle cx="185.4" cy="857.1" r="3.85" fill="#fbb296"/>
<circle cx="219.4" cy="942.5" r="3.5" fill="#fff3ee"/>
<circle cx="209.9" cy="938.2" r="3.5" fill="#fff3ee"/>
<circle cx="160" cy="830" r="3.85" fill="#fbb296"/>
<circle cx="175" cy="868.8" r="3.85" fill="#fbb296"/>
<circle cx="287.7" cy="908.3" r="3.85" fill="#fbb296"/>
<circle cx="200.3" cy="897.1" r="3.5" fill="#fff3ee"/>
<circle cx="184.2" cy="878.7" r="3.85" fill="#fbb296"/>
<circle cx="206.1" cy="908.3" r="3.85" fill="#fbb296"/>
<circle cx="215.7" cy="942" r="3.85" fill="#fbb296"/>
<circle cx="141.9" cy="904.3" r="3.5" fill="#fff3ee"/>
<circle cx="145.5" cy="898" r="3.5" fill="#fff3ee"/>
<circle cx="134.6" cy="929" r="3.5" fill="#fff3ee"/>
<circle cx="209.3" cy="933.4" r="3.85" fill="#fbb296"/>
<circle cx="202.5" cy="901" r="3.5" fill="#fff3ee"/>
<circle cx="185.9" cy="873.8" r="3.85" fill="#fbb296"/>
<circle cx="182.3" cy="927.7" r="3.5" fill="#fff3ee"/>
<circle cx="186.4" cy="849.1" r="4.3" fill="#ef4d35"/>
<circle cx="186" cy="894.4" r="3.85" fill="#fbb296"/>
<circle cx="206.9" cy="896.9" r="3.85" fill="#fbb296"/>
<circle cx="184.8" cy="905.6" r="3.85" fill="#fbb296"/>
<circle cx="160.6" cy="931.9" r="3.85" fill="#fbb296"/>
<circle cx="218.7" cy="891.4" r="3.85" fill="#fbb296"/>
<circle cx="189.7" cy="873.8" r="4.3" fill="#ef4d35"/>
<circle cx="218.4" cy="933.3" r="3.85" fill="#fbb296"/>
<circle cx="130" cy="884.3" r="3.85" fill="#fbb296"/>
<circle cx="210.8" cy="877.9" r="3.85" fill="#fbb296"/>
<circle cx="141" cy="848.5" r="3.85" fill="#fbb296"/>
<circle cx="226.1" cy="948.8" r="3.5" fill="#fff3ee"/>
<circle cx="168.7" cy="966.3" r="3.5" fill="#fff3ee"/>
<circle cx="155.2" cy="942.3" r="3.5" fill="#fff3ee"/>
<circle cx="188.4" cy="970" r="3.5" fill="#fff3ee"/>
<circle cx="200.2" cy="778.2" r="4.3" fill="#ef4d35"/>
<circle cx="204.8" cy="872" r="3.85" fill="#fbb296"/>
<circle cx="175.5" cy="890" r="3.85" fill="#fbb296"/>
<circle cx="135" cy="832" r="3.85" fill="#fbb296"/>
<circle cx="206.5" cy="855.9" r="3.85" fill="#fbb296"/>
<circle cx="126.9" cy="869.3" r="3.85" fill="#fbb296"/>
<circle cx="145.3" cy="893.3" r="3.5" fill="#fff3ee"/>
<circle cx="197.7" cy="893.1" r="4.3" fill="#ef4d35"/>
<circle cx="202.1" cy="943.2" r="3.5" fill="#fff3ee"/>
<circle cx="206.8" cy="865.4" r="3.85" fill="#fbb296"/>
<circle cx="155.6" cy="884.7" r="3.85" fill="#fbb296"/>
<circle cx="150.4" cy="927.9" r="3.5" fill="#fff3ee"/>
<circle cx="237.4" cy="900.2" r="3.85" fill="#fbb296"/>
<circle cx="80" cy="814.3" r="3.85" fill="#fbb296"/>
<circle cx="189.8" cy="889.9" r="4.3" fill="#ef4d35"/>
<circle cx="212.7" cy="942.7" r="3.85" fill="#fbb296"/>
<circle cx="118" cy="912.7" r="3.85" fill="#fbb296"/>
<circle cx="184.4" cy="963.4" r="3.5" fill="#fff3ee"/>
<circle cx="259.1" cy="935" r="3.85" fill="#fbb296"/>
<circle cx="151" cy="903.4" r="3.5" fill="#fff3ee"/>
<circle cx="255.4" cy="921.2" r="3.5" fill="#fff3ee"/>
<circle cx="225" cy="936.8" r="3.5" fill="#fff3ee"/>
<circle cx="247.3" cy="889.7" r="3.5" fill="#fff3ee"/>
<circle cx="81.1" cy="924.6" r="3.5" fill="#fff3ee"/>
<circle cx="174.1" cy="886.5" r="3.85" fill="#fbb296"/>
<circle cx="192.4" cy="886.6" r="3.5" fill="#fff3ee"/>
<circle cx="185.8" cy="871.4" r="3.85" fill="#fbb296"/>
<circle cx="180.8" cy="837.3" r="3.85" fill="#fbb296"/>
<circle cx="164.6" cy="889.5" r="3.5" fill="#fff3ee"/>
<circle cx="192.4" cy="900.1" r="3.5" fill="#fff3ee"/>
<circle cx="226.4" cy="898.5" r="3.85" fill="#fbb296"/>
<circle cx="160.8" cy="922.5" r="3.5" fill="#fff3ee"/>
<circle cx="176.9" cy="866.6" r="3.85" fill="#fbb296"/>
<circle cx="239.3" cy="926.9" r="3.85" fill="#fbb296"/>
<circle cx="221.8" cy="877.5" r="4.3" fill="#ef4d35"/>
<circle cx="254.8" cy="921.5" r="3.85" fill="#fbb296"/>
<circle cx="185.9" cy="930.9" r="3.5" fill="#fff3ee"/>
<circle cx="191.5" cy="899.6" r="3.5" fill="#fff3ee"/>
<circle cx="229.2" cy="876.6" r="3.85" fill="#fbb296"/>
<circle cx="246.9" cy="905.4" r="4.3" fill="#ef4d35"/>
<circle cx="186.4" cy="927.1" r="3.5" fill="#fff3ee"/>
<circle cx="190.1" cy="845.5" r="4.3" fill="#ef4d35"/>
<circle cx="171.9" cy="867.6" r="3.85" fill="#fbb296"/>
<circle cx="189.3" cy="912.7" r="3.85" fill="#fbb296"/>
<circle cx="178.7" cy="897.9" r="3.85" fill="#fbb296"/>
<circle cx="218.6" cy="903.1" r="3.85" fill="#fbb296"/>
<circle cx="192.6" cy="862.7" r="3.85" fill="#fbb296"/>
<circle cx="225.9" cy="881.6" r="3.85" fill="#fbb296"/>
<circle cx="134.3" cy="781" r="4.3" fill="#ef4d35"/>
<circle cx="135.2" cy="940.1" r="3.5" fill="#fff3ee"/>
<circle cx="238.4" cy="848.7" r="3.85" fill="#fbb296"/>
<circle cx="206.2" cy="901.6" r="3.5" fill="#fff3ee"/>
<circle cx="142.1" cy="935.5" r="3.5" fill="#fff3ee"/>
<circle cx="133.7" cy="892.8" r="3.5" fill="#fff3ee"/>
<circle cx="163" cy="872.5" r="3.5" fill="#fff3ee"/>
<circle cx="267" cy="893.7" r="3.5" fill="#fff3ee"/>
<circle cx="175.4" cy="839.5" r="4.3" fill="#ef4d35"/>
<circle cx="148.7" cy="867.3" r="3.85" fill="#fbb296"/>
<circle cx="209.1" cy="923.4" r="3.5" fill="#fff3ee"/>
<circle cx="165.3" cy="856.5" r="3.85" fill="#fbb296"/>
<circle cx="194.6" cy="885.2" r="3.85" fill="#fbb296"/>
<circle cx="191.7" cy="946.5" r="3.5" fill="#fff3ee"/>
<circle cx="183.6" cy="852.8" r="3.85" fill="#fbb296"/>
<circle cx="223" cy="886.6" r="3.85" fill="#fbb296"/>
<circle cx="243.1" cy="928.7" r="3.85" fill="#fbb296"/>
<circle cx="249.5" cy="852.7" r="3.85" fill="#fbb296"/>
<circle cx="169.7" cy="859.1" r="3.85" fill="#fbb296"/>
<circle cx="163.8" cy="923.7" r="3.5" fill="#fff3ee"/>
<circle cx="164.5" cy="934.6" r="3.5" fill="#fff3ee"/>
<circle cx="245.9" cy="870.1" r="3.5" fill="#fff3ee"/>
<circle cx="226.2" cy="925.6" r="3.85" fill="#fbb296"/>
<circle cx="184" cy="946.9" r="3.5" fill="#fff3ee"/>
<circle cx="132.2" cy="937.8" r="3.5" fill="#fff3ee"/>
<circle cx="195" cy="902.1" r="3.5" fill="#fff3ee"/>
<circle cx="173.1" cy="917.9" r="3.5" fill="#fff3ee"/>
<circle cx="190.4" cy="937.6" r="3.85" fill="#fbb296"/>
<circle cx="203.5" cy="924.6" r="3.5" fill="#fff3ee"/>
<circle cx="205.1" cy="945.2" r="3.5" fill="#fff3ee"/>
<circle cx="238.7" cy="886.8" r="3.85" fill="#fbb296"/>
<circle cx="195.6" cy="868.5" r="3.85" fill="#fbb296"/>
<circle cx="122.7" cy="927.5" r="3.5" fill="#fff3ee"/>
<circle cx="247.1" cy="904.5" r="3.85" fill="#fbb296"/>
<circle cx="152.3" cy="916.3" r="3.5" fill="#fff3ee"/>
<circle cx="192.6" cy="898" r="3.85" fill="#fbb296"/>
<circle cx="192.2" cy="922" r="3.85" fill="#fbb296"/>
<circle cx="159.4" cy="958.6" r="3.5" fill="#fff3ee"/>
<circle cx="230" cy="934.9" r="3.5" fill="#fff3ee"/>
<circle cx="189.1" cy="959.9" r="3.5" fill="#fff3ee"/>
<circle cx="186.9" cy="877.9" r="3.85" fill="#fbb296"/>
<circle cx="163.3" cy="876.8" r="3.5" fill="#fff3ee"/>
<circle cx="225.6" cy="889.6" r="3.85" fill="#fbb296"/>
<circle cx="104.3" cy="861.6" r="3.5" fill="#fff3ee"/>
<circle cx="212.3" cy="828.3" r="4.3" fill="#ef4d35"/>
<circle cx="187.2" cy="855.7" r="4.3" fill="#ef4d35"/>
<circle cx="252.9" cy="901" r="3.85" fill="#fbb296"/>
<circle cx="245.3" cy="884.4" r="3.85" fill="#fbb296"/>
<circle cx="272.5" cy="880.1" r="3.5" fill="#fff3ee"/>
<circle cx="150.9" cy="823" r="4.3" fill="#ef4d35"/>
<circle cx="202.5" cy="840.7" r="3.85" fill="#fbb296"/>
<circle cx="185.9" cy="887.8" r="3.85" fill="#fbb296"/>
<circle cx="146.2" cy="879.5" r="4.3" fill="#ef4d35"/>
<circle cx="164.9" cy="928.7" r="3.5" fill="#fff3ee"/>
<circle cx="227.4" cy="894" r="4.3" fill="#ef4d35"/>
<circle cx="204.2" cy="878.7" r="3.85" fill="#fbb296"/>
<circle cx="125.6" cy="924" r="3.85" fill="#fbb296"/>
<circle cx="196.8" cy="889.9" r="3.85" fill="#fbb296"/>
<circle cx="247.1" cy="891.5" r="3.85" fill="#fbb296"/>
<circle cx="185.3" cy="909.9" r="3.85" fill="#fbb296"/>
<circle cx="222.6" cy="982.6" r="3.5" fill="#fff3ee"/>
<circle cx="163.8" cy="905.3" r="3.85" fill="#fbb296"/>
<circle cx="150.3" cy="890.5" r="3.85" fill="#fbb296"/>
<circle cx="271.3" cy="922.1" r="3.5" fill="#fff3ee"/>
<circle cx="226.1" cy="878" r="3.85" fill="#fbb296"/>
<circle cx="215" cy="878.1" r="3.85" fill="#fbb296"/>
<circle cx="281.3" cy="897.1" r="3.85" fill="#fbb296"/>
<circle cx="221.5" cy="906.2" r="3.5" fill="#fff3ee"/>
<circle cx="179.4" cy="911.2" r="3.85" fill="#fbb296"/>
<circle cx="169.9" cy="853.1" r="3.5" fill="#fff3ee"/>
<circle cx="216.4" cy="905" r="3.85" fill="#fbb296"/>
<circle cx="265" cy="937.9" r="3.5" fill="#fff3ee"/>
<circle cx="167.6" cy="939.5" r="3.5" fill="#fff3ee"/>
<circle cx="147.1" cy="848.7" r="3.85" fill="#fbb296"/>
<circle cx="193.8" cy="892.6" r="3.85" fill="#fbb296"/>
<circle cx="272.6" cy="897.3" r="3.5" fill="#fff3ee"/>
<circle cx="241.5" cy="873.7" r="3.85" fill="#fbb296"/>
<circle cx="212.3" cy="885.1" r="3.85" fill="#fbb296"/>
<circle cx="154.9" cy="887.8" r="3.85" fill="#fbb296"/>
<circle cx="253.8" cy="895.9" r="3.85" fill="#fbb296"/>
<circle cx="198.6" cy="938.2" r="3.5" fill="#fff3ee"/>
<circle cx="135.5" cy="875.8" r="3.5" fill="#fff3ee"/>
<circle cx="125.9" cy="909" r="3.5" fill="#fff3ee"/>
<circle cx="138.9" cy="925" r="3.85" fill="#fbb296"/>
<circle cx="175.8" cy="934.9" r="3.5" fill="#fff3ee"/>
<circle cx="184.7" cy="913.8" r="3.5" fill="#fff3ee"/>
<circle cx="170.8" cy="941.9" r="3.5" fill="#fff3ee"/>
<circle cx="151.2" cy="894" r="3.85" fill="#fbb296"/>
<circle cx="174.6" cy="918.7" r="3.5" fill="#fff3ee"/>
<circle cx="160.3" cy="886.2" r="3.85" fill="#fbb296"/>
<circle cx="203.6" cy="889.2" r="4.3" fill="#ef4d35"/>
<circle cx="240.6" cy="909.7" r="3.85" fill="#fbb296"/>
<circle cx="145.3" cy="903.9" r="3.85" fill="#fbb296"/>
<circle cx="195.3" cy="894.5" r="3.85" fill="#fbb296"/>
<circle cx="200.7" cy="906" r="3.5" fill="#fff3ee"/>
<circle cx="192.3" cy="824.5" r="3.85" fill="#fbb296"/>
<circle cx="180.2" cy="889" r="3.85" fill="#fbb296"/>
<circle cx="184.7" cy="859.9" r="3.85" fill="#fbb296"/>
<circle cx="146.5" cy="932" r="3.5" fill="#fff3ee"/>
<circle cx="218.8" cy="886.7" r="3.85" fill="#fbb296"/>
<circle cx="168.8" cy="958.8" r="3.5" fill="#fff3ee"/>
<circle cx="229.4" cy="882.8" r="4.3" fill="#ef4d35"/>
<circle cx="180.2" cy="949.7" r="3.5" fill="#fff3ee"/>
<circle cx="167.6" cy="876.3" r="3.85" fill="#fbb296"/>
<circle cx="171.9" cy="920" r="3.5" fill="#fff3ee"/>
<circle cx="197.9" cy="949.2" r="3.5" fill="#fff3ee"/>
<circle cx="135.5" cy="894.3" r="3.5" fill="#fff3ee"/>
<circle cx="234.5" cy="901.3" r="3.85" fill="#fbb296"/>
<circle cx="227.8" cy="897.6" r="3.85" fill="#fbb296"/>
<circle cx="247" cy="923.4" r="3.85" fill="#fbb296"/>
<circle cx="268" cy="931.5" r="3.85" fill="#fbb296"/>
<circle cx="164.9" cy="920" r="3.5" fill="#fff3ee"/>
<circle cx="178.4" cy="935.2" r="3.85" fill="#fbb296"/>
<circle cx="166.2" cy="921.5" r="3.5" fill="#fff3ee"/>
<circle cx="218.6" cy="915.9" r="3.85" fill="#fbb296"/>
<circle cx="175.1" cy="874.6" r="3.85" fill="#fbb296"/>
<circle cx="148" cy="862.6" r="3.85" fill="#fbb296"/>
<circle cx="150.8" cy="939.8" r="3.5" fill="#fff3ee"/>
<circle cx="128.5" cy="884.2" r="3.85" fill="#fbb296"/>
<circle cx="246.4" cy="952.4" r="3.5" fill="#fff3ee"/>
<circle cx="237.9" cy="846.4" r="4.3" fill="#ef4d35"/>
<circle cx="197.1" cy="955.7" r="3.5" fill="#fff3ee"/>
<circle cx="192.1" cy="876.5" r="3.85" fill="#fbb296"/>
<circle cx="183.6" cy="960" r="3.85" fill="#fbb296"/>
<circle cx="149" cy="962.8" r="3.5" fill="#fff3ee"/>
<circle cx="210.2" cy="831.5" r="4.3" fill="#ef4d35"/>
<circle cx="137.7" cy="954.9" r="3.5" fill="#fff3ee"/>
<circle cx="165.7" cy="889.3" r="3.5" fill="#fff3ee"/>
<circle cx="163.8" cy="885.2" r="3.5" fill="#fff3ee"/>
<circle cx="201.2" cy="911.8" r="3.85" fill="#fbb296"/>
<circle cx="119.6" cy="940.2" r="3.5" fill="#fff3ee"/>
<circle cx="168" cy="945.7" r="3.5" fill="#fff3ee"/>
<circle cx="189.5" cy="912" r="3.5" fill="#fff3ee"/>
<circle cx="211.4" cy="907.3" r="3.85" fill="#fbb296"/>
<circle cx="248.8" cy="935.5" r="3.85" fill="#fbb296"/>
<circle cx="198.3" cy="836.8" r="3.85" fill="#fbb296"/>
<circle cx="239.2" cy="898.7" r="3.85" fill="#fbb296"/>
<circle cx="196" cy="883" r="3.85" fill="#fbb296"/>
<circle cx="162.6" cy="910.9" r="3.5" fill="#fff3ee"/>
<circle cx="221.1" cy="945" r="3.85" fill="#fbb296"/>
<circle cx="145.4" cy="864.7" r="3.85" fill="#fbb296"/>
<circle cx="199.7" cy="907.6" r="3.5" fill="#fff3ee"/>
<circle cx="162.6" cy="919.7" r="3.85" fill="#fbb296"/>
<circle cx="115.2" cy="918.6" r="3.5" fill="#fff3ee"/>
<circle cx="179.6" cy="907.3" r="3.5" fill="#fff3ee"/>
<circle cx="220.1" cy="833" r="4.3" fill="#ef4d35"/>
<circle cx="191.8" cy="917" r="3.85" fill="#fbb296"/>
<circle cx="247.7" cy="846.7" r="3.85" fill="#fbb296"/>
<circle cx="185.2" cy="898.9" r="3.85" fill="#fbb296"/>
<circle cx="183.2" cy="954.5" r="3.5" fill="#fff3ee"/>
<circle cx="162.7" cy="911" r="3.85" fill="#fbb296"/>
<circle cx="206.5" cy="891.3" r="3.85" fill="#fbb296"/>
<circle cx="130.2" cy="847.7" r="4.3" fill="#ef4d35"/>
<circle cx="197.3" cy="930.7" r="3.5" fill="#fff3ee"/>
<circle cx="175.3" cy="900.7" r="3.85" fill="#fbb296"/>
<circle cx="235.6" cy="931.3" r="3.85" fill="#fbb296"/>
<circle cx="172.1" cy="941" r="3.85" fill="#fbb296"/>
<circle cx="253.7" cy="856.2" r="3.85" fill="#fbb296"/>
<circle cx="154.1" cy="875.5" r="3.85" fill="#fbb296"/>
<circle cx="158.7" cy="934.3" r="3.5" fill="#fff3ee"/>
<circle cx="178.6" cy="943.9" r="3.85" fill="#fbb296"/>
<circle cx="195.1" cy="861.9" r="3.85" fill="#fbb296"/>
<circle cx="163" cy="931" r="3.85" fill="#fbb296"/>
<circle cx="242.2" cy="945.4" r="3.85" fill="#fbb296"/>
<circle cx="208.6" cy="974.2" r="3.5" fill="#fff3ee"/>
<circle cx="154.3" cy="954.5" r="3.5" fill="#fff3ee"/>
<circle cx="233.6" cy="956.2" r="3.5" fill="#fff3ee"/>
<circle cx="217.4" cy="942.9" r="3.5" fill="#fff3ee"/>
<circle cx="177.4" cy="886.5" r="3.85" fill="#fbb296"/>
<circle cx="254" cy="974.6" r="3.5" fill="#fff3ee"/>
<circle cx="203.8" cy="886.4" r="4.3" fill="#ef4d35"/>
<circle cx="217.4" cy="926.1" r="3.85" fill="#fbb296"/>
<circle cx="193.7" cy="925.1" r="3.5" fill="#fff3ee"/>
<circle cx="239.9" cy="912.5" r="3.5" fill="#fff3ee"/>
<circle cx="178" cy="922.2" r="3.85" fill="#fbb296"/>
<circle cx="194.8" cy="868.5" r="3.85" fill="#fbb296"/>
<circle cx="180.4" cy="906.9" r="3.85" fill="#fbb296"/>
<circle cx="160.9" cy="873.9" r="4.3" fill="#ef4d35"/>
<circle cx="267.5" cy="890.3" r="3.85" fill="#fbb296"/>
<circle cx="157.4" cy="892.8" r="3.85" fill="#fbb296"/>
<circle cx="199.5" cy="947.5" r="3.5" fill="#fff3ee"/>
<circle cx="131.4" cy="948.4" r="3.5" fill="#fff3ee"/>
<circle cx="149.2" cy="932.5" r="3.5" fill="#fff3ee"/>
<circle cx="129.4" cy="876.8" r="3.85" fill="#fbb296"/>
<circle cx="154.2" cy="852.8" r="4.3" fill="#ef4d35"/>
<circle cx="215.1" cy="902.8" r="3.85" fill="#fbb296"/>
<circle cx="216.6" cy="899.2" r="3.85" fill="#fbb296"/>
<circle cx="172.2" cy="964.4" r="3.5" fill="#fff3ee"/>
<circle cx="177.8" cy="874.9" r="3.85" fill="#fbb296"/>
<circle cx="146.7" cy="927.4" r="3.5" fill="#fff3ee"/>
<circle cx="183" cy="917.2" r="3.5" fill="#fff3ee"/>
<circle cx="205.8" cy="961.3" r="3.5" fill="#fff3ee"/>
<circle cx="201" cy="944" r="3.5" fill="#fff3ee"/>
<circle cx="229" cy="922.8" r="3.85" fill="#fbb296"/>
<circle cx="185.9" cy="878.2" r="3.5" fill="#fff3ee"/>
<circle cx="206.2" cy="911.1" r="3.5" fill="#fff3ee"/>
<circle cx="225.7" cy="860.1" r="3.5" fill="#fff3ee"/>
<circle cx="200.9" cy="901.6" r="3.85" fill="#fbb296"/>
<circle cx="119.8" cy="852.9" r="3.85" fill="#fbb296"/>
<circle cx="152.3" cy="888.1" r="3.85" fill="#fbb296"/>
<circle cx="165.6" cy="860.2" r="3.85" fill="#fbb296"/>
<circle cx="147.8" cy="910" r="3.85" fill="#fbb296"/>
<circle cx="221.2" cy="905.5" r="3.5" fill="#fff3ee"/>
<circle cx="135" cy="848.7" r="3.5" fill="#fff3ee"/>
<circle cx="187.2" cy="873.2" r="4.3" fill="#ef4d35"/>
<circle cx="134.4" cy="899.6" r="3.5" fill="#fff3ee"/>
<circle cx="162.5" cy="865" r="3.85" fill="#fbb296"/>
<circle cx="215.5" cy="939.9" r="3.5" fill="#fff3ee"/>
<circle cx="172" cy="891" r="3.85" fill="#fbb296"/>
<circle cx="139" cy="907.2" r="3.85" fill="#fbb296"/>
<circle cx="231.8" cy="954" r="3.5" fill="#fff3ee"/>
<circle cx="203.7" cy="859.7" r="3.5" fill="#fff3ee"/>
<circle cx="174.7" cy="891.9" r="3.85" fill="#fbb296"/>
<circle cx="155.3" cy="909.1" r="3.85" fill="#fbb296"/>
<circle cx="163" cy="844.7" r="3.85" fill="#fbb296"/>
<circle cx="190.1" cy="890.6" r="3.85" fill="#fbb296"/>
<circle cx="272.4" cy="952.4" r="3.5" fill="#fff3ee"/>
<circle cx="165" cy="826" r="4.3" fill="#ef4d35"/>
<circle cx="162.7" cy="917.4" r="3.5" fill="#fff3ee"/>
<circle cx="155.9" cy="900.7" r="3.85" fill="#fbb296"/>
<circle cx="153.8" cy="903.6" r="3.5" fill="#fff3ee"/>
<circle cx="191.7" cy="885.4" r="3.85" fill="#fbb296"/>
<circle cx="237" cy="951.3" r="3.85" fill="#fbb296"/>
<circle cx="147.6" cy="898" r="3.5" fill="#fff3ee"/>
<circle cx="207.2" cy="892.3" r="3.85" fill="#fbb296"/>
<circle cx="151.2" cy="841" r="3.85" fill="#fbb296"/>
<circle cx="185" cy="875.3" r="3.85" fill="#fbb296"/>
<circle cx="179.3" cy="883.4" r="3.85" fill="#fbb296"/>
<circle cx="211.5" cy="906.4" r="3.5" fill="#fff3ee"/>
<circle cx="113.5" cy="945" r="3.5" fill="#fff3ee"/>
<circle cx="174.4" cy="904.6" r="3.85" fill="#fbb296"/>
<circle cx="216.8" cy="901.3" r="3.5" fill="#fff3ee"/>
<circle cx="239.6" cy="911.6" r="3.85" fill="#fbb296"/>
<circle cx="196.8" cy="905.5" r="3.5" fill="#fff3ee"/>
<circle cx="212.4" cy="875.5" r="3.5" fill="#fff3ee"/>
<circle cx="197.7" cy="906.8" r="3.5" fill="#fff3ee"/>
<circle cx="171.1" cy="929.6" r="3.5" fill="#fff3ee"/>
<circle cx="224.2" cy="900.2" r="3.5" fill="#fff3ee"/>
<circle cx="227.1" cy="918.5" r="3.85" fill="#fbb296"/>
<circle cx="213.2" cy="867.3" r="4.3" fill="#ef4d35"/>
<circle cx="223.2" cy="876.3" r="3.85" fill="#fbb296"/>
<circle cx="223.8" cy="885.2" r="3.85" fill="#fbb296"/>
<circle cx="182.4" cy="896.4" r="3.85" fill="#fbb296"/>
<circle cx="211.8" cy="894.2" r="3.85" fill="#fbb296"/>
<circle cx="203.7" cy="861" r="3.85" fill="#fbb296"/>
<circle cx="246.8" cy="877.4" r="3.85" fill="#fbb296"/>
<circle cx="186.5" cy="934.6" r="3.5" fill="#fff3ee"/>
<circle cx="192.6" cy="884.3" r="3.85" fill="#fbb296"/>
<circle cx="235.9" cy="937.4" r="3.5" fill="#fff3ee"/>
<circle cx="154.4" cy="905.2" r="3.85" fill="#fbb296"/>
<circle cx="136.3" cy="838" r="4.3" fill="#ef4d35"/>
<circle cx="167.1" cy="903.3" r="3.85" fill="#fbb296"/>
<circle cx="215.1" cy="899.1" r="4.3" fill="#ef4d35"/>
<circle cx="192.1" cy="930.8" r="3.5" fill="#fff3ee"/>
<circle cx="154.3" cy="907.4" r="3.5" fill="#fff3ee"/>
<circle cx="195.8" cy="863.1" r="3.85" fill="#fbb296"/>
<circle cx="168" cy="912.9" r="3.85" fill="#fbb296"/>
<circle cx="199.9" cy="914.5" r="3.85" fill="#fbb296"/>
<circle cx="243.8" cy="918.9" r="3.5" fill="#fff3ee"/>
<circle cx="196.9" cy="966.2" r="3.5" fill="#fff3ee"/>
<circle cx="218.2" cy="925.6" r="3.85" fill="#fbb296"/>
<circle cx="242.9" cy="889" r="3.85" fill="#fbb296"/>
<circle cx="239" cy="871.7" r="4.3" fill="#ef4d35"/>
<circle cx="233.1" cy="885" r="3.85" fill="#fbb296"/>
<circle cx="168.2" cy="886" r="3.85" fill="#fbb296"/>
<circle cx="150.1" cy="945.8" r="3.85" fill="#fbb296"/>
<circle cx="97.8" cy="886.6" r="3.85" fill="#fbb296"/>
<circle cx="163" cy="897.1" r="3.85" fill="#fbb296"/>
<circle cx="198.3" cy="878" r="3.5" fill="#fff3ee"/>
<circle cx="196.3" cy="928.7" r="3.5" fill="#fff3ee"/>
<circle cx="211.7" cy="980.8" r="3.5" fill="#fff3ee"/>
<circle cx="119.3" cy="887.2" r="3.5" fill="#fff3ee"/>
<circle cx="185.4" cy="873.8" r="3.5" fill="#fff3ee"/>
<circle cx="136.8" cy="897.2" r="3.85" fill="#fbb296"/>
<circle cx="213.9" cy="882.4" r="3.85" fill="#fbb296"/>
<circle cx="154.7" cy="903.5" r="3.85" fill="#fbb296"/>
<circle cx="239.5" cy="876.9" r="3.85" fill="#fbb296"/>
<circle cx="231.2" cy="889.2" r="3.85" fill="#fbb296"/>
<circle cx="201.7" cy="922.7" r="3.85" fill="#fbb296"/>
<circle cx="198.1" cy="889.8" r="3.85" fill="#fbb296"/>
<circle cx="148.6" cy="873.9" r="3.85" fill="#fbb296"/>
<circle cx="223.2" cy="889.5" r="3.5" fill="#fff3ee"/>
<circle cx="183.6" cy="918.7" r="3.85" fill="#fbb296"/>
<circle cx="203.1" cy="933.8" r="3.5" fill="#fff3ee"/>
<circle cx="265.1" cy="924.7" r="3.85" fill="#fbb296"/>
<circle cx="183.8" cy="879.4" r="3.85" fill="#fbb296"/>
<circle cx="279.7" cy="949.7" r="3.5" fill="#fff3ee"/>
<circle cx="209" cy="856.8" r="4.3" fill="#ef4d35"/>
<circle cx="201.2" cy="894.4" r="3.85" fill="#fbb296"/>
<circle cx="270.6" cy="917.1" r="3.85" fill="#fbb296"/>
<circle cx="138.1" cy="894.1" r="3.85" fill="#fbb296"/>
<circle cx="96.4" cy="923.5" r="3.5" fill="#fff3ee"/>
<circle cx="222.8" cy="878.6" r="3.5" fill="#fff3ee"/>
<circle cx="232.6" cy="885.8" r="3.85" fill="#fbb296"/>
<circle cx="172.4" cy="874.1" r="3.85" fill="#fbb296"/>
<circle cx="211.6" cy="873.8" r="4.3" fill="#ef4d35"/>
<circle cx="189" cy="854.8" r="4.3" fill="#ef4d35"/>
<circle cx="175.8" cy="909.5" r="3.85" fill="#fbb296"/>
<circle cx="166.1" cy="914.3" r="3.85" fill="#fbb296"/>
<circle cx="215.6" cy="913.1" r="3.85" fill="#fbb296"/>
<circle cx="244.7" cy="885.9" r="3.85" fill="#fbb296"/>
<circle cx="215.2" cy="864.3" r="3.85" fill="#fbb296"/>
<circle cx="220.8" cy="941.1" r="3.5" fill="#fff3ee"/>
<circle cx="139.1" cy="862.1" r="3.85" fill="#fbb296"/>
<circle cx="160.8" cy="940.1" r="3.5" fill="#fff3ee"/>
<circle cx="186.4" cy="937.6" r="3.85" fill="#fbb296"/>
<circle cx="212.4" cy="934.2" r="3.5" fill="#fff3ee"/>
<circle cx="193" cy="943.8" r="3.5" fill="#fff3ee"/>
<circle cx="157.4" cy="919.6" r="3.85" fill="#fbb296"/>
<circle cx="191" cy="867.3" r="3.85" fill="#fbb296"/>
<circle cx="178.6" cy="884.2" r="3.5" fill="#fff3ee"/>
<circle cx="215.1" cy="878.7" r="3.85" fill="#fbb296"/>
<circle cx="124.6" cy="907.9" r="3.85" fill="#fbb296"/>
<circle cx="217.8" cy="874.7" r="4.3" fill="#ef4d35"/>
<circle cx="202.4" cy="896.5" r="3.85" fill="#fbb296"/>
<circle cx="200.7" cy="898.5" r="3.85" fill="#fbb296"/>
<circle cx="194.9" cy="937" r="3.85" fill="#fbb296"/>
<circle cx="168.5" cy="891.8" r="3.85" fill="#fbb296"/>
<circle cx="269.8" cy="935.8" r="3.85" fill="#fbb296"/>
<circle cx="146" cy="820.2" r="4.3" fill="#ef4d35"/>
<circle cx="179.4" cy="881.9" r="3.85" fill="#fbb296"/>
<circle cx="244.9" cy="911.2" r="3.85" fill="#fbb296"/>
<circle cx="91.2" cy="855.3" r="3.5" fill="#fff3ee"/>
<circle cx="173.5" cy="972.8" r="3.5" fill="#fff3ee"/>
<circle cx="213" cy="837.3" r="4.3" fill="#ef4d35"/>
<circle cx="238.9" cy="888.5" r="3.85" fill="#fbb296"/>
<circle cx="187.1" cy="906.7" r="3.85" fill="#fbb296"/>
<circle cx="224.4" cy="878.2" r="3.85" fill="#fbb296"/>
<circle cx="257.2" cy="939" r="3.5" fill="#fff3ee"/>
<circle cx="172.6" cy="962.1" r="3.85" fill="#fbb296"/>
<circle cx="184.7" cy="936.7" r="3.85" fill="#fbb296"/>
<circle cx="180.7" cy="927.1" r="3.5" fill="#fff3ee"/>
<circle cx="193.3" cy="815" r="4.3" fill="#ef4d35"/>
<circle cx="259.9" cy="880.1" r="3.85" fill="#fbb296"/>
<circle cx="251.6" cy="872.7" r="3.85" fill="#fbb296"/>
<circle cx="253" cy="919.8" r="3.5" fill="#fff3ee"/>
<circle cx="245.5" cy="883.2" r="3.85" fill="#fbb296"/>
<circle cx="186.1" cy="916.8" r="3.5" fill="#fff3ee"/>
<circle cx="212.7" cy="855.9" r="3.85" fill="#fbb296"/>
<circle cx="166.4" cy="899" r="3.5" fill="#fff3ee"/>
<circle cx="212.8" cy="906.1" r="3.85" fill="#fbb296"/>
<circle cx="169" cy="878.2" r="3.85" fill="#fbb296"/>
<circle cx="211.2" cy="914.6" r="3.85" fill="#fbb296"/>
<circle cx="233.6" cy="940.9" r="3.5" fill="#fff3ee"/>
<circle cx="187.4" cy="903.6" r="3.85" fill="#fbb296"/>
<circle cx="150.9" cy="924.1" r="3.5" fill="#fff3ee"/>
<circle cx="195.5" cy="891.7" r="3.85" fill="#fbb296"/>
<circle cx="112.8" cy="913.7" r="3.85" fill="#fbb296"/>
<circle cx="175.6" cy="857" r="3.85" fill="#fbb296"/>
<circle cx="163.1" cy="884.5" r="3.5" fill="#fff3ee"/>
<circle cx="218.7" cy="904.7" r="3.85" fill="#fbb296"/>
<circle cx="228.2" cy="896.7" r="3.85" fill="#fbb296"/>
<circle cx="270" cy="910.9" r="3.85" fill="#fbb296"/>
<circle cx="176.4" cy="969.3" r="3.85" fill="#fbb296"/>
<circle cx="178" cy="871.4" r="3.85" fill="#fbb296"/>
<circle cx="81.4" cy="890.2" r="3.5" fill="#fff3ee"/>
<circle cx="123.3" cy="920" r="3.85" fill="#fbb296"/>
<circle cx="112.6" cy="864" r="3.85" fill="#fbb296"/>
<circle cx="197" cy="887.7" r="3.85" fill="#fbb296"/>
<circle cx="245.1" cy="875.2" r="4.3" fill="#ef4d35"/>
<circle cx="161.8" cy="929" r="3.5" fill="#fff3ee"/>
<circle cx="124.8" cy="916" r="3.5" fill="#fff3ee"/>
<circle cx="172.3" cy="877.2" r="3.85" fill="#fbb296"/>
<circle cx="145.9" cy="899.9" r="3.5" fill="#fff3ee"/>
<circle cx="166.2" cy="905.1" r="3.85" fill="#fbb296"/>
<circle cx="147.9" cy="908.2" r="3.5" fill="#fff3ee"/>
<circle cx="161.3" cy="870.7" r="3.85" fill="#fbb296"/>
<circle cx="170.7" cy="951.6" r="3.5" fill="#fff3ee"/>
<circle cx="179.8" cy="893.1" r="3.85" fill="#fbb296"/>
<circle cx="227.3" cy="863.7" r="3.85" fill="#fbb296"/>
<circle cx="194.3" cy="933.1" r="3.85" fill="#fbb296"/>
<circle cx="171.6" cy="884.2" r="3.5" fill="#fff3ee"/>
<circle cx="226.1" cy="921.9" r="3.85" fill="#fbb296"/>
<circle cx="133.5" cy="890.7" r="3.85" fill="#fbb296"/>
<circle cx="175.8" cy="924.8" r="4.3" fill="#ef4d35"/>
<circle cx="162.3" cy="910.1" r="3.5" fill="#fff3ee"/>
<circle cx="147.3" cy="860.3" r="3.85" fill="#fbb296"/>
<circle cx="202.1" cy="943.1" r="3.5" fill="#fff3ee"/>
<circle cx="157.6" cy="982.9" r="3.5" fill="#fff3ee"/>
<circle cx="136" cy="884.7" r="3.85" fill="#fbb296"/>
<circle cx="235.6" cy="934.8" r="3.5" fill="#fff3ee"/>
<circle cx="190.8" cy="890.4" r="3.85" fill="#fbb296"/>
<circle cx="162.8" cy="897.6" r="3.5" fill="#fff3ee"/>
<circle cx="181.3" cy="895.3" r="3.85" fill="#fbb296"/>
<circle cx="202.6" cy="820.5" r="4.3" fill="#ef4d35"/>
<circle cx="189.6" cy="917.2" r="3.5" fill="#fff3ee"/>
<circle cx="136.3" cy="903.8" r="3.5" fill="#fff3ee"/>
<circle cx="253.2" cy="933.7" r="3.5" fill="#fff3ee"/>
<circle cx="172.8" cy="953.4" r="3.5" fill="#fff3ee"/>
<circle cx="246.2" cy="870.6" r="4.3" fill="#ef4d35"/>
<circle cx="251.6" cy="940.3" r="3.5" fill="#fff3ee"/>
<circle cx="256.9" cy="917.7" r="3.5" fill="#fff3ee"/>
<circle cx="178" cy="888.2" r="3.85" fill="#fbb296"/>
<circle cx="210.3" cy="880.4" r="3.85" fill="#fbb296"/>
<circle cx="277.8" cy="931.5" r="3.85" fill="#fbb296"/>
<circle cx="237.3" cy="916.9" r="3.85" fill="#fbb296"/>
<circle cx="121.2" cy="921.7" r="3.5" fill="#fff3ee"/>
<circle cx="191" cy="943.4" r="3.5" fill="#fff3ee"/>
<circle cx="257.6" cy="881.8" r="3.85" fill="#fbb296"/>
<circle cx="179.7" cy="902.3" r="3.5" fill="#fff3ee"/>
<circle cx="193.6" cy="947" r="3.85" fill="#fbb296"/>
<circle cx="103.3" cy="894.9" r="3.85" fill="#fbb296"/>
<circle cx="230.9" cy="860.6" r="3.85" fill="#fbb296"/>
<circle cx="147.3" cy="827.4" r="3.85" fill="#fbb296"/>
<circle cx="157.8" cy="804.4" r="4.3" fill="#ef4d35"/>
<circle cx="191.4" cy="903.8" r="3.85" fill="#fbb296"/>
<circle cx="162.3" cy="950.4" r="3.5" fill="#fff3ee"/>
<circle cx="214.5" cy="938.8" r="3.5" fill="#fff3ee"/>
<circle cx="242.2" cy="890.5" r="3.85" fill="#fbb296"/>
<circle cx="137.5" cy="919" r="3.85" fill="#fbb296"/>
<circle cx="203.7" cy="890.3" r="3.85" fill="#fbb296"/>
<circle cx="237.3" cy="882.6" r="4.3" fill="#ef4d35"/>
<circle cx="224.1" cy="925.3" r="3.5" fill="#fff3ee"/>
<circle cx="200.4" cy="939.6" r="3.5" fill="#fff3ee"/>
<circle cx="183.8" cy="881.8" r="3.5" fill="#fff3ee"/>
<circle cx="135.3" cy="897.9" r="3.85" fill="#fbb296"/>
<circle cx="198.9" cy="927.6" r="3.5" fill="#fff3ee"/>
<circle cx="161.5" cy="946.5" r="3.5" fill="#fff3ee"/>
<circle cx="192.1" cy="822.4" r="4.3" fill="#ef4d35"/>
<circle cx="152.9" cy="933.7" r="3.5" fill="#fff3ee"/>
<circle cx="163.9" cy="886.1" r="3.85" fill="#fbb296"/>
<circle cx="144.8" cy="890.1" r="3.85" fill="#fbb296"/>
<circle cx="189.2" cy="908.8" r="3.85" fill="#fbb296"/>
<circle cx="193" cy="908.1" r="3.85" fill="#fbb296"/>
<circle cx="231" cy="907.4" r="3.85" fill="#fbb296"/>
<circle cx="165" cy="917.8" r="3.5" fill="#fff3ee"/>
<circle cx="176.1" cy="918.5" r="3.5" fill="#fff3ee"/>
<circle cx="159.7" cy="899.4" r="3.5" fill="#fff3ee"/>
<circle cx="162.8" cy="916.3" r="3.5" fill="#fff3ee"/>
<circle cx="151.3" cy="862.2" r="3.85" fill="#fbb296"/>
<circle cx="205.4" cy="867" r="4.3" fill="#ef4d35"/>
<circle cx="153.4" cy="861.9" r="3.85" fill="#fbb296"/>
<circle cx="112.5" cy="878.3" r="3.85" fill="#fbb296"/>
<circle cx="229.6" cy="915.2" r="3.85" fill="#fbb296"/>
<circle cx="112.2" cy="885.5" r="3.85" fill="#fbb296"/>
<circle cx="202" cy="885.9" r="3.85" fill="#fbb296"/>
<circle cx="158.5" cy="911.5" r="3.85" fill="#fbb296"/>
<circle cx="165" cy="919" r="3.85" fill="#fbb296"/>
<circle cx="201.4" cy="877.1" r="3.85" fill="#fbb296"/>
<circle cx="209.8" cy="872.9" r="3.5" fill="#fff3ee"/>
<circle cx="196.4" cy="953.1" r="3.5" fill="#fff3ee"/>
<circle cx="135.4" cy="836.3" r="3.85" fill="#fbb296"/>
<circle cx="154.9" cy="899.8" r="3.85" fill="#fbb296"/>
<circle cx="197.9" cy="939.8" r="3.85" fill="#fbb296"/>
<circle cx="213.3" cy="878.1" r="3.85" fill="#fbb296"/>
<circle cx="222.1" cy="893.7" r="3.5" fill="#fff3ee"/>
<circle cx="224.3" cy="965.1" r="3.5" fill="#fff3ee"/>
<circle cx="177.8" cy="895.7" r="3.5" fill="#fff3ee"/>
<circle cx="153" cy="909.8" r="3.85" fill="#fbb296"/>
<circle cx="152.8" cy="869.7" r="4.3" fill="#ef4d35"/>
<circle cx="191.4" cy="959.9" r="3.5" fill="#fff3ee"/>
<circle cx="185.7" cy="929.3" r="3.85" fill="#fbb296"/>
<circle cx="175.7" cy="857.9" r="4.3" fill="#ef4d35"/>
<circle cx="274.9" cy="905.3" r="3.85" fill="#fbb296"/>
<circle cx="205.9" cy="957.4" r="3.85" fill="#fbb296"/>
<circle cx="241.9" cy="869.5" r="3.5" fill="#fff3ee"/>
<circle cx="152.8" cy="832.6" r="3.85" fill="#fbb296"/>
<circle cx="180.8" cy="888.4" r="3.5" fill="#fff3ee"/>
<circle cx="159.9" cy="924.7" r="3.5" fill="#fff3ee"/>
<circle cx="205.1" cy="959.2" r="3.85" fill="#fbb296"/>
<circle cx="142.4" cy="883.4" r="3.85" fill="#fbb296"/>
<circle cx="162.4" cy="883.1" r="3.5" fill="#fff3ee"/>
<circle cx="172.1" cy="884.5" r="3.85" fill="#fbb296"/>
<circle cx="137.1" cy="922.3" r="3.85" fill="#fbb296"/>
<circle cx="182.6" cy="891.3" r="3.85" fill="#fbb296"/>
<circle cx="192.1" cy="890.4" r="3.85" fill="#fbb296"/>
<circle cx="130.8" cy="957.1" r="3.5" fill="#fff3ee"/>
<circle cx="119.1" cy="894.4" r="3.85" fill="#fbb296"/>
<circle cx="222.2" cy="899.3" r="3.5" fill="#fff3ee"/>
<circle cx="218.8" cy="952.6" r="3.85" fill="#fbb296"/>
<circle cx="208.8" cy="906.7" r="3.85" fill="#fbb296"/>
<circle cx="189.9" cy="929.7" r="3.85" fill="#fbb296"/>
<circle cx="259.1" cy="893" r="4.3" fill="#ef4d35"/>
<circle cx="205.8" cy="882.2" r="3.85" fill="#fbb296"/>
<circle cx="206.7" cy="951.7" r="3.5" fill="#fff3ee"/>
<circle cx="188.8" cy="930.4" r="3.5" fill="#fff3ee"/>
<circle cx="226.6" cy="897.6" r="3.5" fill="#fff3ee"/>
<circle cx="194.9" cy="886.2" r="3.5" fill="#fff3ee"/>
<circle cx="243.3" cy="908.4" r="3.5" fill="#fff3ee"/>
<circle cx="194.5" cy="936.8" r="3.5" fill="#fff3ee"/>
<circle cx="177.3" cy="859" r="3.85" fill="#fbb296"/>
<circle cx="222.1" cy="877.7" r="3.5" fill="#fff3ee"/>
<circle cx="227.5" cy="838.1" r="4.3" fill="#ef4d35"/>
<circle cx="195.8" cy="962.8" r="3.85" fill="#fbb296"/>
<circle cx="221.4" cy="896.1" r="3.85" fill="#fbb296"/>
<circle cx="262.6" cy="893" r="4.3" fill="#ef4d35"/>
<circle cx="138.9" cy="868.7" r="3.85" fill="#fbb296"/>
<circle cx="110" cy="928.5" r="3.5" fill="#fff3ee"/>
<circle cx="177.6" cy="847.6" r="3.85" fill="#fbb296"/>
<circle cx="126.4" cy="912.4" r="3.85" fill="#fbb296"/>
<circle cx="206.1" cy="923.1" r="3.85" fill="#fbb296"/>
<circle cx="173" cy="922.5" r="3.5" fill="#fff3ee"/>
<circle cx="267.3" cy="930.3" r="3.85" fill="#fbb296"/>
<circle cx="130.8" cy="928.4" r="3.5" fill="#fff3ee"/>
<circle cx="173.8" cy="927.7" r="3.85" fill="#fbb296"/>
<circle cx="176" cy="913.5" r="3.5" fill="#fff3ee"/>
<circle cx="181.1" cy="949.2" r="3.5" fill="#fff3ee"/>
<circle cx="127.9" cy="897.6" r="3.85" fill="#fbb296"/>
<circle cx="245.1" cy="842.8" r="3.85" fill="#fbb296"/>
<circle cx="185" cy="833" r="3.85" fill="#fbb296"/>
<circle cx="176.6" cy="973.9" r="3.5" fill="#fff3ee"/>
<circle cx="234.3" cy="876.3" r="3.85" fill="#fbb296"/>
<circle cx="208.4" cy="929" r="3.85" fill="#fbb296"/>
<circle cx="190" cy="826" r="4.3" fill="#ef4d35"/>
<circle cx="205.9" cy="948.3" r="3.5" fill="#fff3ee"/>
<circle cx="212" cy="895.2" r="3.85" fill="#fbb296"/>
<circle cx="197.7" cy="955.4" r="3.5" fill="#fff3ee"/>
<circle cx="168.7" cy="908" r="3.85" fill="#fbb296"/>
<circle cx="169.5" cy="865.1" r="4.3" fill="#ef4d35"/>
<circle cx="157.2" cy="859.8" r="3.85" fill="#fbb296"/>
<circle cx="245.9" cy="850.6" r="3.85" fill="#fbb296"/>
<circle cx="203.1" cy="937.9" r="3.5" fill="#fff3ee"/>
<circle cx="147" cy="898.2" r="3.85" fill="#fbb296"/>
<circle cx="208.1" cy="881.6" r="3.85" fill="#fbb296"/>
<circle cx="194.6" cy="938.7" r="3.5" fill="#fff3ee"/>
<circle cx="178.3" cy="877.4" r="3.85" fill="#fbb296"/>
<circle cx="255.8" cy="932.9" r="3.5" fill="#fff3ee"/>
<circle cx="205.4" cy="941.9" r="3.85" fill="#fbb296"/>
<circle cx="216" cy="868.7" r="3.85" fill="#fbb296"/>
<circle cx="182.4" cy="971" r="3.5" fill="#fff3ee"/>
<circle cx="181.2" cy="911.7" r="3.5" fill="#fff3ee"/>
<circle cx="208.7" cy="885.1" r="3.85" fill="#fbb296"/>
<circle cx="199.8" cy="901.9" r="3.85" fill="#fbb296"/>
<circle cx="235.9" cy="871.2" r="4.3" fill="#ef4d35"/>
<circle cx="122.9" cy="878.6" r="3.85" fill="#fbb296"/>
<circle cx="142.5" cy="923.4" r="3.85" fill="#fbb296"/>
<circle cx="222.1" cy="867.8" r="3.5" fill="#fff3ee"/>
<circle cx="184.1" cy="905.1" r="3.85" fill="#fbb296"/>
<circle cx="152.1" cy="891.9" r="3.85" fill="#fbb296"/>
<circle cx="162.7" cy="926.3" r="3.5" fill="#fff3ee"/>
<circle cx="189" cy="876.8" r="4.3" fill="#ef4d35"/>
<circle cx="209.2" cy="949.3" r="3.5" fill="#fff3ee"/>
<circle cx="244.2" cy="887" r="3.85" fill="#fbb296"/>
<circle cx="209" cy="924.4" r="3.5" fill="#fff3ee"/>
<circle cx="170.5" cy="833.1" r="4.3" fill="#ef4d35"/>
<circle cx="212.5" cy="917.7" r="3.85" fill="#fbb296"/>
<circle cx="192.8" cy="922.5" r="3.5" fill="#fff3ee"/>
<circle cx="161.6" cy="922.6" r="3.5" fill="#fff3ee"/>
<circle cx="172.8" cy="874.8" r="3.85" fill="#fbb296"/>
<circle cx="183" cy="940.1" r="3.85" fill="#fbb296"/>
<circle cx="203.1" cy="910.3" r="3.5" fill="#fff3ee"/>
<circle cx="257.7" cy="873" r="3.5" fill="#fff3ee"/>
<circle cx="185.2" cy="947.9" r="3.85" fill="#fbb296"/>
<circle cx="205.7" cy="968.5" r="3.5" fill="#fff3ee"/>
<circle cx="162.5" cy="887.6" r="4.3" fill="#ef4d35"/>
<circle cx="154" cy="937.5" r="3.5" fill="#fff3ee"/>
<circle cx="220.3" cy="957.8" r="3.5" fill="#fff3ee"/>
<circle cx="137.7" cy="840.2" r="3.85" fill="#fbb296"/>
<circle cx="179.2" cy="850" r="4.3" fill="#ef4d35"/>
<circle cx="216.7" cy="954.6" r="3.5" fill="#fff3ee"/>
<circle cx="202.2" cy="880.5" r="3.85" fill="#fbb296"/>
<circle cx="256.3" cy="915.9" r="3.5" fill="#fff3ee"/>
<circle cx="215.2" cy="916.8" r="3.85" fill="#fbb296"/>
<circle cx="151.1" cy="884.6" r="3.85" fill="#fbb296"/>
<circle cx="116.7" cy="895" r="3.85" fill="#fbb296"/>
<circle cx="251.9" cy="932.4" r="3.85" fill="#fbb296"/>
<circle cx="213.2" cy="969.6" r="3.5" fill="#fff3ee"/>
<circle cx="218.4" cy="895.5" r="3.85" fill="#fbb296"/>
<circle cx="206.9" cy="958.6" r="3.5" fill="#fff3ee"/>
<circle cx="246.1" cy="955.9" r="3.85" fill="#fbb296"/>
<circle cx="206.3" cy="937.8" r="3.85" fill="#fbb296"/>
<circle cx="196.4" cy="935.6" r="3.85" fill="#fbb296"/>
<circle cx="204.8" cy="961" r="3.85" fill="#fbb296"/>
<circle cx="185.4" cy="887.1" r="3.85" fill="#fbb296"/>
<circle cx="196.8" cy="852.1" r="3.85" fill="#fbb296"/>
<circle cx="205.2" cy="880.8" r="4.3" fill="#ef4d35"/>
<circle cx="155.2" cy="843.1" r="3.85" fill="#fbb296"/>
<circle cx="180.3" cy="917.3" r="3.85" fill="#fbb296"/>
<circle cx="196.3" cy="886.5" r="3.85" fill="#fbb296"/>
<circle cx="197" cy="878.9" r="3.85" fill="#fbb296"/>
<circle cx="187.7" cy="925.6" r="3.5" fill="#fff3ee"/>
<circle cx="95.9" cy="892.5" r="3.5" fill="#fff3ee"/>
<circle cx="161" cy="859.4" r="3.85" fill="#fbb296"/>
<circle cx="200.4" cy="919.7" r="3.5" fill="#fff3ee"/>
<circle cx="131.9" cy="915.9" r="3.85" fill="#fbb296"/>
<circle cx="245.1" cy="915" r="3.5" fill="#fff3ee"/>
<circle cx="234.7" cy="870.6" r="3.85" fill="#fbb296"/>
<circle cx="182.8" cy="925.9" r="3.5" fill="#fff3ee"/>
<circle cx="245" cy="870" r="3.5" fill="#fff3ee"/>
<circle cx="151" cy="905.3" r="3.5" fill="#fff3ee"/>
<circle cx="253.6" cy="973.3" r="3.5" fill="#fff3ee"/>
<circle cx="212.8" cy="959" r="3.85" fill="#fbb296"/>
<circle cx="185.3" cy="899" r="3.5" fill="#fff3ee"/>
<circle cx="209.6" cy="889.4" r="3.5" fill="#fff3ee"/>
<circle cx="213.7" cy="858.4" r="4.3" fill="#ef4d35"/>
<circle cx="118.6" cy="844.3" r="4.3" fill="#ef4d35"/>
<circle cx="109.2" cy="931.8" r="3.5" fill="#fff3ee"/>
<circle cx="162.9" cy="894.6" r="3.85" fill="#fbb296"/>
<circle cx="133.3" cy="855.5" r="3.85" fill="#fbb296"/>
<circle cx="161.2" cy="897.8" r="3.85" fill="#fbb296"/>
<circle cx="261.7" cy="935.5" r="3.5" fill="#fff3ee"/>
<circle cx="183.5" cy="898.8" r="3.85" fill="#fbb296"/>
<circle cx="157.1" cy="878.7" r="3.5" fill="#fff3ee"/>
<circle cx="167.1" cy="917.6" r="3.85" fill="#fbb296"/>
<circle cx="197.6" cy="835" r="4.3" fill="#ef4d35"/>
<circle cx="234.2" cy="882.5" r="3.85" fill="#fbb296"/>
<circle cx="185.9" cy="911.2" r="3.85" fill="#fbb296"/>
<circle cx="216.8" cy="962.3" r="3.85" fill="#fbb296"/>
<circle cx="173.8" cy="895.6" r="3.5" fill="#fff3ee"/>
<circle cx="114.7" cy="862.3" r="3.85" fill="#fbb296"/>
<circle cx="134.1" cy="889.9" r="3.85" fill="#fbb296"/>
<circle cx="187" cy="945.1" r="3.5" fill="#fff3ee"/>
<circle cx="138.3" cy="857.8" r="3.5" fill="#fff3ee"/>
<circle cx="145.9" cy="940" r="3.5" fill="#fff3ee"/>
<circle cx="205.2" cy="833.7" r="3.85" fill="#fbb296"/>
<circle cx="273.6" cy="890.5" r="3.85" fill="#fbb296"/>
<circle cx="105.1" cy="896" r="3.85" fill="#fbb296"/>
<circle cx="144.6" cy="922.6" r="3.85" fill="#fbb296"/>
<circle cx="126.4" cy="833.2" r="3.85" fill="#fbb296"/>
<circle cx="175.3" cy="923" r="3.85" fill="#fbb296"/>
<circle cx="215" cy="826" r="3.85" fill="#fbb296"/>
<circle cx="185.8" cy="904.1" r="3.5" fill="#fff3ee"/>
<circle cx="143.6" cy="929.1" r="3.5" fill="#fff3ee"/>
<circle cx="151.2" cy="927.9" r="3.5" fill="#fff3ee"/>
<circle cx="199.4" cy="937" r="3.5" fill="#fff3ee"/>
<circle cx="211.2" cy="910.3" r="3.85" fill="#fbb296"/>
<circle cx="270.2" cy="913.4" r="3.85" fill="#fbb296"/>
<circle cx="153.1" cy="930.9" r="3.85" fill="#fbb296"/>
<circle cx="158.6" cy="868.7" r="3.5" fill="#fff3ee"/>
<circle cx="230.4" cy="900.6" r="3.5" fill="#fff3ee"/>
<circle cx="177" cy="908.5" r="3.85" fill="#fbb296"/>
<circle cx="201" cy="870.7" r="3.85" fill="#fbb296"/>
<circle cx="144.2" cy="923.9" r="3.85" fill="#fbb296"/>
<circle cx="124.9" cy="918.5" r="3.85" fill="#fbb296"/>
<circle cx="149.6" cy="936.1" r="3.5" fill="#fff3ee"/>
<circle cx="220.9" cy="894.8" r="3.85" fill="#fbb296"/>
<circle cx="175.3" cy="928.3" r="3.85" fill="#fbb296"/>
<circle cx="138.6" cy="944.3" r="3.5" fill="#fff3ee"/>
<circle cx="215.3" cy="920.7" r="3.5" fill="#fff3ee"/>
<circle cx="213" cy="888.7" r="4.3" fill="#ef4d35"/>
<circle cx="223" cy="858.5" r="3.85" fill="#fbb296"/>
<circle cx="232.2" cy="873.3" r="3.85" fill="#fbb296"/>
<circle cx="215.9" cy="876.3" r="3.85" fill="#fbb296"/>
<circle cx="177.8" cy="909.5" r="3.5" fill="#fff3ee"/>
<circle cx="219.3" cy="944.7" r="3.5" fill="#fff3ee"/>
<circle cx="143.7" cy="915.9" r="3.5" fill="#fff3ee"/>
<circle cx="145.9" cy="931.7" r="3.85" fill="#fbb296"/>
<circle cx="175.5" cy="848.1" r="4.3" fill="#ef4d35"/>
<circle cx="141.7" cy="901" r="3.85" fill="#fbb296"/>
<circle cx="237.8" cy="941.4" r="3.85" fill="#fbb296"/>
<circle cx="201.3" cy="913.1" r="3.5" fill="#fff3ee"/>
<circle cx="199.3" cy="887.4" r="3.85" fill="#fbb296"/>
<circle cx="274.9" cy="914.8" r="3.85" fill="#fbb296"/>
<circle cx="192.3" cy="947.7" r="3.5" fill="#fff3ee"/>
<circle cx="147.1" cy="972.8" r="3.5" fill="#fff3ee"/>
<circle cx="208.6" cy="890.4" r="3.85" fill="#fbb296"/>
<circle cx="177.1" cy="892.7" r="3.85" fill="#fbb296"/>
<circle cx="172.2" cy="929.7" r="3.85" fill="#fbb296"/>
<circle cx="237.4" cy="918.2" r="3.85" fill="#fbb296"/>
<circle cx="204.1" cy="853" r="4.3" fill="#ef4d35"/>
<circle cx="155.4" cy="923.7" r="3.85" fill="#fbb296"/>
<circle cx="181.1" cy="893.9" r="3.85" fill="#fbb296"/>
<circle cx="254" cy="969.3" r="3.85" fill="#fbb296"/>
<circle cx="178.6" cy="904.9" r="3.85" fill="#fbb296"/>
<circle cx="159.1" cy="935.5" r="3.85" fill="#fbb296"/>
<circle cx="232" cy="830" r="4.3" fill="#ef4d35"/>
<circle cx="149.8" cy="872.8" r="3.85" fill="#fbb296"/>
<circle cx="217" cy="901.2" r="3.85" fill="#fbb296"/>
<circle cx="209.3" cy="839.3" r="4.3" fill="#ef4d35"/>
<circle cx="173.7" cy="905.8" r="3.85" fill="#fbb296"/>
<circle cx="229.2" cy="874.3" r="3.5" fill="#fff3ee"/>
<circle cx="217" cy="919.7" r="3.85" fill="#fbb296"/>
<circle cx="126" cy="909.5" r="3.5" fill="#fff3ee"/>
<circle cx="228.1" cy="940.3" r="3.85" fill="#fbb296"/>
<circle cx="213.8" cy="853.5" r="4.3" fill="#ef4d35"/>
<circle cx="163.1" cy="911.8" r="3.5" fill="#fff3ee"/>
<circle cx="203" cy="885.6" r="3.5" fill="#fff3ee"/>
<circle cx="224" cy="962" r="3.5" fill="#fff3ee"/>
<circle cx="221.4" cy="929.7" r="3.85" fill="#fbb296"/>
<circle cx="219.1" cy="885.6" r="3.85" fill="#fbb296"/>
<circle cx="216.3" cy="866.6" r="3.85" fill="#fbb296"/>
<circle cx="153.9" cy="941.8" r="3.85" fill="#fbb296"/>
<circle cx="207.1" cy="867.8" r="3.85" fill="#fbb296"/>
<circle cx="217.1" cy="825.7" r="3.85" fill="#fbb296"/>
<circle cx="203.4" cy="913" r="3.5" fill="#fff3ee"/>
<circle cx="101.9" cy="874" r="4.3" fill="#ef4d35"/>
<circle cx="209" cy="862.6" r="3.85" fill="#fbb296"/>
<circle cx="179.9" cy="871.3" r="3.85" fill="#fbb296"/>
<circle cx="147.7" cy="904.4" r="3.85" fill="#fbb296"/>
<circle cx="226.9" cy="893.1" r="3.85" fill="#fbb296"/>
<circle cx="210" cy="937.9" r="3.85" fill="#fbb296"/>
<circle cx="236" cy="923.4" r="3.85" fill="#fbb296"/>
<circle cx="210.4" cy="907.6" r="3.5" fill="#fff3ee"/>
<circle cx="165.1" cy="868.5" r="3.85" fill="#fbb296"/>
<circle cx="186.2" cy="912.2" r="3.85" fill="#fbb296"/>
<circle cx="191.1" cy="945.1" r="3.5" fill="#fff3ee"/>
<circle cx="205.3" cy="849.4" r="4.3" fill="#ef4d35"/>
<circle cx="226.4" cy="850.5" r="4.3" fill="#ef4d35"/>
<circle cx="192.2" cy="861.9" r="3.85" fill="#fbb296"/>
<circle cx="270.9" cy="877" r="4.3" fill="#ef4d35"/>
<circle cx="199.4" cy="852.3" r="3.85" fill="#fbb296"/>
<circle cx="156.7" cy="929.2" r="3.5" fill="#fff3ee"/>
<circle cx="184" cy="804.4" r="4.3" fill="#ef4d35"/>
<circle cx="208.6" cy="896" r="3.5" fill="#fff3ee"/>
<circle cx="207.3" cy="969.6" r="3.85" fill="#fbb296"/>
<circle cx="84.6" cy="861.6" r="3.85" fill="#fbb296"/>
<circle cx="202.7" cy="892.2" r="3.5" fill="#fff3ee"/>
<circle cx="287.4" cy="924" r="3.85" fill="#fbb296"/>
<circle cx="132.6" cy="873.6" r="3.85" fill="#fbb296"/>
<circle cx="92.5" cy="925.4" r="3.5" fill="#fff3ee"/>
<circle cx="226.8" cy="929.9" r="3.85" fill="#fbb296"/>
<circle cx="194.8" cy="886.5" r="3.85" fill="#fbb296"/>
<circle cx="182.8" cy="905.8" r="3.5" fill="#fff3ee"/>
<circle cx="151.2" cy="920.7" r="3.85" fill="#fbb296"/>
<circle cx="154.3" cy="861.4" r="3.85" fill="#fbb296"/>
<circle cx="271.9" cy="947.7" r="3.85" fill="#fbb296"/>
<circle cx="180.5" cy="868.8" r="3.5" fill="#fff3ee"/>
<circle cx="183" cy="926.4" r="3.85" fill="#fbb296"/>
<circle cx="181.6" cy="918.2" r="3.5" fill="#fff3ee"/>
<circle cx="214.8" cy="932.1" r="3.85" fill="#fbb296"/>
<circle cx="118.4" cy="925.7" r="3.85" fill="#fbb296"/>
<circle cx="194.6" cy="951.9" r="3.5" fill="#fff3ee"/>
<circle cx="168.3" cy="889" r="3.85" fill="#fbb296"/>
<circle cx="212" cy="925.2" r="3.5" fill="#fff3ee"/>
<circle cx="158.9" cy="858.3" r="3.85" fill="#fbb296"/>
<circle cx="162.2" cy="892.4" r="3.85" fill="#fbb296"/>
<circle cx="141.7" cy="895.5" r="3.5" fill="#fff3ee"/>
<circle cx="199.2" cy="971.7" r="3.85" fill="#fbb296"/>
<circle cx="218.4" cy="909.4" r="3.85" fill="#fbb296"/>
<circle cx="247" cy="930.8" r="3.5" fill="#fff3ee"/>
<circle cx="135.9" cy="951.8" r="3.85" fill="#fbb296"/>
<circle cx="251.1" cy="903.8" r="3.85" fill="#fbb296"/>
<circle cx="251.3" cy="919.2" r="4.3" fill="#ef4d35"/>
<circle cx="194.8" cy="909.4" r="3.5" fill="#fff3ee"/>
<circle cx="113.6" cy="873.1" r="4.3" fill="#ef4d35"/>
<circle cx="267.2" cy="944.8" r="3.5" fill="#fff3ee"/>
<circle cx="174.2" cy="960.4" r="3.5" fill="#fff3ee"/>
<circle cx="246.2" cy="887.9" r="3.85" fill="#fbb296"/>
<circle cx="196.1" cy="925" r="3.85" fill="#fbb296"/>
<circle cx="177.6" cy="947" r="3.85" fill="#fbb296"/>
<circle cx="198.6" cy="870.8" r="3.5" fill="#fff3ee"/>
<circle cx="206.5" cy="908.1" r="3.85" fill="#fbb296"/>
<circle cx="195.6" cy="902" r="3.85" fill="#fbb296"/>
<circle cx="150.9" cy="919.2" r="3.5" fill="#fff3ee"/>
<circle cx="140.2" cy="882.9" r="3.85" fill="#fbb296"/>
<circle cx="271.9" cy="870.7" r="4.3" fill="#ef4d35"/>
<circle cx="155.3" cy="897.8" r="3.5" fill="#fff3ee"/>
<circle cx="123" cy="932.4" r="3.85" fill="#fbb296"/>
<circle cx="229" cy="949.1" r="3.5" fill="#fff3ee"/>
<circle cx="236.2" cy="881.5" r="3.85" fill="#fbb296"/>
<circle cx="217.8" cy="866.2" r="4.3" fill="#ef4d35"/>
<circle cx="188.7" cy="934.1" r="3.5" fill="#fff3ee"/>
<circle cx="238.4" cy="879.8" r="4.3" fill="#ef4d35"/>
<circle cx="172.1" cy="918.7" r="3.5" fill="#fff3ee"/>
<circle cx="256.9" cy="920.7" r="3.85" fill="#fbb296"/>
<circle cx="176.1" cy="885.3" r="3.5" fill="#fff3ee"/>
<circle cx="211.5" cy="932.1" r="3.85" fill="#fbb296"/>
<circle cx="188.1" cy="964.1" r="3.5" fill="#fff3ee"/>
<circle cx="169.7" cy="925" r="3.5" fill="#fff3ee"/>
<circle cx="207.3" cy="897.8" r="3.5" fill="#fff3ee"/>
<circle cx="127.7" cy="932.9" r="3.5" fill="#fff3ee"/>
<circle cx="266.7" cy="864.4" r="3.85" fill="#fbb296"/>
<circle cx="192.5" cy="939.5" r="3.5" fill="#fff3ee"/>
<circle cx="191.6" cy="865.3" r="3.85" fill="#fbb296"/>
<circle cx="150.5" cy="878.7" r="3.5" fill="#fff3ee"/>
<circle cx="230.7" cy="873.1" r="4.3" fill="#ef4d35"/>
<circle cx="214.6" cy="929.4" r="3.85" fill="#fbb296"/>
<circle cx="174.1" cy="926.4" r="3.85" fill="#fbb296"/>
<circle cx="177.9" cy="935.9" r="3.5" fill="#fff3ee"/>
<circle cx="241.7" cy="927.9" r="3.85" fill="#fbb296"/>
<circle cx="147.5" cy="912" r="3.85" fill="#fbb296"/>
<circle cx="209" cy="856" r="3.85" fill="#fbb296"/>
<circle cx="186" cy="869.3" r="3.85" fill="#fbb296"/>
<circle cx="185.7" cy="879.5" r="3.85" fill="#fbb296"/>
<circle cx="200.1" cy="937.4" r="3.5" fill="#fff3ee"/>
<circle cx="197.3" cy="898.8" r="3.85" fill="#fbb296"/>
<circle cx="119.7" cy="874.3" r="3.85" fill="#fbb296"/>
<circle cx="159.3" cy="893.3" r="3.85" fill="#fbb296"/>
<circle cx="211.6" cy="913.5" r="3.85" fill="#fbb296"/>
<circle cx="165.5" cy="901.2" r="3.85" fill="#fbb296"/>
<circle cx="187.8" cy="876.9" r="3.5" fill="#fff3ee"/>
<circle cx="239.2" cy="870.6" r="4.3" fill="#ef4d35"/>
<circle cx="150.4" cy="915.6" r="3.85" fill="#fbb296"/>
<circle cx="128" cy="835" r="4.3" fill="#ef4d35"/>
<circle cx="225.6" cy="900.2" r="3.85" fill="#fbb296"/>
<circle cx="145.3" cy="891.8" r="3.85" fill="#fbb296"/>
<circle cx="161.8" cy="962.1" r="3.5" fill="#fff3ee"/>
<circle cx="221.8" cy="936" r="3.5" fill="#fff3ee"/>
<circle cx="228.3" cy="900.6" r="3.85" fill="#fbb296"/>
<circle cx="260.9" cy="905.7" r="3.5" fill="#fff3ee"/>
<circle cx="215.8" cy="902.2" r="3.85" fill="#fbb296"/>
<circle cx="213.1" cy="916.8" r="3.85" fill="#fbb296"/>
<circle cx="220.9" cy="864.6" r="4.3" fill="#ef4d35"/>
<circle cx="165" cy="857.9" r="4.3" fill="#ef4d35"/>
<circle cx="260.6" cy="886.4" r="3.85" fill="#fbb296"/>
<circle cx="186.5" cy="893.5" r="3.85" fill="#fbb296"/>
<circle cx="173.9" cy="910.2" r="3.5" fill="#fff3ee"/>
<circle cx="249.1" cy="897.2" r="3.85" fill="#fbb296"/>
<circle cx="191.4" cy="886.4" r="4.3" fill="#ef4d35"/>
<circle cx="151.5" cy="929.8" r="3.5" fill="#fff3ee"/>
<circle cx="166.7" cy="819.3" r="4.3" fill="#ef4d35"/>
<circle cx="174.2" cy="898.8" r="3.85" fill="#fbb296"/>
<circle cx="176.2" cy="896.5" r="3.5" fill="#fff3ee"/>
<circle cx="251.1" cy="898.8" r="3.85" fill="#fbb296"/>
<circle cx="210" cy="834" r="4.3" fill="#ef4d35"/>
<circle cx="217.3" cy="928.2" r="3.85" fill="#fbb296"/>
<circle cx="222.4" cy="905" r="3.5" fill="#fff3ee"/>
<circle cx="211.9" cy="926.4" r="3.85" fill="#fbb296"/>
<circle cx="124.1" cy="937" r="3.85" fill="#fbb296"/>
<circle cx="159.7" cy="948.8" r="3.5" fill="#fff3ee"/>
<circle cx="183.6" cy="942.4" r="3.5" fill="#fff3ee"/>
<circle cx="143" cy="865.7" r="3.85" fill="#fbb296"/>
<circle cx="196.4" cy="888.6" r="3.85" fill="#fbb296"/>
<circle cx="157.4" cy="928.6" r="3.85" fill="#fbb296"/>
<circle cx="209.3" cy="889.6" r="3.85" fill="#fbb296"/>
<circle cx="187" cy="916.4" r="3.5" fill="#fff3ee"/>
<circle cx="139.6" cy="904.8" r="3.5" fill="#fff3ee"/>
<circle cx="203.3" cy="900.8" r="3.85" fill="#fbb296"/>
<circle cx="134.8" cy="844" r="3.85" fill="#fbb296"/>
<circle cx="198" cy="934.6" r="3.5" fill="#fff3ee"/>
<circle cx="177.6" cy="924.8" r="3.5" fill="#fff3ee"/>
<circle cx="179.9" cy="904.4" r="3.85" fill="#fbb296"/>
<circle cx="209" cy="905.8" r="3.85" fill="#fbb296"/>
<circle cx="219.5" cy="960.3" r="3.5" fill="#fff3ee"/>
<circle cx="234" cy="925.4" r="3.85" fill="#fbb296"/>
<circle cx="209.3" cy="909.5" r="3.85" fill="#fbb296"/>
<circle cx="202.8" cy="878.5" r="3.85" fill="#fbb296"/>
<circle cx="216.3" cy="904.3" r="3.5" fill="#fff3ee"/>
<circle cx="177.7" cy="910.8" r="3.85" fill="#fbb296"/>
<circle cx="124.2" cy="936.7" r="3.5" fill="#fff3ee"/>
<circle cx="217.1" cy="849.9" r="4.3" fill="#ef4d35"/>
<circle cx="212.6" cy="952.1" r="3.5" fill="#fff3ee"/>
<circle cx="104.8" cy="897" r="3.5" fill="#fff3ee"/>
<circle cx="191" cy="932.6" r="3.85" fill="#fbb296"/>
<circle cx="229.1" cy="845.2" r="4.3" fill="#ef4d35"/>
<circle cx="200.2" cy="860.9" r="3.85" fill="#fbb296"/>
<circle cx="142.6" cy="869.7" r="3.85" fill="#fbb296"/>
<circle cx="218.8" cy="882.8" r="3.85" fill="#fbb296"/>
<circle cx="206.8" cy="947.1" r="3.85" fill="#fbb296"/>
<circle cx="262.8" cy="851.6" r="3.85" fill="#fbb296"/>
<circle cx="159.9" cy="855.2" r="4.3" fill="#ef4d35"/>
<circle cx="172.7" cy="906.6" r="3.85" fill="#fbb296"/>
<circle cx="155.3" cy="861.3" r="3.85" fill="#fbb296"/>
<circle cx="133" cy="939.2" r="3.5" fill="#fff3ee"/>
<circle cx="209.3" cy="896.6" r="3.5" fill="#fff3ee"/>
<circle cx="165.4" cy="923.8" r="3.5" fill="#fff3ee"/>
<circle cx="246.4" cy="909.6" r="3.85" fill="#fbb296"/>
<circle cx="196.2" cy="949.1" r="3.5" fill="#fff3ee"/>
<circle cx="207.1" cy="896" r="3.85" fill="#fbb296"/>
<circle cx="221.3" cy="860.1" r="4.3" fill="#ef4d35"/>
<circle cx="249.6" cy="893.6" r="3.85" fill="#fbb296"/>
<circle cx="200.6" cy="863.9" r="3.85" fill="#fbb296"/>
<circle cx="146" cy="894.8" r="3.5" fill="#fff3ee"/>
<circle cx="162.1" cy="898.5" r="3.5" fill="#fff3ee"/>
<circle cx="186.5" cy="941.9" r="3.5" fill="#fff3ee"/>
<circle cx="164.4" cy="962" r="3.5" fill="#fff3ee"/>
<circle cx="208" cy="920.7" r="3.85" fill="#fbb296"/>
<circle cx="209.5" cy="914.2" r="3.5" fill="#fff3ee"/>
<circle cx="219.2" cy="849.3" r="3.85" fill="#fbb296"/>
<circle cx="126.9" cy="943" r="3.85" fill="#fbb296"/>
<circle cx="160.6" cy="935.1" r="3.5" fill="#fff3ee"/>
<circle cx="249.4" cy="925.2" r="3.5" fill="#fff3ee"/>
<circle cx="144.8" cy="846.6" r="3.85" fill="#fbb296"/>
<circle cx="138.3" cy="921.1" r="3.85" fill="#fbb296"/>
<circle cx="192.8" cy="961.5" r="3.5" fill="#fff3ee"/>
<circle cx="71.1" cy="916.4" r="3.5" fill="#fff3ee"/>
<circle cx="164.5" cy="904.8" r="3.5" fill="#fff3ee"/>
<circle cx="173.7" cy="885.3" r="3.85" fill="#fbb296"/>
<circle cx="165.3" cy="869.9" r="3.85" fill="#fbb296"/>
<circle cx="177.6" cy="878.2" r="3.85" fill="#fbb296"/>
<circle cx="212.4" cy="903.2" r="3.85" fill="#fbb296"/>
<circle cx="164.1" cy="953.2" r="3.5" fill="#fff3ee"/>
<circle cx="177.6" cy="910.1" r="3.5" fill="#fff3ee"/>
<circle cx="155.6" cy="898.9" r="3.5" fill="#fff3ee"/>
<circle cx="188.7" cy="953.1" r="3.5" fill="#fff3ee"/>
<circle cx="155.6" cy="898" r="3.5" fill="#fff3ee"/>
<circle cx="211.1" cy="866.3" r="4.3" fill="#ef4d35"/>
<circle cx="216.2" cy="878.7" r="4.3" fill="#ef4d35"/>
<circle cx="275.1" cy="936.7" r="3.5" fill="#fff3ee"/>
<circle cx="206.7" cy="931.2" r="3.85" fill="#fbb296"/>
<circle cx="200.6" cy="881.6" r="3.85" fill="#fbb296"/>
<circle cx="158.2" cy="899.3" r="3.5" fill="#fff3ee"/>
<circle cx="193.8" cy="918.8" r="3.85" fill="#fbb296"/>
<circle cx="161.2" cy="860.4" r="3.85" fill="#fbb296"/>
<circle cx="206.7" cy="880.9" r="4.3" fill="#ef4d35"/>
<circle cx="99.3" cy="887.9" r="3.85" fill="#fbb296"/>
<circle cx="170.7" cy="901" r="3.5" fill="#fff3ee"/>
<circle cx="125.8" cy="908.2" r="3.5" fill="#fff3ee"/>
<circle cx="205.8" cy="899.3" r="3.5" fill="#fff3ee"/>
<circle cx="216.3" cy="920.2" r="3.5" fill="#fff3ee"/>
<circle cx="164.7" cy="891.4" r="3.5" fill="#fff3ee"/>
<circle cx="170.7" cy="873.3" r="3.5" fill="#fff3ee"/>
<circle cx="206.3" cy="923.3" r="3.5" fill="#fff3ee"/>
<circle cx="194.2" cy="862" r="3.5" fill="#fff3ee"/>
<circle cx="270.5" cy="915.2" r="3.85" fill="#fbb296"/>
<circle cx="179.1" cy="811.9" r="4.9" fill="#6b0914"/>
<circle cx="180.9" cy="816" r="4.9" fill="#6b0914"/>
<circle cx="194.2" cy="824.1" r="4.9" fill="#6b0914"/>
<circle cx="210" cy="804.8" r="4.9" fill="#6b0914"/>
<circle cx="226.8" cy="816.8" r="4.9" fill="#6b0914"/>
<circle cx="219.4" cy="832.9" r="4.9" fill="#6b0914"/>
<circle cx="255.2" cy="803.8" r="4.9" fill="#6b0914"/>
<circle cx="245.7" cy="853.9" r="4.9" fill="#6b0914"/>
</g>
<text x="0" y="418" font-size="26" font-weight="bold" fill="#000" stroke="#000" stroke-width="0.7">b</text>
<line x1="61" y1="426.3" x2="61" y2="660.1" stroke="#2a2a2a" stroke-width="1"/>
<line x1="60.5" y1="659.6" x2="295.3" y2="659.6" stroke="#2a2a2a" stroke-width="1"/>
<line x1="52.5" y1="447.9" x2="61" y2="447.9" stroke="#333" stroke-width="1"/>
<text x="45" y="453.2" font-size="16.5" text-anchor="end">4</text>
<line x1="52.5" y1="509.1" x2="61" y2="509.1" stroke="#333" stroke-width="1"/>
<text x="45" y="514.4" font-size="16.5" text-anchor="end">2</text>
<line x1="52.5" y1="570.4" x2="61" y2="570.4" stroke="#333" stroke-width="1"/>
<text x="45" y="575.7" font-size="16.5" text-anchor="end">0</text>
<line x1="52.5" y1="631.6" x2="61" y2="631.6" stroke="#333" stroke-width="1"/>
<text x="45" y="636.9" font-size="16.5" text-anchor="end">2</text>
<line x1="29.3" y1="630.9" x2="36.2" y2="630.9" stroke="#222" stroke-width="1.4"/>
<line x1="67.5" y1="659.6" x2="67.5" y2="668.1" stroke="#333" stroke-width="1"/>
<text x="67.5" y="687.8" font-size="16.5" text-anchor="middle" textLength="20.8" lengthAdjust="spacingAndGlyphs">2.5</text>
<line x1="136.9" y1="659.6" x2="136.9" y2="668.1" stroke="#333" stroke-width="1"/>
<text x="136.9" y="687.8" font-size="16.5" text-anchor="middle" textLength="22.6" lengthAdjust="spacingAndGlyphs">3.0</text>
<line x1="206.2" y1="659.6" x2="206.2" y2="668.1" stroke="#333" stroke-width="1"/>
<text x="206.2" y="687.8" font-size="16.5" text-anchor="middle" textLength="21" lengthAdjust="spacingAndGlyphs">3.5</text>
<line x1="275.5" y1="659.6" x2="275.5" y2="668.1" stroke="#333" stroke-width="1"/>
<text x="275.5" y="687.8" font-size="16.5" text-anchor="middle" textLength="22.9" lengthAdjust="spacingAndGlyphs">4.0</text>
<text id="xlfL" x="144.6" y="714.6" font-size="18" textLength="66.8" lengthAdjust="spacingAndGlyphs">CSF NfL</text>
<text id="ylfL" x="16.1" y="544" font-size="17.2" text-anchor="middle" transform="rotate(-90 16.1 544)" textLength="136" lengthAdjust="spacingAndGlyphs">YWHAG.1:NPTX2</text>
<text id="srfL" x="245.4" y="435.7" font-size="15.5" textLength="50.9" lengthAdjust="spacingAndGlyphs"><tspan font-style="italic">r</tspan> = 0.41</text>
<text id="spfL" x="208.1" y="453.9" font-size="15.5" textLength="81" lengthAdjust="spacingAndGlyphs"><tspan font-style="italic">P</tspan> = 1.16 &#215; 10</text>
<text id="sefL" x="289.3" y="447.3" font-size="10.5" textLength="13" lengthAdjust="spacingAndGlyphs">&#8722;61</text>
<text x="340" y="418.5" font-size="26" font-weight="bold" fill="#000" stroke="#000" stroke-width="0.7">c</text>
<line x1="409.3" y1="426.3" x2="409.3" y2="660.1" stroke="#2a2a2a" stroke-width="1"/>
<line x1="408.8" y1="659.6" x2="644" y2="659.6" stroke="#2a2a2a" stroke-width="1"/>
<line x1="400.8" y1="447.9" x2="409.3" y2="447.9" stroke="#333" stroke-width="1"/>
<text x="393.3" y="453.2" font-size="16.5" text-anchor="end">4</text>
<line x1="400.8" y1="509.1" x2="409.3" y2="509.1" stroke="#333" stroke-width="1"/>
<text x="393.3" y="514.4" font-size="16.5" text-anchor="end">2</text>
<line x1="400.8" y1="570.4" x2="409.3" y2="570.4" stroke="#333" stroke-width="1"/>
<text x="393.3" y="575.7" font-size="16.5" text-anchor="end">0</text>
<line x1="400.8" y1="631.6" x2="409.3" y2="631.6" stroke="#333" stroke-width="1"/>
<text x="393.3" y="636.9" font-size="16.5" text-anchor="end">2</text>
<line x1="377.6" y1="630.9" x2="384.5" y2="630.9" stroke="#222" stroke-width="1.4"/>
<line x1="456.2" y1="659.6" x2="456.2" y2="668.1" stroke="#333" stroke-width="1"/>
<text x="456.2" y="687.8" font-size="16.5" text-anchor="middle" textLength="32.5" lengthAdjust="spacingAndGlyphs">3.00</text>
<line x1="513.9" y1="659.6" x2="513.9" y2="668.1" stroke="#333" stroke-width="1"/>
<text x="513.9" y="687.8" font-size="16.5" text-anchor="middle" textLength="29.3" lengthAdjust="spacingAndGlyphs">3.25</text>
<line x1="570.8" y1="659.6" x2="570.8" y2="668.1" stroke="#333" stroke-width="1"/>
<text x="570.8" y="687.8" font-size="16.5" text-anchor="middle" textLength="30.9" lengthAdjust="spacingAndGlyphs">3.50</text>
<line x1="627.7" y1="659.6" x2="627.7" y2="668.1" stroke="#333" stroke-width="1"/>
<text x="627.7" y="687.8" font-size="16.5" text-anchor="middle" textLength="28.6" lengthAdjust="spacingAndGlyphs">3.75</text>
<text id="xl43" x="474.9" y="714.4" font-size="18" textLength="102.4" lengthAdjust="spacingAndGlyphs">CSF GAP-43</text>
<text id="yl43" x="365" y="544" font-size="17.2" text-anchor="middle" transform="rotate(-90 365 544)" textLength="136" lengthAdjust="spacingAndGlyphs">YWHAG.1:NPTX2</text>
<text id="sr43" x="588.5" y="435.7" font-size="15.5" textLength="61.3" lengthAdjust="spacingAndGlyphs"><tspan font-style="italic">r</tspan> = &#8722;0.07</text>
<text id="sp43" x="556.2" y="453.9" font-size="15.5" textLength="81.9" lengthAdjust="spacingAndGlyphs"><tspan font-style="italic">P</tspan> = 1.05 &#215; 10</text>
<text id="se43" x="638.3" y="447.3" font-size="10.5" textLength="11.9" lengthAdjust="spacingAndGlyphs">&#8722;2</text>
<text x="0" y="758.7" font-size="26" font-weight="bold" fill="#000" stroke="#000" stroke-width="0.7">d</text>
<line x1="61" y1="766.3" x2="61" y2="998.8" stroke="#2a2a2a" stroke-width="1"/>
<line x1="60.5" y1="998.3" x2="294.8" y2="998.3" stroke="#2a2a2a" stroke-width="1"/>
<line x1="52.5" y1="786.7" x2="61" y2="786.7" stroke="#333" stroke-width="1"/>
<text x="45" y="792" font-size="16.5" text-anchor="end">4</text>
<line x1="52.5" y1="848" x2="61" y2="848" stroke="#333" stroke-width="1"/>
<text x="45" y="853.2" font-size="16.5" text-anchor="end">2</text>
<line x1="52.5" y1="909.2" x2="61" y2="909.2" stroke="#333" stroke-width="1"/>
<text x="45" y="914.5" font-size="16.5" text-anchor="end">0</text>
<line x1="52.5" y1="970.5" x2="61" y2="970.5" stroke="#333" stroke-width="1"/>
<text x="45" y="975.8" font-size="16.5" text-anchor="end">2</text>
<line x1="29.3" y1="969.7" x2="36.2" y2="969.7" stroke="#222" stroke-width="1.4"/>
<line x1="84.9" y1="998.3" x2="84.9" y2="1006.8" stroke="#333" stroke-width="1"/>
<text x="84.9" y="1026.5" font-size="16.5" text-anchor="middle" textLength="28.6" lengthAdjust="spacingAndGlyphs">3.75</text>
<line x1="131.6" y1="998.3" x2="131.6" y2="1006.8" stroke="#333" stroke-width="1"/>
<text x="131.6" y="1026.5" font-size="16.5" text-anchor="middle" textLength="32.8" lengthAdjust="spacingAndGlyphs">4.00</text>
<line x1="178.3" y1="998.3" x2="178.3" y2="1006.8" stroke="#333" stroke-width="1"/>
<text x="178.3" y="1026.5" font-size="16.5" text-anchor="middle" textLength="29.6" lengthAdjust="spacingAndGlyphs">4.25</text>
<line x1="225.3" y1="998.3" x2="225.3" y2="1006.8" stroke="#333" stroke-width="1"/>
<text x="225.3" y="1026.5" font-size="16.5" text-anchor="middle" textLength="31.2" lengthAdjust="spacingAndGlyphs">4.50</text>
<line x1="272" y1="998.3" x2="272" y2="1006.8" stroke="#333" stroke-width="1"/>
<text x="272" y="1026.5" font-size="16.5" text-anchor="middle" textLength="28.9" lengthAdjust="spacingAndGlyphs">4.75</text>
<text id="xlNg" x="146.4" y="1051.9" font-size="18" textLength="61.4" lengthAdjust="spacingAndGlyphs">CSF Ng</text>
<text id="ylNg" x="16.1" y="882.5" font-size="17.2" text-anchor="middle" transform="rotate(-90 16.1 882.5)" textLength="136" lengthAdjust="spacingAndGlyphs">YWHAG.1:NPTX2</text>
<text id="srNg" x="239.3" y="775.7" font-size="15.5" textLength="62.7" lengthAdjust="spacingAndGlyphs"><tspan font-style="italic">r</tspan> = &#8722;0.09</text>
<text id="spNg" x="207.6" y="793.2" font-size="15.5" textLength="84.6" lengthAdjust="spacingAndGlyphs"><tspan font-style="italic">P</tspan> = 9.76 &#215; 10</text>
<text id="seNg" x="292.4" y="786.6" font-size="10.5" textLength="11.7" lengthAdjust="spacingAndGlyphs">&#8722;4</text>
<text x="339.5" y="758.6" font-size="26" font-weight="bold" fill="#000" stroke="#000" stroke-width="0.7">e</text>
<line x1="408.5" y1="765" x2="408.5" y2="995" stroke="#333" stroke-width="1"/>
<line x1="408.5" y1="994.5" x2="640" y2="994.5" stroke="#333" stroke-width="1"/>
<line x1="400.5" y1="994.5" x2="408.5" y2="994.5" stroke="#333" stroke-width="1"/>
<text id="et0" x="392.7" y="999.4" font-size="14.5" text-anchor="end">0</text>
<line x1="400.5" y1="936.7" x2="408.5" y2="936.7" stroke="#333" stroke-width="1"/>
<text id="et01" x="392.7" y="941.6" font-size="14.5" text-anchor="end" textLength="23.4" lengthAdjust="spacingAndGlyphs">0.1</text>
<line x1="400.5" y1="879.2" x2="408.5" y2="879.2" stroke="#333" stroke-width="1"/>
<text id="et02" x="392.7" y="884.1" font-size="14.5" text-anchor="end" textLength="23.4" lengthAdjust="spacingAndGlyphs">0.2</text>
<line x1="400.5" y1="821.4" x2="408.5" y2="821.4" stroke="#333" stroke-width="1"/>
<text id="et03" x="392.7" y="826.3" font-size="14.5" text-anchor="end" textLength="23.4" lengthAdjust="spacingAndGlyphs">0.3</text>
<text id="er" x="353.7" y="886" font-size="18" transform="rotate(-90 353.7 886)" font-style="italic">r</text>
<text id="er2" x="346.2" y="882" font-size="13" transform="rotate(-90 346.2 882)">2</text>
<text id="eat" x="436.2" y="768.8" font-size="15" textLength="26.6" lengthAdjust="spacingAndGlyphs">A+T</text>
<text id="eat1" x="462" y="773.2" font-size="9.5">1</text>
<text id="eas" x="465.8" y="768.8" font-size="15" textLength="57.6" lengthAdjust="spacingAndGlyphs">+ subset</text>
<rect x="418.9" y="977.3" width="23" height="17.2" fill="#587270" stroke="#2a3535" stroke-width="1"/>
<rect x="456.3" y="990.3" width="23" height="4.2" fill="#587270" stroke="#2a3535" stroke-width="1"/>
<rect x="493.9" y="988.6" width="23" height="5.9" fill="#587270" stroke="#2a3535" stroke-width="1"/>
<rect x="531.2" y="964.4" width="23" height="30.1" fill="#587270" stroke="#2a3535" stroke-width="1"/>
<rect x="568.7" y="812.9" width="23" height="181.6" fill="#587270" stroke="#2a3535" stroke-width="1"/>
<rect x="606.2" y="804.8" width="23" height="189.7" fill="#587270" stroke="#2a3535" stroke-width="1"/>
<line x1="430.4" y1="967.4" x2="430.4" y2="986.4" stroke="#222" stroke-width="1.1"/>
<line x1="427.6" y1="967.4" x2="433.2" y2="967.4" stroke="#222" stroke-width="1"/>
<line x1="427.6" y1="986.4" x2="433.2" y2="986.4" stroke="#222" stroke-width="1"/>
<line x1="430.4" y1="994.5" x2="430.4" y2="1002.5" stroke="#333" stroke-width="1"/>
<line x1="467.8" y1="983.4" x2="467.8" y2="994" stroke="#222" stroke-width="1.1"/>
<line x1="465" y1="983.4" x2="470.6" y2="983.4" stroke="#222" stroke-width="1"/>
<line x1="467.8" y1="994.5" x2="467.8" y2="1002.5" stroke="#333" stroke-width="1"/>
<line x1="505.4" y1="981.1" x2="505.4" y2="994" stroke="#222" stroke-width="1.1"/>
<line x1="502.6" y1="981.1" x2="508.2" y2="981.1" stroke="#222" stroke-width="1"/>
<line x1="505.4" y1="994.5" x2="505.4" y2="1002.5" stroke="#333" stroke-width="1"/>
<line x1="542.7" y1="950.6" x2="542.7" y2="976.3" stroke="#222" stroke-width="1.1"/>
<line x1="539.9" y1="950.6" x2="545.5" y2="950.6" stroke="#222" stroke-width="1"/>
<line x1="539.9" y1="976.3" x2="545.5" y2="976.3" stroke="#222" stroke-width="1"/>
<line x1="542.7" y1="994.5" x2="542.7" y2="1002.5" stroke="#333" stroke-width="1"/>
<line x1="580.2" y1="785.6" x2="580.2" y2="840.2" stroke="#222" stroke-width="1.1"/>
<line x1="577.4" y1="785.6" x2="583" y2="785.6" stroke="#222" stroke-width="1"/>
<line x1="577.4" y1="840.2" x2="583" y2="840.2" stroke="#222" stroke-width="1"/>
<line x1="580.2" y1="994.5" x2="580.2" y2="1002.5" stroke="#333" stroke-width="1"/>
<line x1="617.7" y1="776.4" x2="617.7" y2="833.4" stroke="#222" stroke-width="1.1"/>
<line x1="614.9" y1="776.4" x2="620.5" y2="776.4" stroke="#222" stroke-width="1"/>
<line x1="614.9" y1="833.4" x2="620.5" y2="833.4" stroke="#222" stroke-width="1"/>
<line x1="617.7" y1="994.5" x2="617.7" y2="1002.5" stroke="#333" stroke-width="1"/>
<line x1="541" y1="774.5" x2="581.6" y2="774.5" stroke="#222" stroke-width="1"/>
<text x="561.5" y="777" font-size="24" text-anchor="middle">***</text>
<line x1="578.9" y1="762.5" x2="619.4" y2="762.5" stroke="#222" stroke-width="1"/>
<text x="599" y="765" font-size="24" text-anchor="middle">***</text>
<polyline points="636.4,804.5 645.5,804.5 645.5,964.5 636.4,964.5" fill="none" stroke="#222" stroke-width="1"/>
<text id="e28" x="653.8" y="895.2" font-size="15" textLength="31" lengthAdjust="spacingAndGlyphs">0.28</text>
<text id="el0" x="432.9" y="1016.5" font-size="17.5" text-anchor="end" transform="rotate(-45 432.9 1016.5)">NfL</text>
<text id="el1" x="474.8" y="1018" font-size="17.5" text-anchor="end" transform="rotate(-45 474.8 1018)">GAP-43</text>
<text id="el2" x="508.9" y="1017.5" font-size="17.5" text-anchor="end" transform="rotate(-45 508.9 1017.5)">Ng</text>
<text id="el3" x="547.7" y="1018" font-size="17.8" text-anchor="end" transform="rotate(-45 547.7 1018)">NfL, GAP-43, Ng</text>
<text id="el4" x="586.2" y="1018.5" font-size="16.3" text-anchor="end" transform="rotate(-45 586.2 1018.5)">YWHAG.1:NPTX2</text>
<text id="el5" x="626.7" y="1014.5" font-size="16.6" text-anchor="end" transform="rotate(-45 626.7 1014.5)">NfL, GAP-43, Ng,</text>
<text id="el5b" x="641.4" y="1030.5" font-size="16.45" text-anchor="end" transform="rotate(-45 641.4 1030.5)">YWHAG.1:NPTX2</text>
</svg></body></html>
